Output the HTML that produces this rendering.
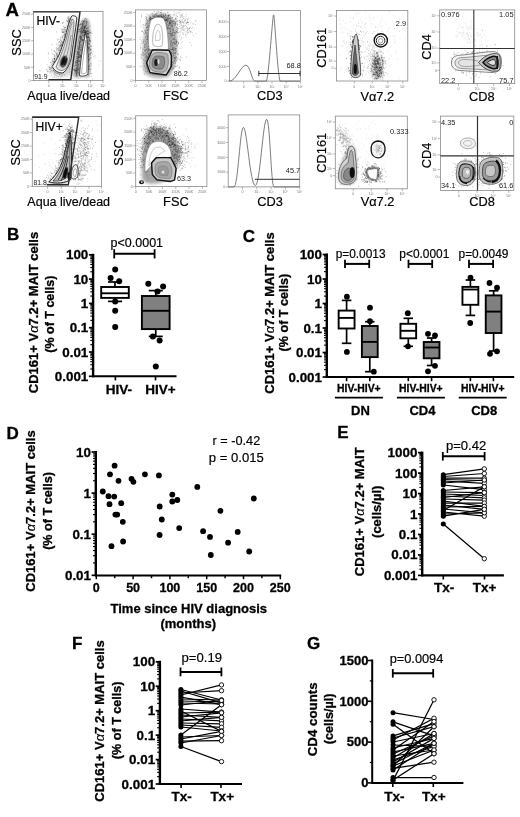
<!DOCTYPE html>
<html><head><meta charset="utf-8"><style>
html,body{margin:0;padding:0;background:#fff;}
body{width:520px;height:817px;overflow:hidden;}
svg{display:block;filter:blur(0.35px);font-family:"Liberation Sans",sans-serif;}
</style></head><body>
<svg width="520" height="817" viewBox="0 0 520 817">
<defs><filter id="b0" x="-60%" y="-60%" width="220%" height="220%"><feGaussianBlur stdDeviation="0.6"/></filter><filter id="b1" x="-60%" y="-60%" width="220%" height="220%"><feGaussianBlur stdDeviation="1.0"/></filter><filter id="b2" x="-60%" y="-60%" width="220%" height="220%"><feGaussianBlur stdDeviation="1.5"/></filter><filter id="b3" x="-60%" y="-60%" width="220%" height="220%"><feGaussianBlur stdDeviation="2.0"/></filter><filter id="b4" x="-60%" y="-60%" width="220%" height="220%"><feGaussianBlur stdDeviation="3.0"/></filter></defs>
<rect width="520" height="817" fill="#fff"/>
<text x="5.6" y="15.9" font-size="18.6" font-weight="bold" text-anchor="start" fill="#000"  stroke="#000" stroke-width="0.3">A</text>
<rect x="33.4" y="11.5" width="69.6" height="69.1" fill="none" stroke="#8a8a8a" stroke-width="0.8" />
<line x1="30.9" y1="14.099999999999994" x2="33.4" y2="14.099999999999994" stroke="#888" stroke-width="0.6" />
<line x1="30.9" y1="27.39999999999999" x2="33.4" y2="27.39999999999999" stroke="#888" stroke-width="0.6" />
<line x1="30.9" y1="40.69999999999999" x2="33.4" y2="40.69999999999999" stroke="#888" stroke-width="0.6" />
<line x1="30.9" y1="53.99999999999999" x2="33.4" y2="53.99999999999999" stroke="#888" stroke-width="0.6" />
<line x1="30.9" y1="67.3" x2="33.4" y2="67.3" stroke="#888" stroke-width="0.6" />
<line x1="30.9" y1="80.6" x2="33.4" y2="80.6" stroke="#888" stroke-width="0.6" />
<text x="30.4" y="15.299999999999994" font-size="3.6" font-weight="normal" text-anchor="end" fill="#777" >250K</text>
<text x="30.4" y="28.59999999999999" font-size="3.6" font-weight="normal" text-anchor="end" fill="#777" >200K</text>
<text x="30.4" y="41.89999999999999" font-size="3.6" font-weight="normal" text-anchor="end" fill="#777" >150K</text>
<text x="30.4" y="55.199999999999996" font-size="3.6" font-weight="normal" text-anchor="end" fill="#777" >100K</text>
<text x="30.4" y="68.5" font-size="3.6" font-weight="normal" text-anchor="end" fill="#777" >50K</text>
<text x="30.4" y="81.8" font-size="3.6" font-weight="normal" text-anchor="end" fill="#777" >0</text>
<line x1="48.711999999999996" y1="80.6" x2="48.711999999999996" y2="83.1" stroke="#888" stroke-width="0.6" />
<text x="48.711999999999996" y="87.1" font-size="3.6" font-weight="normal" text-anchor="middle" fill="#777" >0</text>
<line x1="62.63199999999999" y1="80.6" x2="62.63199999999999" y2="83.1" stroke="#888" stroke-width="0.6" />
<text x="62.63199999999999" y="87.1" font-size="3.6" font-weight="normal" text-anchor="middle" fill="#777" >10³</text>
<line x1="76.55199999999999" y1="80.6" x2="76.55199999999999" y2="83.1" stroke="#888" stroke-width="0.6" />
<text x="76.55199999999999" y="87.1" font-size="3.6" font-weight="normal" text-anchor="middle" fill="#777" >10³</text>
<line x1="90.47199999999998" y1="80.6" x2="90.47199999999998" y2="83.1" stroke="#888" stroke-width="0.6" />
<text x="90.47199999999998" y="87.1" font-size="3.6" font-weight="normal" text-anchor="middle" fill="#777" >10⁴</text>
<line x1="103.0" y1="80.6" x2="103.0" y2="83.1" stroke="#888" stroke-width="0.6" />
<text x="103.0" y="87.1" font-size="3.6" font-weight="normal" text-anchor="middle" fill="#777" >10⁵</text>
<text transform="translate(20.6,42.5) rotate(-90)" font-size="12.8" font-weight="normal" text-anchor="middle" fill="#000"  stroke="#000" stroke-width="0.18">SSC</text>
<text x="68.7" y="100.4" font-size="12.5" font-weight="normal" text-anchor="middle" fill="#000"  stroke="#000" stroke-width="0.18">Aqua live/dead</text>
<text x="36.5" y="25" font-size="12.1" font-weight="normal" text-anchor="start" fill="#000"  stroke="#000" stroke-width="0.18">HIV-</text>
<path d="M64.9 36.8h0.9M60.9 29.2h0.9M53.8 71.8h0.9M62.6 64.3h0.9M56.9 60.6h0.9M68.8 28.1h0.9M57.7 68.4h0.9M62.7 42.1h0.9M67.1 26.6h0.9M54.4 59.6h0.9M66.8 31.6h0.9M62.2 50.3h0.9M54.0 74.0h0.9M62.2 51.3h0.9M59.4 66.1h0.9M63.9 46.2h0.9M70.4 23.5h0.9M63.0 29.2h0.9M63.5 56.2h0.9M66.0 30.6h0.9M71.7 16.6h0.9M61.1 45.1h0.9M62.0 52.6h0.9M60.8 56.4h0.9M55.8 55.0h0.9M61.2 55.7h0.9M64.7 31.7h0.9M57.1 71.5h0.9M56.3 70.1h0.9M56.7 56.8h0.9M71.3 34.3h0.9M69.1 20.9h0.9M68.3 23.0h0.9M55.3 65.1h0.9M61.4 67.5h0.9M56.1 73.1h0.9M65.8 43.9h0.9M60.8 55.7h0.9M65.9 48.6h0.9M62.1 47.5h0.9M67.3 35.4h0.9M60.3 71.5h0.9M60.0 51.8h0.9M66.8 28.8h0.9M65.8 42.6h0.9M58.3 59.8h0.9M59.7 55.7h0.9M61.8 52.6h0.9M49.5 68.8h0.9M56.4 59.0h0.9M66.2 20.3h0.9M64.3 38.0h0.9M54.9 67.4h0.9M67.1 21.1h0.9M63.0 26.4h0.9M68.4 22.5h0.9M69.9 20.9h0.9M62.7 44.1h0.9M57.4 70.4h0.9M68.5 44.8h0.9M61.5 45.9h0.9M57.1 67.0h0.9M61.5 61.5h0.9M59.9 60.8h0.9M63.3 41.4h0.9M71.9 33.0h0.9M62.4 30.8h0.9M70.7 26.0h0.9M61.0 31.9h0.9M58.4 59.6h0.9M56.6 59.6h0.9M60.4 40.5h0.9M61.9 57.9h0.9M53.7 58.6h0.9M53.6 61.8h0.9M66.4 35.8h0.9M63.1 49.7h0.9M67.2 34.9h0.9M63.8 55.2h0.9M55.9 61.7h0.9M66.2 37.9h0.9M68.0 25.6h0.9M61.7 65.2h0.9M67.7 42.4h0.9M51.4 70.8h0.9M61.6 48.0h0.9M56.1 53.2h0.9M53.6 65.2h0.9M58.1 69.0h0.9M54.2 77.2h0.9M59.2 69.9h0.9M70.0 22.4h0.9M68.5 24.1h0.9M62.5 65.8h0.9M62.0 30.9h0.9M58.6 64.4h0.9M54.6 68.0h0.9M68.8 44.3h0.9M59.7 58.0h0.9M61.5 41.9h0.9M64.4 48.3h0.9M60.7 55.3h0.9M69.8 28.7h0.9M62.4 49.0h0.9M70.3 37.3h0.9M67.1 40.8h0.9M74.0 28.5h0.9M64.8 58.3h0.9M67.5 48.4h0.9M64.0 34.7h0.9M60.9 60.9h0.9M61.9 56.3h0.9M73.0 31.0h0.9M60.7 66.0h0.9M60.1 46.9h0.9M56.4 68.9h0.9M68.7 34.8h0.9M63.0 69.0h0.9M56.5 53.5h0.9M63.9 35.1h0.9M63.7 39.6h0.9M68.1 17.3h0.9M63.3 32.0h0.9M51.8 53.9h0.9M70.2 18.1h0.9M54.5 70.9h0.9M60.0 39.8h0.9M67.0 34.7h0.9M53.8 59.2h0.9M68.6 22.7h0.9M59.9 64.1h0.9M63.3 58.8h0.9M63.2 51.7h0.9M57.1 60.4h0.9M53.1 62.2h0.9M69.7 25.4h0.9M67.6 37.2h0.9M57.6 48.7h0.9M68.7 39.4h0.9M66.4 35.1h0.9M47.8 52.9h0.9M69.5 42.6h0.9M61.0 65.5h0.9M62.8 48.0h0.9M59.5 67.9h0.9M67.1 55.4h0.9M67.8 29.0h0.9M64.6 49.9h0.9M65.4 38.3h0.9M61.3 58.1h0.9M54.3 58.8h0.9M53.9 67.0h0.9M62.0 68.8h0.9M70.7 20.8h0.9M68.3 23.8h0.9M67.0 32.1h0.9M68.6 24.8h0.9M67.0 26.9h0.9M66.7 42.6h0.9M55.5 66.4h0.9M68.4 20.3h0.9M52.8 65.7h0.9M62.4 63.0h0.9M60.3 45.0h0.9M60.0 45.6h0.9M59.2 67.5h0.9M65.0 39.6h0.9M62.2 44.6h0.9M64.8 49.5h0.9M55.3 52.4h0.9M58.6 68.6h0.9M73.0 25.7h0.9M49.6 72.2h0.9M64.6 35.7h0.9M71.9 20.2h0.9M62.3 75.2h0.9M58.7 50.4h0.9M60.5 53.1h0.9M61.2 65.8h0.9M63.2 32.3h0.9M65.2 42.0h0.9M71.3 20.5h0.9M56.2 31.9h0.9M61.9 29.3h0.9M62.3 44.2h0.9M64.0 41.7h0.9M64.5 36.0h0.9M60.9 59.5h0.9M57.7 56.7h0.9M63.0 44.8h0.9M64.4 33.9h0.9M57.4 73.5h0.9M56.8 49.0h0.9M58.6 63.1h0.9M65.2 34.1h0.9M67.7 33.0h0.9M62.0 42.6h0.9M63.2 53.6h0.9M53.8 60.3h0.9M61.7 44.4h0.9M63.8 47.2h0.9M58.7 65.5h0.9M57.3 62.7h0.9M59.8 50.7h0.9M71.3 21.3h0.9M54.0 58.3h0.9M61.6 54.5h0.9M56.1 60.7h0.9M57.6 56.3h0.9M55.6 64.8h0.9M60.9 43.8h0.9M74.3 20.5h0.9M66.9 61.6h0.9M69.8 35.4h0.9M62.6 62.7h0.9M67.0 28.0h0.9M55.0 69.3h0.9M68.0 39.7h0.9M54.3 61.9h0.9M73.1 28.6h0.9M57.9 68.2h0.9M67.8 34.8h0.9M52.7 61.4h0.9M69.3 21.0h0.9M58.5 47.5h0.9M65.7 31.4h0.9M59.7 66.6h0.9M60.4 56.7h0.9M68.6 26.3h0.9M48.2 71.2h0.9M68.0 37.5h0.9M49.2 67.8h0.9M54.1 61.9h0.9M64.4 37.1h0.9M50.9 67.7h0.9M54.5 72.1h0.9M59.3 45.4h0.9M55.9 60.1h0.9M68.9 35.4h0.9M64.7 29.7h0.9M68.1 24.7h0.9M55.4 75.3h0.9M69.8 28.9h0.9M70.1 20.2h0.9M61.2 44.7h0.9M58.3 66.0h0.9M60.3 62.6h0.9M57.8 70.3h0.9M57.8 50.5h0.9M65.9 33.9h0.9M63.2 59.1h0.9M57.1 66.0h0.9M57.8 45.1h0.9M54.1 51.6h0.9M61.7 57.1h0.9M70.9 19.3h0.9M57.4 70.6h0.9M60.9 59.0h0.9M49.0 69.3h0.9M56.6 63.9h0.9M61.2 41.5h0.9M61.9 52.8h0.9M62.0 46.4h0.9M68.8 18.7h0.9M68.6 22.1h0.9M65.5 48.5h0.9M56.2 54.9h0.9M61.4 76.3h0.9M63.6 39.4h0.9M68.4 16.6h0.9M65.8 57.3h0.9M60.6 68.3h0.9M57.9 57.8h0.9M63.6 46.3h0.9M68.0 28.6h0.9M68.1 19.0h0.9M68.2 27.1h0.9M54.9 63.1h0.9M68.0 43.2h0.9M66.4 61.2h0.9M57.1 39.9h0.9M48.6 66.3h0.9M69.4 28.7h0.9M66.2 33.8h0.9M55.8 68.0h0.9M62.2 23.0h0.9M73.3 17.1h0.9M68.6 38.8h0.9M61.8 47.6h0.9M60.9 49.8h0.9M56.2 66.5h0.9M63.9 28.8h0.9M57.9 64.0h0.9M59.8 58.3h0.9M59.0 74.5h0.9M62.4 47.6h0.9M72.4 19.1h0.9M72.1 25.5h0.9M57.3 69.2h0.9M57.1 66.3h0.9M46.0 69.5h0.9M51.4 64.4h0.9M69.8 22.5h0.9M51.5 44.6h0.9M69.9 21.4h0.9M59.2 41.5h0.9M64.0 51.4h0.9M63.7 39.9h0.9M70.7 19.7h0.9M64.8 27.6h0.9M69.5 23.0h0.9M53.0 70.5h0.9M59.9 59.9h0.9M57.2 54.7h0.9M62.2 32.4h0.9M67.8 20.1h0.9M71.0 21.0h0.9M70.8 26.9h0.9M70.3 46.7h0.9M59.4 74.2h0.9M57.3 66.8h0.9M55.0 68.9h0.9M63.6 61.5h0.9M65.7 49.6h0.9M70.7 27.5h0.9M61.2 54.7h0.9M65.4 52.4h0.9M56.9 55.7h0.9M57.2 65.4h0.9M61.2 49.0h0.9M70.5 38.4h0.9M61.7 36.9h0.9M67.1 43.4h0.9M66.3 47.2h0.9M59.3 69.7h0.9M56.9 66.0h0.9M67.6 21.7h0.9M61.8 69.0h0.9M51.4 50.1h0.9M69.4 29.6h0.9M60.0 58.4h0.9M63.0 22.4h0.9M68.5 20.0h0.9M69.5 32.3h0.9M67.4 37.7h0.9M60.5 45.8h0.9M63.9 32.1h0.9M68.5 20.4h0.9M65.7 41.3h0.9M70.9 24.8h0.9M66.2 46.6h0.9M68.0 33.7h0.9M67.6 18.4h0.9M55.7 57.6h0.9M60.7 74.8h0.9M72.5 20.6h0.9M64.0 64.9h0.9M67.3 31.6h0.9M59.8 64.8h0.9M58.6 60.2h0.9M70.8 18.7h0.9M59.0 46.6h0.9M60.1 38.0h0.9M53.6 54.5h0.9M71.6 20.0h0.9M64.6 34.1h0.9M62.1 36.6h0.9M72.0 27.1h0.9M60.1 43.1h0.9M72.8 19.7h0.9M61.8 42.4h0.9M52.9 70.9h0.9M61.8 65.9h0.9M66.5 31.6h0.9M56.0 49.8h0.9M61.9 59.5h0.9M54.3 56.1h0.9M61.2 49.9h0.9M62.3 32.4h0.9M68.0 36.1h0.9M76.0 18.3h0.9M65.8 55.8h0.9M64.2 27.2h0.9M52.0 61.3h0.9M61.6 50.5h0.9M52.0 60.0h0.9M54.2 69.2h0.9M58.1 42.3h0.9M60.3 44.9h0.9M59.2 42.0h0.9M59.7 55.7h0.9M65.0 54.2h0.9M54.7 66.8h0.9M70.2 33.1h0.9M57.8 39.1h0.9M57.6 60.6h0.9M68.1 46.5h0.9M74.6 20.8h0.9M70.7 20.2h0.9M71.8 34.6h0.9M68.9 19.4h0.9M54.1 58.8h0.9M65.3 49.3h0.9M55.9 47.9h0.9M54.2 58.7h0.9M64.7 30.7h0.9M63.7 29.6h0.9M61.4 73.1h0.9M67.9 41.4h0.9M54.1 67.3h0.9M58.6 50.0h0.9M70.5 24.3h0.9M56.2 44.1h0.9M58.8 48.0h0.9M64.1 39.8h0.9M63.4 42.2h0.9M62.4 52.2h0.9M53.1 64.1h0.9M66.1 34.6h0.9M52.4 59.0h0.9M63.6 55.8h0.9M64.7 27.5h0.9M70.4 34.9h0.9M71.0 23.0h0.9M64.6 69.5h0.9M59.9 60.4h0.9M70.5 21.7h0.9M51.4 68.6h0.9M50.1 62.6h0.9M66.7 41.4h0.9M47.9 54.0h0.9M68.8 18.6h0.9M47.0 71.7h0.9M70.6 34.9h0.9M61.7 53.1h0.9M62.0 70.4h0.9M56.9 56.5h0.9M63.2 31.9h0.9M69.0 25.1h0.9M65.2 44.5h0.9M59.3 59.9h0.9M67.7 21.6h0.9M67.6 47.3h0.9M60.3 51.7h0.9M67.6 26.0h0.9M53.4 62.1h0.9M63.5 41.1h0.9M62.3 38.0h0.9M53.9 56.1h0.9M61.9 23.7h0.9M56.5 65.3h0.9M54.7 61.4h0.9M59.0 58.5h0.9M66.2 57.2h0.9M61.8 72.4h0.9M71.8 31.5h0.9M71.3 22.1h0.9M53.8 63.2h0.9M70.9 22.1h0.9M66.4 21.2h0.9M70.4 19.6h0.9M56.8 63.9h0.9M69.2 38.4h0.9M65.8 29.5h0.9M58.6 73.2h0.9M59.7 48.8h0.9M60.4 66.0h0.9M55.2 66.0h0.9M61.3 47.1h0.9M57.7 76.4h0.9M66.6 25.8h0.9M68.3 44.2h0.9M70.8 19.2h0.9M59.3 55.7h0.9M60.8 59.7h0.9M53.5 50.6h0.9M70.7 21.4h0.9M69.5 31.3h0.9M62.8 71.9h0.9M69.2 31.9h0.9M59.5 53.5h0.9M49.8 67.2h0.9M64.4 59.2h0.9M56.8 65.2h0.9M65.5 35.8h0.9M53.7 68.1h0.9M63.1 53.7h0.9M63.2 64.4h0.9M65.3 50.0h0.9M67.7 56.5h0.9M62.7 35.0h0.9M62.1 50.5h0.9M61.1 53.5h0.9M70.4 25.2h0.9M54.4 68.5h0.9M61.6 50.5h0.9M59.8 53.0h0.9M50.1 69.0h0.9M67.0 17.8h0.9M57.4 70.6h0.9" stroke="#000" stroke-width="0.9" stroke-opacity="0.35"/>
<path d="M93.2 57.0h0.9M49.1 67.5h0.9M55.6 73.6h0.9M37.9 78.2h0.9M79.6 69.0h0.9M83.9 38.3h0.9M46.8 64.7h0.9M74.3 70.1h0.9M92.3 54.2h0.9M73.6 56.0h0.9M39.6 79.0h0.9M84.3 70.7h0.9M47.6 67.7h0.9M86.5 60.3h0.9M50.9 62.0h0.9M88.6 51.0h0.9M73.6 78.7h0.9M59.6 64.9h0.9M71.0 76.8h0.9M65.4 70.9h0.9M40.1 70.8h0.9M92.0 79.1h0.9M60.1 78.8h0.9M90.9 76.3h0.9M67.0 58.6h0.9M68.2 55.3h0.9M80.7 63.5h0.9M73.7 56.9h0.9M84.2 59.2h0.9M93.9 56.2h0.9M80.7 65.5h0.9M42.1 76.7h0.9M50.6 75.1h0.9M81.9 43.6h0.9M46.5 71.2h0.9M75.9 62.7h0.9M50.0 70.2h0.9M73.9 70.9h0.9M34.2 66.5h0.9M60.5 77.0h0.9M75.3 51.3h0.9M55.4 64.4h0.9M67.1 67.7h0.9M67.7 79.7h0.9M59.6 76.0h0.9M62.6 65.9h0.9M66.8 79.1h0.9M81.4 29.0h0.9M55.1 80.0h0.9M69.2 60.3h0.9M51.6 63.0h0.9M74.0 74.5h0.9M81.3 64.5h0.9M55.4 72.2h0.9M52.4 77.0h0.9M90.3 66.1h0.9M61.7 79.7h0.9M62.7 73.2h0.9M72.8 57.0h0.9M39.3 78.8h0.9M88.3 43.7h0.9M57.1 65.6h0.9M81.8 71.7h0.9M83.5 45.0h0.9M53.1 68.8h0.9M94.5 58.3h0.9M89.8 53.5h0.9M100.3 61.0h0.9M59.3 62.4h0.9M72.4 73.3h0.9M77.3 69.2h0.9M78.3 64.7h0.9M83.7 65.1h0.9M80.1 77.9h0.9M92.7 51.9h0.9M69.2 69.3h0.9M68.6 67.1h0.9M39.0 70.7h0.9M83.5 63.7h0.9M56.3 78.0h0.9M55.2 72.4h0.9M45.9 79.1h0.9M62.6 63.5h0.9M51.3 70.5h0.9M88.8 50.6h0.9M68.7 61.6h0.9M71.9 50.9h0.9M70.0 63.8h0.9M58.1 78.7h0.9M86.2 78.7h0.9M69.2 64.5h0.9M72.7 75.7h0.9M57.2 70.9h0.9M46.7 70.3h0.9M64.0 74.9h0.9M56.7 70.5h0.9M68.8 61.0h0.9M71.6 78.3h0.9M98.6 60.6h0.9M69.0 72.2h0.9M55.1 63.7h0.9M50.0 71.7h0.9M70.5 72.0h0.9M60.5 66.8h0.9M82.5 54.4h0.9M90.9 73.2h0.9M98.5 65.0h0.9M65.0 65.5h0.9M80.9 65.2h0.9M67.5 63.1h0.9M57.5 48.5h0.9M71.4 58.4h0.9M58.7 52.5h0.9M84.5 51.7h0.9M74.1 51.1h0.9M84.6 67.2h0.9M91.2 73.7h0.9M85.7 53.0h0.9M73.5 66.9h0.9M76.5 42.3h0.9M67.6 61.2h0.9M71.8 70.5h0.9M75.0 76.4h0.9M51.6 63.8h0.9M91.4 65.1h0.9M83.4 70.7h0.9M72.3 60.4h0.9M59.4 70.5h0.9M52.3 78.9h0.9M58.4 71.5h0.9M74.1 66.4h0.9M61.0 65.0h0.9M47.7 57.7h0.9M43.9 73.8h0.9M77.9 74.1h0.9M61.6 46.1h0.9M88.8 74.2h0.9M84.8 54.3h0.9M71.5 55.6h0.9M52.4 68.4h0.9M60.0 62.7h0.9M56.3 66.8h0.9M71.5 73.9h0.9M95.2 55.9h0.9M90.8 63.6h0.9M56.4 76.3h0.9M63.8 75.2h0.9M57.0 73.0h0.9M58.7 73.8h0.9M86.6 62.4h0.9" stroke="#000" stroke-width="0.9" stroke-opacity="0.2"/>
<path d="M50,72 C54,60 60,45 66,30 C68,20 72,14 76,16 C78,30 76,50 74,72 C68,78 56,78 50,72 Z" fill="#000" fill-opacity="0.18" filter="url(#b3)" />
<path d="M52.1,66.5 C55,62 57,59 58.5,56.2 C61,50 63,44 64.8,38.8 C67,30 69,22 70.6,18.7 C71.2,16 72.5,15.2 73.5,15.8 C75.5,16 76.9,17 76.9,18 C75.5,30 73,45 71.2,58.5 C69,66 66,71 63,72.9 C58,73.5 54,70 52.1,66.5 Z" fill="#f4f4f4" stroke="#222" stroke-width="0.9" />
<path d="M56,67 C59,60 63,50 66,40 C68,32 70,24 72,19 C73.5,19 74,21 74,23 C73,35 71,50 69.5,60 C68,67 65,70 62,70.5 C59,70.5 57,69 56,67 Z" fill="#ddd" stroke="#444" stroke-width="0.6" />
<path d="M60,66 C62,60 65,52 67.5,42 C69.5,32 71,26 72.3,22 M63,68 C66,60 69,48 71,35" fill="none" stroke="#555" stroke-width="0.5" />
<ellipse cx="63.8" cy="61.5" rx="3.6" ry="6.2" fill="#555" fill-opacity="1" stroke="none" stroke-width="1" transform="rotate(18 63.8 61.5)" filter="url(#b0)"/>
<ellipse cx="63.3" cy="61" rx="1.6" ry="4.5" fill="#111" fill-opacity="1" stroke="none" stroke-width="1" transform="rotate(18 63.3 61)" filter="url(#b0)"/>
<ellipse cx="65.6" cy="61.8" rx="0.9" ry="3.8" fill="#111" fill-opacity="1" stroke="none" stroke-width="1" transform="rotate(18 65.6 61.8)" filter="url(#b0)"/>
<path d="M73.5,77 C75,60 77,40 80,24 C82,18 87,16 89.5,22 C91,35 91,60 89.5,77 Z" fill="#333" fill-opacity="0.4" filter="url(#b1)" />
<path d="M83.5 28.8h0.9M87.1 59.1h0.9M87.3 48.3h0.9M85.9 23.7h0.9M76.9 62.0h0.9M85.9 69.3h0.9M85.1 36.3h0.9M79.7 37.2h0.9M79.8 36.3h0.9M88.1 56.5h0.9M85.5 32.2h0.9M77.8 65.4h0.9M81.1 40.8h0.9M87.3 45.6h0.9M77.2 46.2h0.9M79.2 25.9h0.9M79.8 57.8h0.9M87.3 66.6h0.9M81.4 33.3h0.9M77.7 64.6h0.9M81.6 39.6h0.9M79.4 55.5h0.9M83.8 23.5h0.9M79.7 57.2h0.9M88.8 37.4h0.9M76.0 69.1h0.9M78.2 48.5h0.9M87.9 33.4h0.9M88.7 43.8h0.9M82.3 26.0h0.9M87.0 63.4h0.9M89.1 39.6h0.9M80.4 37.4h0.9M74.6 70.0h0.9M90.3 63.9h0.9M89.4 46.7h0.9M75.7 64.9h0.9M82.6 35.3h0.9M85.7 40.7h0.9M83.4 32.9h0.9M74.0 53.1h0.9M77.8 56.7h0.9M86.8 48.2h0.9M85.7 25.0h0.9M79.0 46.6h0.9M76.5 70.7h0.9M80.6 38.1h0.9M84.4 29.0h0.9M87.4 42.4h0.9M90.1 49.5h0.9M85.0 33.4h0.9M86.0 57.6h0.9M83.4 39.5h0.9M82.9 31.8h0.9M85.2 32.0h0.9M78.9 46.0h0.9M90.5 57.5h0.9M87.3 42.7h0.9M77.4 53.6h0.9M75.8 69.8h0.9M86.7 34.9h0.9M78.3 49.7h0.9M87.9 35.6h0.9M79.0 57.4h0.9M89.2 39.0h0.9M86.3 22.0h0.9M76.9 62.9h0.9M87.8 47.9h0.9M86.4 32.9h0.9M85.2 26.8h0.9M76.1 67.6h0.9M80.1 30.9h0.9M86.7 37.2h0.9M83.7 32.1h0.9M83.3 29.2h0.9M79.9 24.8h0.9M82.3 23.9h0.9M78.2 49.8h0.9M83.2 43.9h0.9M89.5 29.8h0.9M79.2 41.3h0.9M85.9 69.5h0.9M86.7 40.9h0.9M76.3 70.6h0.9M87.4 62.9h0.9M91.2 46.2h0.9M81.9 50.2h0.9M80.9 51.3h0.9M85.9 28.7h0.9M84.0 34.8h0.9M81.9 31.6h0.9M88.0 69.9h0.9M90.5 49.5h0.9M83.6 21.4h0.9M89.3 65.8h0.9M80.6 62.6h0.9M84.7 30.5h0.9M76.6 56.9h0.9M90.1 46.0h0.9M89.0 40.6h0.9M75.0 73.0h0.9M87.9 59.5h0.9M87.5 30.2h0.9M82.5 36.4h0.9M75.3 30.2h0.9M87.8 36.8h0.9M83.9 27.4h0.9M77.4 69.4h0.9M79.1 52.3h0.9M84.1 29.3h0.9M85.8 54.0h0.9M84.2 34.4h0.9M79.0 42.8h0.9M81.5 24.9h0.9M85.8 19.6h0.9M84.1 35.4h0.9M81.3 54.4h0.9M84.0 37.6h0.9M90.5 69.2h0.9M83.9 46.5h0.9M83.4 22.0h0.9M84.9 39.3h0.9M84.3 20.6h0.9M86.5 21.9h0.9M84.3 32.8h0.9M79.3 43.7h0.9M81.7 33.6h0.9M79.0 43.5h0.9M74.9 70.8h0.9M88.6 47.3h0.9M76.1 62.0h0.9M86.9 33.5h0.9M86.4 62.5h0.9M83.9 34.5h0.9M84.1 26.5h0.9M87.0 43.7h0.9M78.7 61.1h0.9M87.5 43.2h0.9M86.1 34.0h0.9M81.0 45.6h0.9M87.3 33.3h0.9M77.6 61.0h0.9M82.8 33.2h0.9M84.6 21.4h0.9M77.7 59.4h0.9M86.3 50.4h0.9M73.0 69.3h0.9M84.9 54.2h0.9M89.7 58.5h0.9M77.9 53.9h0.9M78.3 55.9h0.9M88.8 65.2h0.9M79.7 60.7h0.9M84.1 37.3h0.9M88.1 34.0h0.9M89.0 68.7h0.9M79.6 56.4h0.9M74.7 68.8h0.9M76.8 72.3h0.9M87.6 56.1h0.9M82.7 30.7h0.9M85.4 30.8h0.9M86.3 31.3h0.9M80.9 37.8h0.9M78.8 56.6h0.9M83.6 27.8h0.9M82.7 27.0h0.9M87.9 48.7h0.9M76.8 51.3h0.9M78.5 67.7h0.9M89.7 42.0h0.9M79.6 31.7h0.9M86.1 36.1h0.9M79.7 37.1h0.9M76.6 54.8h0.9M84.9 37.2h0.9M79.5 53.9h0.9M88.2 55.9h0.9M86.3 31.0h0.9M85.2 27.3h0.9M82.4 40.7h0.9M83.2 27.1h0.9M88.5 49.2h0.9M88.4 40.8h0.9M85.5 22.7h0.9M88.7 32.7h0.9M76.4 71.4h0.9M74.0 70.0h0.9M80.5 39.8h0.9M76.5 60.6h0.9M82.1 27.8h0.9M79.7 43.0h0.9M86.7 31.0h0.9M76.8 52.3h0.9M74.7 72.0h0.9M81.1 37.8h0.9M80.0 39.1h0.9M79.9 50.1h0.9M81.1 45.3h0.9M80.0 36.7h0.9M87.6 46.7h0.9M85.5 33.8h0.9M85.9 21.7h0.9M87.7 27.6h0.9M87.7 60.9h0.9M81.0 55.9h0.9M76.7 62.7h0.9M75.3 71.2h0.9M79.9 56.1h0.9M74.4 70.8h0.9M85.5 25.3h0.9M80.8 47.8h0.9M88.2 37.7h0.9M79.0 48.2h0.9M81.4 21.4h0.9M79.5 44.6h0.9M87.7 57.4h0.9M74.5 65.7h0.9M87.7 37.5h0.9M78.6 29.4h0.9M89.7 32.2h0.9M79.8 49.5h0.9M82.3 32.2h0.9M84.7 31.7h0.9M76.8 68.5h0.9M77.9 40.7h0.9M90.9 53.1h0.9M77.8 59.1h0.9M86.6 38.5h0.9M87.8 31.6h0.9M82.6 24.1h0.9M76.8 53.7h0.9M84.6 33.9h0.9M84.5 30.5h0.9M83.0 30.4h0.9M86.9 51.3h0.9M85.5 34.0h0.9M80.0 42.0h0.9M81.9 40.2h0.9M86.7 59.3h0.9M84.5 27.1h0.9M77.6 78.3h0.9M86.7 50.3h0.9M78.7 42.1h0.9M88.0 39.7h0.9M86.8 37.8h0.9M83.4 24.9h0.9M88.2 66.8h0.9M87.9 53.9h0.9M75.0 62.6h0.9M81.9 30.1h0.9M89.8 32.2h0.9M81.4 24.0h0.9M80.1 56.0h0.9M86.3 42.4h0.9M79.6 63.3h0.9M89.4 54.0h0.9M85.8 25.2h0.9M77.8 56.9h0.9M76.4 68.6h0.9M84.0 30.6h0.9M88.3 44.1h0.9M87.3 51.4h0.9M77.1 60.4h0.9M88.9 59.5h0.9M87.3 56.6h0.9M82.7 28.5h0.9M87.8 66.8h0.9M87.5 62.6h0.9M87.6 31.6h0.9M86.2 28.5h0.9M83.2 25.9h0.9M87.2 55.3h0.9M84.4 32.2h0.9M75.1 61.7h0.9M83.3 30.4h0.9M84.0 36.1h0.9M88.7 58.6h0.9M87.0 34.1h0.9M77.4 48.4h0.9M87.6 36.7h0.9M78.1 39.1h0.9M81.0 47.8h0.9M89.6 71.2h0.9M87.9 60.1h0.9M87.3 31.4h0.9M89.4 33.4h0.9M82.0 24.2h0.9M80.7 29.1h0.9M89.5 50.4h0.9M76.5 72.1h0.9M84.7 37.9h0.9M80.2 41.3h0.9M78.0 73.0h0.9M87.6 33.1h0.9M76.1 62.6h0.9M91.3 33.3h0.9M85.7 54.5h0.9M76.3 56.7h0.9M87.5 43.9h0.9M81.2 49.5h0.9M78.1 68.4h0.9M83.2 35.4h0.9M90.3 32.2h0.9M76.3 72.8h0.9M84.2 28.6h0.9M87.8 41.6h0.9M81.3 32.4h0.9M86.4 70.5h0.9M81.9 39.4h0.9M84.0 38.2h0.9M80.8 27.5h0.9M88.0 47.4h0.9M87.3 28.1h0.9M87.9 60.6h0.9M89.0 44.3h0.9M89.6 26.1h0.9M80.7 64.8h0.9M77.4 58.4h0.9M87.3 51.9h0.9M77.4 52.2h0.9M78.6 61.6h0.9M90.0 53.6h0.9M85.8 59.8h0.9M86.3 35.9h0.9M77.6 32.8h0.9M77.7 47.0h0.9M82.4 29.0h0.9M81.5 32.5h0.9M78.7 52.4h0.9M88.2 55.1h0.9M84.7 31.0h0.9M88.2 48.8h0.9M78.9 54.5h0.9M83.6 32.5h0.9M79.1 60.8h0.9M78.4 72.9h0.9M75.9 58.7h0.9M76.9 52.2h0.9M90.5 52.3h0.9M73.6 69.3h0.9M78.7 44.2h0.9M87.5 68.4h0.9M87.5 36.8h0.9M76.1 73.8h0.9M79.2 20.4h0.9M79.8 50.9h0.9M79.1 37.6h0.9M82.2 20.6h0.9M78.4 52.8h0.9M78.4 30.8h0.9M81.1 36.7h0.9M79.5 47.4h0.9M85.5 32.2h0.9M90.5 50.6h0.9M84.4 32.3h0.9M75.6 65.0h0.9M83.2 21.8h0.9M86.2 36.2h0.9M84.8 32.1h0.9M80.1 55.9h0.9M78.7 29.4h0.9M78.5 64.9h0.9M77.4 57.7h0.9M80.5 32.6h0.9M86.8 40.1h0.9M77.7 69.4h0.9M79.0 29.7h0.9M83.0 21.3h0.9M77.6 66.5h0.9M84.9 58.8h0.9M89.0 48.2h0.9M90.1 73.2h0.9M77.1 54.3h0.9M79.7 46.1h0.9M81.4 26.7h0.9M79.2 54.6h0.9M86.7 37.1h0.9M79.8 55.1h0.9M77.8 61.7h0.9M80.2 64.8h0.9M84.6 27.6h0.9M86.3 35.2h0.9M84.5 31.0h0.9M77.1 70.4h0.9M88.2 74.7h0.9M89.6 40.5h0.9M86.3 28.5h0.9M74.7 70.4h0.9M87.1 44.0h0.9M81.9 39.9h0.9M80.3 31.6h0.9M76.6 75.9h0.9M89.7 40.9h0.9M79.3 36.2h0.9M75.9 77.1h0.9M89.8 69.5h0.9M82.8 31.3h0.9M78.1 70.9h0.9M78.5 31.5h0.9M77.8 57.6h0.9M81.5 28.3h0.9M85.4 18.5h0.9M76.0 60.7h0.9M84.1 32.2h0.9M78.1 61.0h0.9M81.7 30.9h0.9M80.1 28.3h0.9M76.5 65.5h0.9M87.6 30.5h0.9M82.3 40.8h0.9M80.6 38.5h0.9M84.1 27.4h0.9M77.9 57.6h0.9M77.3 67.2h0.9M87.8 54.3h0.9M80.9 39.4h0.9M84.3 26.0h0.9M75.9 70.5h0.9M88.0 69.4h0.9M84.1 26.9h0.9M85.4 47.1h0.9M81.4 55.7h0.9M80.2 29.3h0.9M85.9 31.6h0.9M75.3 63.3h0.9M88.5 37.5h0.9M77.7 63.5h0.9M82.5 40.8h0.9M88.9 38.5h0.9M86.4 57.4h0.9M87.0 47.1h0.9M78.5 47.6h0.9M89.8 41.3h0.9M88.9 67.1h0.9M83.1 30.2h0.9M82.3 32.1h0.9M80.2 23.9h0.9M89.8 55.2h0.9M84.8 26.0h0.9M86.8 53.6h0.9M90.5 49.0h0.9M80.0 24.2h0.9M82.1 35.4h0.9M79.0 24.8h0.9M78.5 69.5h0.9M84.4 18.9h0.9M79.3 57.4h0.9M87.8 34.3h0.9M80.1 68.8h0.9" stroke="#000" stroke-width="0.9" stroke-opacity="0.38"/>
<path d="M79.5,75.5 C80.5,62 82,50 85.8,32 C87.5,40 88.3,55 88,74 C85,76.5 82,76.5 79.5,75.5 Z" fill="#fff" stroke="#222" stroke-width="0.8" />
<path d="M81.5,73.5 C82.5,63 84,52 86,40 C86.7,50 86.8,60 86.5,72.5 C84.5,74 83,74 81.5,73.5 Z" fill="#fff" stroke="#666" stroke-width="0.5" />
<path d="M76.5,76 C77.5,60 79.5,42 83,22" fill="none" stroke="#444" stroke-width="0.6" />
<path d="M33.4,11.9 L80,11.9 L70.8,79.6 L48.5,79.6" fill="none" stroke="#2a2a2a" stroke-width="1.4" />
<text x="34.3" y="78.6" font-size="6.8" font-weight="normal" text-anchor="start" fill="#222" >91.9</text>
<rect x="135.4" y="9.9" width="71.1" height="70.5" fill="none" stroke="#8a8a8a" stroke-width="0.8" />
<line x1="132.9" y1="12.5" x2="135.4" y2="12.5" stroke="#888" stroke-width="0.6" />
<line x1="132.9" y1="26.08" x2="135.4" y2="26.08" stroke="#888" stroke-width="0.6" />
<line x1="132.9" y1="39.66" x2="135.4" y2="39.66" stroke="#888" stroke-width="0.6" />
<line x1="132.9" y1="53.24" x2="135.4" y2="53.24" stroke="#888" stroke-width="0.6" />
<line x1="132.9" y1="66.82000000000001" x2="135.4" y2="66.82000000000001" stroke="#888" stroke-width="0.6" />
<line x1="132.9" y1="80.4" x2="135.4" y2="80.4" stroke="#888" stroke-width="0.6" />
<text x="132.4" y="13.7" font-size="3.6" font-weight="normal" text-anchor="end" fill="#777" >250K</text>
<text x="132.4" y="27.279999999999998" font-size="3.6" font-weight="normal" text-anchor="end" fill="#777" >200K</text>
<text x="132.4" y="40.86" font-size="3.6" font-weight="normal" text-anchor="end" fill="#777" >150K</text>
<text x="132.4" y="54.440000000000005" font-size="3.6" font-weight="normal" text-anchor="end" fill="#777" >100K</text>
<text x="132.4" y="68.02000000000001" font-size="3.6" font-weight="normal" text-anchor="end" fill="#777" >50K</text>
<text x="132.4" y="81.60000000000001" font-size="3.6" font-weight="normal" text-anchor="end" fill="#777" >0</text>
<line x1="135.4" y1="80.4" x2="135.4" y2="82.9" stroke="#888" stroke-width="0.6" />
<text x="135.4" y="86.9" font-size="3.6" font-weight="normal" text-anchor="middle" fill="#777" >0</text>
<line x1="148.72" y1="80.4" x2="148.72" y2="82.9" stroke="#888" stroke-width="0.6" />
<text x="148.72" y="86.9" font-size="3.6" font-weight="normal" text-anchor="middle" fill="#777" >50K</text>
<line x1="162.04" y1="80.4" x2="162.04" y2="82.9" stroke="#888" stroke-width="0.6" />
<text x="162.04" y="86.9" font-size="3.6" font-weight="normal" text-anchor="middle" fill="#777" >100K</text>
<line x1="175.36" y1="80.4" x2="175.36" y2="82.9" stroke="#888" stroke-width="0.6" />
<text x="175.36" y="86.9" font-size="3.6" font-weight="normal" text-anchor="middle" fill="#777" >150K</text>
<line x1="188.68" y1="80.4" x2="188.68" y2="82.9" stroke="#888" stroke-width="0.6" />
<text x="188.68" y="86.9" font-size="3.6" font-weight="normal" text-anchor="middle" fill="#777" >200K</text>
<line x1="202.0" y1="80.4" x2="202.0" y2="82.9" stroke="#888" stroke-width="0.6" />
<text x="202.0" y="86.9" font-size="3.6" font-weight="normal" text-anchor="middle" fill="#777" >250K</text>
<text transform="translate(122.8,42.5) rotate(-90)" font-size="12.8" font-weight="normal" text-anchor="middle" fill="#000"  stroke="#000" stroke-width="0.18">SSC</text>
<text x="175.7" y="100.3" font-size="12.8" font-weight="normal" text-anchor="middle" fill="#000"  stroke="#000" stroke-width="0.18">FSC</text>
<path d="M144,72 C142,55 143,35 147,20 C150,13 160,12 168,15 C176,20 178,35 177,50 C176,62 174,72 168,77 C158,79 148,78 144,72 Z" fill="#000" fill-opacity="0.32" filter="url(#b2)" />
<path d="M152.3 36.1h0.8M150.8 19.8h0.8M147.9 50.7h0.8M147.7 51.0h0.8M171.1 52.5h0.8M172.5 42.8h0.8M146.7 27.3h0.8M151.6 57.0h0.8M154.0 74.3h0.8M168.8 18.2h0.8M144.1 50.3h0.8M148.0 64.2h0.8M173.1 50.2h0.8M172.0 33.1h0.8M171.2 45.3h0.8M166.1 54.8h0.8M158.5 22.1h0.8M149.3 49.6h0.8M179.4 59.5h0.8M150.2 19.2h0.8M170.3 32.9h0.8M155.8 37.4h0.8M156.6 20.2h0.8M168.8 62.4h0.8M176.5 32.0h0.8M168.5 31.2h0.8M165.5 59.5h0.8M171.8 49.2h0.8M170.7 65.2h0.8M163.2 15.9h0.8M165.1 26.2h0.8M160.7 14.5h0.8M158.2 21.1h0.8M148.5 50.9h0.8M174.9 49.3h0.8M146.4 23.6h0.8M148.7 35.9h0.8M157.4 17.4h0.8M170.1 31.4h0.8M162.3 67.5h0.8M173.5 35.8h0.8M151.3 30.2h0.8M162.8 14.4h0.8M140.7 43.6h0.8M175.9 45.0h0.8M153.0 23.0h0.8M176.6 46.4h0.8M172.1 26.7h0.8M151.6 46.2h0.8M157.7 19.7h0.8M153.2 19.8h0.8M145.0 37.2h0.8M173.3 50.0h0.8M147.1 36.9h0.8M150.2 17.5h0.8M147.7 20.4h0.8M153.6 54.4h0.8M157.5 22.9h0.8M180.3 39.8h0.8M178.2 42.7h0.8M169.8 18.8h0.8M155.6 20.5h0.8M152.0 48.2h0.8M170.1 20.9h0.8M164.5 23.5h0.8M156.4 13.2h0.8M158.2 22.6h0.8M170.6 64.2h0.8M175.2 43.8h0.8M169.1 15.3h0.8M139.6 37.3h0.8M178.9 67.7h0.8M148.3 58.1h0.8M152.9 38.2h0.8M171.4 42.8h0.8M176.4 60.4h0.8M168.5 59.9h0.8M160.6 19.6h0.8M165.4 67.7h0.8M154.9 62.5h0.8M174.0 43.5h0.8M173.4 48.7h0.8M155.1 23.3h0.8M172.0 34.1h0.8M153.7 30.9h0.8M147.4 41.9h0.8M149.0 34.7h0.8M161.1 16.6h0.8M150.4 48.3h0.8M149.9 40.8h0.8M151.4 29.5h0.8M176.3 41.9h0.8M171.8 47.2h0.8M174.3 21.7h0.8M152.4 44.5h0.8M154.7 17.8h0.8M171.7 26.5h0.8M151.0 36.5h0.8M164.8 19.6h0.8M148.0 65.3h0.8M147.4 21.4h0.8M176.2 31.5h0.8M144.2 33.8h0.8M145.0 31.0h0.8M160.6 14.2h0.8M170.8 62.4h0.8M179.0 36.7h0.8M156.4 13.2h0.8M167.8 20.1h0.8M171.8 49.7h0.8M147.5 26.6h0.8M154.1 15.9h0.8M147.0 34.0h0.8M158.7 60.2h0.8M166.7 30.1h0.8M160.9 19.4h0.8M152.3 18.6h0.8M158.2 17.0h0.8M146.4 63.4h0.8M172.3 61.4h0.8M161.2 16.4h0.8M148.2 37.5h0.8M155.4 21.6h0.8M173.6 66.3h0.8M150.6 31.4h0.8M151.2 42.1h0.8M180.0 59.1h0.8M150.3 31.1h0.8M153.1 66.9h0.8M174.5 61.2h0.8M142.4 49.4h0.8M153.0 36.1h0.8M159.1 19.6h0.8M147.3 42.1h0.8M151.3 18.9h0.8M167.9 44.9h0.8M140.5 47.5h0.8M153.1 54.6h0.8M154.0 17.9h0.8M146.1 46.1h0.8M152.6 34.3h0.8M174.3 34.8h0.8M144.3 54.7h0.8M148.6 27.4h0.8M174.6 19.4h0.8M164.6 24.5h0.8M151.3 19.2h0.8M170.0 45.0h0.8M154.8 20.3h0.8M170.5 43.3h0.8M149.6 56.5h0.8M159.3 17.0h0.8M171.9 33.3h0.8M175.7 42.2h0.8M141.2 58.6h0.8M147.1 22.7h0.8M148.5 54.6h0.8M174.0 47.8h0.8M178.0 43.6h0.8M170.8 34.9h0.8M164.3 70.7h0.8M176.9 23.9h0.8M167.0 46.2h0.8M176.4 66.5h0.8M168.3 25.6h0.8M172.3 22.1h0.8M143.0 59.5h0.8M143.4 60.9h0.8M145.8 17.6h0.8M170.0 49.3h0.8M151.1 32.1h0.8M150.9 37.5h0.8M172.7 28.9h0.8M168.3 16.4h0.8M145.8 60.3h0.8M149.0 56.6h0.8M175.9 42.8h0.8M170.3 57.1h0.8M140.7 26.1h0.8M165.1 28.0h0.8M170.3 31.2h0.8M171.8 21.5h0.8M168.6 33.4h0.8M151.3 38.3h0.8M144.4 47.4h0.8M163.5 62.2h0.8M153.0 27.5h0.8M153.2 23.8h0.8M174.9 50.3h0.8M153.9 66.9h0.8M176.9 41.5h0.8M175.5 53.4h0.8M174.1 38.4h0.8M158.9 22.0h0.8M166.5 50.6h0.8M174.3 39.6h0.8M150.3 26.9h0.8M153.0 59.8h0.8M145.8 24.2h0.8M155.3 58.3h0.8M152.1 45.6h0.8M157.6 11.8h0.8M143.9 40.1h0.8M147.3 38.3h0.8M154.1 22.1h0.8M148.8 40.0h0.8M149.9 17.1h0.8M164.6 13.6h0.8M149.4 42.9h0.8M145.5 29.9h0.8M161.4 21.2h0.8M145.9 57.4h0.8M170.0 23.0h0.8M148.0 48.7h0.8M155.2 65.0h0.8M151.7 55.9h0.8M139.9 45.7h0.8M146.4 53.6h0.8M155.5 57.1h0.8M172.7 47.4h0.8M174.8 24.4h0.8M170.1 61.3h0.8M173.3 55.1h0.8M152.6 24.3h0.8M155.9 18.4h0.8M157.9 17.7h0.8M177.4 53.7h0.8M162.1 16.9h0.8M151.6 21.3h0.8M172.7 39.8h0.8M164.1 19.8h0.8M171.1 41.2h0.8M163.8 18.0h0.8M150.4 31.5h0.8M178.8 66.6h0.8M142.6 39.8h0.8M153.8 17.6h0.8M149.2 21.9h0.8M147.0 33.2h0.8M170.5 63.2h0.8M145.4 71.3h0.8M150.9 64.9h0.8M155.4 21.0h0.8M164.5 35.1h0.8M175.1 58.7h0.8M151.1 19.2h0.8M141.3 16.1h0.8M166.4 28.3h0.8M163.2 18.0h0.8M153.6 14.8h0.8M155.2 26.2h0.8M169.0 33.4h0.8M173.8 50.1h0.8M170.0 51.2h0.8M158.2 20.9h0.8M174.3 58.1h0.8M172.4 66.0h0.8M153.0 64.7h0.8M142.6 53.2h0.8M158.6 19.7h0.8M148.4 49.0h0.8M148.7 65.8h0.8M171.5 52.3h0.8M164.4 19.1h0.8M175.4 52.5h0.8M168.5 71.7h0.8M151.6 66.4h0.8M157.8 20.6h0.8M169.1 29.2h0.8M152.0 67.3h0.8M173.5 49.4h0.8M173.4 42.5h0.8M170.1 35.0h0.8M151.1 26.1h0.8M162.4 18.2h0.8M141.1 54.8h0.8M151.0 59.4h0.8M160.7 15.8h0.8M151.2 42.0h0.8M158.5 16.0h0.8M145.7 55.8h0.8M155.4 22.1h0.8M143.4 54.9h0.8M152.3 22.7h0.8M174.5 14.9h0.8M174.9 55.0h0.8M168.2 19.9h0.8M153.7 65.5h0.8M161.2 14.4h0.8M169.0 48.5h0.8M150.0 19.6h0.8M160.3 21.8h0.8M171.5 22.4h0.8M177.7 58.0h0.8M176.5 42.0h0.8M140.6 66.9h0.8M167.4 21.0h0.8M145.5 31.2h0.8M147.7 38.3h0.8M162.5 18.1h0.8M154.4 14.8h0.8M166.5 20.4h0.8M149.1 35.2h0.8M150.2 22.6h0.8M146.2 19.1h0.8M175.0 62.0h0.8M180.5 48.2h0.8M170.2 34.1h0.8M155.8 15.6h0.8M166.3 20.3h0.8M146.0 64.1h0.8M171.6 64.2h0.8M151.9 61.1h0.8M149.0 56.5h0.8M173.3 58.3h0.8M158.4 17.1h0.8M154.5 19.4h0.8M175.5 51.2h0.8M152.8 18.7h0.8M143.3 24.9h0.8M157.1 18.7h0.8M160.4 25.2h0.8M165.2 27.6h0.8M159.6 21.6h0.8M171.0 20.0h0.8M159.2 15.6h0.8M175.1 52.6h0.8M166.3 25.2h0.8M167.1 27.8h0.8M174.2 57.4h0.8M174.3 65.0h0.8M153.1 46.4h0.8M151.6 33.3h0.8M158.6 17.1h0.8M151.9 18.5h0.8M170.5 49.4h0.8M155.2 16.5h0.8M177.2 30.7h0.8M153.2 32.0h0.8M165.7 56.8h0.8M172.8 68.6h0.8M165.1 15.6h0.8M170.5 66.4h0.8M150.7 26.3h0.8M167.8 36.4h0.8M152.4 68.4h0.8M147.1 46.0h0.8M163.0 14.9h0.8M175.1 57.7h0.8M152.1 19.9h0.8M172.6 52.1h0.8M177.2 65.4h0.8M150.4 68.2h0.8M149.5 63.5h0.8M162.7 23.2h0.8M161.2 17.0h0.8M152.2 18.5h0.8M148.3 46.4h0.8M168.3 17.2h0.8M148.3 15.3h0.8M166.8 58.1h0.8M167.6 12.1h0.8M165.3 17.9h0.8M178.4 42.6h0.8M144.2 74.2h0.8M146.0 65.6h0.8M151.2 37.0h0.8M174.8 58.6h0.8M166.1 19.3h0.8M164.1 20.0h0.8M148.2 63.8h0.8M145.6 18.3h0.8M141.6 57.2h0.8M149.6 18.1h0.8M144.9 25.4h0.8M145.3 68.1h0.8M160.8 19.2h0.8M144.1 30.6h0.8M157.2 17.0h0.8M162.4 25.6h0.8M144.1 45.7h0.8M147.2 20.6h0.8M159.4 20.0h0.8M155.3 14.0h0.8M151.4 18.2h0.8M150.8 49.5h0.8M173.8 60.1h0.8M166.6 17.1h0.8M176.1 48.6h0.8M167.7 34.0h0.8M163.0 23.0h0.8M153.8 55.1h0.8M166.7 49.1h0.8M146.6 58.0h0.8M170.8 61.8h0.8M170.7 37.8h0.8M152.0 15.8h0.8M145.5 50.1h0.8M151.0 59.0h0.8M145.9 23.6h0.8M153.2 17.1h0.8M169.1 28.8h0.8M176.5 45.0h0.8M148.1 25.8h0.8M173.3 55.7h0.8M151.5 41.7h0.8M160.8 20.1h0.8M165.5 61.8h0.8M159.9 19.7h0.8M176.1 57.4h0.8M170.3 57.8h0.8M166.9 18.1h0.8M155.6 48.8h0.8M154.7 17.3h0.8M173.8 22.5h0.8M173.8 39.8h0.8M164.2 35.4h0.8M170.0 22.7h0.8M159.2 17.2h0.8M153.1 36.3h0.8M158.7 20.4h0.8M153.6 66.3h0.8M153.1 49.0h0.8M176.3 40.1h0.8M141.6 31.4h0.8M143.7 47.3h0.8M171.5 34.9h0.8M157.9 16.4h0.8M173.3 21.2h0.8M165.4 53.7h0.8M150.8 25.0h0.8M158.4 19.5h0.8M168.5 61.7h0.8M163.4 22.0h0.8M175.6 33.1h0.8M146.1 55.6h0.8M149.9 47.1h0.8M154.2 23.1h0.8M153.7 65.2h0.8M149.8 35.2h0.8M165.6 20.4h0.8M150.7 20.0h0.8M145.8 33.7h0.8M145.2 53.7h0.8M170.6 41.5h0.8M154.2 62.7h0.8M175.0 18.8h0.8M167.5 40.8h0.8M172.4 49.8h0.8M173.6 35.4h0.8M173.0 38.6h0.8M169.6 18.1h0.8M154.8 17.7h0.8M162.0 18.0h0.8M146.9 37.3h0.8M169.8 60.0h0.8M172.8 23.6h0.8M170.9 36.1h0.8M170.6 35.3h0.8M169.8 51.8h0.8M172.3 49.4h0.8M178.8 67.8h0.8M149.8 50.5h0.8M174.2 60.9h0.8M174.6 37.7h0.8M151.7 13.3h0.8M156.3 27.5h0.8M151.9 31.3h0.8M163.3 16.6h0.8M167.3 19.7h0.8M140.4 57.1h0.8M152.9 63.7h0.8M164.4 20.4h0.8M170.3 23.8h0.8M156.3 61.7h0.8M158.1 27.3h0.8M151.7 14.8h0.8M176.9 45.3h0.8M147.5 29.5h0.8M171.8 43.6h0.8M158.6 22.3h0.8M159.3 20.8h0.8M173.3 68.4h0.8M152.0 64.4h0.8M174.0 53.3h0.8M147.8 69.2h0.8M148.2 41.2h0.8M176.3 57.8h0.8M144.6 51.0h0.8M150.8 65.7h0.8M168.3 16.0h0.8M173.4 63.5h0.8M162.6 15.7h0.8M157.9 25.6h0.8M161.6 16.9h0.8M141.8 55.1h0.8M152.4 20.5h0.8M174.8 66.4h0.8M143.4 63.7h0.8M158.2 23.2h0.8M172.0 48.7h0.8M164.0 22.5h0.8M168.5 14.1h0.8M174.0 32.5h0.8M159.7 15.9h0.8M144.9 62.0h0.8M161.9 37.1h0.8M175.6 42.1h0.8M152.2 53.9h0.8M141.4 31.0h0.8M164.9 21.0h0.8M154.4 67.0h0.8M161.1 17.9h0.8M145.7 20.7h0.8M149.7 25.6h0.8M178.2 54.5h0.8M149.8 28.4h0.8M160.5 16.0h0.8M149.1 18.4h0.8M149.8 54.6h0.8M155.7 56.5h0.8M156.0 22.2h0.8M167.6 18.2h0.8M143.0 53.0h0.8M154.8 21.5h0.8M149.1 29.7h0.8M162.6 20.8h0.8M170.9 21.8h0.8M150.2 17.1h0.8M144.7 60.3h0.8M142.5 24.7h0.8M171.6 64.5h0.8M175.0 56.6h0.8M166.4 35.6h0.8M165.1 13.9h0.8M146.8 49.2h0.8M175.2 60.2h0.8M175.3 48.4h0.8M168.7 24.7h0.8M147.0 59.5h0.8M143.2 32.8h0.8M171.3 69.2h0.8M150.6 31.7h0.8M147.6 30.3h0.8M152.2 38.1h0.8M140.5 54.7h0.8M149.2 20.2h0.8M168.0 28.0h0.8M168.9 71.1h0.8M172.3 49.1h0.8M149.3 30.5h0.8M172.1 64.9h0.8M147.5 25.2h0.8M152.5 23.9h0.8M169.9 43.3h0.8M172.5 35.5h0.8M169.0 38.1h0.8M159.3 18.6h0.8M181.3 42.7h0.8M147.5 64.7h0.8M169.6 68.1h0.8M172.4 43.2h0.8M176.3 51.9h0.8M147.1 71.7h0.8M175.4 41.3h0.8M151.3 60.6h0.8M152.6 16.6h0.8M154.0 22.5h0.8M145.6 22.1h0.8M151.0 31.6h0.8M167.7 15.7h0.8M150.9 63.9h0.8M170.4 45.2h0.8M157.1 16.1h0.8M174.7 48.9h0.8M152.1 20.0h0.8M163.0 19.5h0.8M181.3 30.1h0.8M172.0 39.3h0.8M165.9 24.1h0.8M172.5 47.6h0.8M169.1 22.7h0.8M151.0 43.1h0.8M153.0 37.3h0.8M167.3 28.5h0.8M147.6 54.1h0.8M142.3 53.1h0.8M153.7 65.6h0.8M141.1 41.0h0.8M151.9 31.9h0.8M143.9 65.6h0.8M173.3 20.2h0.8M150.1 23.0h0.8M152.5 21.7h0.8M152.1 41.5h0.8M171.8 53.8h0.8M155.7 16.3h0.8M173.2 56.1h0.8M156.6 21.4h0.8M146.7 52.6h0.8M168.4 56.2h0.8M175.9 40.9h0.8M144.7 50.7h0.8M168.9 22.0h0.8M161.0 19.5h0.8M168.1 32.9h0.8M176.7 24.8h0.8M166.0 20.4h0.8M157.6 64.9h0.8M170.0 52.5h0.8M148.7 54.6h0.8M159.8 12.7h0.8M166.6 20.0h0.8M141.2 15.1h0.8M181.5 57.4h0.8M174.4 23.1h0.8M175.1 48.3h0.8M170.4 24.5h0.8M169.4 15.5h0.8M146.2 56.5h0.8M144.9 16.6h0.8M167.9 70.6h0.8M147.8 60.5h0.8M171.5 25.7h0.8M147.9 61.5h0.8M162.9 26.0h0.8M149.6 19.0h0.8M173.4 53.8h0.8M171.4 27.9h0.8M152.9 35.3h0.8M149.7 20.1h0.8M149.2 19.3h0.8M155.0 19.3h0.8M148.5 38.7h0.8M162.5 13.3h0.8M172.4 30.2h0.8M171.9 69.0h0.8M176.0 56.4h0.8M146.9 48.0h0.8M170.2 31.0h0.8M156.3 17.0h0.8M171.1 63.7h0.8M142.6 66.2h0.8M144.7 46.8h0.8M142.0 31.5h0.8M164.2 16.1h0.8M150.5 52.5h0.8M173.3 30.5h0.8M171.2 33.3h0.8M156.9 23.7h0.8M147.3 57.1h0.8M162.6 22.2h0.8M168.7 66.8h0.8M175.4 44.0h0.8M146.6 36.3h0.8M171.1 53.3h0.8M162.5 17.3h0.8M150.4 45.6h0.8M156.8 15.9h0.8M153.6 65.3h0.8M171.8 45.0h0.8M146.5 35.6h0.8M148.6 18.3h0.8M165.1 14.6h0.8M179.7 35.1h0.8M166.6 28.2h0.8M177.7 32.9h0.8M160.8 17.0h0.8M151.4 21.4h0.8M157.6 24.8h0.8M170.4 53.7h0.8M166.2 16.1h0.8M160.4 19.3h0.8M147.9 57.0h0.8M153.4 16.5h0.8M158.9 24.4h0.8M177.3 58.9h0.8M152.8 67.5h0.8M175.0 23.5h0.8M151.6 25.2h0.8M167.7 49.2h0.8M148.7 47.0h0.8M153.0 25.9h0.8M139.8 39.6h0.8M180.0 56.7h0.8M149.3 38.6h0.8M157.8 11.6h0.8M153.7 56.4h0.8M155.5 14.5h0.8M170.2 16.5h0.8M167.8 59.5h0.8M147.7 53.7h0.8M160.9 19.2h0.8M152.5 60.7h0.8M147.0 39.6h0.8M169.3 39.4h0.8M150.2 17.9h0.8M169.8 52.1h0.8M174.3 33.2h0.8M175.1 63.4h0.8M146.0 39.4h0.8M147.1 63.2h0.8M170.6 23.6h0.8M171.8 32.7h0.8M167.0 22.1h0.8M168.2 25.5h0.8M150.2 43.5h0.8M144.7 44.5h0.8M174.2 24.7h0.8M154.0 11.4h0.8M151.7 13.7h0.8M153.6 39.6h0.8M152.5 58.0h0.8M152.9 25.8h0.8M168.6 18.5h0.8M143.8 66.8h0.8M165.0 48.2h0.8M168.4 28.3h0.8M152.6 61.9h0.8M146.7 59.2h0.8M167.7 58.7h0.8M149.5 18.2h0.8M149.6 15.9h0.8M164.7 20.7h0.8M172.2 62.6h0.8M173.6 52.5h0.8M173.8 32.4h0.8M149.8 55.2h0.8M155.9 21.2h0.8M156.2 19.5h0.8M175.9 61.0h0.8M175.3 39.8h0.8M155.7 47.0h0.8M147.5 23.1h0.8M161.6 27.3h0.8M174.8 62.9h0.8M169.4 21.9h0.8M170.6 17.4h0.8M149.4 34.7h0.8M152.9 56.4h0.8M160.9 12.7h0.8M164.8 18.9h0.8M157.9 19.7h0.8M164.2 42.2h0.8M167.2 12.5h0.8M166.9 29.7h0.8M166.6 53.4h0.8M159.4 19.2h0.8M141.9 51.7h0.8M151.7 70.0h0.8M172.2 17.6h0.8M144.9 57.4h0.8M142.5 43.2h0.8M147.5 30.7h0.8M145.1 32.8h0.8M160.2 15.7h0.8M158.4 16.7h0.8M167.8 46.4h0.8M160.4 66.8h0.8M162.4 25.9h0.8M147.6 39.4h0.8M153.3 38.5h0.8M171.5 62.7h0.8M169.9 41.9h0.8M158.4 67.1h0.8M153.3 50.6h0.8M169.9 14.5h0.8M143.2 68.9h0.8M170.4 40.7h0.8M148.1 42.5h0.8M172.6 23.7h0.8M165.1 24.7h0.8M177.9 70.5h0.8M152.3 40.9h0.8M146.9 56.9h0.8M161.8 17.5h0.8M143.0 41.2h0.8M172.3 67.7h0.8M153.0 16.3h0.8M173.1 32.0h0.8M176.6 26.8h0.8M173.7 61.2h0.8M147.5 24.0h0.8M171.9 35.7h0.8M166.0 57.8h0.8M153.3 33.5h0.8M152.7 23.8h0.8M166.5 33.3h0.8M182.7 30.5h0.8M175.9 50.1h0.8M174.1 57.6h0.8M147.8 49.8h0.8M151.4 27.6h0.8M151.0 24.6h0.8M151.5 37.6h0.8M165.6 18.8h0.8M166.9 24.4h0.8M143.1 42.1h0.8M152.0 74.4h0.8M146.4 27.6h0.8M150.4 59.3h0.8M151.1 19.2h0.8M141.1 17.4h0.8M164.3 20.5h0.8M149.1 57.7h0.8M146.8 58.9h0.8M150.3 19.3h0.8M173.7 67.4h0.8M150.0 44.6h0.8M168.6 15.2h0.8M156.5 50.0h0.8M154.2 72.2h0.8M176.1 42.2h0.8M175.5 30.7h0.8M168.8 56.8h0.8M172.6 62.8h0.8M173.5 62.9h0.8M158.9 21.1h0.8M164.9 23.3h0.8M168.4 61.6h0.8M170.1 63.0h0.8M167.5 26.3h0.8M171.8 21.3h0.8M165.3 23.5h0.8M151.3 20.3h0.8M153.4 33.9h0.8M153.4 19.9h0.8M152.0 56.6h0.8M145.9 43.8h0.8M167.1 17.9h0.8M150.4 27.8h0.8M145.1 24.8h0.8M142.5 49.1h0.8M156.4 16.2h0.8M175.0 32.7h0.8M164.4 27.4h0.8M149.0 20.5h0.8M149.5 18.3h0.8M140.2 48.2h0.8M163.8 16.7h0.8M152.7 64.6h0.8M152.5 30.9h0.8M160.7 16.1h0.8M150.8 33.8h0.8M166.1 26.0h0.8M148.1 53.1h0.8M142.9 27.6h0.8M164.8 20.4h0.8M146.4 19.6h0.8M174.2 44.4h0.8M146.1 27.6h0.8M149.7 46.8h0.8M167.1 21.7h0.8M139.3 66.1h0.8M160.0 19.2h0.8M169.2 23.5h0.8M158.4 15.3h0.8M151.7 58.0h0.8M151.2 64.8h0.8M153.2 49.4h0.8M153.3 53.3h0.8M165.5 34.9h0.8M150.1 22.9h0.8M164.7 17.3h0.8M176.3 59.0h0.8M153.1 15.0h0.8M169.8 26.3h0.8M152.2 44.8h0.8M169.4 28.5h0.8M147.8 49.6h0.8M148.3 70.2h0.8M174.4 44.0h0.8M165.6 20.4h0.8M154.6 43.3h0.8M154.0 16.1h0.8M164.4 20.6h0.8M151.2 52.4h0.8M160.1 21.7h0.8M158.1 15.9h0.8M166.0 20.2h0.8M146.6 16.3h0.8M170.8 22.5h0.8M146.2 32.6h0.8M161.2 18.8h0.8M162.4 15.8h0.8M148.2 54.6h0.8M171.1 49.4h0.8M146.8 26.0h0.8M173.5 53.4h0.8M176.6 29.1h0.8M165.8 33.9h0.8M161.0 18.5h0.8M165.2 15.5h0.8M155.5 24.5h0.8M170.3 37.3h0.8M154.3 44.5h0.8M169.5 23.5h0.8M167.7 15.0h0.8M148.6 59.7h0.8M156.6 25.0h0.8M175.2 66.6h0.8M169.2 22.8h0.8M180.2 60.6h0.8M176.9 29.9h0.8M150.6 22.8h0.8M173.7 16.0h0.8M150.0 22.6h0.8M176.5 32.4h0.8M155.2 57.7h0.8M176.0 43.4h0.8M155.3 14.8h0.8M157.0 19.5h0.8M142.5 42.1h0.8M147.1 51.2h0.8M177.4 54.8h0.8M148.9 16.5h0.8M169.5 25.5h0.8M151.0 55.5h0.8M142.6 55.3h0.8M168.0 15.5h0.8M186.1 56.9h0.8M153.0 61.3h0.8M156.4 20.7h0.8M170.7 67.7h0.8M145.3 41.5h0.8M145.6 49.3h0.8M166.7 18.4h0.8M151.6 22.7h0.8M174.5 57.9h0.8M145.8 17.5h0.8M150.8 20.2h0.8M150.8 19.8h0.8M165.4 22.8h0.8M146.1 49.9h0.8M169.7 63.7h0.8M157.5 21.7h0.8M158.7 16.9h0.8M171.7 35.4h0.8M148.7 60.4h0.8M148.7 64.0h0.8M170.0 33.5h0.8M161.2 10.6h0.8M165.7 51.3h0.8M164.9 60.2h0.8M153.8 56.0h0.8M153.4 18.9h0.8M173.4 21.4h0.8M158.7 16.8h0.8M145.1 32.3h0.8M166.6 27.6h0.8M146.8 39.9h0.8M174.3 21.3h0.8M146.6 14.4h0.8M170.3 29.7h0.8M160.3 20.2h0.8M177.9 43.8h0.8M170.2 46.7h0.8M169.0 60.1h0.8M148.5 27.8h0.8M162.4 23.4h0.8M163.1 16.0h0.8M162.1 23.2h0.8M162.7 22.0h0.8M154.3 25.9h0.8M156.5 15.1h0.8M146.9 27.2h0.8M155.1 23.5h0.8M166.7 37.5h0.8M156.8 18.5h0.8M151.0 59.7h0.8M166.3 19.7h0.8M153.8 69.4h0.8M163.6 35.3h0.8M169.9 20.9h0.8M146.1 43.4h0.8M151.7 19.5h0.8M146.6 29.8h0.8M149.8 14.3h0.8M157.5 16.4h0.8M146.5 60.5h0.8M155.8 29.2h0.8M174.9 53.4h0.8M148.9 63.4h0.8M144.4 44.2h0.8M175.6 31.3h0.8M168.3 18.1h0.8M165.5 19.6h0.8M160.4 12.6h0.8M175.0 23.5h0.8M169.9 20.4h0.8M166.2 39.1h0.8M140.0 21.3h0.8M175.0 59.2h0.8M171.5 20.9h0.8M167.1 19.7h0.8M173.5 42.4h0.8M147.1 36.2h0.8M167.8 27.4h0.8M157.5 18.2h0.8M171.8 45.8h0.8" stroke="#000" stroke-width="0.8" stroke-opacity="0.36"/>
<path d="M181.3 38.4h0.9M187.6 19.9h0.9M166.2 26.2h0.9M179.2 20.6h0.9M181.6 25.3h0.9M166.3 25.9h0.9M190.2 27.3h0.9M174.6 25.7h0.9M176.6 29.4h0.9M179.0 26.4h0.9M180.7 15.6h0.9M173.9 23.6h0.9M187.8 32.3h0.9M175.3 33.8h0.9M162.3 25.0h0.9M177.6 32.5h0.9M185.6 31.9h0.9M187.9 30.1h0.9M180.0 21.9h0.9M171.7 25.2h0.9M190.8 45.2h0.9M192.1 32.8h0.9M188.8 29.1h0.9M183.7 22.1h0.9M187.1 27.7h0.9M168.8 22.2h0.9M171.5 25.2h0.9M182.8 34.7h0.9M184.6 25.5h0.9M176.6 19.1h0.9M182.2 17.2h0.9M186.5 28.3h0.9M174.6 20.8h0.9M172.6 26.8h0.9M177.0 16.9h0.9M185.8 16.6h0.9M172.9 24.2h0.9M179.6 23.0h0.9M182.4 22.4h0.9M177.1 21.1h0.9M186.0 23.5h0.9M176.8 21.5h0.9M180.2 31.9h0.9M172.2 20.1h0.9M166.4 22.6h0.9M182.9 33.7h0.9M186.1 14.7h0.9M180.0 17.3h0.9M178.4 12.6h0.9M180.9 25.2h0.9M175.5 17.8h0.9M188.3 18.1h0.9M180.3 16.1h0.9M174.5 24.1h0.9M182.9 28.2h0.9M175.2 25.0h0.9M184.8 34.3h0.9M183.5 25.7h0.9M175.8 13.3h0.9M181.4 20.1h0.9M188.1 24.7h0.9M178.5 21.0h0.9M176.0 15.6h0.9M181.3 14.5h0.9M186.1 26.5h0.9M181.4 28.2h0.9M181.4 27.9h0.9M174.8 22.1h0.9M171.5 18.0h0.9M176.9 12.9h0.9M169.4 35.3h0.9M185.5 22.3h0.9M195.4 20.4h0.9M184.5 21.0h0.9M170.1 28.0h0.9M189.1 28.0h0.9M186.3 23.2h0.9M169.9 18.1h0.9M183.4 18.2h0.9M190.7 31.9h0.9M187.1 30.4h0.9M183.6 21.2h0.9M181.9 14.0h0.9M192.8 35.4h0.9M177.2 25.0h0.9M168.3 23.7h0.9M189.7 42.6h0.9M171.9 29.4h0.9M183.6 32.2h0.9M186.9 22.6h0.9M180.8 15.7h0.9M171.4 25.2h0.9M172.3 21.9h0.9M172.5 14.9h0.9M167.4 21.4h0.9M170.2 23.2h0.9M182.2 15.9h0.9M179.7 28.7h0.9M174.1 42.4h0.9M173.7 11.9h0.9M181.3 37.6h0.9M183.4 29.7h0.9M172.4 30.4h0.9M195.2 21.4h0.9M187.7 29.0h0.9M180.5 27.8h0.9M181.1 22.0h0.9M182.4 26.7h0.9M187.7 22.4h0.9M175.7 22.2h0.9M185.4 25.9h0.9M181.4 16.9h0.9M185.8 37.2h0.9M175.0 22.7h0.9M176.4 20.7h0.9M180.0 21.8h0.9M169.7 18.2h0.9M182.3 19.5h0.9M169.6 19.6h0.9M174.0 14.4h0.9M174.2 20.0h0.9M187.7 32.3h0.9M183.4 23.3h0.9M178.9 12.8h0.9M190.4 32.0h0.9M182.8 26.3h0.9M175.6 27.8h0.9M187.0 22.5h0.9M173.1 21.6h0.9M185.1 19.9h0.9M184.7 19.7h0.9M183.4 27.0h0.9M184.4 30.2h0.9M189.8 33.1h0.9M182.9 25.4h0.9M192.0 27.4h0.9M195.3 33.5h0.9M182.0 41.2h0.9M172.8 14.2h0.9M175.4 19.2h0.9M181.7 20.9h0.9M164.5 31.0h0.9M179.4 32.1h0.9M176.0 21.4h0.9M171.6 26.0h0.9M179.4 24.2h0.9M164.3 17.2h0.9M188.7 28.5h0.9M190.1 31.3h0.9M186.9 29.0h0.9M169.3 24.3h0.9M164.1 25.3h0.9M182.0 32.8h0.9M184.5 20.2h0.9M176.8 28.0h0.9M179.7 21.4h0.9M164.8 29.4h0.9M175.9 31.8h0.9M171.9 18.2h0.9M180.7 23.9h0.9M160.5 16.5h0.9M169.9 28.1h0.9M195.1 24.6h0.9M172.5 23.2h0.9M183.3 18.3h0.9M192.6 24.3h0.9M193.5 29.1h0.9M175.9 19.4h0.9M175.4 22.8h0.9M176.8 16.4h0.9M179.4 18.0h0.9M180.1 22.5h0.9M186.9 21.1h0.9M177.4 28.4h0.9M181.6 21.8h0.9M175.4 17.8h0.9M182.8 22.5h0.9M186.9 19.3h0.9M192.6 23.4h0.9M189.2 31.2h0.9M189.2 28.3h0.9M186.4 34.0h0.9M178.1 28.5h0.9M173.1 28.9h0.9M173.3 39.5h0.9M178.6 20.6h0.9M191.4 28.8h0.9M169.0 23.1h0.9M179.9 25.9h0.9M176.2 23.8h0.9M185.4 35.2h0.9M176.9 31.9h0.9M169.5 20.6h0.9M183.6 16.8h0.9M167.9 15.8h0.9M176.7 27.3h0.9M190.4 22.7h0.9M182.0 27.1h0.9M184.7 28.4h0.9M176.2 27.8h0.9M175.0 18.7h0.9M188.2 22.7h0.9M177.4 24.9h0.9M186.8 22.4h0.9M179.8 10.6h0.9M182.2 29.5h0.9M186.7 31.1h0.9M166.5 15.6h0.9M179.0 22.4h0.9M187.1 33.0h0.9M175.1 21.8h0.9M171.6 17.8h0.9M175.0 24.9h0.9M185.5 23.9h0.9M186.4 18.4h0.9M174.4 26.2h0.9M171.9 20.6h0.9M179.7 19.8h0.9M187.6 22.1h0.9M179.4 14.5h0.9" stroke="#000" stroke-width="0.9" stroke-opacity="0.25"/>
<path d="M149,49 C148,40 148,30 150.5,21 C153,16.5 160,16.5 163.5,18.5 C167,24 168,35 168.5,49 C162,51 155,51 149,49 Z" fill="#fff" stroke="#777" stroke-width="0.6" />
<path d="M153,45 C152,38 153,30 156,25 C159,23 161,25 162,30 C163,36 163,42 162,46 C159,47 156,47 153,45 Z" fill="none" stroke="#888" stroke-width="0.6" />
<path d="M155.5,41 C155,36 156,32 158,30 C160,31 160.5,35 160,40 Z" fill="none" stroke="#999" stroke-width="0.5" />
<path d="M152.5,50.3 C156.2,48.3 165.8,49.8 168.9,50.7 C172.0,51.7 170.8,53.4 171.1,56.0 C171.4,58.6 171.7,63.3 170.8,66.4 C170.0,69.5 169.4,73.6 166.0,74.6 C162.6,75.6 153.4,74.4 150.3,72.4 C147.1,70.4 146.6,66.4 147.0,62.7 C147.3,59.0 148.8,52.3 152.5,50.3 Z" fill="#d8d8d8" stroke="#444" stroke-width="0.7" />
<path d="M153.7,53.2 C156.6,51.6 164.0,52.8 166.4,53.5 C168.8,54.3 167.9,55.6 168.1,57.6 C168.4,59.6 168.6,63.2 167.9,65.6 C167.2,68.0 166.8,71.2 164.1,72.0 C161.5,72.8 154.4,71.8 152.0,70.3 C149.6,68.7 149.2,65.6 149.4,62.8 C149.7,59.9 150.9,54.7 153.7,53.2 Z" fill="#b0b0b0" stroke="#555" stroke-width="0.5" />
<path d="M154.9,56.5 C156.8,55.4 161.8,56.2 163.3,56.7 C164.9,57.2 164.3,58.1 164.5,59.4 C164.7,60.7 164.8,63.1 164.3,64.8 C163.9,66.3 163.6,68.5 161.8,69.0 C160.1,69.5 155.4,68.9 153.8,67.8 C152.1,66.8 151.9,64.8 152.1,62.9 C152.2,61.0 153.0,57.5 154.9,56.5 Z" fill="#8a8a8a" stroke="#444" stroke-width="0.5" />
<ellipse cx="156" cy="62.5" rx="1.8" ry="3.5" fill="#1a1a1a" fill-opacity="1" stroke="none" stroke-width="1" filter="url(#b0)"/>
<ellipse cx="158.5" cy="61.5" rx="1.0" ry="2.5" fill="#ddd" fill-opacity="1" stroke="none" stroke-width="1" filter="url(#b0)"/>
<path d="M152.3,49.9 L169.2,50.4 L171.5,55.8 L171.2,66.5 L166.2,75.0 L150.0,72.7 L146.6,62.7 Z" fill="none" stroke="#111" stroke-width="1.3" />
<text x="173.8" y="75.8" font-size="7.2" font-weight="normal" text-anchor="start" fill="#222" >86.2</text>
<rect x="229.5" y="10.4" width="70.89999999999998" height="70.69999999999999" fill="none" stroke="#8a8a8a" stroke-width="0.8" />
<line x1="227.0" y1="81.1" x2="229.5" y2="81.1" stroke="#888" stroke-width="0.6" />
<line x1="227.0" y1="66.3" x2="229.5" y2="66.3" stroke="#888" stroke-width="0.6" />
<line x1="227.0" y1="51.49999999999999" x2="229.5" y2="51.49999999999999" stroke="#888" stroke-width="0.6" />
<line x1="227.0" y1="36.69999999999999" x2="229.5" y2="36.69999999999999" stroke="#888" stroke-width="0.6" />
<line x1="227.0" y1="21.89999999999999" x2="229.5" y2="21.89999999999999" stroke="#888" stroke-width="0.6" />
<text x="226.5" y="82.3" font-size="3.6" font-weight="normal" text-anchor="end" fill="#777" >0</text>
<text x="226.5" y="67.5" font-size="3.6" font-weight="normal" text-anchor="end" fill="#777" >1000</text>
<text x="226.5" y="52.699999999999996" font-size="3.6" font-weight="normal" text-anchor="end" fill="#777" >2000</text>
<text x="226.5" y="37.89999999999999" font-size="3.6" font-weight="normal" text-anchor="end" fill="#777" >3000</text>
<text x="226.5" y="23.09999999999999" font-size="3.6" font-weight="normal" text-anchor="end" fill="#777" >4000</text>
<line x1="243.68" y1="81.1" x2="243.68" y2="83.6" stroke="#888" stroke-width="0.6" />
<text x="243.68" y="87.6" font-size="3.6" font-weight="normal" text-anchor="middle" fill="#777" >0</text>
<line x1="257.86" y1="81.1" x2="257.86" y2="83.6" stroke="#888" stroke-width="0.6" />
<text x="257.86" y="87.6" font-size="3.6" font-weight="normal" text-anchor="middle" fill="#777" >10³</text>
<line x1="272.03999999999996" y1="81.1" x2="272.03999999999996" y2="83.6" stroke="#888" stroke-width="0.6" />
<text x="272.03999999999996" y="87.6" font-size="3.6" font-weight="normal" text-anchor="middle" fill="#777" >10³</text>
<line x1="286.21999999999997" y1="81.1" x2="286.21999999999997" y2="83.6" stroke="#888" stroke-width="0.6" />
<text x="286.21999999999997" y="87.6" font-size="3.6" font-weight="normal" text-anchor="middle" fill="#777" >10⁴</text>
<line x1="300.4" y1="81.1" x2="300.4" y2="83.6" stroke="#888" stroke-width="0.6" />
<text x="300.4" y="87.6" font-size="3.6" font-weight="normal" text-anchor="middle" fill="#777" >10⁵</text>
<text x="269.8" y="100.3" font-size="12.8" font-weight="normal" text-anchor="middle" fill="#000"  stroke="#000" stroke-width="0.18">CD3</text>
<path d="M229.5,81.1 C236,81.1 241,65.2 245.8,65.2 C250.5,65.2 251.5,81.1 255,81.1 L266.5,81.1 C269,72 271.5,30 273.3,15.5 Q273.6,14.2 273.9,15.5 C275.5,30 277.5,72 280,81.1 L300,81.1" fill="none" stroke="#666" stroke-width="0.85" />
<line x1="258.8" y1="73.5" x2="300.2" y2="73.5" stroke="#333" stroke-width="1.0" />
<line x1="258.8" y1="70.8" x2="258.8" y2="76.2" stroke="#333" stroke-width="1.0" />
<line x1="300" y1="70.8" x2="300" y2="76.2" stroke="#333" stroke-width="1.0" />
<text x="286.5" y="68" font-size="7.4" font-weight="normal" text-anchor="start" fill="#222" >68.8</text>
<rect x="336.5" y="10.4" width="71.30000000000001" height="70.6" fill="none" stroke="#8a8a8a" stroke-width="0.8" />
<line x1="334.0" y1="16.048000000000002" x2="336.5" y2="16.048000000000002" stroke="#888" stroke-width="0.6" />
<line x1="334.0" y1="31.58" x2="336.5" y2="31.58" stroke="#888" stroke-width="0.6" />
<line x1="334.0" y1="47.111999999999995" x2="336.5" y2="47.111999999999995" stroke="#888" stroke-width="0.6" />
<line x1="334.0" y1="61.23199999999999" x2="336.5" y2="61.23199999999999" stroke="#888" stroke-width="0.6" />
<line x1="334.0" y1="68.29199999999999" x2="336.5" y2="68.29199999999999" stroke="#888" stroke-width="0.6" />
<text x="333.5" y="17.248" font-size="3.6" font-weight="normal" text-anchor="end" fill="#777" >10⁵</text>
<text x="333.5" y="32.78" font-size="3.6" font-weight="normal" text-anchor="end" fill="#777" >10⁴</text>
<text x="333.5" y="48.312" font-size="3.6" font-weight="normal" text-anchor="end" fill="#777" >10³</text>
<text x="333.5" y="62.431999999999995" font-size="3.6" font-weight="normal" text-anchor="end" fill="#777" >10²</text>
<text x="333.5" y="69.49199999999999" font-size="3.6" font-weight="normal" text-anchor="end" fill="#777" >0</text>
<line x1="354.325" y1="81.0" x2="354.325" y2="83.5" stroke="#888" stroke-width="0.6" />
<text x="354.325" y="87.5" font-size="3.6" font-weight="normal" text-anchor="middle" fill="#777" >0</text>
<line x1="372.15" y1="81.0" x2="372.15" y2="83.5" stroke="#888" stroke-width="0.6" />
<text x="372.15" y="87.5" font-size="3.6" font-weight="normal" text-anchor="middle" fill="#777" >10³</text>
<line x1="387.836" y1="81.0" x2="387.836" y2="83.5" stroke="#888" stroke-width="0.6" />
<text x="387.836" y="87.5" font-size="3.6" font-weight="normal" text-anchor="middle" fill="#777" >10⁴</text>
<line x1="402.809" y1="81.0" x2="402.809" y2="83.5" stroke="#888" stroke-width="0.6" />
<text x="402.809" y="87.5" font-size="3.6" font-weight="normal" text-anchor="middle" fill="#777" >10⁵</text>
<text transform="translate(326,47.8) rotate(-90)" font-size="12.8" font-weight="normal" text-anchor="middle" fill="#000"  stroke="#000" stroke-width="0.18">CD161</text>
<text x="377.3" y="100.5" font-size="12.8" font-weight="normal" text-anchor="middle" fill="#000"  stroke="#000" stroke-width="0.18">Vα7.2</text>
<path d="M357.1 33.4h0.9M363.7 25.7h0.9M343.0 20.4h0.9M372.9 31.9h0.9M343.8 41.0h0.9M353.7 37.4h0.9M358.1 23.2h0.9M368.7 61.9h0.9M354.9 29.2h0.9M350.6 44.6h0.9M342.5 42.3h0.9M344.2 72.2h0.9M367.0 41.8h0.9M390.2 47.2h0.9M372.9 24.3h0.9M384.2 41.8h0.9M341.5 45.5h0.9M358.2 34.2h0.9M385.2 34.9h0.9M354.1 40.0h0.9M373.1 46.4h0.9M376.4 41.0h0.9M376.6 30.8h0.9M357.7 27.0h0.9M350.0 21.7h0.9M360.6 46.2h0.9M369.2 14.8h0.9M347.3 50.1h0.9M362.3 43.6h0.9M381.9 54.3h0.9M381.6 52.4h0.9M346.2 42.2h0.9M360.1 26.6h0.9M339.7 18.3h0.9M353.4 52.0h0.9M372.3 56.5h0.9M381.7 18.0h0.9M377.6 58.6h0.9M376.6 56.1h0.9M380.6 26.0h0.9M394.4 35.5h0.9M368.5 45.0h0.9M352.6 27.9h0.9M368.2 33.4h0.9M354.9 29.6h0.9M387.1 31.2h0.9M357.7 13.8h0.9M371.0 70.7h0.9M363.7 36.0h0.9M361.2 32.7h0.9M396.9 59.1h0.9M377.0 32.8h0.9M372.5 44.3h0.9M356.6 62.9h0.9M389.0 58.7h0.9M353.3 25.2h0.9M348.8 30.8h0.9M353.5 48.8h0.9M393.9 28.5h0.9M398.5 78.5h0.9M365.8 49.0h0.9M352.7 46.9h0.9M367.1 42.2h0.9M356.2 33.0h0.9M356.9 40.1h0.9M353.4 49.6h0.9M378.9 52.2h0.9M398.9 19.1h0.9M381.7 20.1h0.9M358.2 26.4h0.9M388.8 11.5h0.9M348.9 45.8h0.9M362.4 28.6h0.9M364.7 52.0h0.9M343.1 40.8h0.9M340.9 28.1h0.9M353.8 42.5h0.9M350.5 41.5h0.9M370.9 23.9h0.9M345.6 29.4h0.9M374.1 50.6h0.9M392.4 36.7h0.9M404.6 30.8h0.9M362.4 52.4h0.9M343.5 50.9h0.9M373.6 55.6h0.9M370.1 20.1h0.9M378.3 46.7h0.9M361.4 63.8h0.9M361.2 32.0h0.9M373.2 37.6h0.9M377.2 27.3h0.9M361.5 40.5h0.9M360.1 38.8h0.9M404.7 39.8h0.9M381.6 31.3h0.9M388.2 37.8h0.9M399.5 38.0h0.9M388.2 27.8h0.9M372.4 47.4h0.9M340.1 70.3h0.9M370.5 48.2h0.9M391.5 64.7h0.9M362.4 31.5h0.9M364.3 65.9h0.9M346.1 50.3h0.9M369.3 55.1h0.9M388.3 43.1h0.9M356.0 42.9h0.9M352.2 46.6h0.9M365.4 23.6h0.9M379.5 42.7h0.9M360.2 19.8h0.9M372.5 33.5h0.9M360.6 35.3h0.9M351.4 31.3h0.9M370.4 25.9h0.9M380.3 22.4h0.9M394.1 43.0h0.9M364.3 51.4h0.9M378.4 24.8h0.9M399.1 31.4h0.9M368.9 17.3h0.9M353.2 18.7h0.9M365.3 34.6h0.9M360.4 44.0h0.9M346.2 42.1h0.9M365.2 43.4h0.9M395.5 52.3h0.9M343.8 27.3h0.9M351.8 57.1h0.9M359.7 57.8h0.9M393.2 15.7h0.9M373.1 18.3h0.9M367.3 41.9h0.9M378.7 51.6h0.9M394.0 39.8h0.9M364.7 24.6h0.9M384.7 41.6h0.9M347.6 33.6h0.9M354.9 46.5h0.9M373.8 31.7h0.9M376.5 47.8h0.9M355.0 36.3h0.9M368.9 46.6h0.9M372.3 59.4h0.9M383.0 36.7h0.9M374.8 70.1h0.9M375.0 35.4h0.9M351.4 49.6h0.9M354.7 53.4h0.9M385.7 42.1h0.9M364.8 23.2h0.9M381.5 31.2h0.9M342.2 32.3h0.9M379.2 38.2h0.9M390.0 36.3h0.9M360.7 26.8h0.9M353.2 49.7h0.9M357.7 12.1h0.9M377.8 50.2h0.9M370.7 45.6h0.9M360.5 79.1h0.9M340.7 68.1h0.9M370.5 56.5h0.9M348.7 53.1h0.9M373.9 61.9h0.9M339.6 54.8h0.9M375.9 40.7h0.9M355.0 36.4h0.9M383.2 62.1h0.9M388.1 60.1h0.9M353.2 59.2h0.9M387.3 50.9h0.9M345.6 47.6h0.9M375.5 47.0h0.9M353.0 18.2h0.9M379.6 50.2h0.9M360.4 45.7h0.9M394.6 42.1h0.9M385.4 23.8h0.9M346.9 33.8h0.9M389.0 54.9h0.9M365.2 12.9h0.9M344.6 23.0h0.9M348.2 52.2h0.9M376.5 45.6h0.9M373.6 45.5h0.9M350.4 52.7h0.9M391.0 56.0h0.9M366.9 31.4h0.9M348.8 35.5h0.9M339.0 20.7h0.9M348.4 42.8h0.9M365.4 27.6h0.9M364.4 33.1h0.9M360.0 54.9h0.9M363.2 32.1h0.9M339.7 24.0h0.9M358.2 22.9h0.9M374.8 27.0h0.9M375.2 26.8h0.9M361.4 23.1h0.9M370.2 51.8h0.9M355.6 32.1h0.9M362.7 41.5h0.9M361.2 41.2h0.9M354.6 43.0h0.9M344.2 43.1h0.9M372.2 49.9h0.9M347.4 46.3h0.9M362.1 21.8h0.9M355.4 14.3h0.9M383.6 45.2h0.9M352.8 42.7h0.9M357.9 41.6h0.9M377.4 38.3h0.9M341.5 46.2h0.9M362.4 37.3h0.9M389.1 66.2h0.9M365.1 33.3h0.9M380.0 33.6h0.9M357.9 45.6h0.9M364.5 56.2h0.9M362.8 34.9h0.9M369.3 43.4h0.9M350.3 17.4h0.9M363.4 45.4h0.9M349.4 54.7h0.9M365.5 18.3h0.9M371.9 48.2h0.9M372.5 33.4h0.9M394.6 37.1h0.9M378.0 43.2h0.9M362.1 38.2h0.9M355.3 31.4h0.9M346.8 69.0h0.9M402.6 28.4h0.9M356.0 25.2h0.9M371.5 54.2h0.9M372.7 46.8h0.9M355.2 47.0h0.9M368.5 48.1h0.9M366.1 32.6h0.9M395.6 50.6h0.9M362.8 57.0h0.9M356.4 26.5h0.9M348.2 54.0h0.9M378.6 42.9h0.9M362.8 44.8h0.9" stroke="#000" stroke-width="0.9" stroke-opacity="0.15"/>
<path d="M353.4 42.0h0.9M355.7 54.7h0.9M350.7 59.4h0.9M355.3 42.3h0.9M352.6 52.8h0.9M354.5 67.7h0.9M355.2 77.3h0.9M351.4 47.4h0.9M357.4 72.3h0.9M355.3 41.4h0.9M355.9 46.8h0.9M355.3 67.9h0.9M353.3 74.3h0.9M354.6 45.1h0.9M357.1 48.8h0.9M355.6 57.1h0.9M357.3 56.3h0.9M356.2 67.9h0.9M354.9 50.1h0.9M354.5 64.4h0.9M355.7 48.3h0.9M353.5 58.3h0.9M355.2 49.8h0.9M356.3 39.8h0.9M351.1 73.1h0.9M357.9 52.1h0.9M357.5 53.4h0.9M356.6 66.2h0.9M353.2 51.6h0.9M353.0 47.1h0.9M356.7 51.0h0.9M356.4 72.7h0.9M350.3 70.3h0.9M354.2 68.1h0.9M354.1 48.5h0.9M355.4 47.1h0.9M356.2 57.1h0.9M355.1 48.3h0.9M354.8 63.1h0.9M354.0 48.6h0.9M354.0 41.0h0.9M357.8 45.9h0.9M355.1 57.5h0.9M353.3 66.9h0.9M358.0 39.9h0.9M356.3 64.7h0.9M354.5 36.8h0.9M352.3 36.5h0.9M351.5 71.1h0.9M352.9 39.8h0.9M359.8 68.5h0.9M350.1 38.9h0.9M352.3 41.2h0.9M355.0 42.6h0.9M356.0 64.6h0.9M355.2 43.4h0.9M357.0 59.3h0.9M356.3 43.6h0.9M355.9 63.9h0.9M353.3 42.2h0.9M356.5 48.4h0.9M349.9 58.3h0.9M357.8 70.5h0.9M358.3 44.5h0.9M357.5 70.2h0.9M353.0 57.3h0.9M356.2 68.5h0.9M348.6 70.4h0.9M359.8 46.4h0.9M350.6 45.0h0.9M355.5 43.6h0.9M354.7 53.3h0.9M358.4 45.7h0.9M356.2 49.9h0.9M356.6 38.1h0.9M354.2 43.2h0.9M356.2 51.9h0.9M357.1 42.0h0.9M356.9 52.1h0.9M356.3 61.1h0.9M351.6 55.9h0.9M358.4 40.9h0.9M357.4 55.5h0.9M355.4 64.8h0.9M356.6 67.8h0.9M359.1 47.9h0.9M356.4 69.3h0.9M350.5 42.7h0.9M352.8 43.6h0.9M352.4 47.4h0.9M354.1 48.5h0.9M354.5 73.7h0.9M355.4 41.4h0.9M351.4 55.7h0.9M354.6 51.0h0.9M357.9 70.1h0.9M352.6 70.1h0.9M356.2 61.6h0.9M355.2 54.8h0.9M355.1 49.8h0.9M355.0 64.0h0.9M354.2 61.7h0.9M354.6 57.4h0.9M351.1 67.7h0.9M356.6 59.3h0.9M355.7 48.8h0.9M351.0 54.4h0.9M358.8 69.9h0.9M354.0 39.1h0.9M355.0 60.3h0.9M353.4 59.6h0.9M355.4 38.2h0.9M352.5 42.4h0.9M354.4 66.1h0.9M355.5 40.7h0.9M361.2 52.1h0.9M356.5 60.6h0.9M352.0 64.3h0.9M356.3 69.3h0.9M353.4 43.9h0.9M353.7 60.0h0.9M354.3 61.0h0.9M357.1 64.9h0.9M352.2 75.2h0.9M354.3 75.5h0.9M356.3 49.9h0.9M358.0 51.7h0.9M355.4 75.4h0.9M356.4 70.2h0.9M352.8 39.7h0.9M355.6 70.8h0.9M352.8 59.9h0.9M357.3 46.9h0.9M351.0 46.4h0.9M355.6 52.9h0.9M356.4 39.1h0.9M353.5 72.1h0.9M354.9 40.4h0.9M352.9 46.3h0.9M356.5 49.9h0.9M358.5 66.9h0.9M356.0 64.1h0.9M355.4 63.9h0.9M351.8 67.6h0.9M357.1 59.2h0.9M354.7 69.4h0.9M356.8 49.4h0.9M355.6 41.1h0.9M352.2 37.0h0.9M354.1 62.8h0.9M356.2 44.4h0.9M356.5 40.9h0.9M349.3 51.3h0.9M359.5 46.8h0.9M356.6 63.7h0.9M352.8 43.2h0.9M355.0 51.4h0.9M356.6 38.3h0.9M358.1 68.3h0.9M354.8 64.7h0.9M355.0 50.6h0.9M357.7 45.6h0.9M354.0 54.1h0.9M358.1 43.9h0.9M350.5 64.0h0.9M353.2 45.8h0.9M357.2 70.5h0.9M352.4 54.4h0.9M352.9 43.7h0.9M353.2 62.2h0.9M357.4 59.2h0.9M357.8 53.8h0.9M356.4 49.9h0.9M358.7 48.4h0.9M351.6 47.2h0.9M357.3 42.5h0.9M354.7 48.3h0.9M356.4 54.7h0.9M352.1 42.2h0.9M353.6 63.7h0.9M353.3 49.6h0.9M356.4 56.5h0.9M357.5 52.1h0.9M358.7 34.7h0.9M354.5 50.8h0.9M354.0 70.7h0.9M352.2 57.2h0.9M355.9 72.9h0.9M353.7 44.4h0.9M353.9 72.9h0.9M354.3 56.4h0.9M356.6 44.0h0.9M353.9 74.0h0.9M357.3 57.8h0.9M355.8 59.4h0.9M357.3 43.5h0.9M355.1 59.0h0.9M352.9 65.8h0.9M354.1 58.9h0.9M354.7 47.6h0.9M354.6 53.1h0.9M353.8 62.5h0.9M357.1 74.2h0.9M354.4 48.2h0.9M350.4 56.0h0.9M356.7 55.7h0.9M353.2 53.0h0.9M358.9 49.7h0.9M352.7 42.7h0.9M358.1 40.2h0.9M351.4 55.3h0.9M353.9 68.6h0.9M356.6 59.7h0.9M357.6 40.6h0.9M356.4 64.3h0.9M357.2 47.1h0.9M354.7 36.4h0.9M355.6 75.9h0.9M357.7 63.0h0.9M354.4 47.1h0.9M356.9 41.4h0.9M351.0 65.3h0.9M356.8 66.2h0.9M358.2 43.9h0.9M355.6 49.1h0.9M356.8 74.9h0.9M359.6 69.5h0.9M353.3 54.2h0.9M353.7 62.4h0.9M356.3 73.0h0.9M348.1 68.7h0.9M354.5 65.4h0.9M360.7 73.8h0.9M353.5 62.4h0.9M358.5 64.8h0.9M358.9 60.0h0.9M358.2 51.2h0.9M347.7 67.3h0.9M356.0 44.7h0.9M356.5 42.5h0.9M352.1 41.6h0.9M359.7 65.8h0.9M353.7 48.4h0.9M357.0 46.9h0.9M354.9 67.9h0.9M353.5 47.5h0.9M356.8 50.0h0.9M353.9 63.3h0.9M356.6 48.8h0.9M349.3 73.3h0.9M353.9 63.0h0.9M352.7 70.3h0.9M355.6 59.2h0.9M351.7 60.7h0.9M352.7 59.7h0.9M356.9 64.6h0.9M351.3 59.2h0.9M360.5 57.7h0.9M352.2 41.1h0.9M354.7 47.1h0.9M351.5 65.3h0.9M357.5 39.2h0.9M355.3 39.6h0.9M360.3 65.7h0.9M352.2 52.4h0.9M354.5 59.2h0.9M348.5 71.5h0.9M349.8 72.6h0.9M355.5 55.9h0.9M356.9 47.8h0.9M352.5 64.9h0.9M357.2 66.5h0.9M354.7 60.5h0.9M359.2 52.6h0.9M350.7 63.2h0.9M356.5 68.4h0.9M354.4 62.4h0.9M355.2 44.4h0.9M351.9 63.8h0.9M357.0 56.1h0.9M354.0 62.7h0.9M354.4 57.7h0.9M351.6 68.6h0.9M353.3 51.0h0.9M354.2 50.5h0.9M355.2 42.8h0.9M355.0 38.3h0.9M356.5 57.0h0.9M358.7 69.9h0.9M353.6 69.3h0.9M354.2 72.4h0.9M354.3 46.8h0.9M357.6 50.2h0.9M355.6 74.4h0.9M354.3 72.2h0.9M354.5 56.8h0.9M358.7 49.2h0.9M358.3 49.6h0.9M358.6 73.1h0.9M352.6 37.2h0.9M352.4 63.3h0.9M358.6 67.5h0.9M358.1 53.6h0.9M351.6 74.6h0.9M358.1 42.2h0.9M354.6 67.7h0.9M358.5 49.4h0.9M352.0 53.9h0.9M354.7 70.3h0.9M357.8 42.3h0.9M351.6 53.9h0.9M350.8 59.3h0.9M356.1 73.0h0.9M355.9 54.2h0.9M352.1 66.2h0.9M357.3 45.1h0.9M358.5 45.2h0.9M357.9 57.4h0.9M355.1 51.8h0.9M352.2 68.3h0.9M357.0 74.1h0.9M355.2 55.7h0.9M358.5 74.6h0.9M353.1 69.9h0.9M352.8 65.2h0.9M358.1 71.6h0.9M354.4 59.9h0.9M352.4 50.4h0.9M352.5 43.1h0.9M350.0 50.7h0.9M353.3 63.2h0.9M353.4 46.9h0.9M351.2 69.6h0.9M350.4 68.3h0.9M354.8 42.2h0.9M353.6 49.8h0.9M356.4 52.1h0.9M353.7 59.3h0.9M355.7 52.5h0.9M358.3 71.6h0.9M352.0 54.8h0.9M356.5 39.2h0.9M354.0 63.6h0.9M352.4 53.2h0.9M354.5 69.8h0.9M354.7 64.3h0.9M351.6 47.1h0.9M357.5 72.4h0.9M356.9 36.7h0.9M353.5 57.2h0.9M358.1 69.4h0.9M357.4 55.3h0.9M358.6 47.6h0.9M355.2 71.9h0.9M354.3 43.1h0.9M350.6 71.8h0.9M357.3 47.2h0.9M359.2 59.0h0.9M353.3 74.0h0.9M349.2 70.4h0.9M355.0 74.0h0.9M353.1 51.0h0.9M354.5 60.6h0.9M357.7 43.5h0.9M355.8 46.8h0.9M354.5 42.2h0.9M357.0 50.8h0.9M359.3 61.0h0.9M356.2 33.9h0.9M357.3 49.5h0.9M351.3 71.6h0.9M356.5 66.0h0.9M350.2 36.4h0.9M358.3 46.3h0.9M353.2 54.2h0.9M356.5 68.8h0.9M346.1 58.5h0.9M353.7 62.1h0.9M353.7 55.4h0.9M353.7 51.8h0.9M353.1 68.9h0.9M349.9 55.5h0.9M352.3 40.2h0.9M356.4 71.4h0.9M357.6 53.0h0.9M350.1 73.6h0.9M355.2 48.6h0.9M354.8 50.5h0.9M355.0 65.8h0.9M355.0 61.4h0.9M357.0 69.6h0.9M359.4 45.6h0.9M355.5 51.5h0.9M355.5 68.7h0.9M353.7 40.0h0.9M353.8 41.7h0.9M354.0 41.5h0.9M356.2 60.9h0.9M350.9 53.0h0.9M353.7 41.6h0.9M352.5 42.1h0.9M353.0 41.6h0.9M353.6 68.7h0.9M356.0 43.0h0.9M354.7 68.4h0.9M351.5 71.8h0.9M356.5 45.2h0.9M350.0 44.6h0.9M352.7 42.5h0.9M354.6 62.2h0.9M353.8 60.4h0.9M358.2 45.2h0.9M353.3 63.5h0.9M360.1 31.1h0.9M353.8 56.6h0.9M353.4 75.3h0.9M360.1 74.8h0.9M351.2 51.7h0.9M352.8 41.2h0.9M352.6 40.6h0.9M356.9 58.5h0.9M357.0 72.4h0.9M353.1 59.4h0.9M352.1 66.2h0.9M353.4 70.3h0.9M356.6 47.1h0.9M355.9 47.6h0.9M362.1 63.2h0.9M357.1 67.4h0.9M355.3 74.6h0.9M355.8 60.7h0.9M362.2 74.8h0.9M356.4 60.4h0.9M352.6 60.4h0.9M349.8 63.5h0.9M357.2 66.8h0.9M351.2 77.4h0.9M351.0 71.4h0.9M356.2 72.3h0.9M359.1 68.9h0.9M355.5 46.3h0.9M354.6 53.5h0.9M356.5 57.5h0.9M350.3 51.7h0.9M359.0 68.7h0.9M353.0 74.4h0.9M352.0 59.0h0.9M355.6 38.1h0.9M354.3 42.7h0.9M353.5 67.3h0.9" stroke="#000" stroke-width="0.9" stroke-opacity="0.45"/>
<path d="M380.8 66.3h0.9M375.0 60.8h0.9M369.7 58.4h0.9M375.7 64.0h0.9M374.1 69.2h0.9M377.6 59.9h0.9M382.8 61.5h0.9M380.6 75.3h0.9M377.0 75.3h0.9M380.0 59.3h0.9M378.5 76.9h0.9M378.4 60.5h0.9M372.2 70.8h0.9M381.9 69.1h0.9M378.6 71.5h0.9M381.9 61.7h0.9M375.5 64.1h0.9M375.2 58.3h0.9M378.3 74.3h0.9M378.0 78.6h0.9M377.3 62.0h0.9M374.6 64.9h0.9M372.4 63.1h0.9M380.1 44.1h0.9M381.7 71.7h0.9M386.8 74.0h0.9M381.7 76.8h0.9M375.7 57.9h0.9M376.9 73.3h0.9M373.6 75.1h0.9M380.9 73.2h0.9M376.4 67.2h0.9M370.6 64.8h0.9M385.6 67.0h0.9M381.0 58.3h0.9M376.4 53.1h0.9M379.7 73.2h0.9M371.3 70.6h0.9M376.8 67.1h0.9M379.8 67.6h0.9M374.7 64.0h0.9M378.7 61.0h0.9M376.9 58.4h0.9M378.5 73.8h0.9M375.2 67.1h0.9M377.5 63.8h0.9M375.4 69.0h0.9M380.4 67.0h0.9M377.8 64.5h0.9M374.5 64.9h0.9M382.5 61.3h0.9M376.9 61.4h0.9M380.8 67.2h0.9M374.2 60.1h0.9M379.0 71.1h0.9M377.0 67.8h0.9M377.3 63.6h0.9M372.1 53.8h0.9M376.6 66.8h0.9M374.7 68.9h0.9M379.9 70.8h0.9M381.8 62.5h0.9M379.9 77.4h0.9M375.7 75.9h0.9M381.9 60.7h0.9M379.3 58.3h0.9M379.2 73.0h0.9M374.6 74.9h0.9M377.7 52.7h0.9M375.1 58.6h0.9M376.0 73.9h0.9M381.9 63.7h0.9M378.6 75.5h0.9M376.8 72.1h0.9M378.0 76.6h0.9M373.8 57.0h0.9M381.6 68.3h0.9M382.8 63.1h0.9M371.6 66.3h0.9M374.2 53.5h0.9M378.7 65.0h0.9M378.7 66.5h0.9M372.5 58.6h0.9M382.6 71.3h0.9M375.4 63.4h0.9M370.1 52.6h0.9M377.5 54.5h0.9M380.7 71.5h0.9M375.4 71.6h0.9M381.0 70.5h0.9M374.6 62.0h0.9M374.8 60.9h0.9M378.6 68.0h0.9M372.7 69.0h0.9M377.2 61.9h0.9M377.8 58.2h0.9M375.7 67.0h0.9M379.4 73.6h0.9M375.8 55.9h0.9M376.7 67.9h0.9M375.5 60.9h0.9M374.4 65.0h0.9M373.1 63.1h0.9M375.4 70.5h0.9M380.9 73.7h0.9M379.1 57.5h0.9M379.9 77.0h0.9M383.3 74.0h0.9M376.9 70.2h0.9M377.2 61.8h0.9M379.0 68.4h0.9M374.1 59.6h0.9M377.2 74.9h0.9M382.4 77.1h0.9M378.3 68.2h0.9M378.6 65.9h0.9M379.1 74.0h0.9M377.6 76.0h0.9M382.1 60.5h0.9M382.2 78.1h0.9M371.4 60.7h0.9M373.2 60.0h0.9M375.2 57.7h0.9M379.3 59.5h0.9M384.8 60.9h0.9M377.2 69.1h0.9M377.8 74.3h0.9M376.0 72.8h0.9M374.8 66.2h0.9M374.2 78.9h0.9M380.4 76.1h0.9M372.8 74.1h0.9M375.9 57.7h0.9M385.2 61.0h0.9M382.0 57.0h0.9M374.2 67.7h0.9M382.2 64.8h0.9M376.0 61.0h0.9M372.1 55.3h0.9M382.7 59.2h0.9M381.0 73.0h0.9M377.7 56.1h0.9M378.2 77.4h0.9M376.7 63.1h0.9M383.6 60.9h0.9M376.4 61.0h0.9M375.8 65.1h0.9M385.3 72.6h0.9M377.7 63.9h0.9M375.8 72.4h0.9M375.2 61.3h0.9M374.5 63.7h0.9M382.1 66.3h0.9M379.7 60.7h0.9M382.4 60.4h0.9M370.7 69.0h0.9M377.2 59.5h0.9M370.2 71.6h0.9M371.7 66.7h0.9M374.5 56.8h0.9M376.3 64.9h0.9M376.9 71.9h0.9M375.9 60.3h0.9M378.4 68.3h0.9M382.5 63.4h0.9M375.4 63.0h0.9M380.7 51.7h0.9M375.4 77.0h0.9M372.5 66.5h0.9M379.8 76.9h0.9M377.7 63.6h0.9M374.2 61.1h0.9M375.2 75.1h0.9M379.9 64.5h0.9M377.9 75.7h0.9M378.4 58.3h0.9M377.2 68.4h0.9M373.6 50.9h0.9M381.1 67.3h0.9M379.1 67.6h0.9M381.5 60.1h0.9M377.0 61.3h0.9M380.0 69.5h0.9M384.4 62.2h0.9M370.5 68.7h0.9M378.7 67.1h0.9M377.4 60.9h0.9M375.6 53.7h0.9M374.2 69.2h0.9M376.6 61.0h0.9M374.0 55.4h0.9M374.5 69.0h0.9M377.4 70.5h0.9M374.1 64.2h0.9M375.4 59.2h0.9M379.3 49.6h0.9M376.0 72.6h0.9M376.9 61.1h0.9M377.5 78.9h0.9M373.2 74.1h0.9M372.6 63.3h0.9M372.2 67.2h0.9M377.2 52.5h0.9M382.8 63.8h0.9M373.8 72.7h0.9M377.3 56.3h0.9M378.0 62.2h0.9M381.2 75.6h0.9M372.6 74.8h0.9M381.1 72.6h0.9M373.8 67.1h0.9M377.6 76.5h0.9M379.7 64.6h0.9M374.0 78.7h0.9M377.4 56.7h0.9M377.6 63.5h0.9M379.7 59.8h0.9M377.5 53.9h0.9M375.6 60.3h0.9M378.6 63.5h0.9M379.4 70.1h0.9M378.4 60.1h0.9M382.7 68.1h0.9M375.2 74.1h0.9M377.3 62.3h0.9M374.5 62.9h0.9M382.9 53.1h0.9M374.7 72.8h0.9M378.5 59.4h0.9M372.9 74.1h0.9M380.2 62.8h0.9M381.3 55.7h0.9M380.7 56.7h0.9M381.5 59.9h0.9M375.8 69.5h0.9M376.2 65.6h0.9M380.5 72.2h0.9M374.6 54.6h0.9M372.7 74.8h0.9M376.0 71.5h0.9M380.3 54.8h0.9M378.6 59.4h0.9M372.1 65.6h0.9M369.7 63.8h0.9M383.0 67.8h0.9M376.7 52.3h0.9M378.3 71.3h0.9M376.4 59.4h0.9M374.8 65.7h0.9M379.2 71.5h0.9M375.2 58.6h0.9M377.7 45.3h0.9M374.0 61.7h0.9M376.0 72.0h0.9M373.6 60.3h0.9M376.8 55.9h0.9M371.1 68.9h0.9M377.9 72.6h0.9M381.2 68.1h0.9M372.3 66.6h0.9M379.9 72.0h0.9M378.6 76.4h0.9M379.7 63.1h0.9M376.9 76.1h0.9M376.1 65.9h0.9M376.8 75.6h0.9M383.2 72.5h0.9M378.5 70.5h0.9M375.6 74.2h0.9M376.0 66.9h0.9M379.0 58.7h0.9M373.7 62.3h0.9M382.7 80.0h0.9M382.2 59.6h0.9M375.7 63.9h0.9M373.6 51.9h0.9M378.8 76.4h0.9M374.7 67.9h0.9M380.0 68.8h0.9M382.8 67.1h0.9M377.9 61.7h0.9M373.3 64.6h0.9M373.9 58.9h0.9M379.8 67.5h0.9M375.9 67.2h0.9M382.2 66.0h0.9M379.0 75.4h0.9M378.2 69.6h0.9M377.7 64.7h0.9M379.4 65.0h0.9M374.7 78.9h0.9M384.0 68.7h0.9M379.8 52.1h0.9M376.8 67.8h0.9M381.1 68.2h0.9M379.7 73.7h0.9M371.9 63.1h0.9M376.9 66.4h0.9M377.5 55.3h0.9M377.5 60.7h0.9M373.2 69.5h0.9M380.0 69.4h0.9M380.0 65.9h0.9M373.7 67.5h0.9M384.1 75.7h0.9M381.0 67.1h0.9M380.2 70.7h0.9M378.6 58.6h0.9M375.4 78.5h0.9M379.0 70.3h0.9M375.2 51.0h0.9M375.4 68.7h0.9M376.4 78.5h0.9M381.8 69.7h0.9M376.0 53.3h0.9M372.8 60.7h0.9M380.3 69.4h0.9M374.6 62.0h0.9M376.1 67.7h0.9M380.8 69.1h0.9M376.7 73.0h0.9M377.1 74.8h0.9M375.6 68.1h0.9M379.2 70.5h0.9M373.2 64.0h0.9M377.1 73.0h0.9M375.4 57.9h0.9M380.8 69.3h0.9M373.9 70.0h0.9M373.4 71.7h0.9M372.7 74.3h0.9M379.6 62.7h0.9M375.8 67.4h0.9M372.8 61.2h0.9M375.9 72.8h0.9M381.2 73.0h0.9M381.7 71.8h0.9M382.0 60.2h0.9M374.9 71.1h0.9M374.4 64.1h0.9M376.2 53.9h0.9M379.3 68.1h0.9M376.4 71.7h0.9M382.4 61.4h0.9M379.0 73.3h0.9M376.5 67.3h0.9M380.1 70.3h0.9M385.5 64.1h0.9M378.2 63.3h0.9M374.1 56.6h0.9M377.9 62.5h0.9M375.5 64.2h0.9M377.1 63.2h0.9M373.8 52.8h0.9M376.1 52.9h0.9M383.9 58.0h0.9M381.2 57.8h0.9M373.9 74.3h0.9M382.3 73.5h0.9M376.4 78.4h0.9M381.2 74.5h0.9M375.5 73.8h0.9M375.9 61.0h0.9M372.0 76.6h0.9M377.7 69.5h0.9M376.9 70.8h0.9M377.3 62.6h0.9M373.5 72.5h0.9M378.4 66.0h0.9M375.0 64.4h0.9M375.5 77.8h0.9M377.1 77.3h0.9M378.9 63.9h0.9M380.4 79.4h0.9M376.8 73.1h0.9M380.9 56.0h0.9M378.3 70.4h0.9M376.7 70.7h0.9M382.0 64.5h0.9M375.4 66.9h0.9M375.5 60.8h0.9M383.3 57.5h0.9M378.9 75.3h0.9M380.0 72.6h0.9M375.7 69.1h0.9M379.2 69.9h0.9M380.0 67.5h0.9M382.6 65.1h0.9M373.9 61.9h0.9M378.9 67.3h0.9M374.1 74.4h0.9M377.2 78.2h0.9M375.8 63.6h0.9M373.1 56.8h0.9M378.8 67.6h0.9M377.9 55.8h0.9M381.0 57.7h0.9M373.8 74.5h0.9M383.0 75.3h0.9M375.5 77.2h0.9M377.6 64.0h0.9M376.1 79.0h0.9M377.4 59.1h0.9M375.1 58.3h0.9M377.3 58.2h0.9M373.1 64.0h0.9M376.9 73.8h0.9M381.6 57.9h0.9M379.7 63.1h0.9M375.7 66.3h0.9M374.4 63.1h0.9M376.1 78.9h0.9M376.4 75.4h0.9M374.3 67.0h0.9M384.8 63.3h0.9M374.9 57.6h0.9M378.0 70.0h0.9M367.4 67.7h0.9M376.5 56.5h0.9M371.3 71.9h0.9" stroke="#000" stroke-width="0.9" stroke-opacity="0.3"/>
<path d="M364.0 58.5h0.9M377.1 53.2h0.9M372.4 60.5h0.9M367.6 68.3h0.9M362.3 70.1h0.9M375.1 72.7h0.9M373.7 67.4h0.9M373.8 65.1h0.9M383.8 58.3h0.9M375.9 59.3h0.9M365.4 70.3h0.9M379.5 57.8h0.9M367.3 71.3h0.9M366.0 59.4h0.9M370.4 55.0h0.9M373.1 66.2h0.9M374.2 61.6h0.9M371.8 71.3h0.9M378.3 40.7h0.9M376.6 51.4h0.9M373.5 55.0h0.9M371.8 58.7h0.9M368.8 53.8h0.9M375.4 39.0h0.9M377.8 76.6h0.9M372.1 63.4h0.9M372.5 50.6h0.9M368.4 50.4h0.9M359.6 51.6h0.9M373.0 56.5h0.9M368.2 50.7h0.9M370.8 54.7h0.9M360.6 63.9h0.9M382.4 48.1h0.9M360.8 56.7h0.9M367.9 45.9h0.9M378.9 74.2h0.9M375.0 72.1h0.9M370.4 64.1h0.9M359.0 69.8h0.9M373.1 53.7h0.9M367.0 61.9h0.9M364.4 57.7h0.9M371.1 50.1h0.9M360.2 54.7h0.9M372.0 72.4h0.9M372.6 49.5h0.9M364.0 63.3h0.9M378.4 67.8h0.9M352.1 63.0h0.9M372.9 55.8h0.9M368.1 64.6h0.9M374.9 57.2h0.9M366.5 56.7h0.9M381.5 64.7h0.9M374.1 48.3h0.9M373.5 78.9h0.9M377.6 56.2h0.9M371.6 57.8h0.9M358.2 72.6h0.9M373.8 51.8h0.9M369.6 70.9h0.9M363.2 71.3h0.9M368.2 55.9h0.9M376.6 48.0h0.9M358.6 55.6h0.9M371.3 59.4h0.9M368.6 73.9h0.9M357.6 56.6h0.9M368.6 58.7h0.9M371.0 56.5h0.9M368.7 53.3h0.9M374.1 57.7h0.9M372.3 59.6h0.9M377.2 63.9h0.9M361.2 70.4h0.9M370.1 44.8h0.9M360.2 63.2h0.9M369.1 60.5h0.9M363.6 67.5h0.9M366.6 68.2h0.9M371.6 62.5h0.9M378.1 73.9h0.9M362.1 76.6h0.9M366.6 56.1h0.9M362.9 69.9h0.9M368.3 72.3h0.9M375.4 64.8h0.9M358.8 50.7h0.9M372.2 56.4h0.9M365.2 47.3h0.9M375.3 63.5h0.9M369.2 60.8h0.9M377.3 54.6h0.9M359.2 66.0h0.9M361.6 63.5h0.9M363.5 42.4h0.9M368.0 66.2h0.9M374.3 46.9h0.9M381.4 73.0h0.9M377.0 59.6h0.9M371.3 67.9h0.9M372.4 45.3h0.9M376.7 64.9h0.9M380.7 51.6h0.9M372.5 64.2h0.9M374.8 63.3h0.9M367.2 65.9h0.9M376.7 52.3h0.9M366.6 49.3h0.9M363.2 66.8h0.9M367.3 48.0h0.9M367.8 53.7h0.9M378.3 59.5h0.9M363.0 70.2h0.9M371.3 65.6h0.9M365.6 74.3h0.9M374.4 60.4h0.9M369.9 56.5h0.9M374.8 59.8h0.9" stroke="#000" stroke-width="0.9" stroke-opacity="0.18"/>
<path d="M372,78 C371,70 372,60 376,56 C380,56 383,62 383,70 C383,77 380,80 372,78 Z" fill="#000" fill-opacity="0.18" filter="url(#b2)" />
<path d="M351,75 C350.5,68 351,58 352.5,48 C353.5,40 354.5,35 356,34 C357.5,35 358,40 358.5,48 C359.5,58 361,68 360.5,75 C359,78.5 352.5,78.5 351,75 Z" fill="#cfcfcf" stroke="#333" stroke-width="0.8" />
<path d="M352.5,74 C352.5,66 353.5,56 355,45 C356,52 357,62 358.5,73 C357,76 354,76 352.5,74 Z" fill="#6a6a6a" stroke="#222" stroke-width="0.6" />
<ellipse cx="355.3" cy="69" rx="1.6" ry="5" fill="#0d0d0d" fill-opacity="1" stroke="none" stroke-width="1" filter="url(#b0)"/>
<ellipse cx="380.8" cy="40.4" rx="6.6" ry="6.6" fill="#fff" fill-opacity="1" stroke="#111" stroke-width="1.4"/>
<ellipse cx="380.6" cy="40.6" rx="4.3" ry="4.3" fill="#fff" fill-opacity="1" stroke="#222" stroke-width="1.0"/>
<ellipse cx="380.6" cy="40.8" rx="2.2" ry="2.2" fill="#fff" fill-opacity="1" stroke="#777" stroke-width="0.7"/>
<text x="395.8" y="26" font-size="7.4" font-weight="normal" text-anchor="start" fill="#222" >2.9</text>
<rect x="439.7" y="9.9" width="75.00000000000006" height="73.69999999999999" fill="none" stroke="#8a8a8a" stroke-width="0.8" />
<line x1="437.2" y1="15.796" x2="439.7" y2="15.796" stroke="#888" stroke-width="0.6" />
<line x1="437.2" y1="32.01" x2="439.7" y2="32.01" stroke="#888" stroke-width="0.6" />
<line x1="437.2" y1="48.224" x2="439.7" y2="48.224" stroke="#888" stroke-width="0.6" />
<line x1="437.2" y1="62.96399999999999" x2="439.7" y2="62.96399999999999" stroke="#888" stroke-width="0.6" />
<line x1="437.2" y1="70.33399999999999" x2="439.7" y2="70.33399999999999" stroke="#888" stroke-width="0.6" />
<text x="436.7" y="16.996" font-size="3.6" font-weight="normal" text-anchor="end" fill="#777" >10⁵</text>
<text x="436.7" y="33.21" font-size="3.6" font-weight="normal" text-anchor="end" fill="#777" >10⁴</text>
<text x="436.7" y="49.424" font-size="3.6" font-weight="normal" text-anchor="end" fill="#777" >10³</text>
<text x="436.7" y="64.16399999999999" font-size="3.6" font-weight="normal" text-anchor="end" fill="#777" >10²</text>
<text x="436.7" y="71.53399999999999" font-size="3.6" font-weight="normal" text-anchor="end" fill="#777" >0</text>
<line x1="458.45" y1="83.6" x2="458.45" y2="86.1" stroke="#888" stroke-width="0.6" />
<text x="458.45" y="90.1" font-size="3.6" font-weight="normal" text-anchor="middle" fill="#777" >0</text>
<line x1="477.20000000000005" y1="83.6" x2="477.20000000000005" y2="86.1" stroke="#888" stroke-width="0.6" />
<text x="477.20000000000005" y="90.1" font-size="3.6" font-weight="normal" text-anchor="middle" fill="#777" >10³</text>
<line x1="493.70000000000005" y1="83.6" x2="493.70000000000005" y2="86.1" stroke="#888" stroke-width="0.6" />
<text x="493.70000000000005" y="90.1" font-size="3.6" font-weight="normal" text-anchor="middle" fill="#777" >10⁴</text>
<line x1="509.45000000000005" y1="83.6" x2="509.45000000000005" y2="86.1" stroke="#888" stroke-width="0.6" />
<text x="509.45000000000005" y="90.1" font-size="3.6" font-weight="normal" text-anchor="middle" fill="#777" >10⁵</text>
<text transform="translate(431,47.0) rotate(-90)" font-size="12.8" font-weight="normal" text-anchor="middle" fill="#000"  stroke="#000" stroke-width="0.18">CD4</text>
<text x="481.9" y="100.5" font-size="12.8" font-weight="normal" text-anchor="middle" fill="#000"  stroke="#000" stroke-width="0.18">CD8</text>
<path d="M462.9 62.0h0.9M471.3 68.3h0.9M455.9 60.1h0.9M485.0 61.1h0.9M486.4 59.2h0.9M455.1 63.3h0.9M475.6 63.4h0.9M475.8 58.7h0.9M455.0 66.4h0.9M466.4 57.3h0.9M475.3 64.6h0.9M453.8 62.5h0.9M461.6 63.5h0.9M460.7 63.0h0.9M456.1 64.7h0.9M472.4 74.1h0.9M490.4 65.8h0.9M487.1 66.3h0.9M459.8 57.0h0.9M461.5 59.2h0.9M468.0 63.6h0.9M455.1 62.6h0.9M453.8 59.4h0.9M496.5 69.4h0.9M495.3 58.7h0.9M487.3 65.7h0.9M460.4 57.5h0.9M461.9 67.7h0.9M488.9 61.4h0.9M465.6 62.1h0.9M478.9 67.3h0.9M495.9 62.7h0.9M495.3 60.7h0.9M464.1 63.5h0.9M477.9 59.7h0.9M475.3 70.0h0.9M461.8 64.9h0.9M463.0 60.7h0.9M477.4 60.3h0.9M478.9 65.3h0.9M464.8 50.4h0.9M488.0 55.9h0.9M483.3 68.3h0.9M483.7 59.6h0.9M462.8 62.0h0.9M483.8 61.5h0.9M484.4 66.0h0.9M499.3 62.2h0.9M490.7 66.0h0.9M488.7 70.5h0.9M481.9 65.2h0.9M500.3 58.6h0.9M454.9 64.3h0.9M463.4 56.3h0.9M493.6 67.7h0.9M458.6 63.8h0.9M482.6 56.8h0.9M490.1 52.2h0.9M473.0 59.8h0.9M487.1 65.4h0.9M490.4 59.0h0.9M477.8 63.3h0.9M478.1 61.4h0.9M477.1 62.1h0.9M482.6 65.3h0.9M497.8 65.1h0.9M460.9 58.2h0.9M494.4 61.9h0.9M472.1 62.1h0.9M480.9 53.8h0.9M475.3 64.3h0.9M462.3 64.4h0.9M492.4 61.4h0.9M467.6 52.5h0.9M486.2 63.7h0.9M490.9 64.1h0.9M481.9 67.5h0.9M475.6 62.6h0.9M453.4 60.9h0.9M486.4 61.4h0.9M459.8 63.1h0.9M456.1 61.1h0.9M473.1 64.1h0.9M484.1 52.8h0.9M459.1 55.4h0.9M487.3 60.2h0.9M473.2 70.0h0.9M483.5 61.7h0.9M451.2 58.1h0.9M470.8 59.4h0.9M456.8 65.1h0.9M484.5 59.3h0.9M458.1 64.8h0.9M489.0 69.9h0.9M457.9 58.6h0.9M487.0 63.3h0.9M478.7 53.3h0.9M465.4 62.1h0.9M473.6 67.3h0.9M457.0 66.2h0.9M466.2 60.1h0.9M486.8 60.6h0.9M486.9 66.3h0.9M464.6 65.6h0.9M465.9 59.8h0.9M473.7 55.6h0.9M461.7 58.3h0.9M461.3 69.2h0.9M455.1 64.0h0.9M467.5 61.9h0.9M466.3 56.8h0.9M485.6 62.1h0.9M457.4 64.6h0.9M490.1 68.8h0.9M461.5 56.2h0.9M496.8 61.6h0.9M455.3 71.0h0.9M480.7 57.2h0.9M472.9 60.4h0.9M473.0 60.7h0.9M481.9 61.7h0.9M467.0 60.5h0.9M470.5 67.9h0.9M470.6 78.1h0.9M461.5 65.6h0.9M453.6 67.7h0.9M487.6 62.8h0.9M479.4 71.6h0.9M463.2 65.3h0.9M502.8 65.9h0.9M459.2 64.7h0.9M495.6 64.8h0.9M457.1 65.9h0.9M467.2 64.3h0.9M454.0 57.9h0.9M493.7 64.3h0.9M483.5 60.7h0.9M467.1 62.2h0.9M461.5 69.0h0.9M477.5 57.8h0.9M454.0 60.7h0.9M461.5 60.9h0.9M471.3 53.1h0.9M489.4 69.7h0.9M473.4 60.1h0.9M473.8 58.7h0.9M455.9 61.1h0.9M490.6 66.2h0.9M482.9 58.2h0.9M474.7 54.0h0.9M453.6 54.7h0.9M463.6 61.0h0.9M486.3 58.2h0.9M488.0 64.6h0.9M463.5 59.2h0.9M485.3 59.2h0.9M463.6 58.9h0.9M464.0 57.9h0.9M457.6 58.7h0.9M492.7 59.2h0.9M462.4 67.2h0.9M474.3 65.3h0.9M474.0 68.6h0.9M490.5 66.5h0.9M486.2 52.5h0.9M481.7 60.7h0.9M467.7 62.4h0.9M474.6 59.4h0.9M487.7 72.2h0.9M479.8 62.1h0.9M456.1 61.2h0.9M482.0 63.4h0.9M464.9 64.5h0.9M479.6 60.5h0.9M482.6 59.3h0.9M477.4 60.6h0.9M486.7 64.6h0.9M461.7 65.8h0.9M462.4 53.6h0.9M455.2 65.9h0.9M459.9 58.3h0.9M469.9 56.8h0.9M456.6 59.6h0.9M472.3 63.5h0.9M459.9 67.0h0.9M474.3 61.1h0.9M475.9 62.0h0.9M470.2 62.3h0.9M490.2 63.0h0.9M481.4 52.3h0.9M470.2 68.4h0.9M470.9 58.8h0.9M490.1 64.4h0.9M461.6 67.4h0.9M482.1 71.5h0.9M463.8 56.0h0.9M455.0 60.1h0.9M467.2 61.9h0.9M466.9 61.8h0.9M482.2 59.1h0.9M458.9 66.2h0.9M479.3 49.0h0.9M464.2 62.8h0.9M475.9 60.8h0.9M469.7 64.9h0.9M465.2 65.6h0.9M493.2 54.7h0.9M491.0 63.2h0.9M484.0 56.1h0.9M462.5 58.4h0.9M455.6 60.2h0.9M460.4 61.9h0.9M485.6 58.4h0.9M473.9 65.1h0.9M461.9 64.8h0.9M486.0 68.4h0.9M466.4 64.9h0.9M499.2 61.7h0.9M488.1 68.4h0.9M466.4 59.0h0.9M463.1 62.3h0.9M472.8 66.6h0.9M478.2 66.2h0.9M491.5 60.6h0.9M486.4 69.4h0.9M490.9 60.0h0.9M461.5 61.6h0.9M463.1 73.1h0.9M487.8 60.2h0.9M455.6 54.2h0.9M486.1 53.8h0.9M487.5 61.7h0.9M457.4 60.2h0.9M479.1 54.7h0.9M457.9 61.7h0.9M485.1 59.2h0.9M460.9 63.0h0.9M488.6 54.7h0.9M465.8 53.5h0.9M500.5 57.2h0.9M483.5 60.6h0.9M455.5 58.0h0.9M484.4 62.8h0.9M484.7 60.7h0.9M482.6 67.2h0.9M490.3 59.4h0.9M468.4 66.3h0.9M488.7 52.5h0.9M479.3 67.8h0.9M469.7 69.8h0.9M484.9 56.8h0.9M484.2 58.0h0.9M476.3 60.9h0.9M488.9 54.6h0.9M483.1 60.7h0.9M487.0 61.2h0.9M486.8 58.6h0.9M483.5 62.5h0.9M480.1 61.1h0.9M485.4 63.1h0.9M455.5 60.3h0.9M463.7 62.8h0.9M473.6 71.0h0.9M492.9 60.5h0.9M483.6 57.7h0.9M474.1 50.8h0.9M474.8 68.4h0.9M481.3 68.9h0.9M494.6 44.6h0.9M483.2 66.6h0.9M477.9 68.8h0.9M493.0 68.9h0.9M465.5 69.3h0.9M483.0 61.4h0.9M485.0 54.0h0.9M484.0 67.9h0.9M461.8 59.2h0.9M480.0 59.0h0.9M470.8 62.4h0.9M486.5 68.3h0.9M482.7 63.2h0.9M491.8 56.0h0.9M491.8 65.6h0.9M493.3 59.6h0.9M481.6 59.8h0.9M481.1 60.5h0.9M453.3 60.2h0.9M457.7 61.3h0.9M460.9 55.1h0.9M466.6 65.9h0.9M457.9 64.1h0.9M455.4 58.9h0.9M493.5 68.4h0.9M489.4 58.4h0.9M489.5 59.1h0.9M482.7 62.0h0.9M461.8 56.1h0.9M469.1 65.5h0.9M484.7 62.2h0.9M467.7 56.9h0.9M493.7 65.6h0.9M479.3 54.0h0.9M481.3 61.3h0.9M469.5 65.9h0.9M461.3 69.7h0.9M456.2 67.4h0.9M463.2 67.4h0.9M480.1 73.0h0.9M461.6 72.7h0.9M492.4 65.7h0.9M494.5 65.9h0.9M491.0 64.8h0.9M465.4 65.7h0.9M495.7 65.8h0.9M466.1 59.9h0.9M464.0 68.2h0.9M484.7 65.9h0.9M480.1 55.5h0.9M476.9 62.5h0.9M466.6 65.4h0.9M479.5 55.7h0.9M486.2 66.5h0.9M489.1 60.0h0.9M484.5 61.0h0.9M465.0 63.7h0.9M473.3 58.6h0.9M483.6 64.6h0.9M464.3 69.3h0.9M459.3 57.6h0.9M480.7 69.8h0.9M490.2 56.5h0.9M481.2 62.6h0.9M494.1 61.6h0.9M455.8 58.8h0.9M477.3 54.9h0.9M487.6 62.9h0.9M486.6 62.3h0.9M484.9 61.7h0.9M470.2 64.8h0.9M488.1 59.6h0.9M467.5 63.3h0.9M469.5 68.2h0.9M471.8 66.3h0.9M464.6 61.1h0.9M485.0 62.0h0.9M476.0 56.7h0.9M458.3 59.7h0.9M473.0 67.3h0.9M461.7 63.4h0.9M461.4 63.5h0.9M474.2 62.7h0.9M483.2 62.0h0.9M490.4 68.5h0.9M473.5 66.9h0.9M460.1 57.9h0.9M469.7 67.3h0.9M485.2 57.2h0.9M452.1 60.9h0.9M464.0 61.0h0.9M484.0 54.7h0.9M485.1 62.2h0.9M469.1 58.4h0.9M469.6 68.5h0.9M464.7 64.5h0.9M482.1 67.2h0.9M461.5 65.4h0.9M480.6 61.7h0.9M457.4 63.7h0.9M497.1 50.9h0.9M470.5 57.9h0.9M461.9 67.2h0.9M464.8 63.0h0.9M489.8 65.8h0.9M475.0 59.9h0.9M469.9 54.1h0.9M489.3 64.1h0.9M483.4 58.8h0.9M485.9 68.1h0.9M467.4 62.2h0.9M476.8 61.0h0.9M490.3 66.8h0.9M482.4 48.8h0.9M473.1 57.3h0.9M452.5 58.4h0.9M496.4 66.3h0.9M461.1 72.0h0.9M474.4 57.6h0.9M494.7 59.9h0.9M456.3 61.9h0.9M474.6 61.2h0.9M454.9 66.7h0.9M460.4 66.9h0.9M451.9 62.1h0.9M479.3 63.3h0.9M477.2 52.9h0.9M494.4 61.4h0.9M459.8 58.0h0.9M479.0 70.0h0.9M487.7 65.6h0.9M472.4 63.2h0.9M483.3 58.8h0.9M477.0 55.3h0.9M474.1 61.8h0.9M460.4 59.0h0.9M457.4 62.5h0.9M465.2 60.3h0.9M482.3 63.9h0.9M453.1 63.5h0.9M463.0 61.6h0.9M480.7 63.5h0.9M493.0 59.3h0.9M458.7 67.7h0.9M457.3 69.2h0.9M467.2 65.1h0.9M488.7 66.8h0.9M482.2 57.7h0.9M485.5 64.8h0.9M476.8 59.9h0.9M468.2 65.4h0.9M462.3 58.2h0.9M490.2 58.1h0.9M468.4 69.2h0.9M495.6 62.3h0.9M478.6 59.9h0.9M482.9 60.3h0.9M496.3 65.3h0.9M489.1 57.6h0.9M458.6 66.3h0.9M484.1 52.1h0.9M479.9 61.0h0.9M474.0 55.1h0.9M478.9 61.7h0.9M477.3 64.7h0.9M498.7 70.9h0.9M459.4 64.5h0.9M467.2 52.7h0.9M475.6 57.8h0.9M477.2 68.0h0.9M479.9 61.6h0.9M488.4 66.1h0.9M458.0 66.6h0.9M472.2 53.1h0.9M475.5 70.8h0.9M470.9 55.9h0.9M478.9 59.4h0.9M486.2 59.1h0.9M471.2 56.7h0.9M475.9 59.1h0.9M490.8 58.6h0.9M465.0 58.2h0.9M477.2 68.4h0.9M489.3 59.5h0.9M485.3 61.7h0.9M461.5 60.8h0.9M483.0 63.0h0.9M494.9 73.6h0.9M472.9 51.1h0.9M454.5 59.8h0.9M459.3 60.2h0.9M476.1 61.4h0.9M463.6 58.4h0.9M472.6 59.3h0.9M480.9 70.1h0.9M460.0 62.3h0.9M479.7 63.3h0.9M459.3 69.6h0.9M484.9 57.8h0.9M466.1 62.9h0.9M494.0 61.3h0.9M470.6 63.5h0.9M475.3 53.9h0.9M453.6 63.5h0.9M478.0 60.0h0.9M463.3 64.3h0.9M496.1 58.4h0.9M480.3 61.5h0.9M475.3 62.1h0.9M487.0 62.8h0.9M460.5 68.2h0.9M462.8 56.5h0.9M495.0 57.9h0.9M500.9 59.7h0.9M464.0 58.1h0.9M490.0 60.5h0.9M454.7 63.8h0.9M481.9 61.2h0.9M476.9 65.2h0.9M477.1 61.2h0.9M464.9 59.4h0.9M465.9 74.8h0.9M482.3 54.9h0.9M466.1 72.1h0.9M486.1 51.3h0.9M458.9 61.7h0.9M488.4 55.4h0.9M482.3 65.2h0.9M454.1 58.3h0.9M467.1 57.7h0.9M476.3 70.9h0.9M491.7 63.5h0.9M461.4 61.5h0.9M456.9 57.5h0.9M479.2 51.8h0.9M480.0 63.4h0.9M469.3 56.7h0.9M471.7 53.1h0.9M469.8 61.5h0.9M480.6 64.8h0.9M491.3 72.5h0.9M483.6 71.6h0.9M457.5 57.8h0.9M468.2 59.1h0.9M486.0 60.9h0.9M464.5 66.1h0.9M466.3 65.5h0.9M487.1 62.1h0.9M453.7 52.1h0.9M453.9 54.1h0.9M486.9 68.6h0.9M498.8 64.5h0.9M475.8 67.2h0.9M484.0 64.1h0.9M462.3 67.4h0.9M476.6 62.0h0.9M471.2 61.0h0.9M483.0 54.3h0.9M465.3 56.3h0.9M461.6 66.7h0.9M490.5 61.7h0.9M460.3 67.4h0.9M486.0 69.5h0.9M454.8 64.7h0.9M490.2 58.5h0.9M459.2 62.7h0.9M467.2 67.9h0.9M485.6 64.0h0.9M469.2 72.1h0.9M472.7 63.0h0.9M499.4 54.4h0.9M486.9 64.6h0.9M455.6 61.7h0.9M471.1 61.4h0.9M462.6 62.2h0.9M474.9 56.9h0.9M470.4 65.1h0.9M462.2 61.4h0.9M494.0 63.2h0.9M485.3 69.2h0.9M495.6 66.0h0.9M470.9 59.9h0.9M481.0 54.1h0.9M461.4 58.7h0.9M470.3 56.5h0.9M469.9 62.5h0.9M486.0 71.5h0.9M486.1 45.8h0.9M476.6 52.8h0.9M476.2 57.7h0.9M468.9 71.6h0.9M498.2 54.8h0.9M491.4 63.8h0.9M489.8 71.1h0.9M481.4 59.8h0.9M463.8 56.1h0.9M485.4 69.9h0.9M496.8 58.4h0.9M496.5 61.9h0.9M472.4 73.9h0.9M490.8 48.6h0.9M478.6 77.4h0.9M488.7 63.7h0.9M495.8 56.5h0.9M464.0 57.9h0.9M463.2 66.7h0.9M491.3 63.1h0.9M467.7 69.0h0.9M458.9 62.3h0.9M476.9 61.9h0.9M475.4 48.5h0.9M454.3 67.7h0.9M462.9 57.4h0.9M463.1 70.3h0.9M460.4 65.8h0.9M457.0 58.1h0.9M470.5 64.5h0.9M481.6 66.4h0.9M457.7 52.7h0.9M474.7 67.0h0.9M481.9 52.1h0.9M468.9 67.3h0.9M488.1 58.5h0.9M465.0 62.8h0.9M490.3 76.4h0.9M464.3 69.4h0.9M471.7 53.0h0.9M476.2 71.1h0.9M454.3 64.9h0.9M480.2 61.7h0.9M467.4 61.9h0.9M458.4 65.6h0.9M491.2 60.2h0.9M469.2 61.3h0.9M496.9 53.9h0.9M472.2 61.6h0.9M492.6 58.6h0.9M482.3 56.0h0.9M475.1 63.7h0.9M461.6 59.4h0.9M485.3 55.1h0.9M476.0 74.0h0.9M481.4 61.8h0.9M467.8 61.3h0.9M459.6 58.0h0.9M487.3 50.6h0.9M474.0 59.1h0.9M487.6 63.1h0.9M469.2 60.8h0.9M483.3 56.4h0.9M469.1 59.5h0.9M465.3 66.5h0.9M461.1 66.1h0.9M461.8 70.5h0.9M488.8 58.8h0.9M476.7 63.7h0.9M476.1 62.6h0.9M490.4 63.2h0.9M497.1 61.8h0.9M481.2 69.5h0.9M479.5 64.6h0.9M496.7 68.5h0.9M460.8 66.5h0.9M454.5 60.1h0.9M462.9 72.7h0.9M475.5 75.9h0.9M460.6 63.2h0.9M479.7 58.6h0.9M469.8 59.7h0.9M484.8 64.0h0.9M477.0 63.9h0.9M453.4 64.4h0.9M455.0 58.5h0.9M492.5 61.2h0.9M480.8 61.2h0.9M470.4 57.7h0.9M468.3 62.6h0.9M457.3 63.3h0.9M475.7 61.8h0.9M457.7 70.1h0.9M473.4 62.6h0.9M491.5 58.1h0.9M494.6 61.5h0.9M480.2 59.4h0.9M481.1 54.8h0.9M473.2 58.8h0.9M483.9 54.4h0.9M476.0 63.0h0.9M464.3 61.1h0.9M468.9 67.4h0.9M469.5 66.4h0.9M478.1 61.7h0.9M451.0 65.5h0.9M490.6 56.1h0.9M488.5 59.8h0.9M481.3 60.7h0.9M489.9 67.0h0.9M459.2 60.0h0.9M475.1 68.6h0.9M474.6 63.0h0.9M472.6 65.2h0.9M464.3 57.8h0.9M482.3 54.2h0.9M477.3 59.4h0.9M481.2 64.4h0.9M457.1 57.3h0.9M489.3 65.9h0.9M481.0 58.2h0.9M480.4 61.2h0.9M486.0 53.8h0.9M465.4 57.3h0.9M471.1 58.9h0.9M475.5 64.3h0.9M485.3 67.4h0.9M480.1 64.8h0.9M475.8 64.4h0.9M460.9 65.6h0.9M458.2 59.5h0.9M472.0 51.6h0.9M486.5 66.3h0.9M481.0 59.2h0.9M488.5 63.0h0.9M493.1 60.0h0.9M462.1 64.2h0.9M485.1 69.4h0.9M492.4 61.0h0.9M471.0 58.7h0.9M472.1 62.6h0.9M474.7 62.5h0.9M462.3 58.8h0.9M468.2 55.7h0.9M465.1 64.0h0.9" stroke="#000" stroke-width="0.9" stroke-opacity="0.35"/>
<path d="M470.4 42.3h0.9M462.4 33.0h0.9M460.7 35.1h0.9M463.3 35.6h0.9M456.8 36.8h0.9M482.0 44.4h0.9M473.2 35.8h0.9M474.8 35.0h0.9M480.7 30.0h0.9M463.7 38.7h0.9M455.2 35.3h0.9M487.3 51.8h0.9M470.3 43.0h0.9M469.8 46.1h0.9M464.8 33.7h0.9M456.1 36.5h0.9M482.2 46.5h0.9M477.1 33.3h0.9M481.8 44.7h0.9M467.6 35.2h0.9M470.2 36.2h0.9M482.2 31.8h0.9M480.1 44.9h0.9M471.0 21.4h0.9M467.7 39.1h0.9M477.5 32.7h0.9M467.3 32.8h0.9M469.0 28.2h0.9M484.2 34.9h0.9M472.8 41.2h0.9M474.5 46.1h0.9M478.5 48.7h0.9M475.1 40.1h0.9M461.3 47.6h0.9M473.9 29.7h0.9M470.6 19.9h0.9M485.5 40.1h0.9M456.7 34.7h0.9M457.2 29.1h0.9M457.4 35.1h0.9M458.5 33.1h0.9M466.8 39.9h0.9M460.8 34.5h0.9M481.1 41.8h0.9M476.2 50.2h0.9M469.4 40.1h0.9M473.5 32.2h0.9M462.6 27.3h0.9M474.4 41.2h0.9M463.4 32.2h0.9M482.0 30.8h0.9M462.3 27.5h0.9M466.5 37.1h0.9M456.4 31.5h0.9M461.5 27.7h0.9M463.6 22.7h0.9M466.9 42.5h0.9M462.7 33.9h0.9M470.4 34.7h0.9M466.7 34.1h0.9M477.7 35.5h0.9M470.3 22.7h0.9M467.6 29.1h0.9M490.3 45.5h0.9M482.0 29.5h0.9M460.0 32.4h0.9M471.2 25.6h0.9M458.5 32.3h0.9M463.6 45.2h0.9M467.7 35.9h0.9M479.5 34.5h0.9M462.1 36.6h0.9M487.3 46.6h0.9M464.7 37.1h0.9M462.7 30.6h0.9M474.6 45.8h0.9M476.5 33.4h0.9M480.9 36.9h0.9M470.5 27.7h0.9M483.8 36.4h0.9M474.1 39.6h0.9M466.9 33.9h0.9M477.7 35.8h0.9M469.9 26.2h0.9M458.0 26.1h0.9M467.6 29.3h0.9M471.6 29.2h0.9M468.6 42.1h0.9M473.9 39.3h0.9M465.8 26.0h0.9M468.2 37.4h0.9M467.1 27.6h0.9M487.1 45.2h0.9M481.6 37.5h0.9M469.1 32.5h0.9M474.5 44.7h0.9M467.3 34.9h0.9M460.6 32.6h0.9M470.6 28.3h0.9M478.6 51.3h0.9M474.2 26.0h0.9M486.4 52.4h0.9M464.6 39.1h0.9M487.7 40.0h0.9M463.2 32.7h0.9M476.4 28.5h0.9M479.8 34.8h0.9M466.4 33.0h0.9M465.6 23.8h0.9M484.7 30.5h0.9M481.0 24.3h0.9M479.4 46.3h0.9M471.3 40.2h0.9M471.1 36.7h0.9M468.6 38.3h0.9M468.7 27.3h0.9M469.0 39.4h0.9M455.5 20.8h0.9M473.8 41.8h0.9M459.7 25.2h0.9" stroke="#000" stroke-width="0.9" stroke-opacity="0.12"/>
<path d="M451.5,63 C451.5,57 455,55 463,55 C472,54 484,52 493,51.5 C499,52 501.5,56 501.5,62 C501.5,69 499,72.5 492,72.5 C482,72 470,71 460,70.5 C454,70 451.5,67 451.5,63 Z" fill="#f6f6f6" stroke="#555" stroke-width="0.7" />
<path d="M455,63 C455,59 458,57.5 464,57.5 C472,57 482,55.5 490,55 C495,55 498,58 498,62 C498,67 496,70 490,70 C480,69.5 470,68.8 462,68.5 C457,68 455,66 455,63 Z" fill="#e4e4e4" stroke="#555" stroke-width="0.6" />
<path d="M458.5,63 C458.5,60.5 461,59.5 465,59.5 C470,59.5 474,60 478,61 M458.5,63 C459,65.5 462,66.5 466,66.5 C471,66.5 476,66 480,65" fill="none" stroke="#666" stroke-width="0.5" />
<path d="M478.5,62.5 C481,59 486,55.5 491,54 C495,53 499,53.5 499.8,56 C500.5,60 500.5,65 499.8,69 C499,71.5 495,71.5 491,71 C486,69.5 481,66 478.5,62.5 Z" fill="#c4c4c4" stroke="#333" stroke-width="0.8" />
<path d="M483,62.5 C485,60 489,57.5 492.5,56.5 C495.5,56 497.5,57 497.8,59.5 C498.2,62 498.2,64 497.8,66.5 C497.2,68.5 495,69 492.5,68.5 C489,67.5 485,65 483,62.5 Z" fill="#8a8a8a" stroke="#111" stroke-width="1.5" />
<path d="M487.5,62.5 C489,61 491,60 493,59.5 C494.8,59.5 495.5,61 495.5,62.5 C495.5,64.5 494.8,65.5 493,65.5 C491,65 489,64 487.5,62.5 Z" fill="#e0e0e0" stroke="#222" stroke-width="0.9" />
<line x1="497.2" y1="56" x2="497.2" y2="69" stroke="#111" stroke-width="1.6" />
<line x1="439.7" y1="48.5" x2="514.7" y2="48.5" stroke="#333" stroke-width="1.1" />
<line x1="473.8" y1="9.9" x2="473.8" y2="83.6" stroke="#333" stroke-width="1.1" />
<text x="441" y="16.6" font-size="7.4" font-weight="normal" text-anchor="start" fill="#222" >0.976</text>
<text x="513.5" y="16.6" font-size="7.4" font-weight="normal" text-anchor="end" fill="#222" >1.05</text>
<text x="441" y="82.5" font-size="7.4" font-weight="normal" text-anchor="start" fill="#222" >22.2</text>
<text x="513.5" y="82.5" font-size="7.4" font-weight="normal" text-anchor="end" fill="#222" >75.7</text>
<rect x="32.3" y="116.5" width="69.2" height="69.80000000000001" fill="none" stroke="#8a8a8a" stroke-width="0.8" />
<line x1="29.799999999999997" y1="119.1" x2="32.3" y2="119.1" stroke="#888" stroke-width="0.6" />
<line x1="29.799999999999997" y1="132.54" x2="32.3" y2="132.54" stroke="#888" stroke-width="0.6" />
<line x1="29.799999999999997" y1="145.98000000000002" x2="32.3" y2="145.98000000000002" stroke="#888" stroke-width="0.6" />
<line x1="29.799999999999997" y1="159.42000000000002" x2="32.3" y2="159.42000000000002" stroke="#888" stroke-width="0.6" />
<line x1="29.799999999999997" y1="172.86" x2="32.3" y2="172.86" stroke="#888" stroke-width="0.6" />
<line x1="29.799999999999997" y1="186.3" x2="32.3" y2="186.3" stroke="#888" stroke-width="0.6" />
<text x="29.299999999999997" y="120.3" font-size="3.6" font-weight="normal" text-anchor="end" fill="#777" >250K</text>
<text x="29.299999999999997" y="133.73999999999998" font-size="3.6" font-weight="normal" text-anchor="end" fill="#777" >200K</text>
<text x="29.299999999999997" y="147.18" font-size="3.6" font-weight="normal" text-anchor="end" fill="#777" >150K</text>
<text x="29.299999999999997" y="160.62" font-size="3.6" font-weight="normal" text-anchor="end" fill="#777" >100K</text>
<text x="29.299999999999997" y="174.06" font-size="3.6" font-weight="normal" text-anchor="end" fill="#777" >50K</text>
<text x="29.299999999999997" y="187.5" font-size="3.6" font-weight="normal" text-anchor="end" fill="#777" >0</text>
<line x1="47.524" y1="186.3" x2="47.524" y2="188.8" stroke="#888" stroke-width="0.6" />
<text x="47.524" y="192.8" font-size="3.6" font-weight="normal" text-anchor="middle" fill="#777" >0</text>
<line x1="61.364" y1="186.3" x2="61.364" y2="188.8" stroke="#888" stroke-width="0.6" />
<text x="61.364" y="192.8" font-size="3.6" font-weight="normal" text-anchor="middle" fill="#777" >10³</text>
<line x1="75.20400000000001" y1="186.3" x2="75.20400000000001" y2="188.8" stroke="#888" stroke-width="0.6" />
<text x="75.20400000000001" y="192.8" font-size="3.6" font-weight="normal" text-anchor="middle" fill="#777" >10³</text>
<line x1="89.044" y1="186.3" x2="89.044" y2="188.8" stroke="#888" stroke-width="0.6" />
<text x="89.044" y="192.8" font-size="3.6" font-weight="normal" text-anchor="middle" fill="#777" >10⁴</text>
<line x1="101.5" y1="186.3" x2="101.5" y2="188.8" stroke="#888" stroke-width="0.6" />
<text x="101.5" y="192.8" font-size="3.6" font-weight="normal" text-anchor="middle" fill="#777" >10⁵</text>
<text transform="translate(20.2,152.4) rotate(-90)" font-size="12.8" font-weight="normal" text-anchor="middle" fill="#000"  stroke="#000" stroke-width="0.18">SSC</text>
<text x="68.7" y="206.4" font-size="12.5" font-weight="normal" text-anchor="middle" fill="#000"  stroke="#000" stroke-width="0.18">Aqua live/dead</text>
<text x="35.5" y="130.8" font-size="12.1" font-weight="normal" text-anchor="start" fill="#000"  stroke="#000" stroke-width="0.18">HIV+</text>
<path d="M58.8 173.0h0.9M64.5 160.8h0.9M64.0 153.7h0.9M52.7 177.9h0.9M66.9 148.8h0.9M64.2 155.7h0.9M55.9 173.4h0.9M61.6 158.9h0.9M65.3 148.0h0.9M71.9 129.5h0.9M57.4 179.2h0.9M62.6 161.5h0.9M70.4 157.4h0.9M65.2 165.1h0.9M57.1 175.0h0.9M64.1 154.3h0.9M75.4 149.0h0.9M67.2 150.5h0.9M66.8 137.1h0.9M65.2 151.4h0.9M51.4 173.7h0.9M72.3 149.5h0.9M72.5 130.7h0.9M65.0 129.2h0.9M67.4 144.2h0.9M70.1 138.2h0.9M64.3 169.9h0.9M74.2 143.1h0.9M71.5 140.1h0.9M48.2 177.1h0.9M69.9 133.2h0.9M66.8 162.2h0.9M62.0 155.3h0.9M64.1 167.7h0.9M69.2 133.9h0.9M68.4 162.8h0.9M66.5 136.0h0.9M56.9 176.8h0.9M68.2 144.0h0.9M69.7 136.8h0.9M57.0 175.9h0.9M55.0 176.5h0.9M64.1 136.1h0.9M63.5 124.9h0.9M61.4 176.0h0.9M65.8 151.4h0.9M72.7 132.5h0.9M72.4 136.6h0.9M67.2 142.8h0.9M70.5 130.6h0.9M68.7 136.3h0.9M71.0 136.9h0.9M64.6 179.1h0.9M72.4 135.7h0.9M71.4 141.0h0.9M65.5 171.4h0.9M63.8 168.8h0.9M68.8 149.3h0.9M60.8 180.3h0.9M70.2 128.0h0.9M68.7 140.8h0.9M64.9 139.6h0.9M64.0 151.0h0.9M63.5 178.8h0.9M52.1 180.5h0.9M65.3 141.5h0.9M71.3 131.7h0.9M66.5 148.4h0.9M62.9 163.8h0.9M69.6 149.5h0.9M58.4 179.6h0.9M63.8 151.7h0.9M64.0 160.3h0.9M62.5 152.2h0.9M69.3 141.0h0.9M65.1 147.6h0.9M68.4 149.1h0.9M56.6 172.6h0.9M65.8 171.6h0.9M67.7 162.3h0.9M62.0 175.6h0.9M49.7 180.5h0.9M68.6 130.5h0.9M65.0 144.6h0.9M70.2 135.2h0.9M61.3 157.6h0.9M62.7 162.9h0.9M65.4 147.5h0.9M69.7 130.0h0.9M68.2 137.9h0.9M54.9 168.0h0.9M69.3 153.7h0.9M64.2 151.7h0.9M66.6 164.0h0.9M64.8 137.5h0.9M70.9 144.1h0.9M63.7 160.1h0.9M63.8 153.9h0.9M70.5 127.7h0.9M66.1 148.7h0.9M69.1 124.1h0.9M69.4 159.5h0.9M67.8 159.8h0.9M59.0 163.9h0.9M69.6 147.0h0.9M66.0 141.6h0.9M71.7 134.0h0.9M70.0 141.6h0.9M72.8 130.1h0.9M65.3 172.6h0.9M66.9 138.1h0.9M71.7 125.8h0.9M70.1 131.8h0.9M55.6 181.1h0.9M55.2 174.9h0.9M63.5 137.2h0.9M68.0 140.8h0.9M73.3 143.1h0.9M66.1 144.9h0.9M67.1 157.3h0.9M62.9 147.9h0.9M62.2 153.0h0.9M69.1 133.1h0.9M51.5 181.2h0.9M62.3 182.2h0.9M59.5 176.1h0.9M54.1 172.0h0.9M67.2 135.2h0.9M43.8 180.8h0.9M67.6 131.0h0.9M70.5 131.4h0.9M66.8 156.6h0.9M66.7 143.6h0.9M75.5 142.4h0.9M60.7 154.4h0.9M70.0 134.3h0.9M60.2 161.4h0.9M57.4 179.1h0.9M58.3 177.7h0.9M72.4 137.4h0.9M71.4 129.7h0.9M66.1 147.5h0.9M68.3 154.6h0.9M72.7 142.4h0.9M67.9 146.0h0.9M61.9 147.1h0.9M70.2 135.2h0.9M66.5 166.2h0.9M71.8 130.1h0.9M59.6 140.3h0.9M63.2 158.7h0.9M65.8 157.9h0.9M65.2 135.3h0.9M62.7 158.9h0.9M68.7 162.9h0.9M72.6 138.9h0.9M61.8 164.2h0.9M58.8 154.8h0.9M73.2 130.8h0.9M59.0 162.8h0.9M67.7 140.7h0.9M72.1 143.7h0.9M61.6 176.2h0.9M65.3 143.8h0.9M69.1 137.6h0.9M67.0 157.9h0.9M52.7 178.5h0.9M62.4 163.4h0.9M70.6 125.9h0.9M67.5 168.0h0.9M55.6 175.5h0.9M61.7 162.5h0.9M60.9 159.4h0.9M67.7 146.8h0.9M68.1 146.1h0.9M72.7 131.4h0.9M58.7 160.5h0.9M58.2 165.3h0.9M69.0 150.8h0.9M68.2 145.7h0.9M68.1 138.5h0.9M56.4 168.0h0.9M58.6 170.8h0.9M63.5 169.3h0.9M61.4 148.8h0.9M50.4 179.7h0.9M66.3 159.6h0.9M68.2 145.9h0.9M65.1 143.6h0.9M64.7 160.4h0.9M61.0 171.7h0.9M50.0 178.8h0.9M68.7 141.6h0.9M58.0 163.0h0.9M55.8 171.1h0.9M62.6 165.4h0.9M58.6 177.5h0.9M58.8 147.5h0.9M68.8 150.0h0.9M65.4 143.5h0.9M69.7 139.2h0.9M71.6 127.6h0.9M62.4 163.1h0.9M69.0 146.3h0.9M57.2 174.5h0.9M58.0 171.2h0.9M62.2 174.7h0.9M70.7 130.7h0.9M62.6 157.6h0.9M66.0 145.5h0.9M63.2 168.3h0.9M72.7 158.9h0.9M67.4 129.3h0.9M70.2 133.2h0.9M68.2 163.9h0.9M67.6 147.3h0.9M68.4 133.0h0.9M74.7 132.9h0.9M69.5 129.6h0.9M68.5 150.2h0.9M71.0 138.0h0.9M60.3 167.5h0.9M50.8 179.4h0.9M64.2 150.5h0.9M67.0 164.3h0.9M58.0 178.7h0.9M68.8 148.7h0.9M64.9 161.0h0.9M68.2 131.0h0.9M69.2 149.2h0.9M63.3 180.0h0.9M67.5 132.1h0.9M59.7 181.4h0.9M72.9 131.0h0.9M68.8 145.8h0.9M69.2 147.5h0.9M65.9 133.6h0.9M57.2 169.4h0.9M68.5 133.5h0.9M62.3 162.4h0.9M67.4 131.4h0.9M66.3 134.8h0.9M69.3 133.6h0.9M69.4 158.8h0.9M57.7 180.0h0.9M69.6 151.2h0.9M65.3 162.9h0.9M72.7 139.7h0.9M67.9 138.6h0.9M65.3 137.3h0.9M55.1 165.9h0.9M64.7 152.9h0.9M70.3 139.1h0.9M66.0 157.4h0.9M57.6 182.2h0.9M59.9 159.6h0.9M55.1 173.3h0.9M58.0 173.2h0.9M56.6 171.8h0.9M69.6 140.6h0.9M58.7 178.6h0.9M60.4 173.4h0.9M69.0 134.9h0.9M51.2 176.8h0.9M68.8 130.0h0.9M61.3 162.6h0.9M67.5 137.9h0.9M66.0 133.8h0.9M74.3 157.9h0.9M70.8 137.2h0.9M58.2 170.4h0.9M47.4 175.3h0.9M69.0 156.7h0.9M55.9 179.3h0.9M53.6 169.8h0.9M67.2 139.6h0.9M66.7 150.6h0.9M68.4 141.9h0.9M66.4 153.9h0.9M66.8 127.6h0.9M65.3 142.7h0.9M72.1 134.4h0.9M63.3 173.9h0.9M65.6 134.4h0.9M61.9 145.3h0.9M55.2 178.3h0.9M68.0 170.0h0.9M60.7 163.7h0.9M71.3 153.0h0.9M63.0 181.0h0.9M62.7 130.8h0.9M56.5 168.6h0.9M72.6 131.8h0.9M70.1 131.5h0.9M71.9 142.8h0.9M56.9 183.1h0.9M70.9 174.2h0.9M73.3 144.8h0.9M63.6 158.1h0.9M65.7 173.7h0.9M73.9 138.3h0.9M61.8 145.5h0.9M53.6 183.1h0.9M50.9 179.5h0.9M67.4 129.1h0.9M67.3 142.9h0.9M64.5 139.9h0.9M65.5 157.3h0.9M55.0 175.8h0.9M73.3 143.1h0.9M67.2 141.0h0.9M68.2 141.7h0.9M57.6 177.4h0.9M65.2 173.6h0.9M67.4 165.5h0.9M71.2 131.6h0.9M63.9 165.5h0.9M64.9 143.9h0.9M58.2 182.8h0.9M71.8 142.6h0.9M63.4 157.8h0.9M60.2 169.4h0.9M61.1 158.9h0.9M62.9 168.4h0.9M65.9 142.9h0.9M70.7 129.9h0.9M68.6 158.6h0.9M59.8 180.4h0.9M65.3 163.4h0.9M65.5 136.4h0.9M56.8 179.5h0.9M68.4 133.4h0.9M58.3 167.4h0.9M54.8 170.3h0.9M67.6 140.9h0.9M62.9 154.0h0.9M70.5 149.4h0.9M63.2 146.5h0.9M71.5 145.2h0.9M57.4 181.3h0.9M74.3 135.3h0.9M55.8 179.9h0.9M64.2 163.8h0.9M65.9 156.3h0.9M65.6 153.2h0.9M70.0 136.2h0.9M71.5 130.8h0.9M63.2 162.0h0.9M66.8 140.2h0.9M68.5 141.0h0.9M65.3 157.4h0.9M66.6 140.4h0.9M66.1 150.4h0.9M66.0 139.1h0.9M74.9 156.8h0.9M68.2 158.5h0.9M61.1 165.7h0.9M53.2 176.3h0.9M52.5 177.6h0.9M69.1 161.7h0.9M70.0 133.7h0.9M73.2 152.5h0.9M71.5 131.0h0.9M73.6 138.5h0.9M59.9 170.0h0.9M66.2 168.6h0.9M54.7 180.8h0.9M65.3 158.7h0.9M70.7 135.5h0.9M63.1 145.0h0.9M66.9 133.5h0.9M58.5 179.4h0.9M58.6 169.9h0.9M68.3 133.0h0.9M70.4 136.0h0.9M66.1 162.1h0.9M69.8 151.7h0.9M58.8 176.1h0.9M69.4 134.7h0.9M59.0 169.3h0.9M66.8 134.1h0.9M63.9 135.8h0.9M64.5 161.4h0.9M48.5 178.3h0.9M64.5 162.2h0.9M61.2 164.2h0.9M62.5 165.6h0.9M65.8 140.1h0.9M60.3 160.5h0.9M70.1 128.0h0.9M66.4 137.6h0.9M62.0 159.0h0.9M66.5 141.9h0.9M66.5 160.1h0.9M66.0 129.1h0.9M70.7 147.5h0.9M63.1 149.8h0.9M63.2 178.5h0.9M71.9 132.3h0.9M69.0 126.5h0.9M63.3 179.4h0.9M60.8 164.7h0.9M56.8 180.1h0.9M53.4 184.5h0.9M74.8 132.5h0.9M63.4 178.1h0.9M55.9 170.8h0.9M61.8 151.7h0.9M71.3 144.8h0.9M73.7 132.1h0.9M67.4 135.8h0.9M69.3 152.3h0.9M65.7 140.9h0.9M67.1 158.4h0.9M57.7 174.7h0.9M55.5 177.6h0.9M67.4 145.8h0.9M67.6 163.2h0.9M50.3 172.1h0.9M68.1 125.8h0.9M69.2 140.6h0.9M71.1 158.8h0.9M63.9 147.4h0.9M67.4 143.1h0.9M49.8 175.9h0.9M71.8 137.2h0.9M60.2 173.0h0.9M52.5 179.0h0.9M68.6 137.8h0.9M59.8 170.4h0.9M66.1 146.9h0.9M72.0 134.2h0.9M55.2 180.6h0.9M65.0 148.3h0.9M62.6 176.5h0.9M53.6 182.1h0.9M60.0 159.6h0.9M68.3 130.1h0.9M68.1 150.7h0.9M66.6 160.7h0.9M70.3 163.0h0.9M67.7 129.5h0.9M61.7 149.7h0.9M53.0 177.6h0.9M60.3 161.3h0.9M62.0 185.1h0.9M56.2 173.2h0.9M69.5 128.1h0.9M53.0 178.8h0.9M60.2 169.3h0.9M63.8 156.9h0.9M72.1 138.1h0.9M66.4 166.5h0.9M51.3 173.5h0.9M64.0 151.3h0.9M67.3 144.7h0.9M65.1 145.5h0.9M70.0 140.2h0.9M68.7 142.1h0.9M67.5 157.5h0.9M68.4 155.5h0.9M67.2 155.7h0.9M68.0 180.9h0.9M67.6 164.2h0.9M69.1 139.3h0.9M58.2 162.1h0.9M71.3 148.3h0.9M69.6 138.7h0.9M71.3 127.6h0.9M45.9 182.2h0.9M60.0 179.3h0.9M69.9 132.9h0.9M68.7 141.3h0.9M46.3 177.5h0.9M71.0 140.5h0.9M64.5 151.9h0.9M61.5 165.3h0.9M60.8 159.8h0.9M64.2 174.7h0.9M61.9 177.5h0.9M59.9 185.1h0.9M72.7 155.7h0.9M71.0 142.9h0.9M64.9 152.9h0.9M51.5 182.3h0.9M70.2 133.4h0.9M62.2 137.4h0.9M69.3 134.0h0.9M63.4 172.8h0.9M64.9 161.7h0.9M69.7 157.6h0.9M57.6 173.8h0.9M68.9 130.9h0.9M65.1 136.1h0.9M59.4 176.2h0.9M67.4 147.9h0.9M68.2 133.6h0.9M70.5 142.2h0.9M64.5 162.3h0.9M66.9 139.5h0.9" stroke="#000" stroke-width="0.9" stroke-opacity="0.35"/>
<path d="M82.7 176.2h0.9M82.5 167.7h0.9M84.0 130.9h0.9M84.5 175.1h0.9M87.3 171.2h0.9M85.2 136.9h0.9M76.3 158.4h0.9M78.5 147.1h0.9M86.8 138.3h0.9M87.2 128.2h0.9M83.1 134.1h0.9M74.7 181.1h0.9M78.4 161.0h0.9M82.6 165.3h0.9M77.4 175.3h0.9M76.6 172.0h0.9M81.3 141.6h0.9M75.7 168.9h0.9M84.0 139.5h0.9M85.3 158.3h0.9M73.3 176.0h0.9M85.0 135.5h0.9M82.4 163.3h0.9M73.5 176.8h0.9M87.3 178.9h0.9M86.8 133.7h0.9M80.6 161.2h0.9M91.7 154.0h0.9M80.8 156.2h0.9M85.9 152.5h0.9M80.8 175.5h0.9M86.2 170.7h0.9M87.8 153.1h0.9M82.6 140.9h0.9M74.9 158.1h0.9M76.8 175.8h0.9M88.1 161.8h0.9M77.8 143.1h0.9M80.2 173.9h0.9M84.7 149.9h0.9M78.4 147.4h0.9M81.2 138.6h0.9M78.1 170.9h0.9M78.0 179.0h0.9M79.9 166.1h0.9M90.8 139.3h0.9M87.2 151.3h0.9M83.1 175.1h0.9M81.7 155.8h0.9M82.1 153.6h0.9M77.5 182.5h0.9M93.2 146.2h0.9M91.2 169.6h0.9M77.9 154.6h0.9M79.0 174.0h0.9M74.6 148.1h0.9M75.2 161.7h0.9M82.0 146.3h0.9M83.0 156.6h0.9M82.7 155.8h0.9M80.7 160.2h0.9M87.1 149.1h0.9M84.4 153.1h0.9M91.1 159.2h0.9M77.2 149.0h0.9M77.7 145.6h0.9M83.9 166.3h0.9M88.6 137.0h0.9M84.2 145.7h0.9M90.3 138.4h0.9M75.3 169.3h0.9M77.1 132.4h0.9M78.9 175.2h0.9M81.0 169.8h0.9M95.1 142.4h0.9M77.6 153.8h0.9M83.3 168.5h0.9M76.9 164.2h0.9M80.3 169.8h0.9M82.5 164.8h0.9M84.1 145.1h0.9M88.4 164.4h0.9M78.7 160.9h0.9M84.0 144.5h0.9M77.5 148.0h0.9M77.3 139.2h0.9M88.9 166.9h0.9M87.8 149.8h0.9M92.0 129.0h0.9M81.1 141.2h0.9M80.1 158.1h0.9M85.5 146.8h0.9M81.3 179.2h0.9M81.7 162.3h0.9M96.0 153.6h0.9M80.7 168.3h0.9M84.7 162.2h0.9M79.8 148.9h0.9M83.9 169.9h0.9M88.4 138.9h0.9M76.8 165.1h0.9M85.6 153.9h0.9M80.9 156.6h0.9M71.5 172.0h0.9M80.4 153.2h0.9M79.9 140.5h0.9M80.2 172.0h0.9M83.6 166.2h0.9M86.1 156.0h0.9M79.9 164.2h0.9M87.5 147.6h0.9M75.8 173.8h0.9M75.4 161.0h0.9M78.2 179.2h0.9M83.5 156.9h0.9M87.3 153.6h0.9M84.3 142.4h0.9M74.8 168.4h0.9M87.0 158.0h0.9M83.8 142.7h0.9M85.1 142.6h0.9M79.6 167.0h0.9M82.4 178.9h0.9M70.5 179.3h0.9M76.2 171.4h0.9M73.8 174.4h0.9M85.3 175.0h0.9M85.0 159.6h0.9M88.1 141.6h0.9M74.1 161.5h0.9M73.4 172.2h0.9M84.8 129.0h0.9M80.0 134.0h0.9M77.5 151.5h0.9M88.0 136.7h0.9M78.8 160.9h0.9M79.1 151.0h0.9M76.6 154.0h0.9M79.1 144.5h0.9M84.3 136.5h0.9M77.3 151.6h0.9M79.1 173.8h0.9M83.5 144.2h0.9M75.6 138.3h0.9M84.7 138.6h0.9M72.8 167.0h0.9M87.0 146.3h0.9M79.5 143.6h0.9M86.5 153.0h0.9M81.1 158.7h0.9M89.3 146.0h0.9M83.9 140.0h0.9M75.4 159.7h0.9M86.3 133.2h0.9M74.4 172.4h0.9M84.3 155.0h0.9M80.8 166.2h0.9M85.4 153.0h0.9M81.9 178.3h0.9M86.2 144.3h0.9M82.1 150.7h0.9M87.7 161.9h0.9M79.4 170.7h0.9M81.1 166.0h0.9M84.8 149.5h0.9M76.0 171.1h0.9M79.8 152.4h0.9M84.5 143.9h0.9M91.6 143.9h0.9M82.8 138.3h0.9M78.1 168.6h0.9M85.8 157.1h0.9M80.6 144.9h0.9M91.6 130.5h0.9M76.5 177.5h0.9M86.9 171.9h0.9M77.7 169.3h0.9M83.5 146.8h0.9M73.3 150.1h0.9M82.9 170.3h0.9M75.6 161.2h0.9M91.2 141.1h0.9M84.6 154.1h0.9M79.5 168.6h0.9M80.4 138.2h0.9M85.9 147.0h0.9M87.7 143.6h0.9M80.0 140.9h0.9M82.9 142.7h0.9M77.7 137.2h0.9M80.2 153.8h0.9M73.5 165.4h0.9M84.5 149.0h0.9M79.9 144.5h0.9M81.4 145.2h0.9M84.8 163.6h0.9M79.1 167.5h0.9M84.4 152.5h0.9M84.9 147.6h0.9M91.1 157.1h0.9M78.0 177.6h0.9M78.3 156.8h0.9M86.0 152.4h0.9M92.1 148.5h0.9M79.1 166.6h0.9M84.7 170.5h0.9M86.6 147.0h0.9M82.9 140.6h0.9M86.9 137.6h0.9M84.3 165.0h0.9M79.7 171.0h0.9M84.8 155.0h0.9M87.9 153.1h0.9M90.6 159.9h0.9M80.9 158.9h0.9M88.0 139.2h0.9M86.6 165.4h0.9M82.7 153.2h0.9M82.9 164.3h0.9M85.2 143.6h0.9M75.4 158.2h0.9M80.0 146.2h0.9M84.2 168.4h0.9M81.4 169.9h0.9M83.8 139.5h0.9M80.4 168.8h0.9M81.3 170.7h0.9M84.5 148.8h0.9M81.7 180.4h0.9M78.3 133.3h0.9M83.2 150.8h0.9M81.7 148.7h0.9M83.3 148.0h0.9M77.0 169.9h0.9M83.7 167.0h0.9M89.0 152.7h0.9M81.4 120.5h0.9M78.5 170.6h0.9M83.0 135.9h0.9M78.7 173.9h0.9M83.8 145.9h0.9M73.7 156.1h0.9M77.4 169.6h0.9M76.6 148.7h0.9M80.6 179.9h0.9M70.1 179.0h0.9M80.9 131.2h0.9M70.9 146.1h0.9M79.6 171.7h0.9M77.2 172.3h0.9M84.9 160.9h0.9M84.5 132.7h0.9M88.1 135.0h0.9M90.3 166.4h0.9M73.6 167.9h0.9M84.7 155.0h0.9M87.0 148.4h0.9M83.5 143.0h0.9M83.6 139.0h0.9M82.1 138.5h0.9M84.2 165.8h0.9M81.9 134.6h0.9M82.4 140.1h0.9M65.5 172.0h0.9M72.8 177.3h0.9M78.6 172.9h0.9M76.6 184.1h0.9M78.7 175.7h0.9M69.4 165.0h0.9M87.8 143.1h0.9M71.6 178.2h0.9M85.9 155.4h0.9M86.7 144.7h0.9M88.3 138.5h0.9M74.5 179.4h0.9M84.2 142.6h0.9M84.3 169.6h0.9M81.7 138.0h0.9M79.5 175.0h0.9M76.4 166.7h0.9M81.0 147.8h0.9M74.6 171.7h0.9M77.7 140.1h0.9M82.6 143.2h0.9M80.3 180.3h0.9M71.7 177.5h0.9M87.0 142.1h0.9M73.9 167.3h0.9M88.4 149.3h0.9M82.0 175.2h0.9M79.2 171.9h0.9M76.6 161.4h0.9M86.7 170.5h0.9M81.4 155.5h0.9M77.4 167.4h0.9M72.4 143.3h0.9M78.2 163.2h0.9M85.5 144.4h0.9M80.7 177.2h0.9M78.5 176.1h0.9M80.7 145.0h0.9M77.2 170.2h0.9M77.2 166.9h0.9M88.1 151.5h0.9M87.5 159.9h0.9M79.8 154.0h0.9M79.7 156.0h0.9M80.7 138.1h0.9M81.3 139.2h0.9M77.3 179.4h0.9M89.0 165.1h0.9M79.6 142.9h0.9M74.8 178.6h0.9M83.6 133.2h0.9M73.4 177.8h0.9M81.0 140.1h0.9M85.0 155.8h0.9M77.9 161.6h0.9M87.2 168.1h0.9M78.0 173.7h0.9M79.3 183.6h0.9M75.3 174.9h0.9M79.4 179.4h0.9M82.7 158.8h0.9M87.8 145.3h0.9M85.6 166.9h0.9M76.7 135.4h0.9M80.3 170.6h0.9M80.9 147.6h0.9M85.3 150.1h0.9M89.1 135.4h0.9M80.5 145.2h0.9M78.9 141.9h0.9M79.0 179.7h0.9M76.8 132.3h0.9M82.8 127.8h0.9M78.1 180.7h0.9M82.9 133.2h0.9M81.7 134.4h0.9M70.4 171.4h0.9M83.6 154.9h0.9M84.5 160.3h0.9M92.2 139.0h0.9M84.6 162.7h0.9M81.6 151.7h0.9M88.0 125.5h0.9M84.4 132.3h0.9M81.8 163.8h0.9M83.2 138.7h0.9M82.6 174.9h0.9M82.7 155.5h0.9M78.3 168.5h0.9M79.4 174.7h0.9M83.7 151.9h0.9M76.4 166.2h0.9M75.9 176.2h0.9M83.5 150.7h0.9M82.5 143.1h0.9M77.7 162.8h0.9M81.4 152.3h0.9M65.8 172.1h0.9M77.0 150.2h0.9M78.4 157.5h0.9M89.1 160.8h0.9M84.4 147.7h0.9M76.4 155.0h0.9M81.4 137.7h0.9M87.2 162.7h0.9M78.7 135.3h0.9M75.0 179.6h0.9M78.8 173.2h0.9M84.1 175.3h0.9M85.5 174.5h0.9M80.7 178.7h0.9M79.6 179.4h0.9M80.5 161.1h0.9M85.2 153.3h0.9M79.9 153.7h0.9M90.1 148.1h0.9M94.1 170.2h0.9M81.6 164.4h0.9M80.7 155.2h0.9M76.5 149.3h0.9M79.0 138.6h0.9M86.9 156.2h0.9M84.4 168.2h0.9M83.0 149.6h0.9M81.0 121.5h0.9M84.1 163.4h0.9M79.1 162.6h0.9M79.8 150.8h0.9M71.1 167.6h0.9M77.9 155.9h0.9M85.2 132.1h0.9M81.5 167.6h0.9M74.9 152.8h0.9M86.9 155.4h0.9M76.3 168.8h0.9M82.9 159.0h0.9M85.6 145.9h0.9M82.6 137.8h0.9M69.1 162.8h0.9M77.0 150.3h0.9M70.1 170.2h0.9M81.0 162.7h0.9M82.7 166.1h0.9M81.8 170.8h0.9M71.4 148.3h0.9M80.2 163.8h0.9M77.4 177.3h0.9M79.2 173.8h0.9M87.5 133.7h0.9M77.4 171.7h0.9M84.8 163.7h0.9M89.0 141.9h0.9M78.2 157.6h0.9M86.8 138.7h0.9M77.4 157.7h0.9M76.5 165.5h0.9M89.2 135.1h0.9M80.0 139.8h0.9M77.9 166.8h0.9M82.9 157.2h0.9M88.4 148.6h0.9M80.7 166.6h0.9M87.7 148.4h0.9M75.3 154.9h0.9M84.8 154.8h0.9M70.1 173.4h0.9M78.1 184.1h0.9M75.3 167.5h0.9M85.5 139.8h0.9M76.7 176.9h0.9M78.1 163.8h0.9M82.5 178.6h0.9M77.0 177.0h0.9M80.0 120.2h0.9M80.0 164.2h0.9M85.5 133.9h0.9M83.3 130.4h0.9M82.9 151.0h0.9M80.0 151.9h0.9M83.1 135.0h0.9M87.7 138.7h0.9M81.3 167.4h0.9M91.8 139.3h0.9M83.7 148.6h0.9M81.5 142.0h0.9M81.4 128.3h0.9M77.5 172.3h0.9" stroke="#000" stroke-width="0.9" stroke-opacity="0.25"/>
<path d="M60.5 173.4h0.9M56.5 176.9h0.9M97.1 130.4h0.9M82.2 158.3h0.9M68.8 142.6h0.9M68.3 166.6h0.9M81.5 159.9h0.9M62.6 155.7h0.9M71.4 172.8h0.9M71.5 168.3h0.9M91.9 157.5h0.9M44.0 164.7h0.9M76.9 160.5h0.9M70.8 173.4h0.9M50.3 175.3h0.9M43.6 154.3h0.9M83.7 154.0h0.9M83.3 164.2h0.9M69.0 176.9h0.9M67.9 169.0h0.9M86.0 142.9h0.9M51.0 160.0h0.9M70.8 142.1h0.9M97.2 157.0h0.9M50.9 167.0h0.9M78.2 179.0h0.9M56.1 160.5h0.9M84.9 167.1h0.9M83.7 164.0h0.9M77.0 164.9h0.9M77.3 150.4h0.9M61.8 168.1h0.9M81.7 165.2h0.9M42.8 143.1h0.9M62.0 153.3h0.9M49.8 166.1h0.9M84.6 169.8h0.9M65.4 175.8h0.9M85.3 158.8h0.9M85.1 172.2h0.9M78.1 156.5h0.9M85.2 147.3h0.9M80.2 156.5h0.9M76.2 153.2h0.9M71.3 148.1h0.9M53.4 178.5h0.9M78.2 154.0h0.9M62.8 153.0h0.9M60.8 154.6h0.9M80.1 139.1h0.9M85.8 151.5h0.9M71.4 169.7h0.9M75.8 176.8h0.9M49.4 180.0h0.9M99.3 166.4h0.9M81.7 174.7h0.9M59.4 167.8h0.9M55.0 144.0h0.9M86.0 169.2h0.9M79.0 148.7h0.9M57.5 162.4h0.9M34.3 165.0h0.9M89.0 138.6h0.9M62.2 150.2h0.9M54.5 153.7h0.9M70.3 171.7h0.9M73.4 178.1h0.9M100.1 125.3h0.9M86.5 148.3h0.9M85.8 167.5h0.9M66.7 153.0h0.9M84.9 128.9h0.9M64.1 141.6h0.9M67.2 161.4h0.9M66.7 175.6h0.9M56.0 178.6h0.9M80.1 176.1h0.9M67.2 165.9h0.9M51.9 168.5h0.9M77.2 164.7h0.9M94.6 156.6h0.9M60.1 169.5h0.9M63.8 181.3h0.9M75.1 152.0h0.9M68.1 165.4h0.9M77.0 135.7h0.9M77.4 166.2h0.9M54.0 149.7h0.9M87.4 148.9h0.9M60.6 182.9h0.9M62.1 170.0h0.9M68.9 134.7h0.9M70.9 180.7h0.9M51.1 138.8h0.9M44.8 163.4h0.9M88.2 156.8h0.9M61.9 176.9h0.9M63.9 156.0h0.9M95.6 121.1h0.9M63.0 156.0h0.9M74.2 162.0h0.9M55.6 153.2h0.9M73.0 164.4h0.9M47.7 165.2h0.9M96.1 156.0h0.9M77.7 169.5h0.9M84.7 140.5h0.9M87.4 181.0h0.9M69.8 151.8h0.9M86.2 152.5h0.9M79.5 161.8h0.9M75.1 168.3h0.9M69.6 158.1h0.9M62.8 163.8h0.9M78.1 137.9h0.9M72.5 168.4h0.9M48.7 162.5h0.9M69.8 170.7h0.9M68.3 157.6h0.9M81.5 173.3h0.9M74.9 157.8h0.9M52.6 163.0h0.9M70.8 153.8h0.9M89.1 159.6h0.9M71.5 146.7h0.9M67.6 176.8h0.9M45.5 185.3h0.9M94.9 161.3h0.9M90.4 147.9h0.9M78.4 161.4h0.9M78.5 139.0h0.9M82.7 148.5h0.9M76.3 142.8h0.9M91.2 158.0h0.9M60.1 153.5h0.9M97.8 140.4h0.9M86.2 134.7h0.9M74.3 161.0h0.9M38.6 167.5h0.9M92.1 136.7h0.9M71.7 168.3h0.9M37.8 156.2h0.9M72.0 174.8h0.9M87.1 155.3h0.9M96.6 125.2h0.9M83.7 154.1h0.9M77.7 153.2h0.9M101.0 141.0h0.9M49.4 164.6h0.9M54.1 180.1h0.9" stroke="#000" stroke-width="0.9" stroke-opacity="0.15"/>
<path d="M49,183 C58,175 63,160 67,145 C68,138 69,132 70,130 C72,132 73,150 72,170 C71,178 68,184 60,185 Z" fill="#000" fill-opacity="0.3" filter="url(#b2)" />
<path d="M48.7,181.9 C54,178 60,170 63.5,158 C66,148 68.5,138 69.8,132.3 C71,136 71.5,148 71.5,160 C71.3,170 71,176 70.6,179.6 C66,183 56,184 48.7,181.9 Z" fill="#e8e8e8" stroke="#111" stroke-width="0.9" />
<path d="M53,181 C58,176 62,168 65,158 C67,150 68.5,142 69.8,136 C70,148 70,162 69.5,175 C65,180 59,181.5 53,181 Z" fill="#bbb" stroke="#222" stroke-width="0.7" />
<path d="M58,180 C62,174 65,165 67,155 C68.2,148 69,143 69.6,140 M61,181 C64,175 66.5,166 68.3,156" fill="none" stroke="#111" stroke-width="0.8" />
<ellipse cx="65.5" cy="173" rx="2.2" ry="6" fill="#111" fill-opacity="1" stroke="none" stroke-width="1" transform="rotate(15 65.5 173)" filter="url(#b0)"/>
<ellipse cx="69" cy="176" rx="1.5" ry="4" fill="#111" fill-opacity="1" stroke="none" stroke-width="1" filter="url(#b0)"/>
<path d="M71.3,175 C71.5,168 74,164.6 76,164.6 C78,165 78.3,170 78,175 C77.5,179 74,180 71.3,178 Z" fill="#eee" stroke="#222" stroke-width="0.8" />
<path d="M73,174 C73.5,170 75,168 76,169 C77,171 76.5,175 75,177 Z" fill="#fff" stroke="#666" stroke-width="0.5" />
<path d="M32.3,117.3 L78.7,117.3 L68.3,184.8 L46.9,184.8" fill="none" stroke="#2a2a2a" stroke-width="1.4" />
<text x="33.5" y="184.6" font-size="6.8" font-weight="normal" text-anchor="start" fill="#222" >81.8</text>
<rect x="135.7" y="115.8" width="71.20000000000002" height="70.8" fill="none" stroke="#8a8a8a" stroke-width="0.8" />
<line x1="133.2" y1="118.39999999999999" x2="135.7" y2="118.39999999999999" stroke="#888" stroke-width="0.6" />
<line x1="133.2" y1="132.04" x2="135.7" y2="132.04" stroke="#888" stroke-width="0.6" />
<line x1="133.2" y1="145.68" x2="135.7" y2="145.68" stroke="#888" stroke-width="0.6" />
<line x1="133.2" y1="159.32" x2="135.7" y2="159.32" stroke="#888" stroke-width="0.6" />
<line x1="133.2" y1="172.95999999999998" x2="135.7" y2="172.95999999999998" stroke="#888" stroke-width="0.6" />
<line x1="133.2" y1="186.6" x2="135.7" y2="186.6" stroke="#888" stroke-width="0.6" />
<text x="132.7" y="119.6" font-size="3.6" font-weight="normal" text-anchor="end" fill="#777" >250K</text>
<text x="132.7" y="133.23999999999998" font-size="3.6" font-weight="normal" text-anchor="end" fill="#777" >200K</text>
<text x="132.7" y="146.88" font-size="3.6" font-weight="normal" text-anchor="end" fill="#777" >150K</text>
<text x="132.7" y="160.51999999999998" font-size="3.6" font-weight="normal" text-anchor="end" fill="#777" >100K</text>
<text x="132.7" y="174.15999999999997" font-size="3.6" font-weight="normal" text-anchor="end" fill="#777" >50K</text>
<text x="132.7" y="187.79999999999998" font-size="3.6" font-weight="normal" text-anchor="end" fill="#777" >0</text>
<line x1="135.7" y1="186.6" x2="135.7" y2="189.1" stroke="#888" stroke-width="0.6" />
<text x="135.7" y="193.1" font-size="3.6" font-weight="normal" text-anchor="middle" fill="#777" >0</text>
<line x1="149.04" y1="186.6" x2="149.04" y2="189.1" stroke="#888" stroke-width="0.6" />
<text x="149.04" y="193.1" font-size="3.6" font-weight="normal" text-anchor="middle" fill="#777" >50K</text>
<line x1="162.38" y1="186.6" x2="162.38" y2="189.1" stroke="#888" stroke-width="0.6" />
<text x="162.38" y="193.1" font-size="3.6" font-weight="normal" text-anchor="middle" fill="#777" >100K</text>
<line x1="175.72" y1="186.6" x2="175.72" y2="189.1" stroke="#888" stroke-width="0.6" />
<text x="175.72" y="193.1" font-size="3.6" font-weight="normal" text-anchor="middle" fill="#777" >150K</text>
<line x1="189.06" y1="186.6" x2="189.06" y2="189.1" stroke="#888" stroke-width="0.6" />
<text x="189.06" y="193.1" font-size="3.6" font-weight="normal" text-anchor="middle" fill="#777" >200K</text>
<line x1="202.4" y1="186.6" x2="202.4" y2="189.1" stroke="#888" stroke-width="0.6" />
<text x="202.4" y="193.1" font-size="3.6" font-weight="normal" text-anchor="middle" fill="#777" >250K</text>
<text transform="translate(123.2,152.5) rotate(-90)" font-size="12.8" font-weight="normal" text-anchor="middle" fill="#000"  stroke="#000" stroke-width="0.18">SSC</text>
<text x="175.9" y="206.3" font-size="12.8" font-weight="normal" text-anchor="middle" fill="#000"  stroke="#000" stroke-width="0.18">FSC</text>
<path d="M142,178 C141,160 142,140 148,130 C155,124 165,127 172,135 C178,142 182,152 180,160 C176,170 170,180 160,183 C150,185 143,183 142,178 Z" fill="#000" fill-opacity="0.35" filter="url(#b2)" />
<path d="M142.9 155.1h0.8M167.5 142.1h0.8M181.2 146.5h0.8M146.4 144.1h0.8M160.6 130.4h0.8M152.1 162.1h0.8M137.1 149.7h0.8M149.1 149.9h0.8M157.3 139.1h0.8M176.9 137.3h0.8M167.8 137.5h0.8M142.5 142.6h0.8M179.2 146.0h0.8M185.5 142.8h0.8M166.9 130.9h0.8M177.5 167.8h0.8M144.1 138.2h0.8M148.5 144.0h0.8M149.8 156.8h0.8M152.1 133.9h0.8M168.8 139.3h0.8M169.6 166.2h0.8M161.2 140.1h0.8M142.3 158.2h0.8M145.9 174.6h0.8M175.2 151.1h0.8M157.0 137.6h0.8M158.5 131.8h0.8M174.7 160.8h0.8M176.9 151.4h0.8M157.6 137.3h0.8M177.3 151.0h0.8M147.6 127.9h0.8M166.6 135.4h0.8M154.2 148.3h0.8M179.2 159.4h0.8M161.5 131.8h0.8M146.4 164.4h0.8M161.9 131.8h0.8M175.8 152.1h0.8M176.2 139.9h0.8M160.7 133.0h0.8M163.0 141.2h0.8M170.5 150.0h0.8M143.2 165.6h0.8M148.7 175.1h0.8M181.6 141.6h0.8M174.4 162.0h0.8M139.8 147.4h0.8M163.2 130.3h0.8M142.5 146.3h0.8M153.4 137.6h0.8M172.0 133.0h0.8M175.4 149.8h0.8M166.6 144.3h0.8M152.1 128.6h0.8M174.0 144.1h0.8M146.5 144.8h0.8M157.8 128.7h0.8M173.2 156.0h0.8M174.0 154.8h0.8M149.7 128.2h0.8M155.0 141.3h0.8M173.3 134.5h0.8M144.9 161.9h0.8M179.8 170.1h0.8M171.7 154.3h0.8M151.3 132.2h0.8M159.5 134.0h0.8M151.6 133.9h0.8M150.8 155.9h0.8M147.0 176.1h0.8M178.9 157.9h0.8M169.1 141.6h0.8M172.4 144.4h0.8M178.4 146.3h0.8M165.8 144.0h0.8M151.0 139.5h0.8M147.8 144.7h0.8M161.9 143.3h0.8M152.4 128.7h0.8M149.3 145.9h0.8M155.4 139.3h0.8M169.1 143.8h0.8M151.2 131.7h0.8M181.6 168.4h0.8M151.5 158.5h0.8M180.1 165.3h0.8M173.9 161.7h0.8M149.8 130.5h0.8M148.2 153.0h0.8M173.1 146.9h0.8M177.4 157.5h0.8M174.8 163.5h0.8M168.7 130.7h0.8M168.3 130.1h0.8M148.7 155.8h0.8M171.4 144.4h0.8M150.2 130.8h0.8M167.1 141.3h0.8M179.5 151.7h0.8M174.4 169.4h0.8M159.7 135.5h0.8M151.4 127.0h0.8M147.5 168.8h0.8M179.8 164.7h0.8M155.7 124.9h0.8M159.6 136.6h0.8M140.8 166.0h0.8M151.0 127.0h0.8M178.7 141.3h0.8M155.8 124.9h0.8M141.7 159.6h0.8M164.0 132.4h0.8M167.5 147.3h0.8M153.3 126.7h0.8M152.4 150.2h0.8M175.7 151.5h0.8M174.9 149.2h0.8M174.1 141.1h0.8M167.0 132.2h0.8M170.8 162.0h0.8M179.6 152.0h0.8M144.1 141.5h0.8M143.6 138.1h0.8M171.4 140.4h0.8M184.1 160.8h0.8M149.2 152.3h0.8M166.0 127.6h0.8M147.4 129.8h0.8M152.6 141.2h0.8M152.8 125.8h0.8M151.1 124.5h0.8M175.3 146.0h0.8M184.0 164.9h0.8M175.3 158.7h0.8M163.6 136.9h0.8M147.1 171.7h0.8M169.5 132.7h0.8M145.5 169.1h0.8M151.7 121.2h0.8M141.1 130.3h0.8M170.9 143.2h0.8M163.9 127.7h0.8M178.4 148.1h0.8M180.2 163.2h0.8M147.7 138.1h0.8M173.5 140.6h0.8M168.4 141.1h0.8M165.2 127.6h0.8M182.0 152.4h0.8M186.6 152.4h0.8M165.3 141.0h0.8M151.5 136.1h0.8M149.2 154.9h0.8M172.7 138.7h0.8M144.7 171.1h0.8M178.7 156.9h0.8M154.3 126.5h0.8M176.5 152.3h0.8M184.7 167.3h0.8M156.1 128.3h0.8M164.2 128.9h0.8M144.1 135.1h0.8M160.6 132.4h0.8M177.0 141.9h0.8M151.9 136.7h0.8M144.2 159.3h0.8M145.8 149.3h0.8M152.5 131.7h0.8M148.5 156.9h0.8M170.1 155.8h0.8M172.0 141.9h0.8M175.5 147.6h0.8M154.0 135.3h0.8M149.4 128.1h0.8M173.8 165.3h0.8M170.7 170.3h0.8M154.0 132.5h0.8M149.2 142.0h0.8M155.4 132.6h0.8M149.6 141.4h0.8M152.3 150.1h0.8M154.7 127.0h0.8M148.2 137.9h0.8M179.7 161.9h0.8M173.6 134.8h0.8M150.5 136.7h0.8M146.8 143.4h0.8M174.2 156.3h0.8M159.7 134.7h0.8M180.8 148.9h0.8M160.5 133.8h0.8M160.6 124.9h0.8M163.8 138.9h0.8M176.9 154.9h0.8M155.4 130.4h0.8M152.3 147.0h0.8M173.2 144.5h0.8M144.5 151.7h0.8M153.5 135.4h0.8M146.2 129.2h0.8M173.4 143.4h0.8M172.8 143.7h0.8M168.3 139.4h0.8M164.4 139.5h0.8M147.7 138.0h0.8M142.9 159.3h0.8M150.7 146.0h0.8M183.2 148.3h0.8M156.4 133.0h0.8M170.5 140.9h0.8M171.9 160.5h0.8M185.5 162.4h0.8M149.5 152.1h0.8M152.9 131.4h0.8M179.7 155.6h0.8M179.2 156.0h0.8M147.4 152.2h0.8M140.0 157.9h0.8M147.2 143.3h0.8M145.4 139.7h0.8M148.5 136.6h0.8M177.9 142.4h0.8M148.3 134.7h0.8M143.3 144.3h0.8M169.3 145.3h0.8M158.1 130.5h0.8M158.5 138.7h0.8M177.1 142.1h0.8M176.4 154.1h0.8M165.7 136.3h0.8M156.2 133.7h0.8M177.1 159.9h0.8M145.8 149.9h0.8M145.2 136.6h0.8M169.1 141.4h0.8M139.9 174.8h0.8M170.6 130.9h0.8M164.7 142.3h0.8M173.1 135.0h0.8M177.0 145.5h0.8M161.8 136.6h0.8M174.7 132.6h0.8M156.4 131.1h0.8M174.0 144.9h0.8M168.2 136.5h0.8M164.6 126.3h0.8M170.1 150.2h0.8M146.7 158.6h0.8M167.9 136.6h0.8M150.2 155.3h0.8M155.5 133.7h0.8M148.9 150.3h0.8M169.8 145.5h0.8M168.6 141.0h0.8M173.0 139.8h0.8M176.5 149.6h0.8M158.2 120.9h0.8M177.4 160.1h0.8M144.5 148.3h0.8M159.8 129.0h0.8M158.0 130.3h0.8M145.5 136.6h0.8M169.3 139.5h0.8M143.0 160.6h0.8M169.3 135.0h0.8M142.0 167.5h0.8M150.6 127.1h0.8M147.4 142.4h0.8M173.6 137.9h0.8M154.5 124.4h0.8M174.7 156.9h0.8M178.0 161.2h0.8M146.6 165.0h0.8M148.0 160.8h0.8M162.7 130.7h0.8M168.2 128.6h0.8M176.3 156.4h0.8M174.0 144.6h0.8M156.6 123.5h0.8M146.6 181.1h0.8M180.9 148.1h0.8M163.2 135.9h0.8M159.9 128.2h0.8M160.7 138.1h0.8M157.3 120.5h0.8M159.5 129.9h0.8M162.7 137.5h0.8M167.6 138.1h0.8M176.5 141.1h0.8M136.6 145.4h0.8M167.2 130.4h0.8M160.9 132.2h0.8M144.5 150.4h0.8M178.4 150.2h0.8M157.1 134.7h0.8M150.0 143.0h0.8M145.2 165.3h0.8M146.3 156.4h0.8M169.3 160.0h0.8M149.2 130.5h0.8M165.7 134.2h0.8M154.9 130.7h0.8M149.0 139.4h0.8M149.3 154.5h0.8M143.1 164.5h0.8M170.2 134.1h0.8M158.6 132.2h0.8M150.1 131.5h0.8M144.5 138.4h0.8M151.7 141.6h0.8M151.4 123.4h0.8M147.1 169.2h0.8M175.0 154.4h0.8M172.4 138.2h0.8M141.3 159.1h0.8M174.7 149.7h0.8M151.6 135.5h0.8M175.4 150.0h0.8M171.2 142.7h0.8M155.2 130.3h0.8M181.8 167.8h0.8M175.5 140.3h0.8M154.3 132.9h0.8M170.2 153.4h0.8M137.6 143.6h0.8M167.1 147.5h0.8M169.2 140.9h0.8M158.0 133.6h0.8M152.0 157.9h0.8M148.3 146.7h0.8M152.8 134.6h0.8M170.3 147.4h0.8M180.8 155.3h0.8M141.0 148.3h0.8M153.6 139.9h0.8M172.9 149.6h0.8M182.0 144.5h0.8M150.2 156.2h0.8M149.1 137.6h0.8M157.6 138.5h0.8M165.8 140.0h0.8M177.8 151.0h0.8M174.4 163.6h0.8M172.8 148.2h0.8M142.6 147.2h0.8M184.5 152.6h0.8M148.6 137.5h0.8M151.8 139.2h0.8M151.4 133.8h0.8M143.2 156.0h0.8M145.7 143.0h0.8M162.7 133.3h0.8M173.0 161.2h0.8M148.5 143.4h0.8M143.2 139.0h0.8M144.2 143.2h0.8M177.5 153.6h0.8M165.6 130.9h0.8M144.0 161.0h0.8M155.9 134.9h0.8M142.5 153.9h0.8M186.7 156.3h0.8M144.8 151.7h0.8M155.0 130.7h0.8M146.6 146.6h0.8M149.3 151.8h0.8M167.3 131.3h0.8M141.4 146.9h0.8M145.3 167.5h0.8M153.8 133.5h0.8M171.2 153.6h0.8M169.9 145.4h0.8M161.8 137.1h0.8M163.9 124.5h0.8M170.8 159.3h0.8M161.5 125.8h0.8M147.2 138.6h0.8M156.3 132.2h0.8M171.0 153.3h0.8M174.3 145.2h0.8M168.4 146.9h0.8M138.6 159.5h0.8M158.9 131.0h0.8M176.8 165.9h0.8M151.2 128.0h0.8M171.8 151.4h0.8M175.8 158.1h0.8M154.3 125.2h0.8M145.2 133.1h0.8M149.3 143.4h0.8M168.9 137.9h0.8M178.5 152.6h0.8M184.8 159.1h0.8M156.1 130.6h0.8M144.9 129.6h0.8M173.2 161.9h0.8M162.3 136.4h0.8M142.0 149.3h0.8M171.5 144.2h0.8M162.8 129.5h0.8M144.0 138.7h0.8M164.7 139.9h0.8M167.9 137.9h0.8M177.4 159.5h0.8M179.4 152.1h0.8M175.0 141.3h0.8M160.9 136.9h0.8M165.2 133.3h0.8M167.1 147.8h0.8M173.1 142.0h0.8M181.2 163.3h0.8M146.1 125.9h0.8M177.7 146.8h0.8M177.1 156.7h0.8M145.1 143.0h0.8M150.9 132.0h0.8M173.8 149.2h0.8M182.7 141.8h0.8M168.0 141.8h0.8M162.6 138.2h0.8M148.0 178.2h0.8M150.2 131.8h0.8M176.6 139.0h0.8M179.4 143.6h0.8M148.2 160.1h0.8M175.4 153.8h0.8M183.2 159.8h0.8M169.7 165.4h0.8M146.6 165.9h0.8M153.3 126.4h0.8M168.9 128.3h0.8M170.7 133.3h0.8M175.3 139.9h0.8M147.8 142.0h0.8M154.0 129.4h0.8M150.0 127.5h0.8M147.3 143.9h0.8M145.5 131.9h0.8M144.0 142.9h0.8M154.4 122.8h0.8M164.0 146.2h0.8M173.6 152.9h0.8M168.8 151.8h0.8M144.4 141.6h0.8M163.6 134.7h0.8M177.4 146.0h0.8M153.5 134.0h0.8M163.0 126.7h0.8M155.4 123.5h0.8M168.8 158.5h0.8M167.9 134.0h0.8M175.7 155.5h0.8M164.0 137.9h0.8M172.7 144.2h0.8M145.3 142.5h0.8M173.2 154.7h0.8M169.4 129.0h0.8M182.5 151.8h0.8M182.2 160.5h0.8M171.8 153.5h0.8M168.0 138.2h0.8M180.3 149.5h0.8M154.1 130.4h0.8M166.5 147.8h0.8M146.9 171.6h0.8M151.2 130.3h0.8M139.9 143.7h0.8M156.5 132.8h0.8M149.9 137.0h0.8M170.0 138.1h0.8M166.1 131.3h0.8M155.6 129.7h0.8M162.0 133.0h0.8M164.7 135.4h0.8M156.5 134.7h0.8M172.6 152.6h0.8M162.4 136.2h0.8M144.2 129.7h0.8M180.1 157.9h0.8M181.2 162.8h0.8M143.1 151.7h0.8M158.9 126.4h0.8M174.8 138.5h0.8M153.9 148.8h0.8M170.3 133.8h0.8M153.2 140.7h0.8M154.9 137.2h0.8M169.6 129.5h0.8M147.1 147.0h0.8M140.9 153.3h0.8M180.7 157.1h0.8M162.2 130.1h0.8M177.4 146.0h0.8M161.9 135.3h0.8M180.9 142.0h0.8M148.1 167.8h0.8M175.3 145.2h0.8M150.9 145.7h0.8M153.4 129.9h0.8M177.4 147.9h0.8M168.5 145.5h0.8M166.5 133.6h0.8M159.6 132.2h0.8M154.3 130.5h0.8M139.1 163.0h0.8M169.8 145.1h0.8M164.3 130.8h0.8M174.8 157.8h0.8M163.8 135.1h0.8M146.6 135.8h0.8M152.6 132.0h0.8M142.5 140.6h0.8M166.7 132.3h0.8M146.1 165.0h0.8M163.8 140.6h0.8M147.1 163.9h0.8M148.1 164.3h0.8M153.5 127.4h0.8M145.9 162.0h0.8M171.7 139.3h0.8M179.0 159.6h0.8M177.0 152.5h0.8M164.9 136.9h0.8M165.3 135.7h0.8M172.0 155.4h0.8M166.4 135.7h0.8M149.9 150.0h0.8M160.8 128.7h0.8M166.6 131.0h0.8M151.6 140.0h0.8M172.9 134.5h0.8M155.5 138.4h0.8M160.5 131.8h0.8M147.7 136.2h0.8M150.4 151.6h0.8M166.5 136.8h0.8M143.8 138.5h0.8M178.0 156.2h0.8M167.1 136.9h0.8M174.9 147.0h0.8M169.9 128.5h0.8M171.2 138.0h0.8M167.8 135.1h0.8M154.7 137.6h0.8M160.2 127.9h0.8M166.5 131.3h0.8M165.9 135.5h0.8M174.3 154.0h0.8M178.6 168.1h0.8M173.8 146.0h0.8M167.3 139.9h0.8M160.1 130.9h0.8M153.3 129.8h0.8M149.4 155.3h0.8M171.1 144.3h0.8M148.8 139.9h0.8M174.8 140.9h0.8M169.6 125.1h0.8M175.1 164.7h0.8M149.2 133.7h0.8M159.4 146.1h0.8M172.4 151.2h0.8M170.3 156.1h0.8M182.3 165.5h0.8M150.7 132.4h0.8M150.7 159.4h0.8M145.5 169.7h0.8M143.6 144.0h0.8M174.1 154.7h0.8M148.7 134.7h0.8M147.2 154.6h0.8M153.2 127.8h0.8M165.7 136.7h0.8M172.2 161.8h0.8M173.5 137.1h0.8M179.2 166.2h0.8M164.9 142.8h0.8M145.4 165.3h0.8M187.4 148.8h0.8M156.2 138.9h0.8M153.6 128.8h0.8M143.4 162.7h0.8M173.7 147.1h0.8M149.3 133.6h0.8M174.2 155.2h0.8M181.6 148.6h0.8M163.5 130.5h0.8M155.9 134.6h0.8M162.1 128.5h0.8M147.8 134.2h0.8M140.2 167.6h0.8M181.1 155.0h0.8M154.3 138.3h0.8M140.8 148.5h0.8M169.3 138.8h0.8M168.2 139.4h0.8M177.3 150.4h0.8M158.4 136.4h0.8M139.4 150.5h0.8M157.8 129.3h0.8M171.5 142.0h0.8M142.9 160.5h0.8M166.7 145.2h0.8M149.0 133.1h0.8M175.1 145.6h0.8M145.3 136.9h0.8M182.2 161.6h0.8M154.8 136.9h0.8M145.1 146.0h0.8M165.5 133.3h0.8M173.8 145.7h0.8M171.8 151.9h0.8M171.7 138.0h0.8M164.0 133.7h0.8M145.5 172.7h0.8M176.4 158.5h0.8M166.6 143.5h0.8M175.2 127.5h0.8M175.8 154.9h0.8M146.2 135.3h0.8M172.4 155.2h0.8M174.0 138.6h0.8M173.9 136.7h0.8M167.9 132.7h0.8M178.2 157.9h0.8M174.2 165.2h0.8M166.3 135.5h0.8M171.8 161.9h0.8M147.1 149.5h0.8M173.4 158.9h0.8M145.5 140.3h0.8M153.5 135.2h0.8M141.7 162.0h0.8M146.2 159.6h0.8M148.1 150.3h0.8M142.4 137.8h0.8M156.1 137.9h0.8M141.3 167.8h0.8M163.3 141.4h0.8M178.9 143.5h0.8M147.9 135.8h0.8M148.0 171.0h0.8M146.4 151.7h0.8M152.7 132.1h0.8M158.7 128.8h0.8M167.0 133.2h0.8M152.1 134.5h0.8M151.2 157.4h0.8M177.1 161.8h0.8M181.2 150.2h0.8M143.3 128.3h0.8M147.7 165.7h0.8M177.0 152.0h0.8M155.8 130.9h0.8M168.7 141.4h0.8M157.7 135.6h0.8M165.8 133.6h0.8M178.7 157.4h0.8M147.0 146.0h0.8M180.7 149.0h0.8M145.9 152.5h0.8M176.3 157.3h0.8M170.8 146.1h0.8M153.3 129.3h0.8M175.3 155.0h0.8M154.8 139.4h0.8M139.7 140.3h0.8M141.4 129.0h0.8M172.9 164.7h0.8M142.4 141.1h0.8M157.0 138.0h0.8M152.2 127.7h0.8M170.5 147.3h0.8M170.3 146.8h0.8M161.9 119.4h0.8M153.0 143.8h0.8M156.4 129.3h0.8M171.5 165.5h0.8M165.5 131.3h0.8M139.5 155.5h0.8M176.4 163.6h0.8M157.0 128.9h0.8M168.0 142.5h0.8M149.5 138.1h0.8M150.2 136.9h0.8M151.1 132.6h0.8M167.6 142.3h0.8M144.2 134.8h0.8M158.0 132.5h0.8M162.9 127.1h0.8M176.6 144.3h0.8M174.7 153.8h0.8M144.8 156.5h0.8M175.9 146.6h0.8M171.1 142.6h0.8M166.8 135.0h0.8M149.3 141.1h0.8M139.8 151.4h0.8M147.7 130.6h0.8M168.7 138.1h0.8M141.6 161.1h0.8M149.3 164.0h0.8M146.1 137.8h0.8M183.2 156.4h0.8M148.8 130.0h0.8M161.6 135.9h0.8M172.8 150.0h0.8M144.8 167.2h0.8M158.9 128.5h0.8M166.6 135.5h0.8M152.4 129.9h0.8M169.3 141.4h0.8M175.5 144.1h0.8M182.2 152.8h0.8M171.1 146.0h0.8M161.2 134.2h0.8M171.9 139.3h0.8M168.4 127.1h0.8M173.3 135.1h0.8M148.3 134.4h0.8M162.2 132.2h0.8M151.4 128.6h0.8M182.8 152.6h0.8M162.5 138.8h0.8M172.9 137.7h0.8M181.9 168.7h0.8M165.2 142.6h0.8M149.9 162.0h0.8M155.2 131.6h0.8M172.0 133.6h0.8M157.7 129.4h0.8M179.7 151.4h0.8M162.1 132.9h0.8M173.8 150.6h0.8M172.5 142.5h0.8M163.9 135.3h0.8M159.3 122.2h0.8M171.6 147.5h0.8M178.4 142.8h0.8M174.7 151.9h0.8M173.1 146.1h0.8M140.2 157.5h0.8M180.4 150.6h0.8M175.2 148.9h0.8M178.6 140.3h0.8M169.8 152.2h0.8M176.0 158.8h0.8M143.4 157.9h0.8M173.2 136.1h0.8M141.2 151.4h0.8M156.2 128.7h0.8M145.7 141.2h0.8M151.3 132.2h0.8M152.8 158.6h0.8M174.9 145.0h0.8M152.5 140.5h0.8M166.9 132.7h0.8M174.8 133.8h0.8M156.6 131.7h0.8M181.5 143.2h0.8M183.2 166.4h0.8M147.9 139.6h0.8M156.2 126.3h0.8M141.2 130.3h0.8M173.8 158.1h0.8M150.1 152.8h0.8M167.4 136.0h0.8M151.2 132.4h0.8M146.4 159.5h0.8M167.8 136.9h0.8M145.1 163.0h0.8M181.3 152.5h0.8M172.7 156.3h0.8M170.7 145.0h0.8M166.5 144.5h0.8M168.6 144.6h0.8M164.1 137.5h0.8M178.5 149.2h0.8M148.1 144.5h0.8M162.2 128.8h0.8M150.0 140.7h0.8M172.0 137.4h0.8M174.1 155.1h0.8M151.6 144.4h0.8M145.9 151.2h0.8M148.3 138.6h0.8M148.4 142.8h0.8M175.1 144.2h0.8M152.0 130.7h0.8M169.5 136.0h0.8M178.8 163.3h0.8M161.0 133.0h0.8M149.8 132.0h0.8M162.9 140.1h0.8M178.2 141.8h0.8M156.4 136.3h0.8M173.5 134.8h0.8M153.8 141.9h0.8M158.9 136.6h0.8M170.9 141.8h0.8M146.4 161.4h0.8M147.5 161.6h0.8M143.3 152.7h0.8M140.6 139.1h0.8M176.1 149.2h0.8M145.6 172.2h0.8M169.8 140.6h0.8M156.3 138.8h0.8M160.3 129.6h0.8M168.2 133.3h0.8M172.7 139.8h0.8M153.5 128.4h0.8M158.3 139.0h0.8M160.2 138.3h0.8M153.6 124.0h0.8M173.7 145.2h0.8M172.0 143.2h0.8M150.2 140.3h0.8M181.0 150.8h0.8M153.6 133.9h0.8M173.2 137.8h0.8M167.1 147.1h0.8M152.0 141.5h0.8M143.7 164.6h0.8M170.0 150.7h0.8M158.8 135.7h0.8M161.9 127.8h0.8M146.6 160.0h0.8M153.1 123.1h0.8M179.4 148.0h0.8M169.2 155.6h0.8M149.3 132.0h0.8M150.2 127.8h0.8M141.3 142.7h0.8M146.7 143.2h0.8M149.9 160.6h0.8M179.4 156.7h0.8M170.8 131.8h0.8M142.1 154.3h0.8M148.8 136.5h0.8M154.6 131.9h0.8M159.0 133.6h0.8M151.9 139.6h0.8M148.8 158.3h0.8M176.0 163.4h0.8M179.4 163.6h0.8M153.2 126.7h0.8M181.0 153.5h0.8M148.0 132.4h0.8M167.4 139.5h0.8M180.1 161.3h0.8M136.7 140.5h0.8M178.2 149.4h0.8M158.0 139.4h0.8M175.8 145.9h0.8M151.2 129.8h0.8M177.7 145.5h0.8M174.0 166.5h0.8M136.9 149.0h0.8M162.8 130.4h0.8M144.3 138.8h0.8M153.4 168.3h0.8M144.8 149.6h0.8M179.6 146.9h0.8M179.8 146.0h0.8M146.8 129.2h0.8M158.5 141.0h0.8M145.0 147.4h0.8M141.2 161.5h0.8M159.9 134.3h0.8M169.4 128.2h0.8M161.2 138.8h0.8M169.6 140.4h0.8M175.4 161.5h0.8M182.7 145.1h0.8M143.8 166.8h0.8M152.9 135.1h0.8M174.8 142.1h0.8M148.2 147.5h0.8M162.7 143.3h0.8M175.2 134.4h0.8M176.8 142.1h0.8M165.0 136.9h0.8M169.9 143.1h0.8M169.5 144.4h0.8M166.6 133.1h0.8M176.5 148.1h0.8M172.0 144.5h0.8M177.3 155.2h0.8M143.4 136.9h0.8M171.3 138.5h0.8M173.8 157.6h0.8M162.9 140.9h0.8M150.0 147.9h0.8M172.3 139.1h0.8M158.6 129.5h0.8M169.2 152.4h0.8M162.7 135.9h0.8M180.8 152.4h0.8M145.0 129.1h0.8M169.6 127.2h0.8M162.5 136.1h0.8M151.1 138.0h0.8M175.9 151.1h0.8M169.4 150.6h0.8M155.7 134.1h0.8M187.8 147.6h0.8M152.6 136.9h0.8M171.1 153.3h0.8M173.8 138.1h0.8M154.1 142.9h0.8M147.9 130.5h0.8M158.9 134.0h0.8M145.3 164.5h0.8M179.1 161.4h0.8M160.8 129.3h0.8M168.5 145.6h0.8M164.4 138.8h0.8M179.4 150.2h0.8M154.6 146.1h0.8M180.0 148.2h0.8M139.8 165.3h0.8M147.5 146.9h0.8M177.5 160.1h0.8M149.8 127.0h0.8M166.2 135.1h0.8M172.1 166.6h0.8M158.8 131.0h0.8M147.9 153.2h0.8M147.3 140.2h0.8M142.9 132.3h0.8M173.6 141.9h0.8M154.7 135.9h0.8M166.4 142.1h0.8M173.8 158.1h0.8M165.5 128.8h0.8M148.3 136.1h0.8M172.5 142.6h0.8M166.9 143.5h0.8M153.1 129.3h0.8M173.3 146.4h0.8M170.0 141.3h0.8M176.9 137.9h0.8M174.5 148.0h0.8M160.3 132.1h0.8M149.1 142.8h0.8M181.9 144.9h0.8M150.1 138.5h0.8M169.7 144.9h0.8M140.3 159.8h0.8M154.2 124.1h0.8M146.0 153.1h0.8M174.2 131.5h0.8M148.0 152.0h0.8M165.1 132.9h0.8M152.8 141.5h0.8M166.0 157.9h0.8M151.6 132.2h0.8M155.9 135.8h0.8M146.0 142.3h0.8M158.0 130.7h0.8M172.0 143.5h0.8M137.9 154.2h0.8M146.0 133.5h0.8M160.1 135.7h0.8M172.2 143.8h0.8M178.4 148.5h0.8M160.1 126.5h0.8M175.2 138.7h0.8M174.6 138.3h0.8M145.2 165.5h0.8M172.8 156.5h0.8M166.1 127.2h0.8M144.1 140.1h0.8M171.6 135.8h0.8M144.5 149.7h0.8M160.9 140.3h0.8M142.3 138.6h0.8M164.3 127.1h0.8M178.8 153.3h0.8M142.2 147.0h0.8M161.7 137.8h0.8M181.5 146.5h0.8M169.2 144.7h0.8M165.3 146.1h0.8M138.5 146.4h0.8M149.8 138.2h0.8M152.7 134.6h0.8M158.5 133.4h0.8M157.2 132.6h0.8M141.5 144.3h0.8M177.5 156.4h0.8M149.0 166.3h0.8M169.6 162.0h0.8M147.1 162.5h0.8M142.2 148.4h0.8M173.9 165.8h0.8M182.0 162.0h0.8" stroke="#000" stroke-width="0.8" stroke-opacity="0.38"/>
<path d="M181.7 147.9h0.9M180.9 170.0h0.9M180.2 139.5h0.9M187.9 150.1h0.9M182.9 144.0h0.9M184.7 175.7h0.9M187.9 147.3h0.9M187.9 151.2h0.9M191.7 157.8h0.9M182.5 157.6h0.9M189.3 176.9h0.9M189.5 140.4h0.9M182.0 148.3h0.9M179.0 155.3h0.9M172.4 143.0h0.9M179.8 161.3h0.9M186.5 153.2h0.9M186.3 139.8h0.9M188.1 146.3h0.9M179.1 154.2h0.9M179.7 148.1h0.9M180.0 145.8h0.9M181.1 141.4h0.9M183.7 157.9h0.9M196.7 143.9h0.9M185.5 146.1h0.9M187.1 155.8h0.9M177.9 151.8h0.9M193.8 157.4h0.9M178.3 149.8h0.9M195.0 147.4h0.9M184.8 148.5h0.9M186.5 149.6h0.9M184.5 146.6h0.9M188.0 151.5h0.9M187.6 142.0h0.9M179.7 148.1h0.9M187.6 151.8h0.9M191.0 146.9h0.9M188.3 140.7h0.9M184.0 149.8h0.9M186.8 153.4h0.9M185.7 129.2h0.9M182.3 144.5h0.9M190.5 143.7h0.9M180.8 147.8h0.9M180.9 163.0h0.9M179.7 139.4h0.9M184.1 153.5h0.9M187.8 143.6h0.9M183.8 155.8h0.9M187.9 151.3h0.9M185.4 152.7h0.9M173.6 143.0h0.9M178.0 147.2h0.9M184.9 152.5h0.9M191.1 142.8h0.9M179.6 146.6h0.9M182.6 145.1h0.9M194.3 145.6h0.9M182.7 154.4h0.9M194.6 166.2h0.9M188.0 137.9h0.9M185.0 148.6h0.9M182.2 147.4h0.9M184.7 143.1h0.9M185.2 146.0h0.9M187.2 142.5h0.9M181.6 157.8h0.9M191.4 160.3h0.9M187.8 146.8h0.9M188.3 154.8h0.9M182.7 153.2h0.9M185.2 147.4h0.9M190.3 166.4h0.9M188.4 138.3h0.9M182.3 151.5h0.9M189.0 163.2h0.9M187.2 136.5h0.9M179.6 136.4h0.9M182.4 144.7h0.9M181.1 146.7h0.9M186.5 161.7h0.9M181.0 154.5h0.9M190.6 152.8h0.9M185.4 153.7h0.9M187.0 151.6h0.9M185.5 150.5h0.9M184.1 157.9h0.9M174.2 145.3h0.9M187.3 158.5h0.9M187.7 155.3h0.9M184.7 144.1h0.9M188.9 142.7h0.9M182.2 153.6h0.9M180.5 148.9h0.9M181.4 149.1h0.9M173.8 124.3h0.9M188.7 151.4h0.9M185.7 149.0h0.9M190.8 144.6h0.9M182.4 134.8h0.9M179.0 150.8h0.9M180.1 153.0h0.9M184.4 144.6h0.9M185.3 148.9h0.9M189.4 158.1h0.9M179.8 152.3h0.9M181.7 163.5h0.9M179.5 159.9h0.9M181.3 141.9h0.9M189.2 149.7h0.9M180.0 149.0h0.9M188.6 152.5h0.9M187.7 145.7h0.9M185.7 153.2h0.9M173.6 158.0h0.9M193.7 148.1h0.9M184.8 149.4h0.9M180.4 152.1h0.9" stroke="#000" stroke-width="0.9" stroke-opacity="0.2"/>
<path d="M145,172 C144.5,162 146,150 151,144 C156,140 162,141 166,144 C170,147 172,153 171,157 C165,158 158,160 152,165 C149,168 147,171 145,172 Z" fill="#fff" stroke="#777" stroke-width="0.6" />
<path d="M149,166 C149,158 151,151 155,148 C159,146 163,148 165,151 C160,153 155,157 149,166 Z" fill="none" stroke="#999" stroke-width="0.5" />
<path d="M156.6,158.3 C159.6,157.5 167.3,156.6 170.5,158.3 C173.6,160.0 175.0,165.0 175.6,168.6 C176.2,172.1 175.1,177.4 174.1,179.5 C173.1,181.6 172.5,180.9 169.7,180.9 C166.9,180.9 160.1,180.6 157.3,179.5 C154.5,178.4 153.7,177.1 152.9,174.4 C152.0,171.7 151.5,166.0 152.1,163.3 C152.7,160.7 153.5,159.2 156.6,158.3 Z" fill="#c8c8c8" stroke="#555" stroke-width="0.6" />
<path d="M158.4,162.3 C160.6,161.7 166.0,161.1 168.3,162.3 C170.6,163.5 171.5,167.1 172.0,169.6 C172.4,172.1 171.6,176.0 170.9,177.4 C170.2,178.9 169.8,178.5 167.8,178.5 C165.8,178.5 160.9,178.2 158.9,177.4 C156.8,176.7 156.3,175.7 155.7,173.8 C155.1,171.8 154.7,167.8 155.2,165.9 C155.6,164.0 156.2,162.9 158.4,162.3 Z" fill="#a8a8a8" stroke="#666" stroke-width="0.5" />
<path d="M160.3,166.3 C161.6,165.9 164.8,165.6 166.1,166.3 C167.5,167.0 168.0,169.1 168.3,170.6 C168.5,172.1 168.1,174.3 167.6,175.2 C167.2,176.1 167.0,175.8 165.8,175.8 C164.6,175.8 161.7,175.7 160.6,175.2 C159.4,174.7 159.1,174.2 158.7,173.0 C158.4,171.9 158.1,169.5 158.4,168.4 C158.7,167.3 159.0,166.6 160.3,166.3 Z" fill="#999" stroke="#777" stroke-width="0.5" />
<ellipse cx="163" cy="172" rx="1.5" ry="1.5" fill="#ddd" fill-opacity="1" stroke="none" stroke-width="1"/>
<ellipse cx="141.5" cy="182.3" rx="2.4" ry="2.0" fill="#111" fill-opacity="1" stroke="none" stroke-width="1"/>
<ellipse cx="141.8" cy="182.1" rx="1.0" ry="0.8" fill="#fff" fill-opacity="1" stroke="none" stroke-width="1"/>
<path d="M156.2,157.7 L170.8,157.7 L176.2,168.5 L174.6,180.0 L170.0,181.5 L156.9,180.0 L152.3,174.6 L151.5,163.0 Z" fill="none" stroke="#111" stroke-width="1.3" />
<text x="177" y="181" font-size="7.2" font-weight="normal" text-anchor="start" fill="#222" >63.3</text>
<rect x="228.2" y="114.9" width="71.5" height="72.0" fill="none" stroke="#8a8a8a" stroke-width="0.8" />
<line x1="225.7" y1="186.9" x2="228.2" y2="186.9" stroke="#888" stroke-width="0.6" />
<line x1="225.7" y1="172.1" x2="228.2" y2="172.1" stroke="#888" stroke-width="0.6" />
<line x1="225.7" y1="157.3" x2="228.2" y2="157.3" stroke="#888" stroke-width="0.6" />
<line x1="225.7" y1="142.5" x2="228.2" y2="142.5" stroke="#888" stroke-width="0.6" />
<line x1="225.7" y1="127.7" x2="228.2" y2="127.7" stroke="#888" stroke-width="0.6" />
<text x="225.2" y="188.1" font-size="3.6" font-weight="normal" text-anchor="end" fill="#777" >0</text>
<text x="225.2" y="173.29999999999998" font-size="3.6" font-weight="normal" text-anchor="end" fill="#777" >1000</text>
<text x="225.2" y="158.5" font-size="3.6" font-weight="normal" text-anchor="end" fill="#777" >2000</text>
<text x="225.2" y="143.7" font-size="3.6" font-weight="normal" text-anchor="end" fill="#777" >3000</text>
<text x="225.2" y="128.9" font-size="3.6" font-weight="normal" text-anchor="end" fill="#777" >4000</text>
<line x1="242.5" y1="186.9" x2="242.5" y2="189.4" stroke="#888" stroke-width="0.6" />
<text x="242.5" y="193.4" font-size="3.6" font-weight="normal" text-anchor="middle" fill="#777" >0</text>
<line x1="256.8" y1="186.9" x2="256.8" y2="189.4" stroke="#888" stroke-width="0.6" />
<text x="256.8" y="193.4" font-size="3.6" font-weight="normal" text-anchor="middle" fill="#777" >10³</text>
<line x1="271.09999999999997" y1="186.9" x2="271.09999999999997" y2="189.4" stroke="#888" stroke-width="0.6" />
<text x="271.09999999999997" y="193.4" font-size="3.6" font-weight="normal" text-anchor="middle" fill="#777" >10³</text>
<line x1="285.4" y1="186.9" x2="285.4" y2="189.4" stroke="#888" stroke-width="0.6" />
<text x="285.4" y="193.4" font-size="3.6" font-weight="normal" text-anchor="middle" fill="#777" >10⁴</text>
<line x1="299.7" y1="186.9" x2="299.7" y2="189.4" stroke="#888" stroke-width="0.6" />
<text x="299.7" y="193.4" font-size="3.6" font-weight="normal" text-anchor="middle" fill="#777" >10⁵</text>
<text x="270" y="206.3" font-size="12.8" font-weight="normal" text-anchor="middle" fill="#000"  stroke="#000" stroke-width="0.18">CD3</text>
<path d="M228.2,186.9 L234,186.9 C238,186.9 240,127.4 243.4,127.4 C247,127.4 250,185.5 255.4,185.5 C260,185.5 263,119.3 266.7,119.3 C270,119.3 271,186.9 274,186.9 L299.7,186.9" fill="none" stroke="#666" stroke-width="0.85" />
<line x1="254.9" y1="179.3" x2="299.7" y2="179.3" stroke="#333" stroke-width="1.0" />
<text x="285.8" y="173.2" font-size="7.4" font-weight="normal" text-anchor="start" fill="#222" >45.7</text>
<rect x="335.3" y="116.1" width="72.0" height="72.70000000000002" fill="none" stroke="#8a8a8a" stroke-width="0.8" />
<line x1="332.8" y1="121.916" x2="335.3" y2="121.916" stroke="#888" stroke-width="0.6" />
<line x1="332.8" y1="137.91" x2="335.3" y2="137.91" stroke="#888" stroke-width="0.6" />
<line x1="332.8" y1="153.904" x2="335.3" y2="153.904" stroke="#888" stroke-width="0.6" />
<line x1="332.8" y1="168.44400000000002" x2="335.3" y2="168.44400000000002" stroke="#888" stroke-width="0.6" />
<line x1="332.8" y1="175.714" x2="335.3" y2="175.714" stroke="#888" stroke-width="0.6" />
<text x="332.3" y="123.116" font-size="3.6" font-weight="normal" text-anchor="end" fill="#777" >10⁵</text>
<text x="332.3" y="139.10999999999999" font-size="3.6" font-weight="normal" text-anchor="end" fill="#777" >10⁴</text>
<text x="332.3" y="155.10399999999998" font-size="3.6" font-weight="normal" text-anchor="end" fill="#777" >10³</text>
<text x="332.3" y="169.644" font-size="3.6" font-weight="normal" text-anchor="end" fill="#777" >10²</text>
<text x="332.3" y="176.914" font-size="3.6" font-weight="normal" text-anchor="end" fill="#777" >0</text>
<line x1="353.3" y1="188.8" x2="353.3" y2="191.3" stroke="#888" stroke-width="0.6" />
<text x="353.3" y="195.3" font-size="3.6" font-weight="normal" text-anchor="middle" fill="#777" >0</text>
<line x1="371.3" y1="188.8" x2="371.3" y2="191.3" stroke="#888" stroke-width="0.6" />
<text x="371.3" y="195.3" font-size="3.6" font-weight="normal" text-anchor="middle" fill="#777" >10³</text>
<line x1="387.14" y1="188.8" x2="387.14" y2="191.3" stroke="#888" stroke-width="0.6" />
<text x="387.14" y="195.3" font-size="3.6" font-weight="normal" text-anchor="middle" fill="#777" >10⁴</text>
<line x1="402.26" y1="188.8" x2="402.26" y2="191.3" stroke="#888" stroke-width="0.6" />
<text x="402.26" y="195.3" font-size="3.6" font-weight="normal" text-anchor="middle" fill="#777" >10⁵</text>
<text transform="translate(325.5,152.8) rotate(-90)" font-size="12.8" font-weight="normal" text-anchor="middle" fill="#000"  stroke="#000" stroke-width="0.18">CD161</text>
<text x="377.5" y="205.5" font-size="12.8" font-weight="normal" text-anchor="middle" fill="#000"  stroke="#000" stroke-width="0.18">Vα7.2</text>
<path d="M336.8 130.1h0.9M340.0 136.9h0.9M352.2 143.9h0.9M343.5 133.3h0.9M344.2 136.7h0.9M346.6 137.6h0.9M342.7 141.4h0.9M346.9 139.8h0.9M347.2 136.3h0.9M347.8 150.2h0.9M344.5 130.9h0.9M349.2 138.7h0.9M342.4 137.0h0.9M337.2 127.9h0.9M348.7 144.7h0.9M347.2 134.2h0.9M347.4 150.5h0.9M346.2 149.4h0.9M339.5 134.4h0.9M348.8 157.5h0.9M350.7 150.6h0.9M350.5 150.4h0.9M346.4 140.0h0.9M344.0 138.2h0.9M346.3 148.5h0.9M344.9 153.0h0.9M354.9 154.2h0.9M349.9 143.2h0.9M346.9 141.3h0.9M346.4 142.0h0.9M348.9 143.0h0.9M350.5 148.5h0.9M349.0 153.2h0.9M339.9 134.0h0.9M346.8 149.4h0.9M343.4 138.4h0.9M345.4 130.6h0.9M343.1 137.5h0.9M343.0 140.7h0.9M345.5 128.2h0.9M351.1 150.0h0.9M354.5 157.0h0.9M349.8 148.7h0.9M340.0 135.6h0.9M350.4 155.4h0.9M346.2 132.6h0.9M340.6 130.6h0.9M342.7 138.5h0.9M349.9 146.5h0.9M345.2 139.3h0.9M341.3 134.2h0.9M346.2 138.3h0.9M342.4 142.1h0.9M337.6 131.0h0.9M349.0 153.6h0.9M336.6 129.3h0.9M342.2 142.9h0.9M345.7 148.5h0.9M342.9 134.9h0.9M340.6 151.6h0.9M345.2 146.5h0.9M345.8 147.6h0.9M348.4 137.5h0.9M347.2 145.3h0.9M346.3 143.0h0.9M340.3 137.5h0.9M341.7 137.6h0.9M351.1 149.2h0.9M343.0 135.9h0.9M342.5 135.0h0.9M347.4 150.5h0.9M340.7 143.9h0.9M349.3 153.4h0.9M343.5 149.4h0.9M339.4 136.6h0.9M348.1 138.5h0.9M338.8 134.6h0.9M338.6 131.2h0.9M344.4 127.9h0.9M341.6 137.0h0.9M341.9 142.5h0.9M348.0 146.3h0.9M336.0 130.2h0.9M345.5 135.6h0.9M346.1 142.9h0.9M346.4 138.3h0.9M343.7 139.6h0.9M348.5 146.6h0.9M346.7 138.1h0.9M339.1 139.6h0.9M343.2 136.3h0.9M338.8 130.9h0.9M350.5 150.4h0.9M349.7 142.7h0.9M344.7 140.7h0.9M348.7 141.6h0.9M347.9 141.6h0.9M339.5 138.6h0.9M341.4 131.3h0.9M346.7 142.1h0.9M350.5 138.7h0.9M337.8 134.6h0.9M337.5 129.9h0.9M352.7 153.1h0.9M346.0 145.2h0.9M347.5 149.9h0.9M350.4 153.7h0.9M341.4 132.7h0.9M339.9 138.1h0.9M342.9 129.5h0.9M340.1 138.0h0.9M338.9 130.2h0.9M342.9 142.8h0.9M345.1 141.6h0.9M340.3 133.6h0.9M343.5 147.4h0.9M342.1 133.9h0.9M337.4 130.1h0.9M336.8 127.9h0.9M341.1 142.7h0.9M342.1 134.8h0.9M342.3 134.7h0.9M338.8 141.1h0.9M338.7 140.0h0.9M353.6 155.2h0.9M342.4 136.5h0.9M349.8 142.2h0.9M344.7 153.3h0.9M338.2 128.6h0.9M345.6 140.3h0.9M349.6 146.9h0.9M343.8 131.0h0.9M348.0 130.3h0.9M339.4 137.3h0.9M339.7 133.4h0.9M343.1 146.2h0.9M350.4 156.3h0.9M347.9 156.7h0.9M340.8 133.1h0.9M350.0 153.8h0.9M353.3 144.0h0.9M340.4 134.3h0.9M345.7 133.4h0.9M349.6 140.3h0.9M345.7 146.8h0.9M352.1 154.7h0.9M347.7 141.1h0.9M340.9 136.3h0.9M339.4 139.9h0.9M347.3 141.6h0.9M348.6 154.4h0.9M339.0 124.3h0.9M348.8 158.2h0.9M336.2 135.3h0.9M348.8 148.4h0.9M342.4 133.0h0.9M344.3 140.5h0.9M352.4 153.2h0.9M345.1 136.3h0.9M351.3 150.4h0.9M345.9 146.4h0.9M337.8 135.1h0.9M342.4 143.7h0.9M349.9 151.9h0.9M339.8 134.2h0.9M341.6 125.6h0.9M345.0 139.5h0.9M338.7 133.6h0.9M348.8 146.7h0.9M344.1 136.9h0.9M341.5 134.2h0.9M349.9 146.1h0.9M343.5 135.4h0.9M337.4 132.3h0.9M344.2 138.6h0.9M347.2 151.5h0.9M338.9 131.4h0.9M340.2 127.8h0.9M342.8 140.1h0.9M340.0 129.5h0.9M348.0 144.2h0.9M340.7 146.5h0.9M340.9 128.0h0.9M341.7 138.3h0.9M344.1 139.0h0.9M342.9 135.3h0.9M337.1 134.8h0.9M349.1 152.1h0.9M346.6 130.8h0.9M341.3 153.1h0.9M351.2 149.0h0.9M345.1 151.6h0.9M338.2 140.4h0.9M350.5 149.5h0.9M341.8 131.7h0.9M346.7 158.8h0.9M342.8 139.6h0.9M349.8 157.3h0.9M345.5 151.9h0.9M343.3 146.2h0.9M347.7 143.1h0.9M341.9 143.1h0.9M346.3 154.5h0.9M339.3 137.4h0.9M344.4 146.1h0.9M341.8 138.3h0.9M336.1 133.8h0.9M348.0 148.5h0.9M336.5 130.2h0.9M345.4 136.7h0.9M343.1 141.2h0.9M338.4 133.0h0.9M347.6 145.2h0.9M339.9 140.5h0.9M348.1 138.7h0.9M344.6 152.2h0.9M344.7 152.3h0.9M336.6 144.8h0.9M344.4 145.3h0.9M345.7 138.2h0.9M355.0 154.6h0.9M340.9 143.2h0.9M340.1 132.3h0.9M346.6 144.8h0.9M344.7 134.6h0.9M345.9 137.1h0.9M345.1 138.4h0.9M345.3 133.1h0.9M343.4 142.1h0.9M349.7 139.4h0.9M340.1 127.7h0.9M344.6 151.2h0.9M342.7 146.2h0.9M340.8 140.8h0.9M338.8 126.9h0.9M345.6 144.7h0.9M350.3 139.8h0.9M345.4 129.1h0.9M343.3 135.0h0.9M343.5 133.2h0.9M351.7 140.0h0.9M344.1 135.4h0.9M348.8 140.8h0.9M344.3 153.3h0.9M340.4 138.8h0.9M347.9 147.9h0.9M339.8 130.7h0.9M342.9 138.4h0.9M349.9 148.5h0.9M336.0 131.0h0.9M348.0 151.3h0.9M351.9 151.6h0.9M345.9 139.9h0.9M344.9 145.7h0.9M349.5 136.2h0.9M338.9 126.1h0.9M343.3 145.2h0.9M345.0 135.5h0.9M353.6 150.8h0.9M341.7 144.2h0.9" stroke="#000" stroke-width="0.9" stroke-opacity="0.2"/>
<path d="M351.0 168.3h0.9M339.9 173.4h0.9M346.5 161.1h0.9M348.6 162.1h0.9M345.6 167.8h0.9M347.1 166.4h0.9M357.4 159.5h0.9M347.5 164.2h0.9M348.1 178.6h0.9M347.6 174.1h0.9M351.3 159.3h0.9M349.4 172.4h0.9M353.7 165.5h0.9M343.5 169.9h0.9M346.4 168.9h0.9M349.2 169.0h0.9M346.4 169.0h0.9M349.9 160.5h0.9M342.4 177.0h0.9M342.3 169.0h0.9M342.9 173.5h0.9M342.0 170.5h0.9M339.2 177.5h0.9M356.1 167.2h0.9M347.8 163.8h0.9M343.4 167.7h0.9M349.8 165.1h0.9M347.8 168.5h0.9M346.4 177.7h0.9M343.7 176.2h0.9M348.5 163.3h0.9M353.0 157.1h0.9M346.9 176.1h0.9M349.1 166.8h0.9M348.5 159.6h0.9M354.8 164.3h0.9M349.9 175.8h0.9M349.1 166.6h0.9M351.3 158.4h0.9M345.5 153.2h0.9M346.0 173.9h0.9M350.3 158.0h0.9M348.7 176.9h0.9M345.7 161.9h0.9M350.1 170.9h0.9M355.9 167.1h0.9M351.2 161.5h0.9M351.7 163.3h0.9M351.6 160.9h0.9M350.5 149.8h0.9M338.3 172.6h0.9M350.0 161.2h0.9M353.3 173.8h0.9M349.2 155.0h0.9M346.7 167.3h0.9M341.2 178.4h0.9M344.9 172.2h0.9M349.8 157.3h0.9M346.0 158.4h0.9M346.7 166.8h0.9M349.8 171.4h0.9M350.3 152.2h0.9M345.4 170.1h0.9M346.9 165.4h0.9M339.5 177.4h0.9M349.5 165.1h0.9M349.0 174.1h0.9M349.0 166.6h0.9M345.2 178.2h0.9M354.3 156.5h0.9M350.7 173.5h0.9M351.7 149.8h0.9M349.0 179.0h0.9M346.6 171.2h0.9M349.3 162.3h0.9M354.3 166.5h0.9M349.1 164.1h0.9M340.1 180.5h0.9M355.0 169.4h0.9M346.7 173.6h0.9M346.4 166.3h0.9M353.4 162.7h0.9M341.7 174.0h0.9M345.0 170.2h0.9M348.9 167.1h0.9M349.5 156.8h0.9M354.7 159.8h0.9M348.9 166.1h0.9M342.0 167.9h0.9M343.3 165.5h0.9M354.0 169.2h0.9M336.5 177.2h0.9M339.2 172.5h0.9M347.4 161.5h0.9M342.9 172.8h0.9M349.6 157.1h0.9M347.9 173.3h0.9M350.0 172.0h0.9M345.4 170.7h0.9M346.5 173.8h0.9M345.3 183.0h0.9M345.4 177.6h0.9M356.5 167.3h0.9M353.3 162.1h0.9M348.5 162.2h0.9M344.7 167.2h0.9M345.4 174.5h0.9M351.7 173.7h0.9M348.0 164.3h0.9M347.3 172.9h0.9M347.4 178.2h0.9M346.9 165.0h0.9M348.3 174.0h0.9M345.6 177.1h0.9M350.4 169.8h0.9M349.3 170.1h0.9M351.1 173.2h0.9M347.5 169.8h0.9M350.0 184.3h0.9M348.6 171.8h0.9M347.7 163.8h0.9M354.7 169.5h0.9M348.9 171.0h0.9M350.1 180.3h0.9M351.1 161.0h0.9M351.2 161.5h0.9M345.8 176.3h0.9M351.8 163.9h0.9M348.8 157.3h0.9M347.9 168.8h0.9M348.7 164.7h0.9M348.9 163.5h0.9M350.4 162.7h0.9M343.9 172.8h0.9M348.3 173.7h0.9M350.2 170.7h0.9M352.2 165.2h0.9M349.3 164.4h0.9M353.5 159.0h0.9M346.9 154.6h0.9M343.7 176.7h0.9M349.9 172.1h0.9M346.6 171.7h0.9M336.6 173.3h0.9M344.2 164.1h0.9M351.2 166.5h0.9M348.4 154.2h0.9M358.1 158.2h0.9M353.3 173.4h0.9M351.0 175.8h0.9M346.7 161.7h0.9M346.7 161.6h0.9M346.2 162.4h0.9M346.2 180.9h0.9M347.2 163.4h0.9M351.1 160.1h0.9M348.1 168.9h0.9M346.7 170.1h0.9M349.4 165.4h0.9M343.9 165.1h0.9M349.0 164.2h0.9M348.7 167.9h0.9M344.3 174.9h0.9M353.3 173.0h0.9M348.4 160.6h0.9M344.2 164.9h0.9M351.6 170.4h0.9M348.4 168.7h0.9M347.3 171.2h0.9M351.4 162.5h0.9M353.2 173.4h0.9M346.3 176.6h0.9M338.5 164.4h0.9M352.9 176.8h0.9M349.2 163.4h0.9M348.9 170.9h0.9M346.7 176.0h0.9M346.9 170.2h0.9M351.1 157.1h0.9M345.8 172.6h0.9M348.3 163.6h0.9M348.5 178.2h0.9M339.4 168.0h0.9M351.2 165.8h0.9M344.2 166.3h0.9M346.8 175.3h0.9M341.7 167.2h0.9M336.3 170.4h0.9M352.0 169.0h0.9M346.1 169.0h0.9M352.1 160.9h0.9M345.6 170.6h0.9M350.4 182.4h0.9M342.4 162.4h0.9M353.3 174.7h0.9M348.8 165.3h0.9M352.1 160.3h0.9M342.9 176.6h0.9M346.9 153.0h0.9M352.6 162.5h0.9M342.5 171.3h0.9M346.7 170.1h0.9M350.4 166.9h0.9M346.7 159.6h0.9M348.1 164.6h0.9M352.2 165.0h0.9M350.0 164.7h0.9M344.7 174.7h0.9M340.5 173.9h0.9M347.4 165.9h0.9M345.1 182.1h0.9M352.5 160.4h0.9M347.2 161.5h0.9M349.7 163.6h0.9M346.9 181.7h0.9M341.6 176.1h0.9M347.6 175.6h0.9M343.7 181.2h0.9M348.6 169.9h0.9M344.8 174.2h0.9M348.5 172.0h0.9M346.2 161.5h0.9M351.7 161.5h0.9M352.6 163.2h0.9M349.5 174.5h0.9M348.5 164.3h0.9M349.0 162.3h0.9M346.1 165.1h0.9M343.6 166.3h0.9M349.5 165.5h0.9M350.9 157.8h0.9M338.9 173.6h0.9M351.9 164.0h0.9M345.3 174.7h0.9M347.5 150.1h0.9M351.9 160.1h0.9M348.1 178.3h0.9M348.7 151.7h0.9M340.4 184.4h0.9M347.8 171.3h0.9M347.2 166.4h0.9M343.1 167.4h0.9M342.1 166.7h0.9M350.1 160.7h0.9M349.3 171.9h0.9M347.5 173.7h0.9M350.5 170.1h0.9M352.2 164.6h0.9M349.8 164.7h0.9M348.4 180.3h0.9M342.2 165.9h0.9M350.1 169.5h0.9M351.1 173.3h0.9M347.5 158.9h0.9M351.7 150.8h0.9M351.3 160.7h0.9M349.0 175.0h0.9M350.0 163.8h0.9M345.8 171.9h0.9M349.3 168.1h0.9M347.9 171.0h0.9M347.1 166.7h0.9M343.1 161.3h0.9M346.7 162.8h0.9M343.2 173.1h0.9M341.1 180.3h0.9M350.1 153.8h0.9M351.6 162.2h0.9M348.2 158.8h0.9M341.7 174.3h0.9M347.4 164.9h0.9M350.0 178.9h0.9M348.4 158.1h0.9M340.9 172.7h0.9M347.4 167.2h0.9M351.7 168.1h0.9M348.2 152.2h0.9M351.0 170.7h0.9M347.8 176.3h0.9M351.5 154.6h0.9M348.0 165.9h0.9M341.7 169.6h0.9M338.9 173.8h0.9M343.2 181.3h0.9M344.5 177.8h0.9M348.0 165.8h0.9M340.9 170.0h0.9M351.5 157.6h0.9M343.9 167.8h0.9M347.3 161.8h0.9M354.2 164.8h0.9M345.8 163.6h0.9M348.5 170.4h0.9M347.6 167.4h0.9M345.6 171.5h0.9M340.2 170.3h0.9M350.9 175.3h0.9M346.7 161.0h0.9M352.3 170.5h0.9M346.5 178.2h0.9M349.4 168.0h0.9M353.6 165.7h0.9M351.5 168.6h0.9M345.9 166.8h0.9M348.2 169.3h0.9M348.8 172.1h0.9M356.6 179.4h0.9M342.9 164.8h0.9M351.6 153.6h0.9M348.0 167.3h0.9M345.4 164.9h0.9M352.7 170.0h0.9M342.8 174.6h0.9M347.2 165.2h0.9M354.3 168.4h0.9M354.6 168.0h0.9M349.0 162.1h0.9M339.0 177.4h0.9M341.1 172.8h0.9M349.7 161.1h0.9M348.4 172.4h0.9M351.7 173.3h0.9M348.5 162.9h0.9M349.5 161.2h0.9M350.6 161.5h0.9M346.0 172.2h0.9M350.7 162.7h0.9M350.1 166.7h0.9M349.9 179.9h0.9M354.1 163.4h0.9M352.1 166.2h0.9M348.5 171.4h0.9M352.9 161.0h0.9M347.2 177.4h0.9M351.3 176.4h0.9M357.6 167.3h0.9M354.0 167.3h0.9M343.2 173.8h0.9M352.9 170.5h0.9M347.1 176.6h0.9M354.8 162.6h0.9M346.6 170.3h0.9M349.3 148.7h0.9M357.3 160.8h0.9M349.8 166.3h0.9M342.4 158.1h0.9M344.8 182.8h0.9M348.4 168.5h0.9M347.7 164.4h0.9M340.2 176.0h0.9M351.4 169.9h0.9M344.1 178.4h0.9M344.0 162.7h0.9M349.4 164.5h0.9M349.8 154.8h0.9M342.0 171.1h0.9M345.4 168.8h0.9M343.8 164.4h0.9M348.0 164.6h0.9M356.0 163.7h0.9M350.3 171.8h0.9M344.1 165.9h0.9M348.2 174.5h0.9M344.0 161.0h0.9M352.9 180.6h0.9M349.1 174.4h0.9M345.6 153.2h0.9M347.6 163.9h0.9M346.2 173.0h0.9M353.0 173.6h0.9M352.2 169.4h0.9M346.2 171.1h0.9M351.9 172.8h0.9M348.6 171.2h0.9M357.5 172.1h0.9M350.4 162.4h0.9M340.8 171.3h0.9M352.7 158.9h0.9M345.9 167.6h0.9M340.1 169.5h0.9M349.1 163.2h0.9M349.6 161.5h0.9M342.6 177.1h0.9M347.8 160.0h0.9M347.5 170.4h0.9M344.2 176.5h0.9M351.1 167.1h0.9M352.5 176.1h0.9M348.4 176.6h0.9M345.5 171.4h0.9M346.5 160.6h0.9M353.7 178.4h0.9M352.4 160.2h0.9M339.7 171.8h0.9M344.4 177.4h0.9M345.1 173.7h0.9M349.4 165.4h0.9M347.3 181.7h0.9M350.3 166.4h0.9M343.2 171.6h0.9M349.7 165.7h0.9M346.7 158.8h0.9M339.9 175.0h0.9M352.9 156.1h0.9M353.5 151.3h0.9M349.2 168.0h0.9M349.5 185.2h0.9M352.4 176.4h0.9M348.7 174.8h0.9M347.5 175.0h0.9M351.0 164.9h0.9M352.2 158.9h0.9M343.7 175.7h0.9M351.8 176.5h0.9M343.0 177.6h0.9M349.7 171.9h0.9M353.0 165.0h0.9M342.8 171.5h0.9M346.5 160.5h0.9M345.7 156.5h0.9M342.4 172.6h0.9M346.4 180.8h0.9M353.2 168.0h0.9M350.4 155.0h0.9M347.4 158.5h0.9M349.6 169.6h0.9M344.2 172.5h0.9M350.1 172.8h0.9M353.2 165.7h0.9M339.8 173.5h0.9M351.3 159.3h0.9M342.3 166.0h0.9M351.1 156.3h0.9M349.7 163.3h0.9M349.7 157.9h0.9M346.6 169.2h0.9M346.3 163.8h0.9M350.4 160.4h0.9M346.1 179.9h0.9M351.3 161.6h0.9M347.3 174.5h0.9M351.6 177.1h0.9M346.4 157.8h0.9M347.3 161.9h0.9M349.5 172.3h0.9M351.5 163.3h0.9M344.3 175.2h0.9M342.4 174.2h0.9M352.4 169.9h0.9M351.3 157.2h0.9" stroke="#000" stroke-width="0.9" stroke-opacity="0.35"/>
<path d="M368.6 184.8h0.9M370.3 168.7h0.9M371.3 172.8h0.9M372.1 168.2h0.9M372.4 171.3h0.9M368.8 174.1h0.9M372.9 171.1h0.9M373.9 176.5h0.9M368.3 174.8h0.9M364.6 181.1h0.9M371.5 174.8h0.9M379.5 181.6h0.9M374.7 174.2h0.9M378.2 176.4h0.9M370.9 166.5h0.9M371.3 178.2h0.9M380.0 172.7h0.9M370.8 173.2h0.9M371.4 174.8h0.9M375.8 176.4h0.9M375.7 177.7h0.9M370.9 172.0h0.9M370.9 173.6h0.9M372.4 176.0h0.9M368.6 169.3h0.9M376.9 170.4h0.9M366.6 164.4h0.9M378.3 167.1h0.9M367.1 169.9h0.9M376.5 168.4h0.9M373.5 179.5h0.9M380.0 171.8h0.9M378.1 177.4h0.9M375.6 171.1h0.9M369.0 174.9h0.9M379.7 172.3h0.9M373.5 178.4h0.9M366.4 170.6h0.9M373.1 179.3h0.9M364.7 168.3h0.9M362.1 177.0h0.9M378.3 180.2h0.9M365.1 175.9h0.9M363.9 174.8h0.9M375.5 178.4h0.9M370.0 172.8h0.9M363.6 174.1h0.9M382.3 176.1h0.9M371.9 172.4h0.9M374.6 173.5h0.9M378.9 181.1h0.9M377.2 171.7h0.9M370.2 177.5h0.9M370.8 182.1h0.9M368.9 177.1h0.9M377.2 169.4h0.9M369.0 168.7h0.9M362.5 181.4h0.9M374.7 177.6h0.9M372.4 173.8h0.9M370.3 169.3h0.9M374.9 163.6h0.9M374.5 175.5h0.9M376.4 169.4h0.9M374.5 174.4h0.9M375.8 175.0h0.9M371.5 171.6h0.9M371.9 169.2h0.9M367.3 168.2h0.9M374.3 165.1h0.9M377.9 169.9h0.9M377.3 172.9h0.9M369.8 173.5h0.9M373.0 171.2h0.9M367.4 177.6h0.9M379.3 177.0h0.9M366.9 181.7h0.9M373.6 172.6h0.9M378.8 175.1h0.9M379.0 168.5h0.9M366.6 180.4h0.9M378.6 178.6h0.9M375.0 176.5h0.9M368.6 179.1h0.9M373.3 172.0h0.9M372.8 175.2h0.9M371.8 178.8h0.9M377.9 172.8h0.9M372.0 178.7h0.9M368.8 166.8h0.9M368.9 173.9h0.9M363.0 173.6h0.9M373.8 172.6h0.9M370.9 175.0h0.9M373.0 173.7h0.9M375.0 168.3h0.9M373.9 173.7h0.9M369.1 172.1h0.9M369.2 170.9h0.9M373.3 174.1h0.9M377.6 175.8h0.9M374.4 176.0h0.9M369.4 171.7h0.9M380.3 178.3h0.9M366.7 175.9h0.9M366.0 178.4h0.9M365.1 177.3h0.9M372.6 172.4h0.9M362.9 172.1h0.9M375.9 173.3h0.9M376.6 175.0h0.9M368.2 174.3h0.9M378.8 178.0h0.9M377.6 175.3h0.9M383.6 182.0h0.9M366.5 170.2h0.9M369.7 175.7h0.9M372.2 172.0h0.9M371.3 182.7h0.9M367.7 172.1h0.9M373.0 177.0h0.9M375.0 171.1h0.9M362.6 179.5h0.9M373.9 170.8h0.9M372.5 176.1h0.9M373.5 175.7h0.9M376.5 169.4h0.9M365.8 173.5h0.9M371.2 175.1h0.9M371.7 176.0h0.9M364.2 174.8h0.9M377.7 169.4h0.9M366.7 171.0h0.9M362.3 166.7h0.9M373.7 172.4h0.9M364.8 178.0h0.9M372.6 173.2h0.9M376.1 170.5h0.9M379.3 174.2h0.9M369.6 182.6h0.9M364.1 179.0h0.9M366.6 171.4h0.9M375.8 164.8h0.9M370.3 172.8h0.9M375.6 172.6h0.9M366.1 172.6h0.9M385.7 176.8h0.9M380.4 179.4h0.9M372.7 167.4h0.9M375.7 168.9h0.9M376.7 176.0h0.9M365.7 171.9h0.9M374.1 163.5h0.9M372.3 166.4h0.9M374.8 173.7h0.9M376.1 174.1h0.9M373.5 179.0h0.9M378.1 175.0h0.9M372.1 177.4h0.9M366.8 178.7h0.9M365.1 171.7h0.9M372.7 177.6h0.9M368.3 172.3h0.9M372.2 173.7h0.9M367.3 173.3h0.9M377.1 174.3h0.9M362.9 179.8h0.9M374.4 177.7h0.9M373.2 179.7h0.9M367.5 168.6h0.9M375.4 170.4h0.9M361.3 174.8h0.9M371.0 169.8h0.9M370.5 181.8h0.9M372.7 178.0h0.9M365.5 172.2h0.9M375.4 172.5h0.9M378.7 176.0h0.9M371.0 173.6h0.9M366.5 174.3h0.9M368.1 172.9h0.9M361.9 173.2h0.9M366.8 171.4h0.9M372.5 178.3h0.9M372.5 177.6h0.9M374.1 167.8h0.9M374.0 168.0h0.9M371.8 180.4h0.9M370.5 178.6h0.9M365.8 178.5h0.9M377.0 175.8h0.9M367.5 162.1h0.9M369.3 171.6h0.9M368.1 174.1h0.9M369.5 180.3h0.9M366.9 182.0h0.9M374.0 172.0h0.9M371.2 172.9h0.9M382.1 174.9h0.9M369.5 171.0h0.9M379.9 176.8h0.9M371.8 165.5h0.9M374.1 175.9h0.9M377.4 172.5h0.9M368.1 167.7h0.9M375.3 173.1h0.9M376.0 173.0h0.9M372.5 172.6h0.9M371.3 170.8h0.9M373.8 168.8h0.9M373.6 169.5h0.9M368.8 175.1h0.9M375.2 175.2h0.9M372.7 173.6h0.9M370.2 170.7h0.9M369.5 172.2h0.9M366.8 174.9h0.9M381.1 173.2h0.9M375.4 173.6h0.9M376.5 176.2h0.9M379.0 168.8h0.9M366.6 176.3h0.9M368.9 181.2h0.9M374.6 176.1h0.9M362.2 167.7h0.9M374.1 174.2h0.9M377.1 171.5h0.9M377.7 176.2h0.9M376.1 179.8h0.9M365.3 182.1h0.9M371.3 180.0h0.9M367.2 177.3h0.9M365.3 177.8h0.9M371.3 175.1h0.9M371.2 174.7h0.9M368.8 181.7h0.9M371.6 170.2h0.9M367.7 176.4h0.9M374.8 179.9h0.9M376.2 172.2h0.9M381.3 171.4h0.9M361.2 179.8h0.9M380.7 178.5h0.9M374.2 176.9h0.9M370.8 174.5h0.9M371.7 175.1h0.9M375.5 181.5h0.9M368.7 176.0h0.9M370.1 171.5h0.9M373.8 175.3h0.9M373.3 172.5h0.9M381.0 168.2h0.9M372.8 173.2h0.9M375.7 177.8h0.9M371.8 172.0h0.9M372.9 174.3h0.9M382.0 181.7h0.9M374.2 166.7h0.9M371.8 170.3h0.9M373.5 176.2h0.9M371.1 176.5h0.9M376.0 175.1h0.9M372.7 168.5h0.9M368.1 176.8h0.9M371.8 168.6h0.9M376.6 175.1h0.9M375.4 171.4h0.9M370.6 173.5h0.9M380.0 174.1h0.9M372.6 176.5h0.9M366.4 182.5h0.9M379.9 173.3h0.9M368.4 180.2h0.9M368.1 171.2h0.9M365.7 172.4h0.9M372.8 175.2h0.9M364.0 182.7h0.9M380.2 177.2h0.9M384.0 181.8h0.9M367.2 169.9h0.9M374.8 182.0h0.9M372.5 175.2h0.9M372.1 172.7h0.9M373.4 179.7h0.9M370.5 174.4h0.9M375.4 180.2h0.9M368.6 170.6h0.9M368.3 177.0h0.9M378.3 173.3h0.9M385.3 171.6h0.9M367.9 167.8h0.9M374.1 170.0h0.9M375.4 178.0h0.9M371.7 180.2h0.9M371.6 177.8h0.9M370.8 171.9h0.9M375.1 168.3h0.9M370.4 168.6h0.9M369.6 175.7h0.9M373.0 169.5h0.9M372.8 167.8h0.9M376.0 181.7h0.9M373.5 171.5h0.9M381.7 169.5h0.9M370.5 171.7h0.9M373.6 177.8h0.9M373.8 170.9h0.9M364.3 175.5h0.9M375.4 176.7h0.9M371.7 176.9h0.9M366.9 169.7h0.9M383.8 169.1h0.9M371.5 175.7h0.9M369.2 170.7h0.9M379.3 176.1h0.9M365.4 180.1h0.9M377.4 178.9h0.9M378.0 174.6h0.9M364.0 170.2h0.9M363.9 180.2h0.9M366.5 181.6h0.9M374.8 173.9h0.9M378.6 168.5h0.9M369.4 176.5h0.9M374.6 170.9h0.9M378.3 179.5h0.9M375.2 175.2h0.9M366.5 165.7h0.9M377.9 170.7h0.9M382.2 178.9h0.9M365.4 172.7h0.9M370.9 177.1h0.9M376.4 181.3h0.9M367.7 174.2h0.9M380.4 173.6h0.9M366.3 182.1h0.9M371.8 170.3h0.9M368.7 173.8h0.9M373.4 171.1h0.9M371.6 179.4h0.9M372.1 175.4h0.9M371.8 166.5h0.9M369.8 176.0h0.9M375.0 172.5h0.9M371.6 165.3h0.9M365.2 181.6h0.9M369.9 176.5h0.9M370.1 172.6h0.9M378.3 175.2h0.9M365.1 169.7h0.9M370.6 172.1h0.9M363.0 174.2h0.9M372.6 180.1h0.9M364.9 168.6h0.9M377.2 176.5h0.9M368.9 168.1h0.9M370.1 168.7h0.9M380.8 175.8h0.9M371.9 170.6h0.9M376.6 181.8h0.9M367.9 178.0h0.9M371.1 177.5h0.9M376.3 178.1h0.9M373.3 170.7h0.9M380.9 176.0h0.9M377.5 169.3h0.9M375.0 180.3h0.9M368.6 176.2h0.9M372.8 176.1h0.9M376.0 174.8h0.9M376.2 170.9h0.9M371.0 171.2h0.9M370.5 178.2h0.9M373.1 179.5h0.9M358.2 186.5h0.9M370.2 173.9h0.9M372.3 169.0h0.9M370.4 178.9h0.9M367.2 182.1h0.9M373.0 165.8h0.9" stroke="#000" stroke-width="0.9" stroke-opacity="0.35"/>
<path d="M373.0 141.8h0.9M348.2 153.5h0.9M365.4 128.7h0.9M355.5 124.5h0.9M359.3 129.1h0.9M350.6 165.9h0.9M339.1 141.0h0.9M384.1 163.6h0.9M339.9 164.2h0.9M366.3 134.7h0.9M347.7 140.4h0.9M355.8 150.1h0.9M360.2 128.8h0.9M375.6 176.4h0.9M366.5 137.8h0.9M360.7 143.3h0.9M347.0 168.7h0.9M364.0 171.3h0.9M355.1 165.9h0.9M365.0 163.1h0.9M378.9 144.9h0.9M358.3 121.3h0.9M382.6 150.7h0.9M381.5 170.8h0.9M360.7 157.4h0.9M356.6 141.1h0.9M382.7 142.0h0.9M380.9 164.3h0.9M383.6 166.4h0.9M389.4 146.1h0.9M361.9 160.9h0.9M375.6 141.9h0.9M352.1 135.1h0.9M343.4 154.8h0.9M371.2 122.5h0.9M355.2 155.8h0.9M348.8 146.1h0.9M356.2 139.8h0.9M394.8 154.4h0.9M375.1 156.6h0.9M369.1 126.3h0.9M370.6 148.8h0.9M364.3 146.3h0.9M368.6 164.2h0.9M357.3 164.2h0.9M376.2 127.9h0.9M371.3 185.7h0.9M361.4 137.1h0.9M387.4 174.2h0.9M340.9 134.6h0.9M348.5 146.7h0.9M374.9 124.5h0.9M363.0 122.2h0.9M366.0 139.3h0.9M340.2 150.4h0.9M368.2 154.3h0.9M351.1 151.0h0.9M347.6 134.1h0.9M377.6 142.8h0.9M345.8 128.5h0.9M377.0 134.0h0.9M359.5 165.2h0.9M365.5 159.3h0.9M388.0 137.2h0.9M355.4 159.7h0.9M385.6 150.8h0.9M347.5 154.7h0.9M356.6 129.9h0.9M346.7 141.7h0.9M356.6 129.2h0.9M375.2 141.9h0.9M345.4 142.8h0.9M348.9 175.2h0.9M354.8 147.1h0.9M361.4 148.5h0.9M362.9 144.7h0.9M371.1 138.0h0.9M345.0 124.2h0.9M371.5 135.1h0.9M358.8 173.7h0.9M368.7 143.7h0.9M366.1 157.4h0.9M386.7 156.5h0.9M368.2 157.4h0.9M355.4 152.9h0.9M353.3 142.5h0.9M375.5 136.2h0.9M352.7 182.2h0.9M359.5 157.7h0.9M355.2 153.7h0.9M358.2 183.6h0.9M358.5 142.6h0.9M352.4 155.4h0.9M356.9 147.5h0.9M357.6 149.4h0.9M388.2 140.8h0.9M352.5 140.8h0.9M367.7 170.0h0.9M351.1 180.3h0.9M358.6 164.5h0.9M343.6 168.7h0.9M355.2 150.0h0.9M353.0 136.4h0.9M338.9 158.8h0.9M395.3 146.6h0.9M366.2 151.4h0.9M380.2 152.5h0.9M363.4 180.5h0.9M368.3 129.7h0.9M350.6 151.6h0.9M368.2 138.1h0.9M359.4 171.5h0.9M373.0 120.2h0.9M377.2 135.4h0.9M389.2 155.3h0.9M339.0 150.7h0.9M378.3 146.2h0.9M345.3 138.9h0.9M355.4 150.8h0.9M387.4 155.0h0.9" stroke="#000" stroke-width="0.9" stroke-opacity="0.1"/>
<path d="M338,178 C338,168 342,160 347,150 C349,145 353,144 355,148 C357,155 357.5,170 357,178 C356,184 350,186 344,185 C340,184 338,182 338,178 Z" fill="#000" fill-opacity="0.25" filter="url(#b1)" />
<path d="M338.6,176 C338.6,168 341.5,162 347,158 C347.5,152 348,147 351,146 C354,146 355,150 355.3,156 C356.5,163 356.8,172 356,178 C355,183 350,184.5 345,184.3 C340.5,184 338.6,181 338.6,176 Z" fill="#d4d4d4" stroke="#444" stroke-width="0.7" />
<path d="M341,176 C341,170 343.5,165.5 348,163 C349,158 349.5,152 351,150 C352.8,150.5 353.3,156 353.6,162 C354.5,168 354.5,174 354,179 C352.5,182 349,182.5 345.5,182.3 C342.5,182 341,179.5 341,176 Z" fill="#b0b0b0" stroke="#444" stroke-width="0.6" />
<path d="M343.5,176 C343.5,172 345.5,169 348.5,168 C351,168 352.5,171 352.5,175 C352.5,179 350.5,180.5 347.5,180.5 C345,180.5 343.5,179 343.5,176 Z" fill="#888" stroke="#333" stroke-width="0.5" />
<ellipse cx="352.2" cy="172.5" rx="2.6" ry="5.5" fill="#0d0d0d" fill-opacity="1" stroke="none" stroke-width="1" filter="url(#b0)"/>
<path d="M365.5,170 C367,166 378,165.5 379.5,168 C380,173 378.5,180.5 376,181.5 C372,181 367,179.5 365.5,175 Z" fill="#444" fill-opacity="0.5" filter="url(#b0)" />
<path d="M367,170.4 C370,169 375,168.5 377.4,168.7 C377.6,172 377.3,176.5 376.6,179.4 C374,179.6 371.5,178.8 369.9,177.9 C368.2,175.8 367.2,173 367,170.4 Z" fill="#fff" stroke="#666" stroke-width="0.6" />
<path d="M371.2,147 C371.5,143.5 374.5,141 378,141 C381.5,141.2 384.5,143.5 385,147.5 C385.3,151.5 384,155.5 380.5,157.5 C377,158.5 373.5,157 372,154 C371,151.5 371,149 371.2,147 Z" fill="#f4f4f4" stroke="#111" stroke-width="1.3" />
<path d="M373.5 143.2h0.9M379.7 153.7h0.9M376.0 152.4h0.9M377.5 149.9h0.9M380.8 145.9h0.9M376.4 146.8h0.9M379.1 150.5h0.9M377.6 146.8h0.9M375.5 146.9h0.9M383.3 150.8h0.9M375.1 141.6h0.9M383.8 147.6h0.9M380.5 145.2h0.9M378.7 150.8h0.9M377.6 150.2h0.9M376.7 143.9h0.9M376.1 150.0h0.9M380.5 148.6h0.9M376.6 145.5h0.9M379.8 154.7h0.9M375.9 145.9h0.9M377.5 152.6h0.9M377.4 148.2h0.9M377.8 149.8h0.9M374.8 150.1h0.9M381.0 151.5h0.9M376.9 151.1h0.9M377.8 148.2h0.9M379.9 151.6h0.9M379.4 145.8h0.9M377.5 151.6h0.9M381.5 148.6h0.9M381.4 150.7h0.9M379.2 148.4h0.9M377.5 149.8h0.9M380.8 150.0h0.9M377.6 145.8h0.9M374.4 146.3h0.9M379.8 153.9h0.9M379.6 147.7h0.9M377.9 145.6h0.9M379.3 154.0h0.9M376.5 148.9h0.9M375.6 144.7h0.9M375.4 150.0h0.9M377.9 150.2h0.9M378.3 147.3h0.9M376.8 147.7h0.9M379.4 148.2h0.9M377.7 149.9h0.9M376.2 151.3h0.9M378.4 148.2h0.9M379.7 147.3h0.9M378.6 146.0h0.9M379.0 146.3h0.9M378.9 148.3h0.9M372.6 149.0h0.9M375.8 148.2h0.9M379.3 146.8h0.9M377.8 151.6h0.9" stroke="#000" stroke-width="0.9" stroke-opacity="0.2"/>
<text x="390" y="133.8" font-size="7.4" font-weight="normal" text-anchor="start" fill="#222" >0.333</text>
<rect x="440.4" y="116.1" width="73.39999999999998" height="74.30000000000001" fill="none" stroke="#8a8a8a" stroke-width="0.8" />
<line x1="437.9" y1="122.044" x2="440.4" y2="122.044" stroke="#888" stroke-width="0.6" />
<line x1="437.9" y1="138.39" x2="440.4" y2="138.39" stroke="#888" stroke-width="0.6" />
<line x1="437.9" y1="154.736" x2="440.4" y2="154.736" stroke="#888" stroke-width="0.6" />
<line x1="437.9" y1="169.596" x2="440.4" y2="169.596" stroke="#888" stroke-width="0.6" />
<line x1="437.9" y1="177.026" x2="440.4" y2="177.026" stroke="#888" stroke-width="0.6" />
<text x="437.4" y="123.244" font-size="3.6" font-weight="normal" text-anchor="end" fill="#777" >10⁵</text>
<text x="437.4" y="139.58999999999997" font-size="3.6" font-weight="normal" text-anchor="end" fill="#777" >10⁴</text>
<text x="437.4" y="155.93599999999998" font-size="3.6" font-weight="normal" text-anchor="end" fill="#777" >10³</text>
<text x="437.4" y="170.796" font-size="3.6" font-weight="normal" text-anchor="end" fill="#777" >10²</text>
<text x="437.4" y="178.226" font-size="3.6" font-weight="normal" text-anchor="end" fill="#777" >0</text>
<line x1="458.75" y1="190.4" x2="458.75" y2="192.9" stroke="#888" stroke-width="0.6" />
<text x="458.75" y="196.9" font-size="3.6" font-weight="normal" text-anchor="middle" fill="#777" >0</text>
<line x1="477.09999999999997" y1="190.4" x2="477.09999999999997" y2="192.9" stroke="#888" stroke-width="0.6" />
<text x="477.09999999999997" y="196.9" font-size="3.6" font-weight="normal" text-anchor="middle" fill="#777" >10³</text>
<line x1="493.24799999999993" y1="190.4" x2="493.24799999999993" y2="192.9" stroke="#888" stroke-width="0.6" />
<text x="493.24799999999993" y="196.9" font-size="3.6" font-weight="normal" text-anchor="middle" fill="#777" >10⁴</text>
<line x1="508.662" y1="190.4" x2="508.662" y2="192.9" stroke="#888" stroke-width="0.6" />
<text x="508.662" y="196.9" font-size="3.6" font-weight="normal" text-anchor="middle" fill="#777" >10⁵</text>
<text transform="translate(430.6,155.4) rotate(-90)" font-size="12.8" font-weight="normal" text-anchor="middle" fill="#000"  stroke="#000" stroke-width="0.18">CD4</text>
<text x="482.1" y="205.8" font-size="12.8" font-weight="normal" text-anchor="middle" fill="#000"  stroke="#000" stroke-width="0.18">CD8</text>
<path d="M469.0 169.9h0.9M471.4 162.1h0.9M460.2 169.0h0.9M465.1 180.8h0.9M467.6 167.8h0.9M465.2 174.0h0.9M478.8 179.3h0.9M465.2 174.0h0.9M471.1 173.4h0.9M465.4 169.8h0.9M468.7 169.4h0.9M468.9 170.7h0.9M462.0 175.3h0.9M469.1 173.8h0.9M461.6 174.3h0.9M467.7 175.9h0.9M457.5 168.5h0.9M463.7 159.3h0.9M472.4 163.2h0.9M458.6 174.3h0.9M470.2 178.6h0.9M468.2 169.0h0.9M468.6 164.0h0.9M468.1 175.1h0.9M463.3 176.0h0.9M469.2 179.8h0.9M465.9 159.4h0.9M472.5 169.8h0.9M469.4 169.9h0.9M467.5 170.7h0.9M468.0 172.3h0.9M475.4 172.7h0.9M475.8 163.9h0.9M461.9 163.6h0.9M457.8 170.4h0.9M465.9 170.1h0.9M473.9 169.6h0.9M461.6 163.2h0.9M469.0 176.7h0.9M465.5 174.2h0.9M465.3 175.4h0.9M465.5 170.5h0.9M469.4 182.3h0.9M470.5 169.5h0.9M464.7 170.0h0.9M462.3 181.8h0.9M455.7 165.7h0.9M458.6 168.3h0.9M465.2 183.0h0.9M467.0 179.4h0.9M463.9 178.9h0.9M476.4 178.7h0.9M473.7 174.1h0.9M464.8 176.4h0.9M462.3 174.7h0.9M465.1 169.0h0.9M460.2 172.2h0.9M458.2 171.0h0.9M465.7 166.7h0.9M464.1 161.4h0.9M470.0 172.9h0.9M461.3 161.9h0.9M464.6 179.8h0.9M468.3 171.9h0.9M470.3 168.7h0.9M461.4 163.5h0.9M460.0 169.8h0.9M464.6 161.1h0.9M462.0 165.5h0.9M469.1 173.6h0.9M468.9 171.3h0.9M456.2 176.8h0.9M467.2 173.0h0.9M466.7 170.4h0.9M475.7 163.9h0.9M462.6 179.2h0.9M470.1 174.4h0.9M465.3 176.7h0.9M465.7 172.7h0.9M467.9 173.8h0.9M461.8 170.0h0.9M469.2 164.2h0.9M461.6 180.3h0.9M460.4 180.1h0.9M461.9 179.0h0.9M465.3 173.0h0.9M464.4 176.5h0.9M474.3 180.7h0.9M467.7 175.3h0.9M460.6 176.9h0.9M469.2 170.6h0.9M461.4 164.1h0.9M468.1 171.3h0.9M468.0 174.5h0.9M468.5 173.3h0.9M459.7 170.0h0.9M471.1 164.5h0.9M465.5 158.5h0.9M468.7 170.3h0.9M459.2 176.1h0.9M456.8 175.1h0.9M464.0 173.5h0.9M466.7 181.9h0.9M459.0 173.2h0.9M470.2 171.3h0.9M460.1 182.0h0.9M470.9 162.7h0.9M473.3 179.8h0.9M467.0 177.6h0.9M464.7 164.3h0.9M464.2 173.8h0.9M463.0 170.5h0.9M475.1 164.4h0.9M461.0 186.2h0.9M463.2 176.8h0.9M461.2 175.8h0.9M459.5 168.8h0.9M466.4 183.2h0.9M456.8 176.9h0.9M459.0 173.9h0.9M469.6 174.2h0.9M467.4 165.9h0.9M462.6 172.2h0.9M469.6 172.6h0.9M457.0 178.5h0.9M463.2 175.1h0.9M454.8 167.5h0.9M469.4 182.4h0.9M459.1 172.4h0.9M457.1 163.7h0.9M469.4 160.2h0.9M456.8 166.0h0.9M465.4 166.3h0.9M456.5 167.6h0.9M459.1 178.5h0.9M466.6 178.7h0.9M464.6 172.2h0.9M461.4 153.7h0.9M463.8 182.7h0.9M465.4 175.2h0.9M466.5 175.3h0.9M459.6 177.4h0.9M467.2 167.1h0.9M471.9 173.7h0.9M462.7 167.5h0.9M462.4 166.8h0.9M459.1 165.8h0.9M474.5 179.5h0.9M472.3 175.2h0.9M467.7 165.0h0.9M471.0 173.5h0.9M465.3 161.5h0.9M461.4 164.0h0.9M463.0 180.8h0.9M453.4 163.3h0.9M464.6 159.2h0.9M460.8 172.3h0.9M464.3 176.0h0.9M471.4 171.6h0.9M471.0 177.8h0.9M464.4 171.3h0.9M461.2 165.8h0.9M464.4 168.8h0.9M471.0 169.7h0.9M460.5 168.8h0.9M457.1 171.4h0.9M460.0 178.8h0.9M471.5 174.6h0.9M471.3 175.5h0.9M472.4 157.0h0.9M467.8 166.9h0.9M466.5 164.9h0.9M466.8 177.8h0.9M458.9 172.0h0.9M463.9 184.4h0.9M465.5 177.7h0.9M465.3 177.1h0.9M468.1 176.6h0.9M465.2 169.6h0.9M470.2 174.7h0.9M463.3 180.4h0.9M477.2 164.3h0.9M465.3 169.2h0.9M465.8 167.3h0.9M459.6 173.7h0.9M451.7 175.9h0.9M459.8 170.5h0.9M463.4 174.3h0.9M456.8 172.6h0.9M472.3 171.6h0.9M465.7 160.8h0.9M461.3 165.8h0.9M471.2 173.0h0.9M474.8 158.5h0.9M462.4 164.8h0.9M468.3 173.7h0.9M458.0 180.4h0.9M463.1 174.4h0.9M468.3 171.2h0.9M458.6 173.0h0.9M483.4 182.6h0.9M472.5 167.6h0.9M467.1 176.5h0.9M467.0 163.9h0.9M470.4 169.8h0.9M468.9 179.8h0.9M466.1 175.9h0.9M463.9 166.9h0.9M461.6 173.2h0.9M469.0 175.1h0.9M469.5 177.8h0.9M460.5 176.7h0.9M467.2 165.3h0.9M462.7 173.5h0.9M461.9 171.4h0.9M462.0 167.1h0.9M471.5 176.7h0.9M465.1 172.3h0.9M468.4 171.9h0.9M461.2 178.0h0.9M467.7 162.6h0.9M455.3 164.1h0.9M459.7 176.4h0.9M464.6 173.9h0.9M457.1 169.0h0.9M478.7 161.6h0.9M462.9 171.4h0.9M462.6 166.7h0.9M463.8 172.7h0.9M460.4 181.9h0.9M465.9 171.7h0.9M474.4 178.2h0.9M464.6 165.8h0.9M466.7 173.3h0.9M467.1 164.9h0.9M467.9 163.4h0.9M470.1 172.3h0.9M457.7 169.4h0.9M468.9 169.0h0.9M460.2 169.9h0.9M461.4 167.0h0.9M462.1 164.9h0.9M467.8 172.9h0.9M461.6 175.5h0.9M471.5 178.8h0.9M469.0 174.6h0.9M465.7 167.2h0.9M470.9 166.2h0.9M463.6 173.2h0.9M474.1 174.0h0.9M462.6 169.7h0.9M467.0 174.4h0.9M466.4 169.8h0.9M467.4 170.6h0.9M464.0 171.8h0.9M459.2 176.2h0.9M468.4 167.7h0.9M458.5 186.0h0.9M462.6 170.1h0.9M465.4 171.6h0.9M458.0 175.0h0.9M466.8 171.4h0.9M461.4 170.1h0.9M470.5 173.2h0.9M470.8 181.0h0.9M475.3 174.7h0.9M463.9 163.1h0.9M469.4 180.5h0.9M469.1 173.0h0.9M469.0 171.7h0.9M465.6 172.8h0.9M462.3 173.7h0.9M465.9 169.3h0.9M464.6 179.8h0.9M470.7 160.9h0.9M462.3 168.9h0.9M471.8 181.9h0.9M462.5 172.1h0.9M467.8 178.8h0.9M464.7 166.9h0.9M468.3 170.5h0.9M463.5 166.7h0.9M470.6 169.7h0.9M470.4 174.8h0.9M463.9 165.5h0.9M472.4 173.8h0.9M460.1 171.1h0.9M469.5 167.4h0.9M465.7 180.3h0.9M470.6 161.1h0.9M467.8 182.4h0.9M462.0 177.6h0.9M469.3 176.8h0.9M461.9 178.8h0.9M463.3 171.1h0.9M460.4 172.3h0.9M468.5 166.4h0.9M473.1 179.3h0.9M477.3 174.3h0.9M467.5 174.9h0.9M461.5 176.8h0.9M470.3 164.6h0.9M470.3 166.9h0.9M466.5 170.8h0.9M463.3 182.4h0.9M465.3 172.0h0.9M469.0 173.3h0.9M469.1 183.5h0.9M472.0 180.0h0.9M468.3 172.7h0.9M459.8 180.5h0.9M460.7 181.7h0.9M468.8 176.0h0.9M454.9 184.7h0.9M467.3 174.8h0.9M473.8 173.6h0.9M474.8 179.6h0.9M465.9 177.4h0.9M470.5 175.6h0.9M467.5 173.3h0.9M460.9 164.2h0.9M470.3 177.5h0.9M465.2 177.2h0.9M461.4 172.0h0.9M464.2 167.5h0.9M468.4 173.5h0.9M456.5 171.9h0.9M463.0 182.1h0.9M476.5 174.8h0.9M465.4 172.1h0.9M460.7 170.9h0.9M470.1 182.7h0.9M452.2 172.2h0.9M454.5 170.3h0.9M461.4 174.0h0.9M465.7 173.6h0.9M467.8 178.7h0.9M469.1 162.4h0.9M467.0 165.8h0.9M465.4 171.3h0.9M469.9 177.9h0.9M464.2 170.6h0.9M468.0 182.1h0.9M466.7 178.7h0.9M464.4 173.0h0.9M469.0 173.7h0.9M465.5 176.8h0.9M461.5 175.4h0.9M468.0 160.2h0.9M457.9 180.2h0.9M459.1 181.5h0.9M469.3 178.3h0.9M471.1 172.4h0.9M464.2 168.8h0.9M467.2 165.6h0.9M471.5 172.8h0.9M464.5 164.5h0.9M461.2 167.1h0.9M463.3 174.3h0.9M465.4 184.7h0.9M472.7 172.2h0.9M475.0 169.7h0.9M467.5 174.4h0.9M459.6 176.4h0.9M462.6 186.0h0.9M470.9 167.2h0.9M464.5 170.9h0.9M473.0 180.4h0.9M465.1 162.5h0.9M460.0 180.2h0.9M464.2 165.6h0.9M460.2 180.2h0.9M474.2 167.6h0.9M465.4 177.2h0.9M466.8 175.6h0.9M467.1 170.3h0.9M463.2 166.1h0.9M463.6 166.0h0.9M467.9 173.0h0.9M464.6 171.3h0.9M464.3 178.6h0.9M475.0 161.6h0.9M472.7 175.9h0.9M468.3 171.0h0.9M459.4 176.2h0.9M473.6 167.2h0.9M465.9 175.1h0.9M459.5 166.6h0.9M479.3 169.8h0.9M466.5 166.4h0.9M461.4 172.7h0.9M466.8 186.1h0.9M474.1 165.1h0.9M464.0 170.4h0.9M466.2 173.8h0.9M471.1 161.5h0.9M470.4 179.8h0.9M466.9 181.4h0.9M470.5 171.2h0.9M464.9 177.2h0.9M462.4 166.7h0.9M464.1 168.8h0.9M460.9 171.6h0.9M463.8 174.6h0.9M465.5 165.4h0.9M478.1 179.5h0.9M465.2 173.5h0.9M466.3 175.2h0.9M455.0 173.2h0.9M472.4 186.9h0.9M466.4 174.1h0.9M475.6 172.6h0.9M471.6 175.3h0.9M467.5 170.6h0.9M467.3 177.5h0.9M456.2 171.4h0.9M465.4 178.7h0.9M464.5 164.5h0.9M468.0 180.6h0.9M464.0 171.5h0.9" stroke="#000" stroke-width="0.9" stroke-opacity="0.35"/>
<path d="M488.3 174.5h0.9M490.3 173.2h0.9M484.8 165.1h0.9M493.2 164.8h0.9M491.8 168.2h0.9M492.2 163.5h0.9M483.6 162.2h0.9M492.0 171.4h0.9M480.1 167.6h0.9M491.8 176.0h0.9M496.9 161.5h0.9M489.2 152.4h0.9M488.3 163.6h0.9M505.5 170.8h0.9M494.1 169.3h0.9M493.7 172.1h0.9M493.6 174.2h0.9M495.2 168.8h0.9M483.0 161.9h0.9M492.6 181.2h0.9M490.5 154.6h0.9M506.8 167.2h0.9M487.3 160.1h0.9M494.2 179.8h0.9M485.9 172.2h0.9M499.7 171.5h0.9M495.6 169.4h0.9M480.8 164.2h0.9M476.7 165.0h0.9M495.2 162.4h0.9M496.6 170.9h0.9M496.1 165.6h0.9M497.4 176.7h0.9M484.7 176.0h0.9M503.0 170.8h0.9M488.5 172.0h0.9M481.3 160.0h0.9M491.2 170.5h0.9M488.3 168.8h0.9M487.8 177.0h0.9M478.5 170.2h0.9M483.2 157.6h0.9M492.2 162.7h0.9M492.8 167.2h0.9M485.7 170.6h0.9M488.6 167.7h0.9M489.7 154.8h0.9M499.7 175.6h0.9M493.7 174.6h0.9M492.5 164.1h0.9M487.0 166.7h0.9M477.5 171.6h0.9M499.3 167.8h0.9M493.8 179.9h0.9M500.4 180.1h0.9M492.6 170.9h0.9M502.2 171.0h0.9M510.3 164.4h0.9M492.3 165.9h0.9M495.3 163.9h0.9M487.4 172.6h0.9M496.0 177.1h0.9M488.8 153.2h0.9M489.7 158.9h0.9M486.7 169.9h0.9M495.1 172.0h0.9M495.4 166.8h0.9M488.9 178.1h0.9M485.0 166.5h0.9M506.0 189.0h0.9M488.0 168.0h0.9M488.4 172.3h0.9M491.5 176.3h0.9M479.9 168.4h0.9M492.3 176.5h0.9M495.5 169.6h0.9M485.7 173.9h0.9M486.6 171.3h0.9M494.7 160.7h0.9M499.0 172.0h0.9M486.4 161.2h0.9M496.7 169.4h0.9M506.4 171.3h0.9M478.8 155.4h0.9M497.2 175.6h0.9M483.9 177.9h0.9M495.2 171.1h0.9M497.3 175.7h0.9M478.7 169.5h0.9M480.1 179.7h0.9M477.0 151.5h0.9M501.1 172.4h0.9M499.7 187.4h0.9M502.6 170.2h0.9M493.2 169.1h0.9M497.2 171.9h0.9M485.0 173.8h0.9M493.8 172.1h0.9M495.2 165.1h0.9M486.2 169.9h0.9M505.4 167.9h0.9M487.7 170.1h0.9M498.5 178.8h0.9M490.6 157.8h0.9M488.8 174.4h0.9M482.5 183.3h0.9M482.7 176.9h0.9M492.2 167.0h0.9M483.0 180.6h0.9M493.0 177.7h0.9M491.2 165.8h0.9M489.0 165.5h0.9M487.4 175.7h0.9M500.7 157.0h0.9M494.7 163.3h0.9M477.7 179.0h0.9M486.3 175.5h0.9M491.3 169.9h0.9M477.7 167.3h0.9M481.3 170.3h0.9M490.6 156.2h0.9M489.7 169.9h0.9M485.7 178.1h0.9M496.8 179.3h0.9M502.8 162.2h0.9M500.6 178.0h0.9M484.0 162.6h0.9M483.9 172.9h0.9M497.5 179.9h0.9M487.1 166.1h0.9M491.4 167.6h0.9M481.1 164.4h0.9M497.9 177.5h0.9M494.2 179.1h0.9M494.0 164.9h0.9M484.4 162.2h0.9M499.0 154.4h0.9M498.0 176.5h0.9M497.0 171.7h0.9M487.3 153.8h0.9M483.1 152.4h0.9M494.5 170.7h0.9M499.2 171.4h0.9M493.5 168.5h0.9M496.8 174.4h0.9M500.6 162.4h0.9M485.7 169.0h0.9M494.7 176.4h0.9M488.3 166.9h0.9M505.0 162.5h0.9M489.0 156.0h0.9M492.7 166.8h0.9M488.0 177.8h0.9M483.1 175.0h0.9M491.0 171.5h0.9M488.0 165.7h0.9M494.7 173.8h0.9M482.4 170.7h0.9M482.0 167.1h0.9M482.9 171.9h0.9M502.1 178.5h0.9M499.8 173.7h0.9M490.3 171.4h0.9M485.9 159.4h0.9M485.3 164.2h0.9M487.5 168.5h0.9M492.5 175.1h0.9M500.3 173.7h0.9M495.6 178.3h0.9M494.0 173.0h0.9M488.0 164.5h0.9M503.0 172.6h0.9M495.8 166.2h0.9M507.9 169.1h0.9M502.0 170.5h0.9M496.3 175.6h0.9M492.4 178.2h0.9M481.1 178.2h0.9M495.3 178.3h0.9M501.8 179.7h0.9M487.1 175.7h0.9M485.8 183.8h0.9M485.8 156.3h0.9M491.1 166.7h0.9M490.5 165.6h0.9M488.0 173.1h0.9M487.3 167.9h0.9M488.7 188.3h0.9M483.0 170.1h0.9M496.2 166.4h0.9M476.7 171.8h0.9M492.3 156.6h0.9M487.7 169.4h0.9M489.1 177.0h0.9M495.0 171.1h0.9M479.9 164.0h0.9M483.6 174.3h0.9M486.1 161.5h0.9M491.5 167.6h0.9M494.3 162.4h0.9M478.9 172.0h0.9M488.8 178.1h0.9M486.8 169.7h0.9M482.3 171.5h0.9M489.6 168.9h0.9M492.9 178.0h0.9M486.2 166.4h0.9M490.9 172.2h0.9M479.4 176.7h0.9M505.0 170.4h0.9M499.3 172.0h0.9M486.6 171.5h0.9M492.9 174.0h0.9M484.4 162.6h0.9M493.0 164.3h0.9M494.1 177.7h0.9M502.6 164.5h0.9M498.4 163.7h0.9M495.7 167.0h0.9M499.2 169.2h0.9M495.4 164.5h0.9M494.4 171.2h0.9M491.4 162.3h0.9M481.8 174.0h0.9M481.4 177.3h0.9M489.2 162.6h0.9M483.1 172.2h0.9M484.4 168.2h0.9M499.4 173.3h0.9M503.6 167.0h0.9M486.1 172.6h0.9M487.4 166.9h0.9M493.8 179.8h0.9M474.7 173.5h0.9M498.5 176.1h0.9M494.9 162.2h0.9M484.0 172.4h0.9M494.9 178.4h0.9M493.1 167.6h0.9M487.9 168.5h0.9M489.9 169.9h0.9M486.7 169.5h0.9M483.2 158.9h0.9M494.8 167.8h0.9M492.8 177.7h0.9M488.8 168.5h0.9M479.7 174.6h0.9M498.6 167.8h0.9M492.9 175.2h0.9M499.5 167.4h0.9M489.9 166.9h0.9M489.2 171.7h0.9M478.5 184.7h0.9M484.4 164.9h0.9M493.2 167.3h0.9M483.8 171.3h0.9M488.8 185.2h0.9M475.1 175.8h0.9M488.4 172.8h0.9M492.0 165.7h0.9M492.6 162.6h0.9M485.8 178.1h0.9M501.9 162.3h0.9M492.0 161.2h0.9M499.1 168.7h0.9M489.0 171.8h0.9M491.9 173.6h0.9M479.4 173.4h0.9M493.5 170.6h0.9M483.6 179.7h0.9M492.7 182.5h0.9M498.0 166.1h0.9M485.6 169.1h0.9M488.7 184.0h0.9M505.2 158.2h0.9M493.8 171.4h0.9M502.7 153.6h0.9M487.5 163.5h0.9M496.6 169.7h0.9M490.4 168.6h0.9M489.3 178.7h0.9M492.6 168.1h0.9M482.4 166.4h0.9M483.9 179.6h0.9M485.2 169.6h0.9M498.3 166.6h0.9M492.7 180.0h0.9M490.7 179.0h0.9M493.1 170.6h0.9M504.1 175.6h0.9M490.1 171.8h0.9M478.1 164.9h0.9M489.3 176.9h0.9M492.1 172.7h0.9M493.1 178.0h0.9M500.8 156.4h0.9M486.9 170.9h0.9M501.3 174.5h0.9M496.1 166.8h0.9M499.2 171.2h0.9M501.8 163.6h0.9M492.2 162.5h0.9M486.8 159.9h0.9M488.2 181.1h0.9M494.1 169.8h0.9M499.1 167.7h0.9M494.5 171.7h0.9M495.8 180.1h0.9M481.2 177.2h0.9M479.0 167.4h0.9M496.0 173.3h0.9M485.8 173.3h0.9M490.1 173.5h0.9M483.5 169.1h0.9M490.0 168.8h0.9M492.4 170.5h0.9M493.2 174.4h0.9M496.0 158.4h0.9M488.8 172.5h0.9M494.7 163.9h0.9M497.8 166.1h0.9M490.0 177.4h0.9M495.1 171.0h0.9M486.5 163.9h0.9M498.4 184.7h0.9M492.9 177.0h0.9M493.1 163.9h0.9M485.0 171.6h0.9M498.0 164.5h0.9M473.8 170.8h0.9M494.3 174.8h0.9M487.5 170.5h0.9M502.5 164.5h0.9M501.1 179.7h0.9M496.2 172.1h0.9M486.8 163.6h0.9M495.1 168.7h0.9M494.3 171.6h0.9M489.6 164.9h0.9M481.2 157.2h0.9M490.5 172.9h0.9M490.3 182.1h0.9M481.4 170.6h0.9M494.2 162.4h0.9M489.0 171.1h0.9M501.5 170.8h0.9M487.8 167.2h0.9M489.8 161.8h0.9M489.9 183.3h0.9M498.2 181.2h0.9M479.3 163.2h0.9M490.8 168.0h0.9M488.6 176.9h0.9M482.5 178.6h0.9M482.1 178.7h0.9M487.4 160.0h0.9M497.7 174.4h0.9M500.5 161.0h0.9M496.4 171.3h0.9M489.4 168.6h0.9M498.9 175.6h0.9M486.5 167.8h0.9M489.8 171.3h0.9M491.5 176.8h0.9M499.2 167.8h0.9M487.2 166.9h0.9M483.7 165.7h0.9M496.6 168.7h0.9M488.6 167.7h0.9M490.3 169.9h0.9M497.9 170.2h0.9M490.9 171.8h0.9M479.7 166.1h0.9M479.4 163.5h0.9M484.0 171.7h0.9M487.8 157.7h0.9M496.9 165.8h0.9M491.5 167.6h0.9M487.2 171.0h0.9M491.5 166.9h0.9M484.9 170.4h0.9M489.5 172.3h0.9M492.1 171.1h0.9M496.9 180.0h0.9M485.8 160.6h0.9M483.4 178.3h0.9M487.9 176.7h0.9M477.9 159.6h0.9M491.1 163.1h0.9M488.1 170.1h0.9M491.7 171.0h0.9M490.3 172.3h0.9M485.9 167.5h0.9M494.0 171.9h0.9M493.7 165.6h0.9M500.5 165.2h0.9M487.7 160.5h0.9M497.9 158.7h0.9M497.8 179.0h0.9M485.2 180.5h0.9M489.8 175.6h0.9M488.5 174.7h0.9M494.3 179.6h0.9M506.7 163.3h0.9M494.9 180.2h0.9M497.1 163.8h0.9M500.4 177.4h0.9M489.5 161.6h0.9M491.5 164.0h0.9M493.3 176.5h0.9M500.9 170.3h0.9M488.9 164.2h0.9M501.5 166.7h0.9M504.4 182.6h0.9M492.3 175.5h0.9M482.5 177.4h0.9M491.0 161.1h0.9M497.8 166.8h0.9M493.0 158.8h0.9M494.3 177.1h0.9M481.6 157.3h0.9M479.3 182.3h0.9M495.6 173.9h0.9M481.8 169.8h0.9M491.5 171.7h0.9M494.8 166.1h0.9M494.3 172.3h0.9M491.5 174.0h0.9M480.8 183.9h0.9M483.9 176.9h0.9M495.0 165.4h0.9M501.4 161.6h0.9M503.2 164.5h0.9M503.7 176.5h0.9M492.0 163.7h0.9M493.2 164.5h0.9M479.3 178.8h0.9M479.8 177.4h0.9M493.5 161.8h0.9M498.8 158.0h0.9M492.4 165.4h0.9M494.5 160.6h0.9M483.4 167.7h0.9M488.0 165.2h0.9M490.7 167.0h0.9M491.8 169.2h0.9M494.6 176.8h0.9M497.1 164.6h0.9M504.4 167.4h0.9M483.4 169.0h0.9M484.5 166.0h0.9M490.5 175.1h0.9M492.5 163.5h0.9M496.4 159.5h0.9M486.9 159.7h0.9M482.2 171.5h0.9M491.3 162.3h0.9M490.3 167.8h0.9M500.8 168.6h0.9M483.9 174.6h0.9M493.7 180.7h0.9M501.9 156.6h0.9M493.2 165.1h0.9M484.0 177.8h0.9M485.0 179.4h0.9M502.6 162.8h0.9M493.5 159.8h0.9M482.1 169.4h0.9M498.3 162.9h0.9M499.7 169.7h0.9M481.2 176.9h0.9M483.7 171.0h0.9M489.8 173.4h0.9M487.6 175.6h0.9M496.8 173.6h0.9M496.3 160.5h0.9M495.2 168.5h0.9M494.9 171.1h0.9M491.0 174.3h0.9M493.0 175.6h0.9M488.1 170.5h0.9M495.8 166.8h0.9M499.0 172.8h0.9M490.2 175.3h0.9M485.7 168.6h0.9M486.2 174.1h0.9M499.5 169.3h0.9M487.5 161.5h0.9M485.3 160.1h0.9M499.3 170.6h0.9M485.9 172.3h0.9M493.5 175.3h0.9M487.1 172.7h0.9M482.5 185.6h0.9M475.7 160.1h0.9M484.4 166.5h0.9M491.5 172.1h0.9M491.5 169.7h0.9M491.7 157.3h0.9M488.0 174.4h0.9M486.7 175.8h0.9M492.8 179.1h0.9M489.3 164.8h0.9M489.7 166.3h0.9M489.4 181.0h0.9M490.4 163.4h0.9M480.4 178.8h0.9M488.4 162.4h0.9M497.8 161.0h0.9M495.2 176.4h0.9M492.8 169.8h0.9M504.7 163.8h0.9M493.6 173.5h0.9M489.1 181.0h0.9M497.5 178.4h0.9M492.9 182.0h0.9M492.2 173.8h0.9M491.1 169.8h0.9M484.4 171.8h0.9M489.0 170.9h0.9" stroke="#000" stroke-width="0.9" stroke-opacity="0.35"/>
<path d="M469.0 147.0h0.9M462.1 150.8h0.9M466.1 142.4h0.9M463.9 144.6h0.9M468.6 145.6h0.9M462.2 146.1h0.9M475.1 144.1h0.9M467.7 146.9h0.9M466.2 140.6h0.9M470.0 142.5h0.9M470.9 147.3h0.9M475.9 146.3h0.9M461.7 140.3h0.9M466.6 141.0h0.9M462.0 141.0h0.9M469.6 136.3h0.9M455.4 141.3h0.9M462.3 146.1h0.9M473.5 146.6h0.9M466.4 148.5h0.9M468.5 145.5h0.9M472.5 147.1h0.9M465.6 141.5h0.9M472.0 144.6h0.9M475.2 149.1h0.9M458.9 142.1h0.9M476.6 143.8h0.9M464.3 142.0h0.9M469.2 144.5h0.9M467.0 138.3h0.9M476.9 141.2h0.9M475.7 146.8h0.9M464.5 138.5h0.9M464.1 142.9h0.9M466.7 142.2h0.9M466.3 143.1h0.9M466.9 145.3h0.9M467.1 142.6h0.9M466.7 143.6h0.9M459.6 146.0h0.9M471.7 139.8h0.9M460.5 146.0h0.9M475.1 146.5h0.9M469.3 144.9h0.9M473.6 140.9h0.9M468.5 146.0h0.9M463.0 142.5h0.9M467.1 138.4h0.9M466.6 150.7h0.9M468.6 141.1h0.9M471.5 139.8h0.9M466.6 142.4h0.9M465.3 143.4h0.9M471.9 147.5h0.9M472.0 139.8h0.9M470.0 143.0h0.9M466.6 141.7h0.9M459.8 144.4h0.9M471.1 149.3h0.9M476.5 145.4h0.9M466.6 141.7h0.9M467.4 138.6h0.9M473.7 139.2h0.9M473.2 146.5h0.9M468.2 146.3h0.9M467.1 139.7h0.9M465.3 138.2h0.9M465.2 145.2h0.9M469.9 143.2h0.9M471.5 145.6h0.9M477.3 143.0h0.9M472.8 139.5h0.9M472.6 140.8h0.9M466.3 149.1h0.9M470.8 145.7h0.9M466.9 140.7h0.9M462.2 145.6h0.9M469.7 142.8h0.9M465.0 142.0h0.9M459.6 149.0h0.9" stroke="#000" stroke-width="0.9" stroke-opacity="0.12"/>
<path d="M457.0,168.0 C457.6,165.3 458.3,163.2 460.0,162.0 C461.7,160.8 464.7,160.7 467.0,161.0 C469.3,161.3 472.6,162.2 474.0,164.0 C475.4,165.8 475.4,169.2 475.4,172.0 C475.4,174.8 475.2,178.8 474.0,181.0 C472.8,183.2 470.3,185.0 468.0,185.5 C465.7,186.0 461.9,185.2 460.0,184.0 C458.1,182.8 457.1,180.7 456.6,178.0 C456.1,175.3 456.4,170.7 457.0,168.0 Z" fill="#cdcdcd" stroke="#555" stroke-width="0.7" />
<path d="M459.4,169.2 C459.8,167.2 460.4,165.6 461.6,164.8 C462.9,163.9 465.1,163.8 466.9,164.0 C468.6,164.2 471.1,164.9 472.1,166.2 C473.2,167.6 473.2,170.1 473.2,172.2 C473.2,174.4 473.1,177.3 472.1,179.0 C471.2,180.7 469.4,182.0 467.6,182.4 C465.9,182.8 463.1,182.2 461.6,181.2 C460.2,180.3 459.5,178.8 459.1,176.8 C458.7,174.8 458.9,171.2 459.4,169.2 Z" fill="#a5a5a5" stroke="#222" stroke-width="1.1" />
<path d="M462.5,170.5 C462.8,169.3 463.1,168.3 463.9,167.8 C464.6,167.2 465.9,167.2 467.0,167.3 C468.1,167.5 469.5,167.9 470.1,168.7 C470.8,169.5 470.8,171.0 470.8,172.3 C470.8,173.6 470.7,175.3 470.1,176.3 C469.6,177.3 468.5,178.1 467.4,178.3 C466.4,178.6 464.7,178.2 463.9,177.7 C463.0,177.1 462.5,176.2 462.3,175.0 C462.1,173.8 462.2,171.7 462.5,170.5 Z" fill="#bdbdbd" stroke="#444" stroke-width="0.8" />
<ellipse cx="467.5" cy="172" rx="1.6" ry="2.2" fill="#eee" fill-opacity="1" stroke="none" stroke-width="1"/>
<path d="M459.5,176 C460,181 463,183.5 467,183.5 M473.5,167 C474.5,171 474.5,176 472.5,180" fill="none" stroke="#111" stroke-width="1.3" />
<path d="M479.0,172.0 C479.2,169.2 479.5,164.3 481.0,162.0 C482.5,159.7 485.5,158.8 488.0,158.0 C490.5,157.2 493.8,157.1 496.0,157.4 C498.2,157.7 499.9,157.9 501.0,160.0 C502.1,162.1 502.8,166.7 502.8,170.0 C502.8,173.3 502.5,177.7 501.0,180.0 C499.5,182.3 496.7,183.4 494.0,184.0 C491.3,184.6 487.3,184.3 485.0,183.5 C482.7,182.7 481.0,180.9 480.0,179.0 C479.0,177.1 478.8,174.8 479.0,172.0 Z" fill="#c4c4c4" stroke="#444" stroke-width="0.7" />
<path d="M482.4,171.7 C482.5,169.7 482.7,166.2 483.8,164.5 C484.9,162.8 487.0,162.2 488.8,161.6 C490.6,161.1 493.0,161.0 494.6,161.2 C496.2,161.4 497.4,161.6 498.2,163.1 C499.0,164.6 499.5,167.9 499.5,170.3 C499.5,172.7 499.3,175.8 498.2,177.5 C497.1,179.2 495.1,179.9 493.2,180.4 C491.2,180.8 488.4,180.6 486.7,180.0 C485.0,179.4 483.8,178.1 483.1,176.8 C482.4,175.4 482.2,173.8 482.4,171.7 Z" fill="#9a9a9a" stroke="#333" stroke-width="0.8" />
<path d="M485.4,171.4 C485.4,170.2 485.6,168.2 486.2,167.2 C486.9,166.2 488.1,165.9 489.2,165.5 C490.2,165.2 491.6,165.1 492.5,165.3 C493.4,165.4 494.1,165.5 494.6,166.4 C495.1,167.3 495.4,169.2 495.4,170.6 C495.4,172.0 495.2,173.8 494.6,174.8 C494.0,175.8 492.8,176.2 491.7,176.5 C490.6,176.7 488.9,176.6 487.9,176.2 C486.9,175.9 486.2,175.2 485.8,174.4 C485.4,173.6 485.3,172.6 485.4,171.4 Z" fill="#c8c8c8" stroke="#444" stroke-width="0.6" />
<path d="M496,160.5 C500,164 500.5,170 499.5,175 C498.5,179 496,181.5 492,182" fill="none" stroke="#111" stroke-width="2.4" />
<path d="M483,178 C486,181 489,182 492,182" fill="none" stroke="#222" stroke-width="1.2" />
<path d="M460.5,143 C460.5,140 463.5,138 467.5,138 C472,138 475.4,140 475.4,143.5 C475.4,147 472,148.8 467.5,148.6 C463.5,148.4 460.5,146.5 460.5,143 Z" fill="#f2f2f2" stroke="#777" stroke-width="0.6" />
<path d="M463.5,143 C463.5,141.5 465.5,140.5 468,140.5 C470.5,140.5 472,141.8 472,143.4 C472,145 470.5,146 468,146 C465.5,146 463.5,144.6 463.5,143 Z" fill="none" stroke="#888" stroke-width="0.5" />
<line x1="440.4" y1="155.8" x2="513.8" y2="155.8" stroke="#333" stroke-width="1.2" />
<line x1="477.5" y1="116.1" x2="477.5" y2="190.4" stroke="#333" stroke-width="1.2" />
<text x="441" y="124.6" font-size="7.4" font-weight="normal" text-anchor="start" fill="#222" >4.35</text>
<text x="513.3" y="124.6" font-size="7.4" font-weight="normal" text-anchor="end" fill="#222" >0</text>
<text x="441" y="188" font-size="7.4" font-weight="normal" text-anchor="start" fill="#222" >34.1</text>
<text x="513.3" y="188" font-size="7.4" font-weight="normal" text-anchor="end" fill="#222" >61.6</text>
<text x="7" y="240.4" font-size="17" font-weight="bold" text-anchor="start" fill="#000"  stroke="#000" stroke-width="0.3">B</text>
<text transform="translate(38.0,312.5) rotate(-90)" font-size="13.0" font-weight="bold" text-anchor="middle" stroke="#000" stroke-width="0.3">CD161+ V<tspan font-weight="normal" font-style="italic" stroke-width="0.15">α</tspan>7.2+ MAIT cells</text>
<text transform="translate(53.6,314.2) rotate(-90)" font-size="12.5" font-weight="bold" text-anchor="middle" fill="#000"  stroke="#000" stroke-width="0.3">(% of T cells)</text>
<line x1="93.1" y1="253.8" x2="93.1" y2="377.3" stroke="#000" stroke-width="2.4" />
<line x1="88.89999999999999" y1="254.8" x2="93.1" y2="254.8" stroke="#000" stroke-width="1.7" />
<text x="88.3" y="259.3" font-size="13.4" font-weight="bold" text-anchor="end" fill="#000"  stroke="#000" stroke-width="0.3">100</text>
<line x1="90.3" y1="271.7849711053653" x2="93.1" y2="271.7849711053653" stroke="#000" stroke-width="1.1" />
<line x1="90.3" y1="267.5059535103122" x2="93.1" y2="267.5059535103122" stroke="#000" stroke-width="1.1" />
<line x1="90.3" y1="264.46994221073055" x2="93.1" y2="264.46994221073055" stroke="#000" stroke-width="1.1" />
<line x1="90.3" y1="262.11502889463475" x2="93.1" y2="262.11502889463475" stroke="#000" stroke-width="1.1" />
<line x1="90.3" y1="260.1909246156775" x2="93.1" y2="260.1909246156775" stroke="#000" stroke-width="1.1" />
<line x1="90.3" y1="258.56411762765356" x2="93.1" y2="258.56411762765356" stroke="#000" stroke-width="1.1" />
<line x1="90.3" y1="257.15491331609576" x2="93.1" y2="257.15491331609576" stroke="#000" stroke-width="1.1" />
<line x1="90.3" y1="255.91190702062443" x2="93.1" y2="255.91190702062443" stroke="#000" stroke-width="1.1" />
<line x1="88.89999999999999" y1="279.1" x2="93.1" y2="279.1" stroke="#000" stroke-width="1.7" />
<text x="88.3" y="283.6" font-size="13.4" font-weight="bold" text-anchor="end" fill="#000"  stroke="#000" stroke-width="0.3">10</text>
<line x1="90.3" y1="296.0849711053653" x2="93.1" y2="296.0849711053653" stroke="#000" stroke-width="1.1" />
<line x1="90.3" y1="291.80595351031224" x2="93.1" y2="291.80595351031224" stroke="#000" stroke-width="1.1" />
<line x1="90.3" y1="288.76994221073056" x2="93.1" y2="288.76994221073056" stroke="#000" stroke-width="1.1" />
<line x1="90.3" y1="286.41502889463476" x2="93.1" y2="286.41502889463476" stroke="#000" stroke-width="1.1" />
<line x1="90.3" y1="284.4909246156775" x2="93.1" y2="284.4909246156775" stroke="#000" stroke-width="1.1" />
<line x1="90.3" y1="282.86411762765357" x2="93.1" y2="282.86411762765357" stroke="#000" stroke-width="1.1" />
<line x1="90.3" y1="281.45491331609577" x2="93.1" y2="281.45491331609577" stroke="#000" stroke-width="1.1" />
<line x1="90.3" y1="280.21190702062444" x2="93.1" y2="280.21190702062444" stroke="#000" stroke-width="1.1" />
<line x1="88.89999999999999" y1="303.40000000000003" x2="93.1" y2="303.40000000000003" stroke="#000" stroke-width="1.7" />
<text x="88.3" y="307.90000000000003" font-size="13.4" font-weight="bold" text-anchor="end" fill="#000"  stroke="#000" stroke-width="0.3">1</text>
<line x1="90.3" y1="320.3849711053653" x2="93.1" y2="320.3849711053653" stroke="#000" stroke-width="1.1" />
<line x1="90.3" y1="316.10595351031225" x2="93.1" y2="316.10595351031225" stroke="#000" stroke-width="1.1" />
<line x1="90.3" y1="313.0699422107306" x2="93.1" y2="313.0699422107306" stroke="#000" stroke-width="1.1" />
<line x1="90.3" y1="310.71502889463477" x2="93.1" y2="310.71502889463477" stroke="#000" stroke-width="1.1" />
<line x1="90.3" y1="308.7909246156775" x2="93.1" y2="308.7909246156775" stroke="#000" stroke-width="1.1" />
<line x1="90.3" y1="307.1641176276536" x2="93.1" y2="307.1641176276536" stroke="#000" stroke-width="1.1" />
<line x1="90.3" y1="305.7549133160958" x2="93.1" y2="305.7549133160958" stroke="#000" stroke-width="1.1" />
<line x1="90.3" y1="304.51190702062445" x2="93.1" y2="304.51190702062445" stroke="#000" stroke-width="1.1" />
<line x1="88.89999999999999" y1="327.70000000000005" x2="93.1" y2="327.70000000000005" stroke="#000" stroke-width="1.7" />
<text x="88.3" y="332.20000000000005" font-size="13.4" font-weight="bold" text-anchor="end" fill="#000"  stroke="#000" stroke-width="0.3">0.1</text>
<line x1="90.3" y1="344.6849711053653" x2="93.1" y2="344.6849711053653" stroke="#000" stroke-width="1.1" />
<line x1="90.3" y1="340.40595351031226" x2="93.1" y2="340.40595351031226" stroke="#000" stroke-width="1.1" />
<line x1="90.3" y1="337.3699422107306" x2="93.1" y2="337.3699422107306" stroke="#000" stroke-width="1.1" />
<line x1="90.3" y1="335.0150288946348" x2="93.1" y2="335.0150288946348" stroke="#000" stroke-width="1.1" />
<line x1="90.3" y1="333.0909246156775" x2="93.1" y2="333.0909246156775" stroke="#000" stroke-width="1.1" />
<line x1="90.3" y1="331.4641176276536" x2="93.1" y2="331.4641176276536" stroke="#000" stroke-width="1.1" />
<line x1="90.3" y1="330.0549133160958" x2="93.1" y2="330.0549133160958" stroke="#000" stroke-width="1.1" />
<line x1="90.3" y1="328.81190702062446" x2="93.1" y2="328.81190702062446" stroke="#000" stroke-width="1.1" />
<line x1="88.89999999999999" y1="352.0" x2="93.1" y2="352.0" stroke="#000" stroke-width="1.7" />
<text x="88.3" y="356.5" font-size="13.4" font-weight="bold" text-anchor="end" fill="#000"  stroke="#000" stroke-width="0.3">0.01</text>
<line x1="90.3" y1="368.9849711053653" x2="93.1" y2="368.9849711053653" stroke="#000" stroke-width="1.1" />
<line x1="90.3" y1="364.7059535103122" x2="93.1" y2="364.7059535103122" stroke="#000" stroke-width="1.1" />
<line x1="90.3" y1="361.66994221073054" x2="93.1" y2="361.66994221073054" stroke="#000" stroke-width="1.1" />
<line x1="90.3" y1="359.31502889463474" x2="93.1" y2="359.31502889463474" stroke="#000" stroke-width="1.1" />
<line x1="90.3" y1="357.3909246156775" x2="93.1" y2="357.3909246156775" stroke="#000" stroke-width="1.1" />
<line x1="90.3" y1="355.76411762765355" x2="93.1" y2="355.76411762765355" stroke="#000" stroke-width="1.1" />
<line x1="90.3" y1="354.35491331609575" x2="93.1" y2="354.35491331609575" stroke="#000" stroke-width="1.1" />
<line x1="90.3" y1="353.1119070206244" x2="93.1" y2="353.1119070206244" stroke="#000" stroke-width="1.1" />
<line x1="88.89999999999999" y1="376.3" x2="93.1" y2="376.3" stroke="#000" stroke-width="1.7" />
<text x="88.3" y="380.8" font-size="13.4" font-weight="bold" text-anchor="end" fill="#000"  stroke="#000" stroke-width="0.3">0.001</text>
<line x1="92.5" y1="376.3" x2="176.5" y2="376.3" stroke="#000" stroke-width="2.0" />
<line x1="115.4" y1="376.3" x2="115.4" y2="380.4" stroke="#000" stroke-width="1.6" />
<line x1="155.5" y1="376.3" x2="155.5" y2="380.4" stroke="#000" stroke-width="1.6" />
<text x="118.9" y="394.4" font-size="13.5" font-weight="bold" text-anchor="middle" fill="#000"  stroke="#000" stroke-width="0.3">HIV-</text>
<text x="160.4" y="394.4" font-size="13.5" font-weight="bold" text-anchor="middle" fill="#000"  stroke="#000" stroke-width="0.3">HIV+</text>
<line x1="114.2" y1="253.8" x2="154.6" y2="253.8" stroke="#000" stroke-width="2.0" />
<line x1="114.2" y1="249.20000000000002" x2="114.2" y2="258.40000000000003" stroke="#000" stroke-width="1.8" />
<line x1="154.6" y1="249.20000000000002" x2="154.6" y2="258.40000000000003" stroke="#000" stroke-width="1.8" />
<text x="136.8" y="246.6" font-size="12.5" font-weight="normal" text-anchor="middle" fill="#000"  stroke="#000" stroke-width="0.18">p&lt;0.0001</text>
<line x1="115" y1="282" x2="115" y2="287" stroke="#000" stroke-width="1.7" />
<line x1="115" y1="297.9" x2="115" y2="301.4" stroke="#000" stroke-width="1.7" />
<line x1="108" y1="282" x2="122" y2="282" stroke="#000" stroke-width="1.7" />
<line x1="108" y1="301.4" x2="122" y2="301.4" stroke="#000" stroke-width="1.7" />
<rect x="101.2" y="287" width="27.6" height="10.899999999999977" fill="#fff" stroke="#000" stroke-width="1.9" />
<line x1="101.2" y1="293.3" x2="128.8" y2="293.3" stroke="#000" stroke-width="1.9" />
<line x1="155.75" y1="290.6" x2="155.75" y2="296" stroke="#000" stroke-width="1.7" />
<line x1="155.75" y1="329.1" x2="155.75" y2="336.4" stroke="#000" stroke-width="1.7" />
<line x1="148.75" y1="290.6" x2="162.75" y2="290.6" stroke="#000" stroke-width="1.7" />
<line x1="148.75" y1="336.4" x2="162.75" y2="336.4" stroke="#000" stroke-width="1.7" />
<rect x="141.9" y="296" width="27.7" height="33.10000000000002" fill="#808080" stroke="#000" stroke-width="1.9" />
<line x1="141.9" y1="310.8" x2="169.6" y2="310.8" stroke="#000" stroke-width="1.9" />
<circle cx="115.2" cy="269.6" r="3.0" fill="#000" stroke="none" stroke-width="1"/>
<circle cx="110.6" cy="277.9" r="3.0" fill="#000" stroke="none" stroke-width="1"/>
<circle cx="119.2" cy="281.2" r="3.0" fill="#000" stroke="none" stroke-width="1"/>
<circle cx="115.2" cy="301.4" r="3.0" fill="#000" stroke="none" stroke-width="1"/>
<circle cx="115.2" cy="310.8" r="3.0" fill="#000" stroke="none" stroke-width="1"/>
<circle cx="115.2" cy="326.9" r="3.0" fill="#000" stroke="none" stroke-width="1"/>
<circle cx="148.3" cy="283.8" r="3.0" fill="#000" stroke="none" stroke-width="1"/>
<circle cx="163.1" cy="286.5" r="3.0" fill="#000" stroke="none" stroke-width="1"/>
<circle cx="157.5" cy="291.4" r="3.0" fill="#000" stroke="none" stroke-width="1"/>
<circle cx="152.9" cy="336.4" r="3.0" fill="#000" stroke="none" stroke-width="1"/>
<circle cx="159.6" cy="340.4" r="3.0" fill="#000" stroke="none" stroke-width="1"/>
<circle cx="155.8" cy="366.4" r="3.0" fill="#000" stroke="none" stroke-width="1"/>
<text x="242.8" y="241.5" font-size="17" font-weight="bold" text-anchor="start" fill="#000"  stroke="#000" stroke-width="0.3">C</text>
<text transform="translate(273.6,313.0) rotate(-90)" font-size="13.0" font-weight="bold" text-anchor="middle" stroke="#000" stroke-width="0.3">CD161+ V<tspan font-weight="normal" font-style="italic" stroke-width="0.15">α</tspan>7.2+ MAIT cells</text>
<text transform="translate(287.9,312.6) rotate(-90)" font-size="12.6" font-weight="bold" text-anchor="middle" fill="#000"  stroke="#000" stroke-width="0.3">(% of T cells)</text>
<line x1="326.8" y1="253.5" x2="326.8" y2="378.0" stroke="#000" stroke-width="2.4" />
<line x1="322.6" y1="254.5" x2="326.8" y2="254.5" stroke="#000" stroke-width="1.7" />
<text x="322.0" y="259.0" font-size="13.4" font-weight="bold" text-anchor="end" fill="#000"  stroke="#000" stroke-width="0.3">100</text>
<line x1="324.0" y1="271.6247651062325" x2="326.8" y2="271.6247651062325" stroke="#000" stroke-width="1.1" />
<line x1="324.0" y1="267.31052925936825" x2="326.8" y2="267.31052925936825" stroke="#000" stroke-width="1.1" />
<line x1="324.0" y1="264.24953021246495" x2="326.8" y2="264.24953021246495" stroke="#000" stroke-width="1.1" />
<line x1="324.0" y1="261.8752348937675" x2="326.8" y2="261.8752348937675" stroke="#000" stroke-width="1.1" />
<line x1="324.0" y1="259.9352943656007" x2="326.8" y2="259.9352943656007" stroke="#000" stroke-width="1.1" />
<line x1="324.0" y1="258.2950980196507" x2="326.8" y2="258.2950980196507" stroke="#000" stroke-width="1.1" />
<line x1="324.0" y1="256.87429531869736" x2="326.8" y2="256.87429531869736" stroke="#000" stroke-width="1.1" />
<line x1="324.0" y1="255.62105851873653" x2="326.8" y2="255.62105851873653" stroke="#000" stroke-width="1.1" />
<line x1="322.6" y1="279.0" x2="326.8" y2="279.0" stroke="#000" stroke-width="1.7" />
<text x="322.0" y="283.5" font-size="13.4" font-weight="bold" text-anchor="end" fill="#000"  stroke="#000" stroke-width="0.3">10</text>
<line x1="324.0" y1="296.1247651062325" x2="326.8" y2="296.1247651062325" stroke="#000" stroke-width="1.1" />
<line x1="324.0" y1="291.81052925936825" x2="326.8" y2="291.81052925936825" stroke="#000" stroke-width="1.1" />
<line x1="324.0" y1="288.74953021246495" x2="326.8" y2="288.74953021246495" stroke="#000" stroke-width="1.1" />
<line x1="324.0" y1="286.3752348937675" x2="326.8" y2="286.3752348937675" stroke="#000" stroke-width="1.1" />
<line x1="324.0" y1="284.4352943656007" x2="326.8" y2="284.4352943656007" stroke="#000" stroke-width="1.1" />
<line x1="324.0" y1="282.7950980196507" x2="326.8" y2="282.7950980196507" stroke="#000" stroke-width="1.1" />
<line x1="324.0" y1="281.37429531869736" x2="326.8" y2="281.37429531869736" stroke="#000" stroke-width="1.1" />
<line x1="324.0" y1="280.12105851873656" x2="326.8" y2="280.12105851873656" stroke="#000" stroke-width="1.1" />
<line x1="322.6" y1="303.5" x2="326.8" y2="303.5" stroke="#000" stroke-width="1.7" />
<text x="322.0" y="308.0" font-size="13.4" font-weight="bold" text-anchor="end" fill="#000"  stroke="#000" stroke-width="0.3">1</text>
<line x1="324.0" y1="320.6247651062325" x2="326.8" y2="320.6247651062325" stroke="#000" stroke-width="1.1" />
<line x1="324.0" y1="316.31052925936825" x2="326.8" y2="316.31052925936825" stroke="#000" stroke-width="1.1" />
<line x1="324.0" y1="313.24953021246495" x2="326.8" y2="313.24953021246495" stroke="#000" stroke-width="1.1" />
<line x1="324.0" y1="310.8752348937675" x2="326.8" y2="310.8752348937675" stroke="#000" stroke-width="1.1" />
<line x1="324.0" y1="308.9352943656007" x2="326.8" y2="308.9352943656007" stroke="#000" stroke-width="1.1" />
<line x1="324.0" y1="307.2950980196507" x2="326.8" y2="307.2950980196507" stroke="#000" stroke-width="1.1" />
<line x1="324.0" y1="305.87429531869736" x2="326.8" y2="305.87429531869736" stroke="#000" stroke-width="1.1" />
<line x1="324.0" y1="304.62105851873656" x2="326.8" y2="304.62105851873656" stroke="#000" stroke-width="1.1" />
<line x1="322.6" y1="328.0" x2="326.8" y2="328.0" stroke="#000" stroke-width="1.7" />
<text x="322.0" y="332.5" font-size="13.4" font-weight="bold" text-anchor="end" fill="#000"  stroke="#000" stroke-width="0.3">0.1</text>
<line x1="324.0" y1="345.1247651062325" x2="326.8" y2="345.1247651062325" stroke="#000" stroke-width="1.1" />
<line x1="324.0" y1="340.81052925936825" x2="326.8" y2="340.81052925936825" stroke="#000" stroke-width="1.1" />
<line x1="324.0" y1="337.74953021246495" x2="326.8" y2="337.74953021246495" stroke="#000" stroke-width="1.1" />
<line x1="324.0" y1="335.3752348937675" x2="326.8" y2="335.3752348937675" stroke="#000" stroke-width="1.1" />
<line x1="324.0" y1="333.4352943656007" x2="326.8" y2="333.4352943656007" stroke="#000" stroke-width="1.1" />
<line x1="324.0" y1="331.7950980196507" x2="326.8" y2="331.7950980196507" stroke="#000" stroke-width="1.1" />
<line x1="324.0" y1="330.37429531869736" x2="326.8" y2="330.37429531869736" stroke="#000" stroke-width="1.1" />
<line x1="324.0" y1="329.12105851873656" x2="326.8" y2="329.12105851873656" stroke="#000" stroke-width="1.1" />
<line x1="322.6" y1="352.5" x2="326.8" y2="352.5" stroke="#000" stroke-width="1.7" />
<text x="322.0" y="357.0" font-size="13.4" font-weight="bold" text-anchor="end" fill="#000"  stroke="#000" stroke-width="0.3">0.01</text>
<line x1="324.0" y1="369.6247651062325" x2="326.8" y2="369.6247651062325" stroke="#000" stroke-width="1.1" />
<line x1="324.0" y1="365.31052925936825" x2="326.8" y2="365.31052925936825" stroke="#000" stroke-width="1.1" />
<line x1="324.0" y1="362.24953021246495" x2="326.8" y2="362.24953021246495" stroke="#000" stroke-width="1.1" />
<line x1="324.0" y1="359.8752348937675" x2="326.8" y2="359.8752348937675" stroke="#000" stroke-width="1.1" />
<line x1="324.0" y1="357.9352943656007" x2="326.8" y2="357.9352943656007" stroke="#000" stroke-width="1.1" />
<line x1="324.0" y1="356.2950980196507" x2="326.8" y2="356.2950980196507" stroke="#000" stroke-width="1.1" />
<line x1="324.0" y1="354.87429531869736" x2="326.8" y2="354.87429531869736" stroke="#000" stroke-width="1.1" />
<line x1="324.0" y1="353.62105851873656" x2="326.8" y2="353.62105851873656" stroke="#000" stroke-width="1.1" />
<line x1="322.6" y1="377.0" x2="326.8" y2="377.0" stroke="#000" stroke-width="1.7" />
<text x="322.0" y="381.5" font-size="13.4" font-weight="bold" text-anchor="end" fill="#000"  stroke="#000" stroke-width="0.3">0.001</text>
<line x1="326" y1="377" x2="514.2" y2="377" stroke="#000" stroke-width="2.0" />
<line x1="346.6" y1="377" x2="346.6" y2="381.2" stroke="#000" stroke-width="1.6" />
<line x1="369.8" y1="377" x2="369.8" y2="381.2" stroke="#000" stroke-width="1.6" />
<line x1="408.3" y1="377" x2="408.3" y2="381.2" stroke="#000" stroke-width="1.6" />
<line x1="431.6" y1="377" x2="431.6" y2="381.2" stroke="#000" stroke-width="1.6" />
<line x1="470.4" y1="377" x2="470.4" y2="381.2" stroke="#000" stroke-width="1.6" />
<line x1="493.4" y1="377" x2="493.4" y2="381.2" stroke="#000" stroke-width="1.6" />
<text x="358.9" y="392.4" font-size="10.4" font-weight="bold" text-anchor="middle" fill="#000"  stroke="#000" stroke-width="0.3">HIV-HIV+</text>
<line x1="334.9" y1="397.6" x2="382.9" y2="397.6" stroke="#000" stroke-width="1.8" />
<text x="360.4" y="415.3" font-size="13" font-weight="bold" text-anchor="middle" fill="#000"  stroke="#000" stroke-width="0.3">DN</text>
<text x="420.9" y="392.4" font-size="10.4" font-weight="bold" text-anchor="middle" fill="#000"  stroke="#000" stroke-width="0.3">HIV-HIV+</text>
<line x1="396.9" y1="397.6" x2="444.9" y2="397.6" stroke="#000" stroke-width="1.8" />
<text x="422.4" y="415.3" font-size="13" font-weight="bold" text-anchor="middle" fill="#000"  stroke="#000" stroke-width="0.3">CD4</text>
<text x="482.7" y="392.4" font-size="10.4" font-weight="bold" text-anchor="middle" fill="#000"  stroke="#000" stroke-width="0.3">HIV-HIV+</text>
<line x1="458.7" y1="397.6" x2="506.7" y2="397.6" stroke="#000" stroke-width="1.8" />
<text x="484.2" y="415.3" font-size="13" font-weight="bold" text-anchor="middle" fill="#000"  stroke="#000" stroke-width="0.3">CD8</text>
<line x1="345" y1="263.9" x2="369.2" y2="263.9" stroke="#000" stroke-width="2.0" />
<line x1="345" y1="259.7" x2="345" y2="268.09999999999997" stroke="#000" stroke-width="1.8" />
<line x1="369.2" y1="259.7" x2="369.2" y2="268.09999999999997" stroke="#000" stroke-width="1.8" />
<text x="360.6" y="257.7" font-size="11.9" font-weight="normal" text-anchor="middle" fill="#000"  stroke="#000" stroke-width="0.18">p=0.0013</text>
<line x1="408.5" y1="263.9" x2="432.2" y2="263.9" stroke="#000" stroke-width="2.0" />
<line x1="408.5" y1="259.7" x2="408.5" y2="268.09999999999997" stroke="#000" stroke-width="1.8" />
<line x1="432.2" y1="259.7" x2="432.2" y2="268.09999999999997" stroke="#000" stroke-width="1.8" />
<text x="424.3" y="257.7" font-size="11.9" font-weight="normal" text-anchor="middle" fill="#000"  stroke="#000" stroke-width="0.18">p&lt;0.0001</text>
<line x1="469" y1="263.9" x2="493.1" y2="263.9" stroke="#000" stroke-width="2.0" />
<line x1="469" y1="259.7" x2="469" y2="268.09999999999997" stroke="#000" stroke-width="1.8" />
<line x1="493.1" y1="259.7" x2="493.1" y2="268.09999999999997" stroke="#000" stroke-width="1.8" />
<text x="483.5" y="257.7" font-size="11.9" font-weight="normal" text-anchor="middle" fill="#000"  stroke="#000" stroke-width="0.18">p=0.0049</text>
<line x1="346.6" y1="300.4" x2="346.6" y2="310.6" stroke="#000" stroke-width="1.7" />
<line x1="346.6" y1="328.5" x2="346.6" y2="343.3" stroke="#000" stroke-width="1.7" />
<line x1="341.83000000000004" y1="300.4" x2="351.37" y2="300.4" stroke="#000" stroke-width="1.7" />
<line x1="341.83000000000004" y1="343.3" x2="351.37" y2="343.3" stroke="#000" stroke-width="1.7" />
<rect x="338.65000000000003" y="310.6" width="15.9" height="17.899999999999977" fill="#fff" stroke="#000" stroke-width="1.9" />
<line x1="338.65000000000003" y1="317.9" x2="354.55" y2="317.9" stroke="#000" stroke-width="1.9" />
<line x1="369.8" y1="321.7" x2="369.8" y2="326" stroke="#000" stroke-width="1.7" />
<line x1="369.8" y1="357.1" x2="369.8" y2="371.7" stroke="#000" stroke-width="1.7" />
<line x1="365.06" y1="321.7" x2="374.54" y2="321.7" stroke="#000" stroke-width="1.7" />
<line x1="365.06" y1="371.7" x2="374.54" y2="371.7" stroke="#000" stroke-width="1.7" />
<rect x="361.90000000000003" y="326" width="15.8" height="31.100000000000023" fill="#808080" stroke="#000" stroke-width="1.9" />
<line x1="361.90000000000003" y1="341.9" x2="377.7" y2="341.9" stroke="#000" stroke-width="1.9" />
<line x1="408.3" y1="318.3" x2="408.3" y2="323.8" stroke="#000" stroke-width="1.7" />
<line x1="408.3" y1="338.3" x2="408.3" y2="346.3" stroke="#000" stroke-width="1.7" />
<line x1="403.59000000000003" y1="318.3" x2="413.01" y2="318.3" stroke="#000" stroke-width="1.7" />
<line x1="403.59000000000003" y1="346.3" x2="413.01" y2="346.3" stroke="#000" stroke-width="1.7" />
<rect x="400.45" y="323.8" width="15.7" height="14.5" fill="#fff" stroke="#000" stroke-width="1.9" />
<line x1="400.45" y1="330.8" x2="416.15000000000003" y2="330.8" stroke="#000" stroke-width="1.9" />
<line x1="431.6" y1="338" x2="431.6" y2="342" stroke="#000" stroke-width="1.7" />
<line x1="431.6" y1="358.3" x2="431.6" y2="365.5" stroke="#000" stroke-width="1.7" />
<line x1="426.89000000000004" y1="338" x2="436.31" y2="338" stroke="#000" stroke-width="1.7" />
<line x1="426.89000000000004" y1="365.5" x2="436.31" y2="365.5" stroke="#000" stroke-width="1.7" />
<rect x="423.75" y="342" width="15.7" height="16.30000000000001" fill="#808080" stroke="#000" stroke-width="1.9" />
<line x1="423.75" y1="347.5" x2="439.45000000000005" y2="347.5" stroke="#000" stroke-width="1.9" />
<line x1="470.4" y1="280" x2="470.4" y2="286.9" stroke="#000" stroke-width="1.7" />
<line x1="470.4" y1="304.8" x2="470.4" y2="315.4" stroke="#000" stroke-width="1.7" />
<line x1="465.63" y1="280" x2="475.16999999999996" y2="280" stroke="#000" stroke-width="1.7" />
<line x1="465.63" y1="315.4" x2="475.16999999999996" y2="315.4" stroke="#000" stroke-width="1.7" />
<rect x="462.45" y="286.9" width="15.9" height="17.900000000000034" fill="#fff" stroke="#000" stroke-width="1.9" />
<line x1="462.45" y1="289.5" x2="478.34999999999997" y2="289.5" stroke="#000" stroke-width="1.9" />
<line x1="493.6" y1="290.8" x2="493.6" y2="295.4" stroke="#000" stroke-width="1.7" />
<line x1="493.6" y1="333" x2="493.6" y2="351" stroke="#000" stroke-width="1.7" />
<line x1="488.89000000000004" y1="290.8" x2="498.31" y2="290.8" stroke="#000" stroke-width="1.7" />
<line x1="488.89000000000004" y1="351" x2="498.31" y2="351" stroke="#000" stroke-width="1.7" />
<rect x="485.75" y="295.4" width="15.7" height="37.60000000000002" fill="#808080" stroke="#000" stroke-width="1.9" />
<line x1="485.75" y1="311.6" x2="501.45000000000005" y2="311.6" stroke="#000" stroke-width="1.9" />
<circle cx="346.9" cy="296.7" r="2.9" fill="#000" stroke="none" stroke-width="1"/>
<circle cx="346.9" cy="351.9" r="2.9" fill="#000" stroke="none" stroke-width="1"/>
<circle cx="370.0" cy="307.7" r="2.9" fill="#000" stroke="none" stroke-width="1"/>
<circle cx="370.0" cy="321.2" r="2.9" fill="#000" stroke="none" stroke-width="1"/>
<circle cx="373.8" cy="371.7" r="2.9" fill="#000" stroke="none" stroke-width="1"/>
<circle cx="407.8" cy="313.2" r="2.9" fill="#000" stroke="none" stroke-width="1"/>
<circle cx="408.0" cy="346.3" r="2.9" fill="#000" stroke="none" stroke-width="1"/>
<circle cx="428.0" cy="333.8" r="2.9" fill="#000" stroke="none" stroke-width="1"/>
<circle cx="435.0" cy="335.5" r="2.9" fill="#000" stroke="none" stroke-width="1"/>
<circle cx="428.0" cy="371.3" r="2.9" fill="#000" stroke="none" stroke-width="1"/>
<circle cx="435.0" cy="365.8" r="2.9" fill="#000" stroke="none" stroke-width="1"/>
<circle cx="470.5" cy="277.7" r="2.9" fill="#000" stroke="none" stroke-width="1"/>
<circle cx="470.2" cy="323.0" r="2.9" fill="#000" stroke="none" stroke-width="1"/>
<circle cx="489.5" cy="283.0" r="2.9" fill="#000" stroke="none" stroke-width="1"/>
<circle cx="497.0" cy="287.7" r="2.9" fill="#000" stroke="none" stroke-width="1"/>
<circle cx="490.0" cy="353.8" r="2.9" fill="#000" stroke="none" stroke-width="1"/>
<circle cx="497.0" cy="351.3" r="2.9" fill="#000" stroke="none" stroke-width="1"/>
<text x="6.5" y="438.5" font-size="17" font-weight="bold" text-anchor="start" fill="#000"  stroke="#000" stroke-width="0.3">D</text>
<text transform="translate(34.6,511) rotate(-90)" font-size="13.0" font-weight="bold" text-anchor="middle" stroke="#000" stroke-width="0.3">CD161+ V<tspan font-weight="normal" font-style="italic" stroke-width="0.15">α</tspan>7.2+ MAIT cells</text>
<text transform="translate(52.0,511) rotate(-90)" font-size="12.6" font-weight="bold" text-anchor="middle" fill="#000"  stroke="#000" stroke-width="0.3">(% of T cells)</text>
<line x1="95.8" y1="451.0" x2="95.8" y2="576.3" stroke="#000" stroke-width="2.4" />
<line x1="91.6" y1="452.0" x2="95.8" y2="452.0" stroke="#000" stroke-width="1.7" />
<text x="91.0" y="456.5" font-size="13.4" font-weight="bold" text-anchor="end" fill="#000"  stroke="#000" stroke-width="0.3">10</text>
<line x1="93.0" y1="480.72766717821037" x2="95.8" y2="480.72766717821037" stroke="#000" stroke-width="1.1" />
<line x1="93.0" y1="473.4903164310219" x2="95.8" y2="473.4903164310219" stroke="#000" stroke-width="1.1" />
<line x1="93.0" y1="468.3553343564207" x2="95.8" y2="468.3553343564207" stroke="#000" stroke-width="1.1" />
<line x1="93.0" y1="464.3723328217896" x2="95.8" y2="464.3723328217896" stroke="#000" stroke-width="1.1" />
<line x1="93.0" y1="461.1179836092322" x2="95.8" y2="461.1179836092322" stroke="#000" stroke-width="1.1" />
<line x1="93.0" y1="458.366470555414" x2="95.8" y2="458.366470555414" stroke="#000" stroke-width="1.1" />
<line x1="93.0" y1="455.9830015346311" x2="95.8" y2="455.9830015346311" stroke="#000" stroke-width="1.1" />
<line x1="93.0" y1="453.88063286204374" x2="95.8" y2="453.88063286204374" stroke="#000" stroke-width="1.1" />
<line x1="91.6" y1="493.09999999999997" x2="95.8" y2="493.09999999999997" stroke="#000" stroke-width="1.7" />
<text x="91.0" y="497.59999999999997" font-size="13.4" font-weight="bold" text-anchor="end" fill="#000"  stroke="#000" stroke-width="0.3">1</text>
<line x1="93.0" y1="521.8276671782103" x2="95.8" y2="521.8276671782103" stroke="#000" stroke-width="1.1" />
<line x1="93.0" y1="514.5903164310218" x2="95.8" y2="514.5903164310218" stroke="#000" stroke-width="1.1" />
<line x1="93.0" y1="509.45533435642074" x2="95.8" y2="509.45533435642074" stroke="#000" stroke-width="1.1" />
<line x1="93.0" y1="505.47233282178956" x2="95.8" y2="505.47233282178956" stroke="#000" stroke-width="1.1" />
<line x1="93.0" y1="502.2179836092322" x2="95.8" y2="502.2179836092322" stroke="#000" stroke-width="1.1" />
<line x1="93.0" y1="499.466470555414" x2="95.8" y2="499.466470555414" stroke="#000" stroke-width="1.1" />
<line x1="93.0" y1="497.0830015346311" x2="95.8" y2="497.0830015346311" stroke="#000" stroke-width="1.1" />
<line x1="93.0" y1="494.9806328620437" x2="95.8" y2="494.9806328620437" stroke="#000" stroke-width="1.1" />
<line x1="91.6" y1="534.1999999999999" x2="95.8" y2="534.1999999999999" stroke="#000" stroke-width="1.7" />
<text x="91.0" y="538.6999999999999" font-size="13.4" font-weight="bold" text-anchor="end" fill="#000"  stroke="#000" stroke-width="0.3">0.1</text>
<line x1="93.0" y1="562.9276671782103" x2="95.8" y2="562.9276671782103" stroke="#000" stroke-width="1.1" />
<line x1="93.0" y1="555.6903164310218" x2="95.8" y2="555.6903164310218" stroke="#000" stroke-width="1.1" />
<line x1="93.0" y1="550.5553343564206" x2="95.8" y2="550.5553343564206" stroke="#000" stroke-width="1.1" />
<line x1="93.0" y1="546.5723328217896" x2="95.8" y2="546.5723328217896" stroke="#000" stroke-width="1.1" />
<line x1="93.0" y1="543.3179836092322" x2="95.8" y2="543.3179836092322" stroke="#000" stroke-width="1.1" />
<line x1="93.0" y1="540.566470555414" x2="95.8" y2="540.566470555414" stroke="#000" stroke-width="1.1" />
<line x1="93.0" y1="538.1830015346311" x2="95.8" y2="538.1830015346311" stroke="#000" stroke-width="1.1" />
<line x1="93.0" y1="536.0806328620437" x2="95.8" y2="536.0806328620437" stroke="#000" stroke-width="1.1" />
<line x1="91.6" y1="575.3" x2="95.8" y2="575.3" stroke="#000" stroke-width="1.7" />
<text x="91.0" y="579.8" font-size="13.4" font-weight="bold" text-anchor="end" fill="#000"  stroke="#000" stroke-width="0.3">0.01</text>
<line x1="95" y1="575.4" x2="281.2" y2="575.4" stroke="#000" stroke-width="2.0" />
<line x1="96.3" y1="575.4" x2="96.3" y2="579.2" stroke="#000" stroke-width="1.5" />
<line x1="114.69999999999999" y1="575.4" x2="114.69999999999999" y2="578.2" stroke="#000" stroke-width="1.5" />
<line x1="133.1" y1="575.4" x2="133.1" y2="579.2" stroke="#000" stroke-width="1.5" />
<line x1="151.5" y1="575.4" x2="151.5" y2="578.2" stroke="#000" stroke-width="1.5" />
<line x1="169.89999999999998" y1="575.4" x2="169.89999999999998" y2="579.2" stroke="#000" stroke-width="1.5" />
<line x1="188.3" y1="575.4" x2="188.3" y2="578.2" stroke="#000" stroke-width="1.5" />
<line x1="206.7" y1="575.4" x2="206.7" y2="579.2" stroke="#000" stroke-width="1.5" />
<line x1="225.09999999999997" y1="575.4" x2="225.09999999999997" y2="578.2" stroke="#000" stroke-width="1.5" />
<line x1="243.5" y1="575.4" x2="243.5" y2="579.2" stroke="#000" stroke-width="1.5" />
<line x1="261.9" y1="575.4" x2="261.9" y2="578.2" stroke="#000" stroke-width="1.5" />
<line x1="280.3" y1="575.4" x2="280.3" y2="579.2" stroke="#000" stroke-width="1.5" />
<text x="96.3" y="591.5" font-size="12.5" font-weight="bold" text-anchor="middle" fill="#000"  stroke="#000" stroke-width="0.3">0</text>
<text x="133.1" y="591.5" font-size="12.5" font-weight="bold" text-anchor="middle" fill="#000"  stroke="#000" stroke-width="0.3">50</text>
<text x="169.89999999999998" y="591.5" font-size="12.5" font-weight="bold" text-anchor="middle" fill="#000"  stroke="#000" stroke-width="0.3">100</text>
<text x="206.7" y="591.5" font-size="12.5" font-weight="bold" text-anchor="middle" fill="#000"  stroke="#000" stroke-width="0.3">150</text>
<text x="243.5" y="591.5" font-size="12.5" font-weight="bold" text-anchor="middle" fill="#000"  stroke="#000" stroke-width="0.3">200</text>
<text x="280.3" y="591.5" font-size="12.5" font-weight="bold" text-anchor="middle" fill="#000"  stroke="#000" stroke-width="0.3">250</text>
<text x="188.8" y="612.5" font-size="13.0" font-weight="bold" text-anchor="middle" fill="#000"  stroke="#000" stroke-width="0.3">Time since HIV diagnosis</text>
<text x="188.3" y="627.5" font-size="13.0" font-weight="bold" text-anchor="middle" fill="#000"  stroke="#000" stroke-width="0.3">(months)</text>
<text x="236.4" y="444.6" font-size="12.7" font-weight="normal" text-anchor="middle" fill="#000"  stroke="#000" stroke-width="0.18">r = -0.42</text>
<text x="236.3" y="461.6" font-size="13.1" font-weight="normal" text-anchor="middle" fill="#000"  stroke="#000" stroke-width="0.18">p = 0.015</text>
<circle cx="114.6" cy="465.7" r="2.9" fill="#000" stroke="none" stroke-width="1"/>
<circle cx="110.0" cy="474.3" r="2.9" fill="#000" stroke="none" stroke-width="1"/>
<circle cx="118.5" cy="480.8" r="2.9" fill="#000" stroke="none" stroke-width="1"/>
<circle cx="131.5" cy="478.8" r="2.9" fill="#000" stroke="none" stroke-width="1"/>
<circle cx="133.4" cy="481.8" r="2.9" fill="#000" stroke="none" stroke-width="1"/>
<circle cx="144.9" cy="474.3" r="2.9" fill="#000" stroke="none" stroke-width="1"/>
<circle cx="158.9" cy="475.4" r="2.9" fill="#000" stroke="none" stroke-width="1"/>
<circle cx="197.3" cy="486.9" r="2.9" fill="#000" stroke="none" stroke-width="1"/>
<circle cx="102.8" cy="491.5" r="2.9" fill="#000" stroke="none" stroke-width="1"/>
<circle cx="108.5" cy="496.2" r="2.9" fill="#000" stroke="none" stroke-width="1"/>
<circle cx="114.2" cy="496.6" r="2.9" fill="#000" stroke="none" stroke-width="1"/>
<circle cx="109.5" cy="504.2" r="2.9" fill="#000" stroke="none" stroke-width="1"/>
<circle cx="121.2" cy="503.2" r="2.9" fill="#000" stroke="none" stroke-width="1"/>
<circle cx="172.3" cy="494.6" r="2.9" fill="#000" stroke="none" stroke-width="1"/>
<circle cx="177.3" cy="500.0" r="2.9" fill="#000" stroke="none" stroke-width="1"/>
<circle cx="172.3" cy="501.5" r="2.9" fill="#000" stroke="none" stroke-width="1"/>
<circle cx="253.8" cy="498.5" r="2.9" fill="#000" stroke="none" stroke-width="1"/>
<circle cx="159.7" cy="506.5" r="2.9" fill="#000" stroke="none" stroke-width="1"/>
<circle cx="115.4" cy="514.6" r="2.9" fill="#000" stroke="none" stroke-width="1"/>
<circle cx="117.2" cy="514.6" r="2.9" fill="#000" stroke="none" stroke-width="1"/>
<circle cx="122.8" cy="521.8" r="2.9" fill="#000" stroke="none" stroke-width="1"/>
<circle cx="161.8" cy="519.5" r="2.9" fill="#000" stroke="none" stroke-width="1"/>
<circle cx="220.4" cy="510.8" r="2.9" fill="#000" stroke="none" stroke-width="1"/>
<circle cx="179.2" cy="528.1" r="2.9" fill="#000" stroke="none" stroke-width="1"/>
<circle cx="159.6" cy="535.0" r="2.9" fill="#000" stroke="none" stroke-width="1"/>
<circle cx="203.1" cy="531.2" r="2.9" fill="#000" stroke="none" stroke-width="1"/>
<circle cx="210.0" cy="536.9" r="2.9" fill="#000" stroke="none" stroke-width="1"/>
<circle cx="237.7" cy="531.9" r="2.9" fill="#000" stroke="none" stroke-width="1"/>
<circle cx="111.5" cy="546.2" r="2.9" fill="#000" stroke="none" stroke-width="1"/>
<circle cx="123.1" cy="541.5" r="2.9" fill="#000" stroke="none" stroke-width="1"/>
<circle cx="228.1" cy="542.7" r="2.9" fill="#000" stroke="none" stroke-width="1"/>
<circle cx="210.8" cy="555.0" r="2.9" fill="#000" stroke="none" stroke-width="1"/>
<circle cx="249.2" cy="551.5" r="2.9" fill="#000" stroke="none" stroke-width="1"/>
<text x="337.3" y="438.3" font-size="17" font-weight="bold" text-anchor="start" fill="#000"  stroke="#000" stroke-width="0.3">E</text>
<text transform="translate(364.2,511.8) rotate(-90)" font-size="13.0" font-weight="bold" text-anchor="middle" stroke="#000" stroke-width="0.3">CD161+ V<tspan font-weight="normal" font-style="italic" stroke-width="0.15">α</tspan>7.2+ MAIT</text>
<text transform="translate(380.5,511.8) rotate(-90)" font-size="13.0" font-weight="bold" text-anchor="middle" fill="#000"  stroke="#000" stroke-width="0.3">(cells/µl)</text>
<line x1="422.2" y1="451.6" x2="422.2" y2="576.4" stroke="#000" stroke-width="2.4" />
<line x1="418.0" y1="452.6" x2="422.2" y2="452.6" stroke="#000" stroke-width="1.7" />
<text x="417.4" y="457.1" font-size="13.4" font-weight="bold" text-anchor="end" fill="#000"  stroke="#000" stroke-width="0.3">1000</text>
<line x1="419.4" y1="466.90558608874386" x2="422.2" y2="466.90558608874386" stroke="#000" stroke-width="1.1" />
<line x1="419.4" y1="463.30158498673757" x2="422.2" y2="463.30158498673757" stroke="#000" stroke-width="1.1" />
<line x1="419.4" y1="460.74450551082106" x2="422.2" y2="460.74450551082106" stroke="#000" stroke-width="1.1" />
<line x1="419.4" y1="458.7610805779228" x2="422.2" y2="458.7610805779228" stroke="#000" stroke-width="1.1" />
<line x1="419.4" y1="457.14050440881476" x2="422.2" y2="457.14050440881476" stroke="#000" stroke-width="1.1" />
<line x1="419.4" y1="455.77032678104155" x2="422.2" y2="455.77032678104155" stroke="#000" stroke-width="1.1" />
<line x1="419.4" y1="454.58342493289825" x2="422.2" y2="454.58342493289825" stroke="#000" stroke-width="1.1" />
<line x1="419.4" y1="453.5365033068085" x2="422.2" y2="453.5365033068085" stroke="#000" stroke-width="1.1" />
<line x1="418.0" y1="473.06666666666666" x2="422.2" y2="473.06666666666666" stroke="#000" stroke-width="1.7" />
<text x="417.4" y="477.56666666666666" font-size="13.4" font-weight="bold" text-anchor="end" fill="#000"  stroke="#000" stroke-width="0.3">100</text>
<line x1="419.4" y1="487.3722527554105" x2="422.2" y2="487.3722527554105" stroke="#000" stroke-width="1.1" />
<line x1="419.4" y1="483.76825165340426" x2="422.2" y2="483.76825165340426" stroke="#000" stroke-width="1.1" />
<line x1="419.4" y1="481.2111721774877" x2="422.2" y2="481.2111721774877" stroke="#000" stroke-width="1.1" />
<line x1="419.4" y1="479.22774724458947" x2="422.2" y2="479.22774724458947" stroke="#000" stroke-width="1.1" />
<line x1="419.4" y1="477.6071710754814" x2="422.2" y2="477.6071710754814" stroke="#000" stroke-width="1.1" />
<line x1="419.4" y1="476.2369934477082" x2="422.2" y2="476.2369934477082" stroke="#000" stroke-width="1.1" />
<line x1="419.4" y1="475.0500915995649" x2="422.2" y2="475.0500915995649" stroke="#000" stroke-width="1.1" />
<line x1="419.4" y1="474.00316997347517" x2="422.2" y2="474.00316997347517" stroke="#000" stroke-width="1.1" />
<line x1="418.0" y1="493.53333333333336" x2="422.2" y2="493.53333333333336" stroke="#000" stroke-width="1.7" />
<text x="417.4" y="498.03333333333336" font-size="13.4" font-weight="bold" text-anchor="end" fill="#000"  stroke="#000" stroke-width="0.3">10</text>
<line x1="419.4" y1="507.8389194220772" x2="422.2" y2="507.8389194220772" stroke="#000" stroke-width="1.1" />
<line x1="419.4" y1="504.23491832007096" x2="422.2" y2="504.23491832007096" stroke="#000" stroke-width="1.1" />
<line x1="419.4" y1="501.6778388441544" x2="422.2" y2="501.6778388441544" stroke="#000" stroke-width="1.1" />
<line x1="419.4" y1="499.69441391125616" x2="422.2" y2="499.69441391125616" stroke="#000" stroke-width="1.1" />
<line x1="419.4" y1="498.0738377421481" x2="422.2" y2="498.0738377421481" stroke="#000" stroke-width="1.1" />
<line x1="419.4" y1="496.7036601143749" x2="422.2" y2="496.7036601143749" stroke="#000" stroke-width="1.1" />
<line x1="419.4" y1="495.5167582662316" x2="422.2" y2="495.5167582662316" stroke="#000" stroke-width="1.1" />
<line x1="419.4" y1="494.46983664014186" x2="422.2" y2="494.46983664014186" stroke="#000" stroke-width="1.1" />
<line x1="418.0" y1="514.0" x2="422.2" y2="514.0" stroke="#000" stroke-width="1.7" />
<text x="417.4" y="518.5" font-size="13.4" font-weight="bold" text-anchor="end" fill="#000"  stroke="#000" stroke-width="0.3">1</text>
<line x1="419.4" y1="528.3055860887439" x2="422.2" y2="528.3055860887439" stroke="#000" stroke-width="1.1" />
<line x1="419.4" y1="524.7015849867375" x2="422.2" y2="524.7015849867375" stroke="#000" stroke-width="1.1" />
<line x1="419.4" y1="522.144505510821" x2="422.2" y2="522.144505510821" stroke="#000" stroke-width="1.1" />
<line x1="419.4" y1="520.1610805779228" x2="422.2" y2="520.1610805779228" stroke="#000" stroke-width="1.1" />
<line x1="419.4" y1="518.5405044088147" x2="422.2" y2="518.5405044088147" stroke="#000" stroke-width="1.1" />
<line x1="419.4" y1="517.1703267810416" x2="422.2" y2="517.1703267810416" stroke="#000" stroke-width="1.1" />
<line x1="419.4" y1="515.9834249328982" x2="422.2" y2="515.9834249328982" stroke="#000" stroke-width="1.1" />
<line x1="419.4" y1="514.9365033068085" x2="422.2" y2="514.9365033068085" stroke="#000" stroke-width="1.1" />
<line x1="418.0" y1="534.4666666666667" x2="422.2" y2="534.4666666666667" stroke="#000" stroke-width="1.7" />
<text x="417.4" y="538.9666666666667" font-size="13.4" font-weight="bold" text-anchor="end" fill="#000"  stroke="#000" stroke-width="0.3">0.1</text>
<line x1="419.4" y1="548.7722527554106" x2="422.2" y2="548.7722527554106" stroke="#000" stroke-width="1.1" />
<line x1="419.4" y1="545.1682516534042" x2="422.2" y2="545.1682516534042" stroke="#000" stroke-width="1.1" />
<line x1="419.4" y1="542.6111721774877" x2="422.2" y2="542.6111721774877" stroke="#000" stroke-width="1.1" />
<line x1="419.4" y1="540.6277472445895" x2="422.2" y2="540.6277472445895" stroke="#000" stroke-width="1.1" />
<line x1="419.4" y1="539.0071710754814" x2="422.2" y2="539.0071710754814" stroke="#000" stroke-width="1.1" />
<line x1="419.4" y1="537.6369934477083" x2="422.2" y2="537.6369934477083" stroke="#000" stroke-width="1.1" />
<line x1="419.4" y1="536.4500915995649" x2="422.2" y2="536.4500915995649" stroke="#000" stroke-width="1.1" />
<line x1="419.4" y1="535.4031699734752" x2="422.2" y2="535.4031699734752" stroke="#000" stroke-width="1.1" />
<line x1="418.0" y1="554.9333333333333" x2="422.2" y2="554.9333333333333" stroke="#000" stroke-width="1.7" />
<text x="417.4" y="559.4333333333333" font-size="13.4" font-weight="bold" text-anchor="end" fill="#000"  stroke="#000" stroke-width="0.3">0.01</text>
<line x1="419.4" y1="569.2389194220772" x2="422.2" y2="569.2389194220772" stroke="#000" stroke-width="1.1" />
<line x1="419.4" y1="565.6349183200708" x2="422.2" y2="565.6349183200708" stroke="#000" stroke-width="1.1" />
<line x1="419.4" y1="563.0778388441543" x2="422.2" y2="563.0778388441543" stroke="#000" stroke-width="1.1" />
<line x1="419.4" y1="561.0944139112561" x2="422.2" y2="561.0944139112561" stroke="#000" stroke-width="1.1" />
<line x1="419.4" y1="559.473837742148" x2="422.2" y2="559.473837742148" stroke="#000" stroke-width="1.1" />
<line x1="419.4" y1="558.1036601143749" x2="422.2" y2="558.1036601143749" stroke="#000" stroke-width="1.1" />
<line x1="419.4" y1="556.9167582662315" x2="422.2" y2="556.9167582662315" stroke="#000" stroke-width="1.1" />
<line x1="419.4" y1="555.8698366401418" x2="422.2" y2="555.8698366401418" stroke="#000" stroke-width="1.1" />
<line x1="418.0" y1="575.4" x2="422.2" y2="575.4" stroke="#000" stroke-width="1.7" />
<text x="417.4" y="579.9" font-size="13.4" font-weight="bold" text-anchor="end" fill="#000"  stroke="#000" stroke-width="0.3">0.001</text>
<line x1="421.5" y1="575.4" x2="503.9" y2="575.4" stroke="#000" stroke-width="2.2" />
<line x1="443.3" y1="575.4" x2="443.3" y2="579.5" stroke="#000" stroke-width="1.6" />
<line x1="484.5" y1="575.4" x2="484.5" y2="579.5" stroke="#000" stroke-width="1.6" />
<text x="444.2" y="592.3" font-size="13.5" font-weight="bold" text-anchor="middle" fill="#000"  stroke="#000" stroke-width="0.3">Tx-</text>
<text x="484.6" y="592.3" font-size="13.5" font-weight="bold" text-anchor="middle" fill="#000"  stroke="#000" stroke-width="0.3">Tx+</text>
<line x1="442.8" y1="456.3" x2="484.6" y2="456.3" stroke="#000" stroke-width="2.0" />
<line x1="442.8" y1="452.0" x2="442.8" y2="460.6" stroke="#000" stroke-width="1.8" />
<line x1="484.6" y1="452.0" x2="484.6" y2="460.6" stroke="#000" stroke-width="1.8" />
<text x="466.1" y="450" font-size="13.1" font-weight="normal" text-anchor="middle" fill="#000"  stroke="#000" stroke-width="0.18">p=0.42</text>
<line x1="443.3" y1="474.7" x2="484.3" y2="468.9" stroke="#000" stroke-width="1.25" />
<line x1="443.3" y1="476.5" x2="484.3" y2="473.5" stroke="#000" stroke-width="1.25" />
<line x1="443.3" y1="478" x2="484.3" y2="478.2" stroke="#000" stroke-width="1.25" />
<line x1="443.3" y1="479.5" x2="484.3" y2="480.5" stroke="#000" stroke-width="1.25" />
<line x1="443.3" y1="481" x2="484.3" y2="483.3" stroke="#000" stroke-width="1.25" />
<line x1="443.3" y1="483" x2="484.3" y2="480" stroke="#000" stroke-width="1.25" />
<line x1="443.3" y1="485" x2="484.3" y2="489.7" stroke="#000" stroke-width="1.25" />
<line x1="443.3" y1="490.5" x2="484.3" y2="486.8" stroke="#000" stroke-width="1.25" />
<line x1="443.3" y1="492" x2="484.3" y2="492.6" stroke="#000" stroke-width="1.25" />
<line x1="443.3" y1="494" x2="484.3" y2="495.5" stroke="#000" stroke-width="1.25" />
<line x1="443.3" y1="496" x2="484.3" y2="497.8" stroke="#000" stroke-width="1.25" />
<line x1="443.3" y1="497.5" x2="484.3" y2="492.6" stroke="#000" stroke-width="1.25" />
<line x1="443.3" y1="499" x2="484.3" y2="500.1" stroke="#000" stroke-width="1.25" />
<line x1="443.3" y1="501" x2="484.3" y2="506.4" stroke="#000" stroke-width="1.25" />
<line x1="443.3" y1="503" x2="484.3" y2="503" stroke="#000" stroke-width="1.25" />
<line x1="443.3" y1="505" x2="484.3" y2="509.3" stroke="#000" stroke-width="1.25" />
<line x1="443.3" y1="507" x2="484.3" y2="506.4" stroke="#000" stroke-width="1.25" />
<line x1="443.3" y1="509" x2="484.3" y2="512.8" stroke="#000" stroke-width="1.25" />
<line x1="443.3" y1="510.5" x2="484.3" y2="486.8" stroke="#000" stroke-width="1.25" />
<line x1="443.3" y1="512" x2="484.3" y2="516.2" stroke="#000" stroke-width="1.25" />
<line x1="443.3" y1="514" x2="484.3" y2="512.8" stroke="#000" stroke-width="1.25" />
<line x1="443.3" y1="516.2" x2="484.3" y2="509.3" stroke="#000" stroke-width="1.25" />
<line x1="443.3" y1="524" x2="484.3" y2="558.7" stroke="#000" stroke-width="1.25" />
<circle cx="443.3" cy="474.7" r="2.5" fill="#000" stroke="none" stroke-width="1"/>
<circle cx="443.3" cy="476.5" r="2.5" fill="#000" stroke="none" stroke-width="1"/>
<circle cx="443.3" cy="478.0" r="2.5" fill="#000" stroke="none" stroke-width="1"/>
<circle cx="443.3" cy="479.5" r="2.5" fill="#000" stroke="none" stroke-width="1"/>
<circle cx="443.3" cy="481.0" r="2.5" fill="#000" stroke="none" stroke-width="1"/>
<circle cx="443.3" cy="483.0" r="2.5" fill="#000" stroke="none" stroke-width="1"/>
<circle cx="443.3" cy="485.0" r="2.5" fill="#000" stroke="none" stroke-width="1"/>
<circle cx="443.3" cy="490.5" r="2.5" fill="#000" stroke="none" stroke-width="1"/>
<circle cx="443.3" cy="492.0" r="2.5" fill="#000" stroke="none" stroke-width="1"/>
<circle cx="443.3" cy="494.0" r="2.5" fill="#000" stroke="none" stroke-width="1"/>
<circle cx="443.3" cy="496.0" r="2.5" fill="#000" stroke="none" stroke-width="1"/>
<circle cx="443.3" cy="497.5" r="2.5" fill="#000" stroke="none" stroke-width="1"/>
<circle cx="443.3" cy="499.0" r="2.5" fill="#000" stroke="none" stroke-width="1"/>
<circle cx="443.3" cy="501.0" r="2.5" fill="#000" stroke="none" stroke-width="1"/>
<circle cx="443.3" cy="503.0" r="2.5" fill="#000" stroke="none" stroke-width="1"/>
<circle cx="443.3" cy="505.0" r="2.5" fill="#000" stroke="none" stroke-width="1"/>
<circle cx="443.3" cy="507.0" r="2.5" fill="#000" stroke="none" stroke-width="1"/>
<circle cx="443.3" cy="509.0" r="2.5" fill="#000" stroke="none" stroke-width="1"/>
<circle cx="443.3" cy="510.5" r="2.5" fill="#000" stroke="none" stroke-width="1"/>
<circle cx="443.3" cy="512.0" r="2.5" fill="#000" stroke="none" stroke-width="1"/>
<circle cx="443.3" cy="514.0" r="2.5" fill="#000" stroke="none" stroke-width="1"/>
<circle cx="443.3" cy="516.2" r="2.5" fill="#000" stroke="none" stroke-width="1"/>
<circle cx="443.3" cy="524.0" r="2.5" fill="#000" stroke="none" stroke-width="1"/>
<circle cx="484.3" cy="468.9" r="2.2" fill="#fff" stroke="#000" stroke-width="0.9"/>
<circle cx="484.3" cy="473.5" r="2.2" fill="#fff" stroke="#000" stroke-width="0.9"/>
<circle cx="484.3" cy="478.2" r="2.2" fill="#fff" stroke="#000" stroke-width="0.9"/>
<circle cx="484.3" cy="480.5" r="2.2" fill="#fff" stroke="#000" stroke-width="0.9"/>
<circle cx="484.3" cy="483.3" r="2.2" fill="#fff" stroke="#000" stroke-width="0.9"/>
<circle cx="484.3" cy="480.0" r="2.2" fill="#fff" stroke="#000" stroke-width="0.9"/>
<circle cx="484.3" cy="489.7" r="2.2" fill="#fff" stroke="#000" stroke-width="0.9"/>
<circle cx="484.3" cy="486.8" r="2.2" fill="#fff" stroke="#000" stroke-width="0.9"/>
<circle cx="484.3" cy="492.6" r="2.2" fill="#fff" stroke="#000" stroke-width="0.9"/>
<circle cx="484.3" cy="495.5" r="2.2" fill="#fff" stroke="#000" stroke-width="0.9"/>
<circle cx="484.3" cy="497.8" r="2.2" fill="#fff" stroke="#000" stroke-width="0.9"/>
<circle cx="484.3" cy="492.6" r="2.2" fill="#fff" stroke="#000" stroke-width="0.9"/>
<circle cx="484.3" cy="500.1" r="2.2" fill="#fff" stroke="#000" stroke-width="0.9"/>
<circle cx="484.3" cy="506.4" r="2.2" fill="#fff" stroke="#000" stroke-width="0.9"/>
<circle cx="484.3" cy="503.0" r="2.2" fill="#fff" stroke="#000" stroke-width="0.9"/>
<circle cx="484.3" cy="509.3" r="2.2" fill="#fff" stroke="#000" stroke-width="0.9"/>
<circle cx="484.3" cy="506.4" r="2.2" fill="#fff" stroke="#000" stroke-width="0.9"/>
<circle cx="484.3" cy="512.8" r="2.2" fill="#fff" stroke="#000" stroke-width="0.9"/>
<circle cx="484.3" cy="486.8" r="2.2" fill="#fff" stroke="#000" stroke-width="0.9"/>
<circle cx="484.3" cy="516.2" r="2.2" fill="#fff" stroke="#000" stroke-width="0.9"/>
<circle cx="484.3" cy="512.8" r="2.2" fill="#fff" stroke="#000" stroke-width="0.9"/>
<circle cx="484.3" cy="509.3" r="2.2" fill="#fff" stroke="#000" stroke-width="0.9"/>
<circle cx="484.3" cy="558.7" r="2.2" fill="#fff" stroke="#000" stroke-width="0.9"/>
<text x="72" y="649" font-size="17" font-weight="bold" text-anchor="start" fill="#000"  stroke="#000" stroke-width="0.3">F</text>
<text transform="translate(103.8,721.0) rotate(-90)" font-size="13.0" font-weight="bold" text-anchor="middle" stroke="#000" stroke-width="0.3">CD161+ V<tspan font-weight="normal" font-style="italic" stroke-width="0.15">α</tspan>7.2+ MAIT cells</text>
<text transform="translate(120.6,720.3) rotate(-90)" font-size="12.6" font-weight="bold" text-anchor="middle" fill="#000"  stroke="#000" stroke-width="0.3">(% of T cells)</text>
<line x1="159.9" y1="660.8" x2="159.9" y2="785" stroke="#000" stroke-width="2.4" />
<line x1="155.70000000000002" y1="661.8" x2="159.9" y2="661.8" stroke="#000" stroke-width="1.7" />
<text x="155.1" y="666.3" font-size="13.4" font-weight="bold" text-anchor="end" fill="#000"  stroke="#000" stroke-width="0.3">100</text>
<line x1="157.1" y1="678.8828269059723" x2="159.9" y2="678.8828269059723" stroke="#000" stroke-width="1.1" />
<line x1="157.1" y1="674.5791565346514" x2="159.9" y2="674.5791565346514" stroke="#000" stroke-width="1.1" />
<line x1="157.1" y1="671.5256538119446" x2="159.9" y2="671.5256538119446" stroke="#000" stroke-width="1.1" />
<line x1="157.1" y1="669.1571730940277" x2="159.9" y2="669.1571730940277" stroke="#000" stroke-width="1.1" />
<line x1="157.1" y1="667.2219834406237" x2="159.9" y2="667.2219834406237" stroke="#000" stroke-width="1.1" />
<line x1="157.1" y1="665.5858039020516" x2="159.9" y2="665.5858039020516" stroke="#000" stroke-width="1.1" />
<line x1="157.1" y1="664.1684807179169" x2="159.9" y2="664.1684807179169" stroke="#000" stroke-width="1.1" />
<line x1="157.1" y1="662.9183130693028" x2="159.9" y2="662.9183130693028" stroke="#000" stroke-width="1.1" />
<line x1="155.70000000000002" y1="686.24" x2="159.9" y2="686.24" stroke="#000" stroke-width="1.7" />
<text x="155.1" y="690.74" font-size="13.4" font-weight="bold" text-anchor="end" fill="#000"  stroke="#000" stroke-width="0.3">10</text>
<line x1="157.1" y1="703.3228269059723" x2="159.9" y2="703.3228269059723" stroke="#000" stroke-width="1.1" />
<line x1="157.1" y1="699.0191565346514" x2="159.9" y2="699.0191565346514" stroke="#000" stroke-width="1.1" />
<line x1="157.1" y1="695.9656538119447" x2="159.9" y2="695.9656538119447" stroke="#000" stroke-width="1.1" />
<line x1="157.1" y1="693.5971730940278" x2="159.9" y2="693.5971730940278" stroke="#000" stroke-width="1.1" />
<line x1="157.1" y1="691.6619834406238" x2="159.9" y2="691.6619834406238" stroke="#000" stroke-width="1.1" />
<line x1="157.1" y1="690.0258039020516" x2="159.9" y2="690.0258039020516" stroke="#000" stroke-width="1.1" />
<line x1="157.1" y1="688.6084807179169" x2="159.9" y2="688.6084807179169" stroke="#000" stroke-width="1.1" />
<line x1="157.1" y1="687.3583130693029" x2="159.9" y2="687.3583130693029" stroke="#000" stroke-width="1.1" />
<line x1="155.70000000000002" y1="710.68" x2="159.9" y2="710.68" stroke="#000" stroke-width="1.7" />
<text x="155.1" y="715.18" font-size="13.4" font-weight="bold" text-anchor="end" fill="#000"  stroke="#000" stroke-width="0.3">1</text>
<line x1="157.1" y1="727.7628269059722" x2="159.9" y2="727.7628269059722" stroke="#000" stroke-width="1.1" />
<line x1="157.1" y1="723.4591565346514" x2="159.9" y2="723.4591565346514" stroke="#000" stroke-width="1.1" />
<line x1="157.1" y1="720.4056538119446" x2="159.9" y2="720.4056538119446" stroke="#000" stroke-width="1.1" />
<line x1="157.1" y1="718.0371730940277" x2="159.9" y2="718.0371730940277" stroke="#000" stroke-width="1.1" />
<line x1="157.1" y1="716.1019834406237" x2="159.9" y2="716.1019834406237" stroke="#000" stroke-width="1.1" />
<line x1="157.1" y1="714.4658039020516" x2="159.9" y2="714.4658039020516" stroke="#000" stroke-width="1.1" />
<line x1="157.1" y1="713.0484807179168" x2="159.9" y2="713.0484807179168" stroke="#000" stroke-width="1.1" />
<line x1="157.1" y1="711.7983130693028" x2="159.9" y2="711.7983130693028" stroke="#000" stroke-width="1.1" />
<line x1="155.70000000000002" y1="735.12" x2="159.9" y2="735.12" stroke="#000" stroke-width="1.7" />
<text x="155.1" y="739.62" font-size="13.4" font-weight="bold" text-anchor="end" fill="#000"  stroke="#000" stroke-width="0.3">0.1</text>
<line x1="157.1" y1="752.2028269059723" x2="159.9" y2="752.2028269059723" stroke="#000" stroke-width="1.1" />
<line x1="157.1" y1="747.8991565346514" x2="159.9" y2="747.8991565346514" stroke="#000" stroke-width="1.1" />
<line x1="157.1" y1="744.8456538119447" x2="159.9" y2="744.8456538119447" stroke="#000" stroke-width="1.1" />
<line x1="157.1" y1="742.4771730940278" x2="159.9" y2="742.4771730940278" stroke="#000" stroke-width="1.1" />
<line x1="157.1" y1="740.5419834406238" x2="159.9" y2="740.5419834406238" stroke="#000" stroke-width="1.1" />
<line x1="157.1" y1="738.9058039020516" x2="159.9" y2="738.9058039020516" stroke="#000" stroke-width="1.1" />
<line x1="157.1" y1="737.4884807179169" x2="159.9" y2="737.4884807179169" stroke="#000" stroke-width="1.1" />
<line x1="157.1" y1="736.2383130693029" x2="159.9" y2="736.2383130693029" stroke="#000" stroke-width="1.1" />
<line x1="155.70000000000002" y1="759.56" x2="159.9" y2="759.56" stroke="#000" stroke-width="1.7" />
<text x="155.1" y="764.06" font-size="13.4" font-weight="bold" text-anchor="end" fill="#000"  stroke="#000" stroke-width="0.3">0.01</text>
<line x1="157.1" y1="776.6428269059722" x2="159.9" y2="776.6428269059722" stroke="#000" stroke-width="1.1" />
<line x1="157.1" y1="772.3391565346514" x2="159.9" y2="772.3391565346514" stroke="#000" stroke-width="1.1" />
<line x1="157.1" y1="769.2856538119446" x2="159.9" y2="769.2856538119446" stroke="#000" stroke-width="1.1" />
<line x1="157.1" y1="766.9171730940277" x2="159.9" y2="766.9171730940277" stroke="#000" stroke-width="1.1" />
<line x1="157.1" y1="764.9819834406237" x2="159.9" y2="764.9819834406237" stroke="#000" stroke-width="1.1" />
<line x1="157.1" y1="763.3458039020516" x2="159.9" y2="763.3458039020516" stroke="#000" stroke-width="1.1" />
<line x1="157.1" y1="761.9284807179168" x2="159.9" y2="761.9284807179168" stroke="#000" stroke-width="1.1" />
<line x1="157.1" y1="760.6783130693028" x2="159.9" y2="760.6783130693028" stroke="#000" stroke-width="1.1" />
<line x1="155.70000000000002" y1="784.0" x2="159.9" y2="784.0" stroke="#000" stroke-width="1.7" />
<text x="155.1" y="788.5" font-size="13.4" font-weight="bold" text-anchor="end" fill="#000"  stroke="#000" stroke-width="0.3">0.001</text>
<line x1="159" y1="784" x2="242" y2="784" stroke="#000" stroke-width="2.2" />
<line x1="181.1" y1="784" x2="181.1" y2="788" stroke="#000" stroke-width="1.6" />
<line x1="221" y1="784" x2="221" y2="788" stroke="#000" stroke-width="1.6" />
<text x="181.6" y="801.3" font-size="13.5" font-weight="bold" text-anchor="middle" fill="#000"  stroke="#000" stroke-width="0.3">Tx-</text>
<text x="222.2" y="801.3" font-size="13.5" font-weight="bold" text-anchor="middle" fill="#000"  stroke="#000" stroke-width="0.3">Tx+</text>
<line x1="180.5" y1="671.9" x2="221.4" y2="671.9" stroke="#000" stroke-width="2.0" />
<line x1="180.5" y1="667.5" x2="180.5" y2="676.3" stroke="#000" stroke-width="1.8" />
<line x1="221.4" y1="667.5" x2="221.4" y2="676.3" stroke="#000" stroke-width="1.8" />
<text x="201.8" y="662.2" font-size="13.1" font-weight="normal" text-anchor="middle" fill="#000"  stroke="#000" stroke-width="0.18">p=0.19</text>
<line x1="180.9" y1="689.5" x2="221.5" y2="700" stroke="#000" stroke-width="1.25" />
<line x1="180.9" y1="691" x2="221.5" y2="702.9" stroke="#000" stroke-width="1.25" />
<line x1="180.9" y1="693" x2="221.5" y2="690.7" stroke="#000" stroke-width="1.25" />
<line x1="180.9" y1="695" x2="221.5" y2="684.9" stroke="#000" stroke-width="1.25" />
<line x1="180.9" y1="697" x2="221.5" y2="704.7" stroke="#000" stroke-width="1.25" />
<line x1="180.9" y1="699" x2="221.5" y2="700" stroke="#000" stroke-width="1.25" />
<line x1="180.9" y1="701" x2="221.5" y2="702" stroke="#000" stroke-width="1.25" />
<line x1="180.9" y1="703" x2="221.5" y2="704" stroke="#000" stroke-width="1.25" />
<line x1="180.9" y1="705" x2="221.5" y2="700.5" stroke="#000" stroke-width="1.25" />
<line x1="180.9" y1="709" x2="221.5" y2="712.2" stroke="#000" stroke-width="1.25" />
<line x1="180.9" y1="711" x2="221.5" y2="731.4" stroke="#000" stroke-width="1.25" />
<line x1="180.9" y1="713" x2="221.5" y2="712.2" stroke="#000" stroke-width="1.25" />
<line x1="180.9" y1="715" x2="221.5" y2="717.4" stroke="#000" stroke-width="1.25" />
<line x1="180.9" y1="717" x2="221.5" y2="712.8" stroke="#000" stroke-width="1.25" />
<line x1="180.9" y1="719" x2="221.5" y2="720.9" stroke="#000" stroke-width="1.25" />
<line x1="180.9" y1="721" x2="221.5" y2="717.4" stroke="#000" stroke-width="1.25" />
<line x1="180.9" y1="723" x2="221.5" y2="723.8" stroke="#000" stroke-width="1.25" />
<line x1="180.9" y1="725" x2="221.5" y2="727.3" stroke="#000" stroke-width="1.25" />
<line x1="180.9" y1="727" x2="221.5" y2="731" stroke="#000" stroke-width="1.25" />
<line x1="180.9" y1="735" x2="221.5" y2="704.7" stroke="#000" stroke-width="1.25" />
<line x1="180.9" y1="737" x2="221.5" y2="735.5" stroke="#000" stroke-width="1.25" />
<line x1="180.9" y1="739" x2="221.5" y2="731.4" stroke="#000" stroke-width="1.25" />
<line x1="180.9" y1="741" x2="221.5" y2="740.7" stroke="#000" stroke-width="1.25" />
<line x1="180.9" y1="743" x2="221.5" y2="735.5" stroke="#000" stroke-width="1.25" />
<line x1="180.9" y1="746.5" x2="221.5" y2="761.6" stroke="#000" stroke-width="1.25" />
<circle cx="180.9" cy="689.5" r="2.5" fill="#000" stroke="none" stroke-width="1"/>
<circle cx="180.9" cy="691.0" r="2.5" fill="#000" stroke="none" stroke-width="1"/>
<circle cx="180.9" cy="693.0" r="2.5" fill="#000" stroke="none" stroke-width="1"/>
<circle cx="180.9" cy="695.0" r="2.5" fill="#000" stroke="none" stroke-width="1"/>
<circle cx="180.9" cy="697.0" r="2.5" fill="#000" stroke="none" stroke-width="1"/>
<circle cx="180.9" cy="699.0" r="2.5" fill="#000" stroke="none" stroke-width="1"/>
<circle cx="180.9" cy="701.0" r="2.5" fill="#000" stroke="none" stroke-width="1"/>
<circle cx="180.9" cy="703.0" r="2.5" fill="#000" stroke="none" stroke-width="1"/>
<circle cx="180.9" cy="705.0" r="2.5" fill="#000" stroke="none" stroke-width="1"/>
<circle cx="180.9" cy="709.0" r="2.5" fill="#000" stroke="none" stroke-width="1"/>
<circle cx="180.9" cy="711.0" r="2.5" fill="#000" stroke="none" stroke-width="1"/>
<circle cx="180.9" cy="713.0" r="2.5" fill="#000" stroke="none" stroke-width="1"/>
<circle cx="180.9" cy="715.0" r="2.5" fill="#000" stroke="none" stroke-width="1"/>
<circle cx="180.9" cy="717.0" r="2.5" fill="#000" stroke="none" stroke-width="1"/>
<circle cx="180.9" cy="719.0" r="2.5" fill="#000" stroke="none" stroke-width="1"/>
<circle cx="180.9" cy="721.0" r="2.5" fill="#000" stroke="none" stroke-width="1"/>
<circle cx="180.9" cy="723.0" r="2.5" fill="#000" stroke="none" stroke-width="1"/>
<circle cx="180.9" cy="725.0" r="2.5" fill="#000" stroke="none" stroke-width="1"/>
<circle cx="180.9" cy="727.0" r="2.5" fill="#000" stroke="none" stroke-width="1"/>
<circle cx="180.9" cy="735.0" r="2.5" fill="#000" stroke="none" stroke-width="1"/>
<circle cx="180.9" cy="737.0" r="2.5" fill="#000" stroke="none" stroke-width="1"/>
<circle cx="180.9" cy="739.0" r="2.5" fill="#000" stroke="none" stroke-width="1"/>
<circle cx="180.9" cy="741.0" r="2.5" fill="#000" stroke="none" stroke-width="1"/>
<circle cx="180.9" cy="743.0" r="2.5" fill="#000" stroke="none" stroke-width="1"/>
<circle cx="180.9" cy="746.5" r="2.5" fill="#000" stroke="none" stroke-width="1"/>
<circle cx="221.5" cy="700.0" r="2.2" fill="#fff" stroke="#000" stroke-width="0.9"/>
<circle cx="221.5" cy="702.9" r="2.2" fill="#fff" stroke="#000" stroke-width="0.9"/>
<circle cx="221.5" cy="690.7" r="2.2" fill="#fff" stroke="#000" stroke-width="0.9"/>
<circle cx="221.5" cy="684.9" r="2.2" fill="#fff" stroke="#000" stroke-width="0.9"/>
<circle cx="221.5" cy="704.7" r="2.2" fill="#fff" stroke="#000" stroke-width="0.9"/>
<circle cx="221.5" cy="700.0" r="2.2" fill="#fff" stroke="#000" stroke-width="0.9"/>
<circle cx="221.5" cy="702.0" r="2.2" fill="#fff" stroke="#000" stroke-width="0.9"/>
<circle cx="221.5" cy="704.0" r="2.2" fill="#fff" stroke="#000" stroke-width="0.9"/>
<circle cx="221.5" cy="700.5" r="2.2" fill="#fff" stroke="#000" stroke-width="0.9"/>
<circle cx="221.5" cy="712.2" r="2.2" fill="#fff" stroke="#000" stroke-width="0.9"/>
<circle cx="221.5" cy="731.4" r="2.2" fill="#fff" stroke="#000" stroke-width="0.9"/>
<circle cx="221.5" cy="712.2" r="2.2" fill="#fff" stroke="#000" stroke-width="0.9"/>
<circle cx="221.5" cy="717.4" r="2.2" fill="#fff" stroke="#000" stroke-width="0.9"/>
<circle cx="221.5" cy="712.8" r="2.2" fill="#fff" stroke="#000" stroke-width="0.9"/>
<circle cx="221.5" cy="720.9" r="2.2" fill="#fff" stroke="#000" stroke-width="0.9"/>
<circle cx="221.5" cy="717.4" r="2.2" fill="#fff" stroke="#000" stroke-width="0.9"/>
<circle cx="221.5" cy="723.8" r="2.2" fill="#fff" stroke="#000" stroke-width="0.9"/>
<circle cx="221.5" cy="727.3" r="2.2" fill="#fff" stroke="#000" stroke-width="0.9"/>
<circle cx="221.5" cy="731.0" r="2.2" fill="#fff" stroke="#000" stroke-width="0.9"/>
<circle cx="221.5" cy="704.7" r="2.2" fill="#fff" stroke="#000" stroke-width="0.9"/>
<circle cx="221.5" cy="735.5" r="2.2" fill="#fff" stroke="#000" stroke-width="0.9"/>
<circle cx="221.5" cy="731.4" r="2.2" fill="#fff" stroke="#000" stroke-width="0.9"/>
<circle cx="221.5" cy="740.7" r="2.2" fill="#fff" stroke="#000" stroke-width="0.9"/>
<circle cx="221.5" cy="735.5" r="2.2" fill="#fff" stroke="#000" stroke-width="0.9"/>
<circle cx="221.5" cy="761.6" r="2.2" fill="#fff" stroke="#000" stroke-width="0.9"/>
<text x="306.9" y="649" font-size="17" font-weight="bold" text-anchor="start" fill="#000"  stroke="#000" stroke-width="0.3">G</text>
<text transform="translate(316.7,719.3) rotate(-90)" font-size="13.3" font-weight="bold" text-anchor="middle" fill="#000"  stroke="#000" stroke-width="0.3">CD4 counts</text>
<text transform="translate(332.5,718.9) rotate(-90)" font-size="12.6" font-weight="bold" text-anchor="middle" fill="#000"  stroke="#000" stroke-width="0.3">(cells/µl)</text>
<line x1="372.2" y1="659.5" x2="372.2" y2="783.5" stroke="#000" stroke-width="2.0" />
<line x1="368" y1="660.5" x2="372.2" y2="660.5" stroke="#000" stroke-width="1.6" />
<text x="368.5" y="664.8" font-size="13.0" font-weight="bold" text-anchor="end" fill="#000"  stroke="#000" stroke-width="0.3">1500</text>
<line x1="369.8" y1="680.9" x2="372.2" y2="680.9" stroke="#000" stroke-width="1.2" />
<line x1="368" y1="701.3" x2="372.2" y2="701.3" stroke="#000" stroke-width="1.6" />
<text x="368.5" y="705.5999999999999" font-size="13.0" font-weight="bold" text-anchor="end" fill="#000"  stroke="#000" stroke-width="0.3">1000</text>
<line x1="369.8" y1="721.6999999999999" x2="372.2" y2="721.6999999999999" stroke="#000" stroke-width="1.2" />
<line x1="368" y1="742.1" x2="372.2" y2="742.1" stroke="#000" stroke-width="1.6" />
<text x="368.5" y="746.4" font-size="13.0" font-weight="bold" text-anchor="end" fill="#000"  stroke="#000" stroke-width="0.3">500</text>
<line x1="369.8" y1="762.5" x2="372.2" y2="762.5" stroke="#000" stroke-width="1.2" />
<line x1="368" y1="782.9" x2="372.2" y2="782.9" stroke="#000" stroke-width="1.6" />
<text x="368.5" y="787.1999999999999" font-size="13.0" font-weight="bold" text-anchor="end" fill="#000"  stroke="#000" stroke-width="0.3">0</text>
<line x1="371.5" y1="782.9" x2="463.4" y2="782.9" stroke="#000" stroke-width="2.0" />
<line x1="392.8" y1="782.9" x2="392.8" y2="787" stroke="#000" stroke-width="1.6" />
<line x1="433.3" y1="782.9" x2="433.3" y2="787" stroke="#000" stroke-width="1.6" />
<text x="394.3" y="801.3" font-size="13.5" font-weight="bold" text-anchor="middle" fill="#000"  stroke="#000" stroke-width="0.3">Tx-</text>
<text x="433.7" y="801.3" font-size="13.5" font-weight="bold" text-anchor="middle" fill="#000"  stroke="#000" stroke-width="0.3">Tx+</text>
<line x1="392.8" y1="673.3" x2="433.2" y2="673.3" stroke="#000" stroke-width="2.0" />
<line x1="392.8" y1="669.0" x2="392.8" y2="677.5999999999999" stroke="#000" stroke-width="1.8" />
<line x1="433.2" y1="669.0" x2="433.2" y2="677.5999999999999" stroke="#000" stroke-width="1.8" />
<text x="416.5" y="662.9" font-size="12.8" font-weight="normal" text-anchor="middle" fill="#000"  stroke="#000" stroke-width="0.18">p=0.0094</text>
<line x1="393" y1="712.7" x2="434" y2="719.5" stroke="#000" stroke-width="1.25" />
<line x1="393" y1="721.8" x2="434" y2="735.9" stroke="#000" stroke-width="1.25" />
<line x1="393" y1="724.3" x2="434" y2="753.7" stroke="#000" stroke-width="1.25" />
<line x1="393" y1="735.9" x2="434" y2="723.7" stroke="#000" stroke-width="1.25" />
<line x1="393" y1="738" x2="434" y2="726.7" stroke="#000" stroke-width="1.25" />
<line x1="393" y1="740" x2="434" y2="718.2" stroke="#000" stroke-width="1.25" />
<line x1="393" y1="742" x2="434" y2="733.5" stroke="#000" stroke-width="1.25" />
<line x1="393" y1="745" x2="434" y2="746.3" stroke="#000" stroke-width="1.25" />
<line x1="393" y1="748" x2="434" y2="738.4" stroke="#000" stroke-width="1.25" />
<line x1="393" y1="750" x2="434" y2="721.6" stroke="#000" stroke-width="1.25" />
<line x1="393" y1="752" x2="434" y2="743.3" stroke="#000" stroke-width="1.25" />
<line x1="393" y1="754" x2="434" y2="735.9" stroke="#000" stroke-width="1.25" />
<line x1="393" y1="756" x2="434" y2="750" stroke="#000" stroke-width="1.25" />
<line x1="393" y1="758" x2="434" y2="733.5" stroke="#000" stroke-width="1.25" />
<line x1="393" y1="760" x2="434" y2="746.3" stroke="#000" stroke-width="1.25" />
<line x1="393" y1="762" x2="434" y2="738.4" stroke="#000" stroke-width="1.25" />
<line x1="393" y1="764" x2="434" y2="743.3" stroke="#000" stroke-width="1.25" />
<line x1="393" y1="766" x2="434" y2="750" stroke="#000" stroke-width="1.25" />
<line x1="393" y1="768.4" x2="434" y2="762.2" stroke="#000" stroke-width="1.25" />
<line x1="393" y1="766" x2="434" y2="726.7" stroke="#000" stroke-width="1.25" />
<line x1="393" y1="777.5" x2="434" y2="777.5" stroke="#000" stroke-width="1.25" />
<line x1="393" y1="780.6" x2="434" y2="699.8" stroke="#000" stroke-width="1.25" />
<line x1="393" y1="780" x2="434" y2="753.7" stroke="#000" stroke-width="1.25" />
<line x1="393" y1="770" x2="434" y2="743.3" stroke="#000" stroke-width="1.25" />
<circle cx="393.0" cy="712.7" r="2.5" fill="#000" stroke="none" stroke-width="1"/>
<circle cx="393.0" cy="721.8" r="2.5" fill="#000" stroke="none" stroke-width="1"/>
<circle cx="393.0" cy="724.3" r="2.5" fill="#000" stroke="none" stroke-width="1"/>
<circle cx="393.0" cy="735.9" r="2.5" fill="#000" stroke="none" stroke-width="1"/>
<circle cx="393.0" cy="738.0" r="2.5" fill="#000" stroke="none" stroke-width="1"/>
<circle cx="393.0" cy="740.0" r="2.5" fill="#000" stroke="none" stroke-width="1"/>
<circle cx="393.0" cy="742.0" r="2.5" fill="#000" stroke="none" stroke-width="1"/>
<circle cx="393.0" cy="745.0" r="2.5" fill="#000" stroke="none" stroke-width="1"/>
<circle cx="393.0" cy="748.0" r="2.5" fill="#000" stroke="none" stroke-width="1"/>
<circle cx="393.0" cy="750.0" r="2.5" fill="#000" stroke="none" stroke-width="1"/>
<circle cx="393.0" cy="752.0" r="2.5" fill="#000" stroke="none" stroke-width="1"/>
<circle cx="393.0" cy="754.0" r="2.5" fill="#000" stroke="none" stroke-width="1"/>
<circle cx="393.0" cy="756.0" r="2.5" fill="#000" stroke="none" stroke-width="1"/>
<circle cx="393.0" cy="758.0" r="2.5" fill="#000" stroke="none" stroke-width="1"/>
<circle cx="393.0" cy="760.0" r="2.5" fill="#000" stroke="none" stroke-width="1"/>
<circle cx="393.0" cy="762.0" r="2.5" fill="#000" stroke="none" stroke-width="1"/>
<circle cx="393.0" cy="764.0" r="2.5" fill="#000" stroke="none" stroke-width="1"/>
<circle cx="393.0" cy="766.0" r="2.5" fill="#000" stroke="none" stroke-width="1"/>
<circle cx="393.0" cy="768.4" r="2.5" fill="#000" stroke="none" stroke-width="1"/>
<circle cx="393.0" cy="766.0" r="2.5" fill="#000" stroke="none" stroke-width="1"/>
<circle cx="393.0" cy="777.5" r="2.5" fill="#000" stroke="none" stroke-width="1"/>
<circle cx="393.0" cy="780.6" r="2.5" fill="#000" stroke="none" stroke-width="1"/>
<circle cx="393.0" cy="780.0" r="2.5" fill="#000" stroke="none" stroke-width="1"/>
<circle cx="393.0" cy="770.0" r="2.5" fill="#000" stroke="none" stroke-width="1"/>
<circle cx="434.0" cy="719.5" r="2.2" fill="#fff" stroke="#000" stroke-width="0.9"/>
<circle cx="434.0" cy="735.9" r="2.2" fill="#fff" stroke="#000" stroke-width="0.9"/>
<circle cx="434.0" cy="753.7" r="2.2" fill="#fff" stroke="#000" stroke-width="0.9"/>
<circle cx="434.0" cy="723.7" r="2.2" fill="#fff" stroke="#000" stroke-width="0.9"/>
<circle cx="434.0" cy="726.7" r="2.2" fill="#fff" stroke="#000" stroke-width="0.9"/>
<circle cx="434.0" cy="718.2" r="2.2" fill="#fff" stroke="#000" stroke-width="0.9"/>
<circle cx="434.0" cy="733.5" r="2.2" fill="#fff" stroke="#000" stroke-width="0.9"/>
<circle cx="434.0" cy="746.3" r="2.2" fill="#fff" stroke="#000" stroke-width="0.9"/>
<circle cx="434.0" cy="738.4" r="2.2" fill="#fff" stroke="#000" stroke-width="0.9"/>
<circle cx="434.0" cy="721.6" r="2.2" fill="#fff" stroke="#000" stroke-width="0.9"/>
<circle cx="434.0" cy="743.3" r="2.2" fill="#fff" stroke="#000" stroke-width="0.9"/>
<circle cx="434.0" cy="735.9" r="2.2" fill="#fff" stroke="#000" stroke-width="0.9"/>
<circle cx="434.0" cy="750.0" r="2.2" fill="#fff" stroke="#000" stroke-width="0.9"/>
<circle cx="434.0" cy="733.5" r="2.2" fill="#fff" stroke="#000" stroke-width="0.9"/>
<circle cx="434.0" cy="746.3" r="2.2" fill="#fff" stroke="#000" stroke-width="0.9"/>
<circle cx="434.0" cy="738.4" r="2.2" fill="#fff" stroke="#000" stroke-width="0.9"/>
<circle cx="434.0" cy="743.3" r="2.2" fill="#fff" stroke="#000" stroke-width="0.9"/>
<circle cx="434.0" cy="750.0" r="2.2" fill="#fff" stroke="#000" stroke-width="0.9"/>
<circle cx="434.0" cy="762.2" r="2.2" fill="#fff" stroke="#000" stroke-width="0.9"/>
<circle cx="434.0" cy="726.7" r="2.2" fill="#fff" stroke="#000" stroke-width="0.9"/>
<circle cx="434.0" cy="777.5" r="2.2" fill="#fff" stroke="#000" stroke-width="0.9"/>
<circle cx="434.0" cy="699.8" r="2.2" fill="#fff" stroke="#000" stroke-width="0.9"/>
<circle cx="434.0" cy="753.7" r="2.2" fill="#fff" stroke="#000" stroke-width="0.9"/>
<circle cx="434.0" cy="743.3" r="2.2" fill="#fff" stroke="#000" stroke-width="0.9"/>
</svg></body></html>
